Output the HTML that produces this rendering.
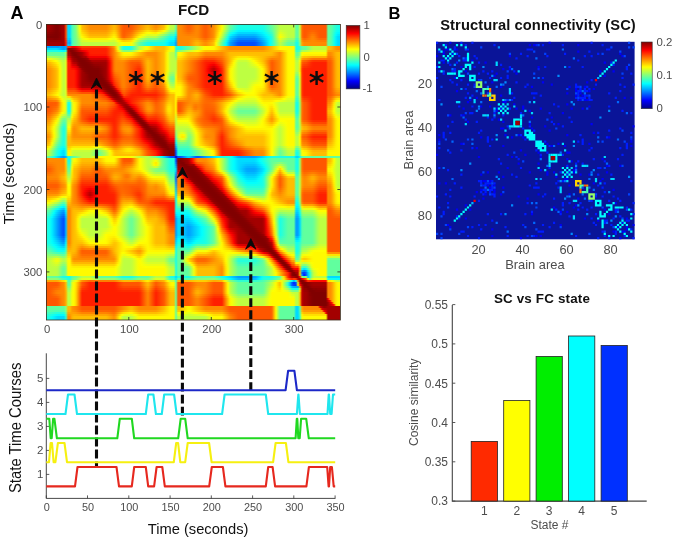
<!DOCTYPE html>
<html><head><meta charset="utf-8"><title>FCD figure</title>
<style>
html,body{margin:0;padding:0;background:#fff;}
body{width:675px;height:540px;overflow:hidden;position:relative;font-family:"Liberation Sans",sans-serif;}
#fcd{position:absolute;left:46px;top:24px;width:294.4px;height:296px;overflow:hidden;}
#fcdi{position:absolute;left:-4px;top:-4px;width:302.4px;height:304px;filter:blur(0.7px);}
#fcdi div{position:absolute;left:0;width:302.4px;height:2px;}
svg{position:absolute;left:0;top:0;}
text{font-family:"Liberation Sans",sans-serif;}
</style></head><body>
<div id="fcd"><div id="fcdi">
<div style="top:0px;background:linear-gradient(90deg,#a30000,#a30000,#a30000,#a30000,#9f0000,#970000,#8e0000,#850000,#840000,#900000,#9d0000,#a30000,#ff4e00,#00dbff,#00dbff,#40ffbf,#61ff9e,#82ff7d,#c2ff3d,#fffb00,#ffbc00,#ffb000,#ffa400,#ff9700,#ff8b00,#ff8a00,#ff8a00,#ff8a00,#ff8a00,#ff8a00,#ff8a00,#ff8a00,#ff8a00,#ff9300,#ff9f00,#ffab00,#ffb800,#ffae00,#ff9500,#ff7c00,#ff6300,#ff5700,#ff5700,#ff5700,#ff5700,#ff5c00,#ff6800,#ff7400,#ff8100,#ff8d00,#ff9a00,#ffa600,#ffb300,#ffba00,#ffae00,#ffa200,#ff9500,#ff8b00,#ff9700,#ffa300,#ffb000,#ffbc00,#ffe400,#f2ff0d,#c9ff36,#bdff42,#bdff42,#61ff9e,#ff8a00,#ff8a00,#ff8100,#ff7400,#ff6800,#ff5c00,#ff5e00,#ff6a00,#ff7700,#ff8300,#ff8400,#ff7800,#ff6b00,#ff5f00,#ff5b00,#ff6700,#ff7300,#ff8000,#ff8e00,#ffaa00,#ffc500,#ffe000,#fffb00,#dbff24,#b4ff4b,#8dff72,#65ff9a,#52ffad,#40ffbf,#2fffd0,#1effe1,#1affe5,#1affe5,#1affe5,#1affe5,#1affe5,#1affe5,#1affe5,#1affe5,#1affe5,#1affe5,#1affe5,#1affe5,#1fffe0,#30ffcf,#42ffbd,#53ffac,#65ff9a,#7bff84,#91ff6e,#a7ff58,#bdff42,#bdff42,#bdff42,#bdff42,#bdff42,#bdff42,#bdff42,#bdff42,#61ff9e,#61ff9e,#c8ff37,#ff6e00,#ff5700,#ff5700,#ff5700,#ff5700,#ff5700,#ff5700,#ff5700,#ff5700,#ff5700,#ff5700,#ff5700,#ff5700,#61ff9e,#61ff9e,#52ffad,#3cffc3,#25ffda,#1affe5,#1affe5,#1affe5,#1affe5)"></div>
<div style="top:2px;background:linear-gradient(90deg,#a30000,#a30000,#a30000,#a30000,#9f0000,#970000,#8e0000,#850000,#840000,#900000,#9d0000,#a30000,#ff4e00,#00dbff,#00dbff,#40ffbf,#61ff9e,#82ff7d,#c2ff3d,#fffb00,#ffbc00,#ffb000,#ffa400,#ff9700,#ff8b00,#ff8a00,#ff8a00,#ff8a00,#ff8a00,#ff8a00,#ff8a00,#ff8a00,#ff8a00,#ff9300,#ff9f00,#ffab00,#ffb800,#ffae00,#ff9500,#ff7c00,#ff6300,#ff5700,#ff5700,#ff5700,#ff5700,#ff5c00,#ff6800,#ff7400,#ff8100,#ff8d00,#ff9a00,#ffa600,#ffb300,#ffba00,#ffae00,#ffa200,#ff9500,#ff8b00,#ff9700,#ffa300,#ffb000,#ffbc00,#ffe400,#f2ff0d,#c9ff36,#bdff42,#bdff42,#61ff9e,#ff8a00,#ff8a00,#ff8100,#ff7400,#ff6800,#ff5c00,#ff5e00,#ff6a00,#ff7700,#ff8300,#ff8400,#ff7800,#ff6b00,#ff5f00,#ff5b00,#ff6700,#ff7300,#ff8000,#ff8e00,#ffaa00,#ffc500,#ffe000,#fffb00,#dbff24,#b4ff4b,#8dff72,#65ff9a,#52ffad,#40ffbf,#2fffd0,#1effe1,#1affe5,#1affe5,#1affe5,#1affe5,#1affe5,#1affe5,#1affe5,#1affe5,#1affe5,#1affe5,#1affe5,#1affe5,#1fffe0,#30ffcf,#42ffbd,#53ffac,#65ff9a,#7bff84,#91ff6e,#a7ff58,#bdff42,#bdff42,#bdff42,#bdff42,#bdff42,#bdff42,#bdff42,#bdff42,#61ff9e,#61ff9e,#c8ff37,#ff6e00,#ff5700,#ff5700,#ff5700,#ff5700,#ff5700,#ff5700,#ff5700,#ff5700,#ff5700,#ff5700,#ff5700,#ff5700,#61ff9e,#61ff9e,#52ffad,#3cffc3,#25ffda,#1affe5,#1affe5,#1affe5,#1affe5)"></div>
<div style="top:4px;background:linear-gradient(90deg,#a30000,#a30000,#a30000,#a30000,#9f0000,#970000,#8e0000,#850000,#840000,#900000,#9d0000,#a30000,#ff4e00,#00dbff,#00dbff,#40ffbf,#61ff9e,#82ff7d,#c2ff3d,#fffb00,#ffbc00,#ffb000,#ffa400,#ff9700,#ff8b00,#ff8a00,#ff8a00,#ff8a00,#ff8a00,#ff8a00,#ff8a00,#ff8a00,#ff8a00,#ff9300,#ff9f00,#ffab00,#ffb800,#ffae00,#ff9500,#ff7c00,#ff6300,#ff5700,#ff5700,#ff5700,#ff5700,#ff5c00,#ff6800,#ff7400,#ff8100,#ff8d00,#ff9a00,#ffa600,#ffb300,#ffba00,#ffae00,#ffa200,#ff9500,#ff8b00,#ff9700,#ffa300,#ffb000,#ffbc00,#ffe400,#f2ff0d,#c9ff36,#bdff42,#bdff42,#61ff9e,#ff8a00,#ff8a00,#ff8100,#ff7400,#ff6800,#ff5c00,#ff5e00,#ff6a00,#ff7700,#ff8300,#ff8400,#ff7800,#ff6b00,#ff5f00,#ff5b00,#ff6700,#ff7300,#ff8000,#ff8e00,#ffaa00,#ffc500,#ffe000,#fffb00,#dbff24,#b4ff4b,#8dff72,#65ff9a,#52ffad,#40ffbf,#2fffd0,#1effe1,#1affe5,#1affe5,#1affe5,#1affe5,#1affe5,#1affe5,#1affe5,#1affe5,#1affe5,#1affe5,#1affe5,#1affe5,#1fffe0,#30ffcf,#42ffbd,#53ffac,#65ff9a,#7bff84,#91ff6e,#a7ff58,#bdff42,#bdff42,#bdff42,#bdff42,#bdff42,#bdff42,#bdff42,#bdff42,#61ff9e,#61ff9e,#c8ff37,#ff6e00,#ff5700,#ff5700,#ff5700,#ff5700,#ff5700,#ff5700,#ff5700,#ff5700,#ff5700,#ff5700,#ff5700,#ff5700,#61ff9e,#61ff9e,#52ffad,#3cffc3,#25ffda,#1affe5,#1affe5,#1affe5,#1affe5)"></div>
<div style="top:6px;background:linear-gradient(90deg,#a30000,#a30000,#a30000,#a30000,#9f0000,#970000,#8e0000,#850000,#840000,#900000,#9d0000,#a30000,#ff4e00,#00dbff,#00dbff,#40ffbf,#61ff9e,#82ff7d,#c2ff3d,#fffb00,#ffbc00,#ffb000,#ffa400,#ff9700,#ff8b00,#ff8a00,#ff8a00,#ff8a00,#ff8a00,#ff8a00,#ff8a00,#ff8a00,#ff8a00,#ff9300,#ff9f00,#ffab00,#ffb800,#ffae00,#ff9500,#ff7c00,#ff6300,#ff5700,#ff5700,#ff5700,#ff5700,#ff5c00,#ff6800,#ff7400,#ff8100,#ff8d00,#ff9a00,#ffa600,#ffb300,#ffba00,#ffae00,#ffa200,#ff9500,#ff8b00,#ff9700,#ffa300,#ffb000,#ffbc00,#ffe400,#f2ff0d,#c9ff36,#bdff42,#bdff42,#61ff9e,#ff8a00,#ff8a00,#ff8100,#ff7400,#ff6800,#ff5c00,#ff5e00,#ff6a00,#ff7700,#ff8300,#ff8400,#ff7800,#ff6b00,#ff5f00,#ff5b00,#ff6700,#ff7300,#ff8000,#ff8e00,#ffaa00,#ffc500,#ffe000,#fffb00,#dbff24,#b4ff4b,#8dff72,#65ff9a,#52ffad,#40ffbf,#2fffd0,#1effe1,#1affe5,#1affe5,#1affe5,#1affe5,#1affe5,#1affe5,#1affe5,#1affe5,#1affe5,#1affe5,#1affe5,#1affe5,#1fffe0,#30ffcf,#42ffbd,#53ffac,#65ff9a,#7bff84,#91ff6e,#a7ff58,#bdff42,#bdff42,#bdff42,#bdff42,#bdff42,#bdff42,#bdff42,#bdff42,#61ff9e,#61ff9e,#c8ff37,#ff6e00,#ff5700,#ff5700,#ff5700,#ff5700,#ff5700,#ff5700,#ff5700,#ff5700,#ff5700,#ff5700,#ff5700,#ff5700,#61ff9e,#61ff9e,#52ffad,#3cffc3,#25ffda,#1affe5,#1affe5,#1affe5,#1affe5)"></div>
<div style="top:8px;background:linear-gradient(90deg,#a20000,#a20000,#a20000,#a20000,#9e0000,#960000,#8d0000,#850000,#840000,#900000,#9d0000,#a30000,#ff4e00,#00dbff,#00dbff,#40ffbf,#61ff9e,#82ff7d,#c1ff3e,#fffd00,#ffbf00,#ffb300,#ffa600,#ff9a00,#ff8d00,#ff8c00,#ff8c00,#ff8c00,#ff8c00,#ff8c00,#ff8c00,#ff8c00,#ff8c00,#ff9500,#ffa200,#ffae00,#ffbb00,#ffb000,#ff9700,#ff7d00,#ff6300,#ff5700,#ff5800,#ff5800,#ff5900,#ff5e00,#ff6b00,#ff7900,#ff8600,#ff9300,#ff9f00,#ffac00,#ffb900,#ffc100,#ffb500,#ffa900,#ff9d00,#ff9300,#ffa000,#ffad00,#ffba00,#ffc700,#ffee00,#e9ff16,#c1ff3e,#b5ff4a,#b5ff4a,#5bffa4,#ff8a00,#ff8a00,#ff8100,#ff7500,#ff6a00,#ff5e00,#ff6000,#ff6c00,#ff7800,#ff8300,#ff8400,#ff7800,#ff6b00,#ff5f00,#ff5b00,#ff6700,#ff7300,#ff8000,#ff8f00,#ffaa00,#ffc600,#ffe200,#ffff00,#d7ff28,#afff50,#87ff78,#5fffa0,#4bffb4,#3affc5,#29ffd6,#18ffe7,#14ffeb,#14ffeb,#14ffeb,#14ffeb,#14ffeb,#14ffeb,#14ffeb,#14ffeb,#14ffeb,#15ffea,#15ffea,#16ffe9,#1cffe3,#2dffd2,#3effc1,#4fffb0,#62ff9d,#7aff85,#91ff6e,#a9ff56,#c0ff3f,#bfff40,#beff41,#beff41,#bdff42,#bdff42,#bdff42,#bdff42,#61ff9e,#61ff9e,#c8ff37,#ff6e00,#ff5700,#ff5700,#ff5800,#ff5800,#ff5900,#ff5900,#ff5800,#ff5700,#ff5700,#ff5700,#ff5700,#ff5700,#61ff9e,#61ff9e,#52ffad,#3affc5,#23ffdc,#17ffe8,#17ffe8,#17ffe8,#17ffe8)"></div>
<div style="top:10px;background:linear-gradient(90deg,#990000,#990000,#990000,#990000,#960000,#900000,#8a0000,#840000,#840000,#900000,#9d0000,#a30000,#ff4e00,#00dbff,#00dbff,#40ffbf,#61ff9e,#7fff80,#bbff44,#f6ff09,#ffce00,#ffc100,#ffb400,#ffa700,#ff9a00,#ff9900,#ff9900,#ff9900,#ff9900,#ff9900,#ff9900,#ff9900,#ff9900,#ffa200,#ffaf00,#ffbc00,#ffc900,#ffbd00,#ffa000,#ff8200,#ff6500,#ff5900,#ff5c00,#ff6000,#ff6300,#ff6c00,#ff7d00,#ff8e00,#ff9e00,#ffae00,#ffbc00,#ffca00,#ffd800,#ffe200,#ffd900,#ffd000,#ffc700,#ffc000,#ffd000,#ffdf00,#ffee00,#fffd00,#deff21,#bbff44,#98ff67,#8dff72,#8dff72,#3affc5,#ff8a00,#ff8a00,#ff8300,#ff7a00,#ff7200,#ff6900,#ff6b00,#ff7300,#ff7c00,#ff8500,#ff8400,#ff7800,#ff6b00,#ff5f00,#ff5b00,#ff6700,#ff7300,#ff8000,#ff8f00,#ffaf00,#ffcf00,#fff000,#eeff11,#c2ff3d,#97ff68,#6bff94,#3fffc0,#2cffd3,#1bffe4,#0bfff4,#00f9ff,#00f5ff,#00f5ff,#00f5ff,#00f5ff,#00f5ff,#00f5ff,#00f5ff,#00f5ff,#00f7ff,#00fbff,#01fffe,#05fffa,#0dfff2,#1effe1,#2effd1,#3fffc0,#52ffad,#72ff8d,#92ff6d,#b3ff4c,#d1ff2e,#ccff33,#c7ff38,#c2ff3d,#bdff42,#bdff42,#bdff42,#bdff42,#61ff9e,#61ff9e,#c8ff37,#ff6e00,#ff5700,#ff5800,#ff5c00,#ff6000,#ff6400,#ff6300,#ff5e00,#ff5a00,#ff5700,#ff5700,#ff5700,#ff5700,#61ff9e,#61ff9e,#4fffb0,#33ffcc,#16ffe9,#08fff7,#08fff7,#08fff7,#08fff7)"></div>
<div style="top:12px;background:linear-gradient(90deg,#900000,#900000,#900000,#900000,#8e0000,#8a0000,#860000,#820000,#840000,#8a0000,#9d0000,#a30000,#ff4e00,#00dbff,#00dbff,#40ffbf,#61ff9e,#7dff82,#b4ff4b,#ebff14,#ffdd00,#ffcf00,#ffc200,#ffb400,#ffa600,#ffa500,#ffa500,#ffa500,#ffa500,#ffa500,#ffa500,#ffa500,#ffa500,#ffaf00,#ffbc00,#ffca00,#ffd800,#ffca00,#ffa900,#ff8800,#ff6700,#ff5a00,#ff6100,#ff6700,#ff6e00,#ff7a00,#ff8e00,#ffa300,#ffb700,#ffca00,#ffd900,#ffe800,#fff700,#fcff03,#fffd00,#fff700,#fff100,#ffed00,#ffff00,#edff12,#dcff23,#caff35,#acff53,#8eff71,#6fff90,#66ff99,#66ff99,#1affe5,#ff8a00,#ff8a00,#ff8500,#ff8000,#ff7a00,#ff7400,#ff7500,#ff7b00,#ff8100,#ff8700,#ff8400,#ff7800,#ff6b00,#ff5f00,#ff5b00,#ff6700,#ff7300,#ff8000,#ff9000,#ffb400,#ffd900,#fffd00,#dcff23,#adff52,#7eff81,#4fffb0,#1fffe0,#0cfff3,#00fbff,#00ebff,#00dbff,#00d7ff,#00d7ff,#00d7ff,#00d7ff,#00d7ff,#00d7ff,#00d7ff,#00d7ff,#00dbff,#00e3ff,#00ebff,#00f2ff,#00fdff,#0efff1,#1effe1,#2effd1,#42ffbd,#6bff94,#93ff6c,#bcff43,#e2ff1d,#d9ff26,#d0ff2f,#c7ff38,#beff41,#bdff42,#bdff42,#bdff42,#61ff9e,#61ff9e,#c8ff37,#ff6e00,#ff5700,#ff5900,#ff6000,#ff6700,#ff6f00,#ff6d00,#ff6500,#ff5d00,#ff5700,#ff5700,#ff5700,#ff5700,#61ff9e,#61ff9e,#4cffb3,#2bffd4,#0afff5,#00f8ff,#00f8ff,#00f8ff,#00f8ff)"></div>
<div style="top:14px;background:linear-gradient(90deg,#870000,#870000,#870000,#870000,#870000,#850000,#830000,#810000,#830000,#890000,#9d0000,#a30000,#ff4e00,#00dbff,#00dbff,#40ffbf,#61ff9e,#7bff84,#aeff51,#e0ff1f,#ffec00,#ffde00,#ffcf00,#ffc100,#ffb200,#ffb100,#ffb100,#ffb100,#ffb100,#ffb100,#ffb100,#ffb100,#ffb100,#ffbc00,#ffca00,#ffd800,#ffe700,#ffd600,#ffb200,#ff8d00,#ff6900,#ff5c00,#ff6500,#ff6f00,#ff7800,#ff8800,#ffa000,#ffb800,#ffd000,#ffe600,#fff600,#f8ff07,#e8ff17,#dbff24,#deff21,#e0ff1f,#e3ff1c,#e4ff1b,#d0ff2f,#bcff43,#a8ff57,#94ff6b,#7aff85,#60ff9f,#46ffb9,#3effc1,#3effc1,#00f9ff,#ff8a00,#ff8a00,#ff8800,#ff8500,#ff8200,#ff7f00,#ff8000,#ff8300,#ff8500,#ff8800,#ff8400,#ff7800,#ff6b00,#ff5f00,#ff5b00,#ff6700,#ff7300,#ff8000,#ff9100,#ffb900,#ffe200,#f4ff0b,#cbff34,#98ff67,#65ff9a,#32ffcd,#00feff,#00ebff,#00dcff,#00cdff,#00bdff,#00b9ff,#00b9ff,#00b9ff,#00b9ff,#00b9ff,#00b9ff,#00b9ff,#00b9ff,#00bfff,#00caff,#00d6ff,#00e1ff,#00eeff,#00fdff,#0efff1,#1dffe2,#32ffcd,#63ff9c,#94ff6b,#c5ff3a,#f4ff0b,#e6ff19,#d9ff26,#cbff34,#beff41,#bdff42,#bdff42,#bdff42,#61ff9e,#61ff9e,#c8ff37,#ff6e00,#ff5700,#ff5900,#ff6400,#ff6f00,#ff7a00,#ff7800,#ff6b00,#ff5f00,#ff5700,#ff5700,#ff5700,#ff5700,#61ff9e,#61ff9e,#49ffb6,#23ffdc,#00fdff,#00e9ff,#00e9ff,#00e9ff,#00e9ff)"></div>
<div style="top:16px;background:linear-gradient(90deg,#810000,#810000,#810000,#810000,#810000,#810000,#810000,#810000,#820000,#8c0000,#9d0000,#a30000,#ff4d00,#00daff,#00daff,#40ffbf,#61ff9e,#79ff86,#a7ff58,#d5ff2a,#fffc00,#ffed00,#ffdf00,#ffd000,#ffc200,#ffc100,#ffc100,#ffc100,#ffc100,#ffc100,#ffc100,#ffc100,#ffc100,#ffcb00,#ffd900,#ffe800,#fff600,#ffe400,#ffbd00,#ff9600,#ff6f00,#ff6100,#ff6e00,#ff7a00,#ff8600,#ff9800,#ffb400,#ffcf00,#ffeb00,#faff05,#e9ff16,#d8ff27,#c6ff39,#b8ff47,#b8ff47,#b8ff47,#b8ff47,#b6ff49,#a1ff5e,#8bff74,#75ff8a,#5fffa0,#4affb5,#34ffcb,#1fffe0,#18ffe7,#18ffe7,#00daff,#ff8a00,#ff8a00,#ff8a00,#ff8a00,#ff8a00,#ff8a00,#ff8a00,#ff8a00,#ff8b00,#ff8b00,#ff8600,#ff7900,#ff6d00,#ff6100,#ff5c00,#ff6800,#ff7500,#ff8100,#ff9300,#ffc000,#ffec00,#e5ff1a,#b8ff47,#82ff7d,#4cffb3,#16ffe9,#00dfff,#00ccff,#00bdff,#00aeff,#009fff,#009cff,#009cff,#009cff,#009cff,#009cff,#009cff,#009cff,#009cff,#00a3ff,#00b2ff,#00c0ff,#00cfff,#00deff,#00eeff,#00fdff,#0dfff2,#24ffdb,#5cffa3,#94ff6b,#ccff33,#fffd00,#f0ff0f,#dfff20,#cdff32,#bcff43,#baff45,#baff45,#baff45,#5fffa0,#5fffa0,#c6ff39,#ff7000,#ff5800,#ff5b00,#ff6900,#ff7600,#ff8400,#ff8100,#ff7200,#ff6300,#ff5800,#ff5800,#ff5800,#ff5800,#61ff9e,#61ff9e,#46ffb9,#1cffe3,#00f1ff,#00dbff,#00dbff,#00dbff,#00dbff)"></div>
<div style="top:18px;background:linear-gradient(90deg,#8d0000,#8d0000,#8d0000,#8d0000,#8d0000,#8d0000,#870000,#860000,#890000,#8f0000,#9c0000,#a30000,#ff3b00,#00d2ff,#00c4ff,#3bffc4,#61ff9e,#75ff8a,#9cff63,#c3ff3c,#e9ff16,#f3ff0c,#fcff03,#fff900,#ffef00,#ffef00,#ffef00,#ffef00,#ffef00,#ffef00,#ffef00,#ffef00,#ffef00,#fff500,#ffff00,#f6ff09,#edff12,#fcff03,#ffe300,#ffc300,#ffa400,#ff9800,#ffa000,#ffa800,#ffaf00,#ffc100,#ffe100,#fdff02,#ddff22,#c2ff3d,#b0ff4f,#9fff60,#8dff72,#7fff80,#7fff80,#7fff80,#7fff80,#7eff81,#70ff8f,#62ff9d,#54ffab,#46ffb9,#32ffcd,#1dffe2,#09fff6,#02fffd,#02fffd,#00c4ff,#ff8a00,#ff8a00,#ff8a00,#ff8a00,#ff8a00,#ff8a00,#ff8c00,#ff9100,#ff9600,#ff9a00,#ff9700,#ff8b00,#ff7f00,#ff7200,#ff6e00,#ff7a00,#ff8600,#ff9300,#ffa500,#ffd500,#f9ff06,#c9ff36,#98ff67,#65ff9a,#32ffcd,#00fdff,#00caff,#00b5ff,#00a5ff,#0094ff,#0084ff,#007fff,#007fff,#007fff,#007fff,#007fff,#007fff,#007fff,#007fff,#0087ff,#0098ff,#00a8ff,#00b9ff,#00cbff,#00dfff,#00f3ff,#09fff6,#23ffdc,#55ffaa,#87ff78,#b9ff46,#e8ff17,#d5ff2a,#c2ff3d,#afff50,#9cff63,#9aff65,#9aff65,#9aff65,#46ffb9,#46ffb9,#b0ff4f,#ff8200,#ff6a00,#ff6c00,#ff7500,#ff7d00,#ff8600,#ff8400,#ff7b00,#ff7100,#ff6a00,#ff6a00,#ff6a00,#ff6a00,#61ff9e,#61ff9e,#46ffb9,#1cffe3,#00f1ff,#00dbff,#00dbff,#00dbff,#00dbff)"></div>
<div style="top:20px;background:linear-gradient(90deg,#990000,#990000,#990000,#990000,#990000,#990000,#980000,#990000,#9a0000,#970000,#9b0000,#a30000,#ff2800,#00c1ff,#00afff,#36ffc9,#61ff9e,#71ff8e,#91ff6e,#b1ff4e,#d1ff2e,#d5ff2a,#d9ff26,#ddff22,#e1ff1e,#e1ff1e,#e1ff1e,#e1ff1e,#e1ff1e,#e1ff1e,#e1ff1e,#e1ff1e,#e1ff1e,#deff21,#daff25,#d6ff29,#d2ff2d,#dfff20,#f6ff09,#fff000,#ffd900,#ffcf00,#ffd200,#ffd500,#ffd900,#ffe900,#f0ff0f,#ccff33,#a8ff57,#89ff76,#78ff87,#66ff99,#55ffaa,#47ffb8,#47ffb8,#47ffb8,#47ffb8,#46ffb9,#40ffbf,#3affc5,#34ffcb,#2dffd2,#1affe5,#07fff8,#00f2ff,#00ecff,#00ecff,#00afff,#ff8a00,#ff8a00,#ff8a00,#ff8a00,#ff8a00,#ff8a00,#ff8f00,#ff9800,#ffa100,#ffaa00,#ffa900,#ff9d00,#ff9000,#ff8400,#ff8000,#ff8c00,#ff9800,#ffa400,#ffb800,#ffeb00,#dfff20,#acff53,#79ff86,#48ffb7,#17ffe8,#00e5ff,#00b4ff,#009fff,#008cff,#007aff,#0068ff,#0063ff,#0063ff,#0063ff,#0063ff,#0063ff,#0063ff,#0063ff,#0063ff,#006cff,#007eff,#0090ff,#00a3ff,#00b7ff,#00d1ff,#00eaff,#05fffa,#21ffde,#4effb1,#7aff85,#a6ff59,#d0ff2f,#bbff44,#a6ff59,#91ff6e,#7cff83,#7aff85,#7aff85,#7aff85,#2dffd2,#2dffd2,#99ff66,#ff9400,#ff7c00,#ff7d00,#ff8000,#ff8400,#ff8800,#ff8700,#ff8300,#ff7f00,#ff7c00,#ff7c00,#ff7c00,#ff7c00,#61ff9e,#61ff9e,#46ffb9,#1cffe3,#00f1ff,#00dbff,#00dbff,#00dbff,#00dbff)"></div>
<div style="top:22px;background:linear-gradient(90deg,#a30000,#a30000,#a30000,#a30000,#a30000,#a30000,#a30000,#a30000,#a30000,#a30000,#a30000,#a30000,#ff1d00,#00b3ff,#009fff,#32ffcd,#61ff9e,#6eff91,#89ff76,#a3ff5c,#bdff42,#bdff42,#bdff42,#bdff42,#bdff42,#bdff42,#bdff42,#bdff42,#bdff42,#bdff42,#bdff42,#bdff42,#bdff42,#bdff42,#bdff42,#bdff42,#bdff42,#c7ff38,#d9ff26,#eaff15,#fbff04,#fffa00,#fffa00,#fffa00,#fffa00,#f4ff0b,#cdff32,#a5ff5a,#7dff82,#5cffa3,#4bffb4,#39ffc6,#28ffd7,#1affe5,#1affe5,#1affe5,#1affe5,#1affe5,#1affe5,#1affe5,#1affe5,#1affe5,#07fff8,#00f4ff,#00e1ff,#00dbff,#00dbff,#009eff,#ff8a00,#ff8a00,#ff8a00,#ff8a00,#ff8a00,#ff8a00,#ff9100,#ff9d00,#ffaa00,#ffb600,#ffb700,#ffab00,#ff9e00,#ff9200,#ff8e00,#ff9a00,#ffa600,#ffb300,#ffc600,#fffc00,#ccff33,#95ff6a,#5fffa0,#31ffce,#02fffd,#00d2ff,#00a3ff,#008dff,#0079ff,#0065ff,#0051ff,#004dff,#004dff,#004dff,#004dff,#004dff,#004dff,#004dff,#004dff,#0056ff,#0069ff,#007dff,#0091ff,#00a8ff,#00c5ff,#00e3ff,#01fffe,#21ffde,#48ffb7,#6fff90,#97ff68,#bcff43,#a6ff59,#90ff6f,#79ff86,#63ff9c,#61ff9e,#61ff9e,#61ff9e,#1affe5,#1affe5,#87ff78,#ffa300,#ff8a00,#ff8a00,#ff8a00,#ff8a00,#ff8a00,#ff8a00,#ff8a00,#ff8a00,#ff8a00,#ff8a00,#ff8a00,#ff8a00,#61ff9e,#61ff9e,#46ffb9,#1cffe3,#00f1ff,#00dbff,#00dbff,#00dbff,#00dbff)"></div>
<div style="top:24px;background:linear-gradient(90deg,#a30000,#a30000,#a30000,#a30000,#a30000,#a30000,#a30000,#a30000,#a30000,#a30000,#a30000,#a30000,#ff1b00,#00cbff,#00b8ff,#43ffbc,#6cff93,#6eff91,#89ff76,#a3ff5c,#bdff42,#bdff42,#bdff42,#bdff42,#bdff42,#bdff42,#bdff42,#bdff42,#bdff42,#bdff42,#bdff42,#bdff42,#bdff42,#bdff42,#bdff42,#bdff42,#bdff42,#c7ff38,#d9ff26,#eaff15,#fbff04,#fffa00,#fffa00,#fffa00,#fffa00,#f4ff0b,#cdff32,#a5ff5a,#7dff82,#5cffa3,#4bffb4,#39ffc6,#28ffd7,#1affe5,#1affe5,#1affe5,#1affe5,#1affe5,#1affe5,#1affe5,#1affe5,#1affe5,#07fff8,#00f4ff,#00e1ff,#00dbff,#00dbff,#009eff,#ff8a00,#ff8a00,#ff8a00,#ff8a00,#ff8a00,#ff8a00,#ff9100,#ff9d00,#ffaa00,#ffb600,#ffb700,#ffab00,#ff9e00,#ff9200,#ff8e00,#ff9a00,#ffa600,#ffb300,#ffc600,#fffc00,#ccff33,#95ff6a,#5fffa0,#31ffce,#02fffd,#00d2ff,#00a3ff,#008dff,#0079ff,#0065ff,#0051ff,#004dff,#004dff,#004dff,#004dff,#004dff,#004dff,#004dff,#004dff,#0056ff,#0069ff,#007dff,#0091ff,#00a8ff,#00c5ff,#00e3ff,#01fffe,#21ffde,#48ffb7,#6fff90,#97ff68,#bcff43,#a6ff59,#90ff6f,#79ff86,#63ff9c,#61ff9e,#61ff9e,#61ff9e,#1affe5,#1affe5,#87ff78,#ffa300,#ff8a00,#ff8a00,#ff8a00,#ff8a00,#ff8a00,#ff8a00,#ff8a00,#ff8a00,#ff8a00,#ff8a00,#ff8a00,#ff8a00,#61ff9e,#61ff9e,#46ffb9,#1cffe3,#00f1ff,#00dbff,#00dbff,#00dbff,#00dbff)"></div>
<div style="top:26px;background:linear-gradient(90deg,#009bff,#009bff,#009bff,#009bff,#009bff,#009bff,#009bff,#009bff,#0096ff,#00a9ff,#00a0ff,#009cff,#00abff,#ff3000,#ff2f00,#f80000,#f80000,#ff0300,#ff1700,#ff2b00,#ff3f00,#ff3f00,#ff3f00,#ff3f00,#ff3f00,#ff3f00,#ff3f00,#ff3f00,#ff3f00,#ff3f00,#ff3f00,#ff3f00,#ff3f00,#ff4e00,#ff6400,#ff7a00,#ff9000,#ffca00,#e3ff1c,#93ff6c,#42ffbd,#1affe5,#1affe5,#1affe5,#1affe5,#29ffd6,#51ffae,#79ff86,#a0ff5f,#c2ff3d,#d3ff2c,#e4ff1b,#f6ff09,#fff700,#ffe800,#ffd900,#ffca00,#ffbd00,#ffbd00,#ffbd00,#ffbd00,#ffbd00,#ffcf00,#ffe100,#fff400,#fffa00,#fffa00,#1affe5,#1affe5,#1affe5,#26ffd9,#38ffc7,#49ffb6,#5affa5,#6eff91,#84ff7b,#9bff64,#b1ff4e,#c5ff3a,#d6ff29,#e7ff18,#f8ff07,#fffa00,#fffa00,#fffa00,#fffa00,#fff700,#ffe900,#ffda00,#ffcb00,#ffbc00,#ffb000,#ffa400,#ff9700,#ff8b00,#ff8a00,#ff8a00,#ff8a00,#ff8a00,#ff8a00,#ff8a00,#ff8a00,#ff8a00,#ff8a00,#ff8a00,#ff8a00,#ff8a00,#ff8a00,#ff8a00,#ff8a00,#ff8a00,#ff8e00,#ff9a00,#ffa600,#ffb300,#ffbf00,#ffce00,#ffdd00,#ffec00,#fffa00,#fffa00,#fffa00,#fffa00,#fffa00,#fffa00,#fffa00,#fffa00,#1affe5,#1affe5,#30ffcf,#5cffa3,#61ff9e,#67ff98,#80ff7f,#99ff66,#b2ff4d,#bdff42,#bdff42,#bdff42,#bdff42,#bdff42,#bdff42,#bdff42,#ffbd00,#ffbd00,#ffb200,#ffa200,#ff9200,#ff8a00,#ff8a00,#ff8a00,#ff8a00)"></div>
<div style="top:28px;background:linear-gradient(90deg,#00dbff,#00dbff,#00dbff,#00dbff,#00dbff,#00dbff,#00dbff,#00dbff,#00d4ff,#00bfff,#00aaff,#00a0ff,#00b8ff,#9a0000,#8f0000,#970000,#a30000,#b50000,#d80000,#fb0000,#ff1f00,#ff1f00,#ff1f00,#ff1f00,#ff1f00,#ff1f00,#ff1f00,#ff1f00,#ff1f00,#ff1f00,#ff1f00,#ff1f00,#ff1f00,#ff3100,#ff4b00,#ff6500,#ff7f00,#ffbd00,#edff12,#98ff67,#44ffbb,#1affe5,#1affe5,#1affe5,#1affe5,#29ffd6,#51ffae,#79ff86,#a0ff5f,#c2ff3d,#d3ff2c,#e4ff1b,#f6ff09,#fff700,#ffe800,#ffd900,#ffca00,#ffbd00,#ffbd00,#ffbd00,#ffbd00,#ffbd00,#ffcf00,#ffe100,#fff400,#fffa00,#fffa00,#1affe5,#1affe5,#1affe5,#26ffd9,#38ffc7,#49ffb6,#5affa5,#6eff91,#84ff7b,#9bff64,#b1ff4e,#c5ff3a,#d6ff29,#e7ff18,#f8ff07,#fffa00,#fffa00,#fffa00,#fffa00,#fff700,#ffe900,#ffda00,#ffcb00,#ffbc00,#ffb000,#ffa400,#ff9700,#ff8b00,#ff8a00,#ff8a00,#ff8a00,#ff8a00,#ff8a00,#ff8a00,#ff8a00,#ff8a00,#ff8a00,#ff8a00,#ff8a00,#ff8a00,#ff8a00,#ff8a00,#ff8a00,#ff8a00,#ff8e00,#ff9a00,#ffa600,#ffb300,#ffbf00,#ffce00,#ffdd00,#ffec00,#fffa00,#fffa00,#fffa00,#fffa00,#fffa00,#fffa00,#fffa00,#fffa00,#1affe5,#1affe5,#30ffcf,#5cffa3,#61ff9e,#67ff98,#80ff7f,#99ff66,#b2ff4d,#bdff42,#bdff42,#bdff42,#bdff42,#bdff42,#bdff42,#bdff42,#ffbd00,#ffbd00,#ffb200,#ffa200,#ff9200,#ff8a00,#ff8a00,#ff8a00,#ff8a00)"></div>
<div style="top:30px;background:linear-gradient(90deg,#1affe5,#1affe5,#1affe5,#1affe5,#1affe5,#1affe5,#1affe5,#1affe5,#16ffe9,#0afff5,#00feff,#00f8ff,#25ffda,#a30000,#8c0000,#840000,#8e0000,#9f0000,#b60000,#ce0000,#e50000,#f30000,#ff0200,#ff1000,#ff1e00,#ff1f00,#ff1f00,#ff1f00,#ff1f00,#ff1f00,#ff1f00,#ff1f00,#ff1f00,#ff3100,#ff4b00,#ff6500,#ff7f00,#ffad00,#ffe700,#ddff22,#a3ff5c,#86ff79,#86ff79,#86ff79,#86ff79,#91ff6e,#adff52,#caff35,#e6ff19,#feff01,#fff100,#ffe100,#ffd200,#ffc500,#ffbd00,#ffb500,#ffad00,#ffa600,#ffab00,#ffb100,#ffb700,#ffbd00,#ffd900,#fff500,#ecff13,#e3ff1c,#e3ff1c,#3bffc4,#86ff79,#86ff79,#92ff6d,#a2ff5d,#b2ff4d,#c2ff3d,#d0ff2f,#dcff23,#e8ff17,#f4ff0b,#fffd00,#ffee00,#ffdf00,#ffd000,#ffc600,#ffc600,#ffc600,#ffc600,#ffc500,#ffbd00,#ffb500,#ffad00,#ffa500,#ffa400,#ffa300,#ffa200,#ffa100,#ffa100,#ffa100,#ffa100,#ffa100,#ffa100,#ffa100,#ffa100,#ffa100,#ffa100,#ffa100,#ffa100,#ffa100,#ffa100,#ffa100,#ffa100,#ffa100,#ffa300,#ffaa00,#ffb100,#ffb700,#ffbd00,#ffbf00,#ffc200,#ffc400,#ffc600,#ffd300,#ffe000,#ffec00,#fff900,#fffa00,#fffa00,#fffa00,#3bffc4,#3bffc4,#5fffa0,#a4ff5b,#acff53,#b0ff4f,#bdff42,#caff35,#d8ff27,#deff21,#deff21,#deff21,#deff21,#deff21,#deff21,#deff21,#ffa500,#ffa500,#ffa400,#ffa300,#ffa200,#ffa100,#ffa100,#ffa100,#ffa100)"></div>
<div style="top:32px;background:linear-gradient(90deg,#61ff9e,#61ff9e,#61ff9e,#61ff9e,#61ff9e,#61ff9e,#61ff9e,#61ff9e,#61ff9e,#61ff9e,#61ff9e,#61ff9e,#a1ff5e,#a30000,#9f0000,#830000,#800000,#850000,#8f0000,#990000,#a40000,#c20000,#e00000,#fd0000,#ff1c00,#ff1f00,#ff1f00,#ff1f00,#ff1f00,#ff1f00,#ff1f00,#ff1f00,#ff1f00,#ff3100,#ff4b00,#ff6500,#ff7f00,#ff9a00,#ffb600,#ffd100,#ffec00,#fffa00,#fffa00,#fffa00,#fffa00,#fff400,#ffe500,#ffd600,#ffc700,#ffb900,#ffad00,#ffa000,#ff9400,#ff8a00,#ff8a00,#ff8a00,#ff8a00,#ff8b00,#ff9700,#ffa300,#ffb000,#ffbc00,#ffe400,#f2ff0d,#c9ff36,#bdff42,#bdff42,#61ff9e,#fffa00,#fffa00,#ffef00,#ffe000,#ffd100,#ffc300,#ffbd00,#ffbd00,#ffbd00,#ffbd00,#ffb700,#ffab00,#ff9e00,#ff9200,#ff8a00,#ff8a00,#ff8a00,#ff8a00,#ff8a00,#ff8a00,#ff8a00,#ff8a00,#ff8a00,#ff9600,#ffa300,#ffaf00,#ffbb00,#ffbd00,#ffbd00,#ffbd00,#ffbd00,#ffbd00,#ffbd00,#ffbd00,#ffbd00,#ffbd00,#ffbd00,#ffbd00,#ffbd00,#ffbd00,#ffbd00,#ffbd00,#ffbd00,#ffbd00,#ffbd00,#ffbd00,#ffbd00,#ffba00,#ffae00,#ffa200,#ff9600,#ff8b00,#ffa600,#ffc100,#ffdc00,#fff700,#fffa00,#fffa00,#fffa00,#61ff9e,#61ff9e,#95ff6a,#f8ff07,#fffa00,#fffa00,#fffa00,#fffa00,#fffa00,#fffa00,#fffa00,#fffa00,#fffa00,#fffa00,#fffa00,#fffa00,#ff8a00,#ff8a00,#ff9400,#ffa400,#ffb400,#ffbd00,#ffbd00,#ffbd00,#ffbd00)"></div>
<div style="top:34px;background:linear-gradient(90deg,#6dff92,#6dff92,#6dff92,#6dff92,#6dff92,#6cff93,#6bff94,#6aff95,#69ff96,#68ff97,#67ff98,#66ff99,#92ff6d,#aa0000,#aa0000,#8b0000,#810000,#800000,#8b0000,#980000,#a20000,#bf0000,#db0000,#f80000,#ff1600,#ff1800,#ff1800,#ff1800,#ff1800,#ff1800,#ff1800,#ff1800,#ff1800,#ff2c00,#ff4700,#ff6300,#ff7f00,#ff9900,#ffb300,#ffcd00,#ffe700,#fff300,#fff300,#fff200,#fff100,#ffeb00,#ffdd00,#ffcf00,#ffc100,#ffb400,#ffaa00,#ff9f00,#ff9500,#ff8c00,#ff8c00,#ff8b00,#ff8a00,#ff8b00,#ff9700,#ffa300,#ffb000,#ffbc00,#ffe400,#f2ff0d,#c9ff36,#bdff42,#bdff42,#66ff99,#fff700,#fff700,#ffec00,#ffdd00,#ffce00,#ffc000,#ffba00,#ffb900,#ffb800,#ffb800,#ffb100,#ffa500,#ff9900,#ff8c00,#ff8400,#ff8400,#ff8400,#ff8400,#ff8400,#ff8500,#ff8500,#ff8600,#ff8700,#ff9400,#ffa100,#ffae00,#ffbb00,#ffbe00,#ffc000,#ffc200,#ffc300,#ffc400,#ffc400,#ffc400,#ffc400,#ffc300,#ffc200,#ffc100,#ffc100,#ffc000,#ffbf00,#ffbe00,#ffbd00,#ffbc00,#ffbb00,#ffba00,#ffb800,#ffb500,#ffaa00,#ff9f00,#ff9400,#ff8b00,#ffa600,#ffc100,#ffdc00,#fff700,#fffa00,#fffa00,#fffa00,#66ff99,#66ff99,#9bff64,#fffd00,#fff100,#fff100,#fff000,#ffef00,#ffee00,#ffee00,#ffee00,#ffee00,#ffee00,#ffee00,#ffee00,#ffee00,#ff8700,#ff8700,#ff9200,#ffa300,#ffb400,#ffbd00,#ffbd00,#ffbd00,#ffbd00)"></div>
<div style="top:36px;background:linear-gradient(90deg,#adff52,#adff52,#adff52,#adff52,#aaff55,#a5ff5a,#a0ff5f,#9bff64,#95ff6a,#8dff72,#84ff7b,#80ff7f,#aaff55,#cc0000,#cc0000,#9b0000,#8c0000,#820000,#800000,#880000,#980000,#a70000,#a90000,#dc0000,#f30000,#f40000,#f40000,#f40000,#f40000,#f40000,#f40000,#f40000,#f40000,#ff0f00,#ff3300,#ff5700,#ff7b00,#ff9500,#ffa700,#ffb900,#ffcb00,#ffd200,#ffce00,#ffca00,#ffc500,#ffbf00,#ffb500,#ffab00,#ffa100,#ff9a00,#ff9a00,#ff9b00,#ff9b00,#ff9a00,#ff9600,#ff9200,#ff8e00,#ff8b00,#ff9700,#ffa300,#ffb000,#ffbc00,#ffe400,#f2ff0d,#c9ff36,#bdff42,#bdff42,#80ff7f,#ffe500,#ffe500,#ffdb00,#ffcd00,#ffbf00,#ffb100,#ffa900,#ffa500,#ffa100,#ff9d00,#ff9400,#ff8800,#ff7b00,#ff6e00,#ff6600,#ff6600,#ff6600,#ff6600,#ff6600,#ff6b00,#ff7000,#ff7400,#ff7900,#ff8900,#ff9a00,#ffaa00,#ffbb00,#ffc600,#ffd100,#ffdc00,#ffe700,#ffe900,#ffe900,#ffe900,#ffe900,#ffe600,#ffe000,#ffda00,#ffd400,#ffcf00,#ffca00,#ffc500,#ffc000,#ffba00,#ffb200,#ffa900,#ffa100,#ff9a00,#ff9600,#ff9200,#ff8e00,#ff8b00,#ffa600,#ffc100,#ffdc00,#fff700,#fffa00,#fffa00,#fffa00,#80ff7f,#80ff7f,#bbff44,#ffd000,#ffc300,#ffc200,#ffbc00,#ffb700,#ffb200,#ffb000,#ffb000,#ffb000,#ffb000,#ffb000,#ffb000,#ffb000,#ff7900,#ff7900,#ff8600,#ff9c00,#ffb100,#ffbd00,#ffbd00,#ffbd00,#ffbd00)"></div>
<div style="top:38px;background:linear-gradient(90deg,#ecff13,#ecff13,#ecff13,#ecff13,#e8ff17,#dfff20,#d5ff2a,#ccff33,#c1ff3e,#b1ff4e,#a2ff5d,#9aff65,#c2ff3d,#ef0000,#ef0000,#ac0000,#960000,#900000,#810000,#800000,#840000,#890000,#900000,#9d0000,#d00000,#d20000,#d20000,#d20000,#d20000,#d20000,#d20000,#d20000,#d20000,#f10000,#ff1f00,#ff4c00,#ff7800,#ff9000,#ff9a00,#ffa500,#ffaf00,#ffb000,#ffa900,#ffa100,#ff9900,#ff9200,#ff8d00,#ff8700,#ff8100,#ff8100,#ff8b00,#ff9600,#ffa100,#ffa800,#ffa000,#ff9900,#ff9100,#ff8b00,#ff9700,#ffa300,#ffb000,#ffbc00,#ffe400,#f2ff0d,#c9ff36,#bdff42,#bdff42,#9aff65,#ffd400,#ffd400,#ffca00,#ffbd00,#ffb000,#ffa200,#ff9800,#ff9100,#ff8900,#ff8200,#ff7700,#ff6a00,#ff5d00,#ff5000,#ff4700,#ff4700,#ff4700,#ff4700,#ff4900,#ff5100,#ff5a00,#ff6200,#ff6b00,#ff7f00,#ff9300,#ffa700,#ffbb00,#ffce00,#ffe200,#fff600,#f4ff0b,#efff10,#efff10,#efff10,#efff10,#f6ff09,#fffe00,#fff300,#ffe800,#ffde00,#ffd500,#ffcc00,#ffc300,#ffb800,#ffa900,#ff9900,#ff8a00,#ff7e00,#ff8100,#ff8400,#ff8700,#ff8b00,#ffa600,#ffc100,#ffdc00,#fff700,#fffa00,#fffa00,#fffa00,#9aff65,#9aff65,#dcff23,#ffa400,#ff9500,#ff9200,#ff8900,#ff8000,#ff7600,#ff7200,#ff7200,#ff7200,#ff7200,#ff7200,#ff7200,#ff7200,#ff6a00,#ff6a00,#ff7b00,#ff9500,#ffaf00,#ffbd00,#ffbd00,#ffbd00,#ffbd00)"></div>
<div style="top:40px;background:linear-gradient(90deg,#ffd300,#ffd300,#ffd300,#ffd300,#ffd900,#ffe600,#fff300,#fdff02,#edff12,#d6ff29,#c0ff3f,#b4ff4b,#d9ff26,#ff1300,#ff1300,#bc0000,#a00000,#9b0000,#8a0000,#800000,#800000,#810000,#860000,#8e0000,#990000,#af0000,#af0000,#af0000,#af0000,#af0000,#af0000,#af0000,#af0000,#d50000,#ff0b00,#ff4000,#ff7500,#ff8b00,#ff8e00,#ff9100,#ff9300,#ff8f00,#ff8400,#ff7900,#ff6d00,#ff6600,#ff6500,#ff6300,#ff6200,#ff6700,#ff7c00,#ff9100,#ffa600,#ffb600,#ffaa00,#ff9f00,#ff9400,#ff8b00,#ff9700,#ffa300,#ffb000,#ffbc00,#ffe400,#f2ff0d,#c9ff36,#bdff42,#bdff42,#b4ff4b,#ffc300,#ffc300,#ffb900,#ffad00,#ffa000,#ff9400,#ff8800,#ff7d00,#ff7200,#ff6700,#ff5a00,#ff4d00,#ff4000,#ff3200,#ff2900,#ff2900,#ff2900,#ff2900,#ff2b00,#ff3700,#ff4400,#ff5000,#ff5c00,#ff7400,#ff8b00,#ffa300,#ffba00,#ffd600,#fff300,#eeff11,#d1ff2e,#caff35,#caff35,#caff35,#caff35,#d3ff2c,#e3ff1c,#f2ff0d,#fffc00,#ffee00,#ffe000,#ffd300,#ffc600,#ffb600,#ff9f00,#ff8900,#ff7300,#ff6200,#ff6c00,#ff7600,#ff8000,#ff8b00,#ffa600,#ffc100,#ffdc00,#fff700,#fffa00,#fffa00,#fffa00,#b4ff4b,#b4ff4b,#fcff03,#ff7700,#ff6700,#ff6300,#ff5500,#ff4800,#ff3a00,#ff3400,#ff3400,#ff3400,#ff3400,#ff3400,#ff3400,#ff3400,#ff5c00,#ff5c00,#ff6f00,#ff8e00,#ffad00,#ffbd00,#ffbd00,#ffbd00,#ffbd00)"></div>
<div style="top:42px;background:linear-gradient(90deg,#ffb500,#ffb500,#ffb500,#ffb500,#ffbb00,#ffca00,#ffd800,#ffe700,#fffa00,#e8ff17,#ccff33,#bdff42,#e1ff1e,#ff1f00,#ff1f00,#d00000,#b70000,#af0000,#960000,#840000,#800000,#800000,#810000,#850000,#8c0000,#950000,#9e0000,#9e0000,#9e0000,#9f0000,#a00000,#a10000,#a30000,#cb0000,#ff0400,#ff3c00,#ff7400,#ff8a00,#ff8a00,#ff8a00,#ff8a00,#ff8300,#ff7700,#ff6b00,#ff5e00,#ff5600,#ff5400,#ff5200,#ff4f00,#ff5600,#ff7100,#ff8c00,#ffa700,#ffba00,#ffae00,#ffa200,#ff9500,#ff8b00,#ff9700,#ffa300,#ffb000,#ffbc00,#ffe400,#f2ff0d,#c9ff36,#bdff42,#bdff42,#bdff42,#ffbd00,#ffbd00,#ffb400,#ffa700,#ff9b00,#ff8f00,#ff8200,#ff7600,#ff6a00,#ff5d00,#ff5000,#ff4300,#ff3500,#ff2800,#ff1d00,#ff1800,#ff1400,#ff0f00,#ff0e00,#ff1e00,#ff2e00,#ff3e00,#ff4f00,#ff6c00,#ff8900,#ffa600,#ffc300,#ffe100,#fffe00,#e2ff1d,#c4ff3b,#bdff42,#bdff42,#bdff42,#bdff42,#c6ff39,#d4ff2b,#e3ff1c,#f1ff0e,#fffe00,#ffef00,#ffe000,#ffd100,#ffbe00,#ffa300,#ff8800,#ff6d00,#ff5900,#ff6500,#ff7200,#ff7e00,#ff8b00,#ffa600,#ffc100,#ffdc00,#fff700,#fffa00,#fffa00,#fffa00,#bdff42,#bdff42,#fff400,#ff6000,#ff4e00,#ff4b00,#ff3e00,#ff3100,#ff2400,#ff1f00,#ff1f00,#ff1f00,#ff1f00,#ff1f00,#ff1f00,#ff1f00,#ff5700,#ff5700,#ff6b00,#ff8c00,#ffac00,#ffbd00,#ffbd00,#ffbd00,#ffbd00)"></div>
<div style="top:44px;background:linear-gradient(90deg,#ffa800,#ffa800,#ffa800,#ffa800,#ffaf00,#ffbd00,#ffca00,#ffd800,#ffed00,#f0ff0f,#ceff31,#bdff42,#e1ff1e,#ff1f00,#ff1f00,#e60000,#d40000,#ca0000,#9b0000,#890000,#820000,#800000,#800000,#810000,#850000,#8a0000,#910000,#950000,#950000,#980000,#9b0000,#9f0000,#a20000,#cb0000,#ff0400,#ff3c00,#ff7400,#ff8a00,#ff8a00,#ff8a00,#ff8a00,#ff8300,#ff7700,#ff6b00,#ff5e00,#ff5500,#ff4f00,#ff4a00,#ff4400,#ff4900,#ff6700,#ff8600,#ffa400,#ffba00,#ffae00,#ffa200,#ff9500,#ff8b00,#ff9700,#ffa300,#ffb000,#ffbc00,#ffe400,#f2ff0d,#c9ff36,#bdff42,#bdff42,#bdff42,#ffbd00,#ffbd00,#ffb400,#ffa700,#ff9b00,#ff8f00,#ff8200,#ff7600,#ff6a00,#ff5d00,#ff5000,#ff4300,#ff3500,#ff2800,#ff1b00,#ff0f00,#ff0300,#f70000,#f00000,#ff0500,#ff1900,#ff2d00,#ff4200,#ff6500,#ff8900,#ffad00,#ffd100,#ffec00,#f8ff07,#ddff22,#c3ff3c,#bdff42,#bdff42,#bdff42,#bdff42,#c3ff3c,#cdff32,#d8ff27,#e2ff1d,#efff10,#ffff00,#ffef00,#ffe000,#ffcb00,#ffad00,#ff8e00,#ff7000,#ff5900,#ff6500,#ff7200,#ff7e00,#ff8b00,#ffa600,#ffc100,#ffdc00,#fff700,#fffa00,#fffa00,#fffa00,#bdff42,#bdff42,#fff000,#ff5300,#ff4000,#ff3e00,#ff3500,#ff2c00,#ff2300,#ff1f00,#ff1f00,#ff1f00,#ff1f00,#ff1f00,#ff1f00,#ff1f00,#ff5700,#ff5700,#ff6b00,#ff8c00,#ffac00,#ffbd00,#ffbd00,#ffbd00,#ffbd00)"></div>
<div style="top:46px;background:linear-gradient(90deg,#ff9c00,#ff9c00,#ff9c00,#ff9c00,#ffa200,#ffaf00,#ffbd00,#ffca00,#ffe000,#f8ff07,#d1ff2e,#bdff42,#e1ff1e,#ff1f00,#ff1f00,#fc0000,#f10000,#e40000,#ca0000,#920000,#870000,#820000,#800000,#800000,#810000,#840000,#890000,#8c0000,#8c0000,#910000,#960000,#9c0000,#a20000,#cb0000,#ff0400,#ff3c00,#ff7400,#ff8a00,#ff8a00,#ff8a00,#ff8a00,#ff8300,#ff7700,#ff6b00,#ff5e00,#ff5300,#ff4b00,#ff4200,#ff3900,#ff3d00,#ff5e00,#ff8000,#ffa100,#ffba00,#ffae00,#ffa200,#ff9500,#ff8b00,#ff9700,#ffa300,#ffb000,#ffbc00,#ffe400,#f2ff0d,#c9ff36,#bdff42,#bdff42,#bdff42,#ffbd00,#ffbd00,#ffb400,#ffa700,#ff9b00,#ff8f00,#ff8200,#ff7600,#ff6a00,#ff5d00,#ff5000,#ff4300,#ff3500,#ff2800,#ff1900,#ff0600,#f20000,#df0000,#d40000,#eb0000,#ff0400,#ff1c00,#ff3400,#ff5f00,#ff8a00,#ffb400,#ffdf00,#fff800,#f0ff0f,#d9ff26,#c2ff3d,#bdff42,#bdff42,#bdff42,#bdff42,#c0ff3f,#c7ff38,#cdff32,#d3ff2c,#deff21,#eeff11,#ffff00,#ffef00,#ffd900,#ffb700,#ff9500,#ff7300,#ff5900,#ff6500,#ff7200,#ff7e00,#ff8b00,#ffa600,#ffc100,#ffdc00,#fff700,#fffa00,#fffa00,#fffa00,#bdff42,#bdff42,#ffec00,#ff4700,#ff3300,#ff3200,#ff2c00,#ff2700,#ff2100,#ff1f00,#ff1f00,#ff1f00,#ff1f00,#ff1f00,#ff1f00,#ff1f00,#ff5700,#ff5700,#ff6b00,#ff8c00,#ffac00,#ffbd00,#ffbd00,#ffbd00,#ffbd00)"></div>
<div style="top:48px;background:linear-gradient(90deg,#ff9000,#ff9000,#ff9000,#ff9000,#ff9600,#ffa200,#ffaf00,#ffbc00,#ffd300,#ffff00,#d4ff2b,#bdff42,#e1ff1e,#ff1f00,#ff1f00,#ff1300,#ff1000,#fe0000,#de0000,#be0000,#8f0000,#860000,#810000,#800000,#800000,#810000,#830000,#840000,#840000,#8a0000,#920000,#990000,#a10000,#cb0000,#ff0400,#ff3c00,#ff7400,#ff8a00,#ff8a00,#ff8a00,#ff8a00,#ff8300,#ff7700,#ff6b00,#ff5e00,#ff5200,#ff4600,#ff3a00,#ff2e00,#ff3000,#ff5500,#ff7a00,#ff9f00,#ffba00,#ffae00,#ffa200,#ff9500,#ff8b00,#ff9700,#ffa300,#ffb000,#ffbc00,#ffe400,#f2ff0d,#c9ff36,#bdff42,#bdff42,#bdff42,#ffbd00,#ffbd00,#ffb400,#ffa700,#ff9b00,#ff8f00,#ff8200,#ff7600,#ff6a00,#ff5d00,#ff5000,#ff4300,#ff3500,#ff2800,#ff1600,#fb0000,#e10000,#c70000,#b70000,#d20000,#ee0000,#ff0b00,#ff2700,#ff5900,#ff8a00,#ffbc00,#ffed00,#fbff04,#e8ff17,#d5ff2a,#c1ff3e,#bdff42,#bdff42,#bdff42,#bdff42,#beff41,#c0ff3f,#c2ff3d,#c4ff3b,#cdff32,#deff21,#efff10,#fffe00,#ffe600,#ffc100,#ff9b00,#ff7600,#ff5900,#ff6500,#ff7200,#ff7e00,#ff8b00,#ffa600,#ffc100,#ffdc00,#fff700,#fffa00,#fffa00,#fffa00,#bdff42,#bdff42,#ffe700,#ff3a00,#ff2500,#ff2500,#ff2300,#ff2100,#ff1f00,#ff1f00,#ff1f00,#ff1f00,#ff1f00,#ff1f00,#ff1f00,#ff1f00,#ff5700,#ff5700,#ff6b00,#ff8c00,#ffac00,#ffbd00,#ffbd00,#ffbd00,#ffbd00)"></div>
<div style="top:50px;background:linear-gradient(90deg,#ff8a00,#ff8a00,#ff8a00,#ff8a00,#ff8f00,#ff9c00,#ffa800,#ffb500,#ffcd00,#fffb00,#d5ff2a,#bdff42,#e1ff1e,#ff1f00,#ff1f00,#ff1f00,#ff1f00,#ff0c00,#e80000,#c50000,#a30000,#8d0000,#850000,#810000,#800000,#800000,#800000,#800000,#800000,#870000,#8f0000,#980000,#a10000,#ca0000,#ff0100,#ff3800,#ff6e00,#ff8500,#ff8600,#ff8700,#ff8900,#ff8300,#ff7700,#ff6b00,#ff5e00,#ff5100,#ff4400,#ff3600,#ff2800,#ff2a00,#ff5000,#ff7700,#ff9d00,#ffba00,#ffac00,#ff9e00,#ff9000,#ff8500,#ff9300,#ffa000,#ffae00,#ffbc00,#ffe700,#ebff14,#bfff40,#b2ff4d,#b2ff4d,#c5ff3a,#ffbd00,#ffbd00,#ffb200,#ffa500,#ff9700,#ff8900,#ff7d00,#ff7200,#ff6700,#ff5d00,#ff5000,#ff4300,#ff3500,#ff2800,#ff1600,#fb0000,#e10000,#c70000,#b60000,#d00000,#ea0000,#ff0500,#ff2000,#ff5500,#ff8a00,#ffbf00,#fff400,#f5ff0a,#e4ff1b,#d2ff2d,#c1ff3e,#bdff42,#bdff42,#bdff42,#bdff42,#bdff42,#bdff42,#bdff42,#bdff42,#c5ff3a,#d6ff29,#e7ff18,#f8ff07,#ffed00,#ffc600,#ff9e00,#ff7700,#ff5900,#ff6500,#ff7200,#ff7e00,#ff8b00,#ffa600,#ffc100,#ffdc00,#fff700,#fffa00,#fffa00,#fffa00,#b2ff4d,#b2ff4d,#ffed00,#ff3500,#ff1f00,#ff1f00,#ff1f00,#ff1f00,#ff1f00,#ff1f00,#ff1f00,#ff1f00,#ff1f00,#ff1f00,#ff1f00,#ff1f00,#ff5700,#ff5700,#ff6b00,#ff8c00,#ffac00,#ffbd00,#ffbd00,#ffbd00,#ffbd00)"></div>
<div style="top:52px;background:linear-gradient(90deg,#ff8a00,#ff8a00,#ff8a00,#ff8a00,#ff8f00,#ff9c00,#ffa800,#ffb500,#ffcd00,#fffb00,#d5ff2a,#bdff42,#e1ff1e,#ff1f00,#ff1f00,#ff1f00,#ff1f00,#ff0c00,#e80000,#c50000,#a30000,#9a0000,#8a0000,#840000,#800000,#800000,#800000,#800000,#800000,#870000,#8f0000,#980000,#a10000,#c80000,#fb0000,#ff3000,#ff6300,#ff7a00,#ff7f00,#ff8300,#ff8700,#ff8300,#ff7700,#ff6b00,#ff5e00,#ff5100,#ff4400,#ff3600,#ff2800,#ff2a00,#ff5000,#ff7700,#ff9d00,#ffba00,#ffa900,#ff9800,#ff8700,#ff7900,#ff8a00,#ff9a00,#ffab00,#ffbc00,#ffee00,#deff21,#abff54,#9cff63,#9cff63,#d6ff29,#ffbd00,#ffbd00,#ffb000,#ffa000,#ff8f00,#ff7e00,#ff7300,#ff6b00,#ff6300,#ff5b00,#ff5000,#ff4300,#ff3500,#ff2800,#ff1900,#ff0600,#f20000,#df0000,#d20000,#e50000,#f80000,#ff0c00,#ff2000,#ff5500,#ff8a00,#ffbf00,#fff400,#f5ff0a,#e4ff1b,#d2ff2d,#c1ff3e,#bdff42,#bdff42,#bdff42,#bdff42,#bdff42,#bdff42,#bdff42,#bdff42,#c5ff3a,#d6ff29,#e7ff18,#f8ff07,#ffed00,#ffc600,#ff9e00,#ff7700,#ff5900,#ff6500,#ff7200,#ff7e00,#ff8b00,#ffa600,#ffc100,#ffdc00,#fff700,#fffa00,#fffa00,#fffa00,#9cff63,#9cff63,#fffc00,#ff3600,#ff1f00,#ff1f00,#ff1f00,#ff1f00,#ff1f00,#ff1f00,#ff1f00,#ff1f00,#ff1f00,#ff1f00,#ff1f00,#ff1f00,#ff5700,#ff5700,#ff6b00,#ff8c00,#ffac00,#ffbd00,#ffbd00,#ffbd00,#ffbd00)"></div>
<div style="top:54px;background:linear-gradient(90deg,#ff8a00,#ff8a00,#ff8a00,#ff8a00,#ff8f00,#ff9c00,#ffa800,#ffb500,#ffcd00,#fffb00,#d5ff2a,#bdff42,#e1ff1e,#ff1f00,#ff1f00,#ff1f00,#ff1f00,#ff0c00,#e80000,#c50000,#a30000,#9a0000,#920000,#890000,#800000,#800000,#800000,#800000,#800000,#840000,#8a0000,#980000,#a10000,#c60000,#f60000,#ff2800,#ff5800,#ff7000,#ff7700,#ff7f00,#ff8600,#ff8300,#ff7700,#ff6b00,#ff5e00,#ff5100,#ff4400,#ff3600,#ff2800,#ff2a00,#ff5000,#ff7700,#ff9d00,#ffb900,#ffa500,#ff9100,#ff7d00,#ff6d00,#ff8100,#ff9400,#ffa800,#ffbc00,#fff400,#d1ff2e,#98ff67,#86ff79,#86ff79,#e8ff17,#ffbd00,#ffbd00,#ffae00,#ff9a00,#ff8700,#ff7300,#ff6800,#ff6300,#ff5e00,#ff5900,#ff5000,#ff4300,#ff3500,#ff2800,#ff1b00,#ff0f00,#ff0300,#f60000,#ef0000,#fa0000,#ff0700,#ff1300,#ff2000,#ff5500,#ff8a00,#ffbf00,#fff400,#f5ff0a,#e4ff1b,#d2ff2d,#c1ff3e,#bdff42,#bdff42,#bdff42,#bdff42,#bdff42,#bdff42,#bdff42,#bdff42,#c5ff3a,#d6ff29,#e7ff18,#f8ff07,#ffed00,#ffc600,#ff9e00,#ff7700,#ff5900,#ff6500,#ff7200,#ff7e00,#ff8b00,#ffa600,#ffc100,#ffdc00,#fff700,#fffa00,#fffa00,#fffa00,#86ff79,#86ff79,#f3ff0c,#ff3800,#ff1f00,#ff1f00,#ff1f00,#ff1f00,#ff1f00,#ff1f00,#ff1f00,#ff1f00,#ff1f00,#ff1f00,#ff1f00,#ff1f00,#ff5700,#ff5700,#ff6b00,#ff8c00,#ffac00,#ffbd00,#ffbd00,#ffbd00,#ffbd00)"></div>
<div style="top:56px;background:linear-gradient(90deg,#ff8a00,#ff8a00,#ff8a00,#ff8a00,#ff8f00,#ff9c00,#ffa800,#ffb500,#ffcd00,#fffb00,#d5ff2a,#bdff42,#e1ff1e,#ff1f00,#ff1f00,#ff1f00,#ff1f00,#ff0c00,#e80000,#c50000,#a30000,#9a0000,#920000,#890000,#800000,#800000,#800000,#800000,#800000,#810000,#860000,#940000,#a10000,#c30000,#f10000,#ff1f00,#ff4d00,#ff6500,#ff7000,#ff7a00,#ff8400,#ff8300,#ff7700,#ff6b00,#ff5e00,#ff5100,#ff4400,#ff3600,#ff2800,#ff2a00,#ff5000,#ff7700,#ff9d00,#ffb900,#ffa200,#ff8b00,#ff7400,#ff6100,#ff7700,#ff8e00,#ffa500,#ffbc00,#fffb00,#c3ff3c,#84ff7b,#70ff8f,#70ff8f,#f9ff06,#ffbd00,#ffbd00,#ffac00,#ff9500,#ff7f00,#ff6800,#ff5e00,#ff5c00,#ff5a00,#ff5800,#ff5000,#ff4300,#ff3500,#ff2800,#ff1d00,#ff1800,#ff1400,#ff0f00,#ff0c00,#ff1100,#ff1500,#ff1a00,#ff2000,#ff5500,#ff8a00,#ffbf00,#fff400,#f5ff0a,#e4ff1b,#d2ff2d,#c1ff3e,#bdff42,#bdff42,#bdff42,#bdff42,#bdff42,#bdff42,#bdff42,#bdff42,#c5ff3a,#d6ff29,#e7ff18,#f8ff07,#ffed00,#ffc600,#ff9e00,#ff7700,#ff5900,#ff6500,#ff7200,#ff7e00,#ff8b00,#ffa600,#ffc100,#ffdc00,#fff700,#fffa00,#fffa00,#fffa00,#70ff8f,#70ff8f,#e4ff1b,#ff3900,#ff1f00,#ff1f00,#ff1f00,#ff1f00,#ff1f00,#ff1f00,#ff1f00,#ff1f00,#ff1f00,#ff1f00,#ff1f00,#ff1f00,#ff5700,#ff5700,#ff6b00,#ff8c00,#ffac00,#ffbd00,#ffbd00,#ffbd00,#ffbd00)"></div>
<div style="top:58px;background:linear-gradient(90deg,#ff8a00,#ff8a00,#ff8a00,#ff8a00,#ff8f00,#ff9c00,#ffa800,#ffb500,#ffcd00,#fffb00,#d5ff2a,#bdff42,#e1ff1e,#ff1f00,#ff1f00,#ff1f00,#ff1f00,#ff0c00,#e80000,#c50000,#a30000,#9b0000,#930000,#8b0000,#830000,#820000,#820000,#810000,#800000,#800000,#820000,#8b0000,#9e0000,#bf0000,#ea0000,#ff1600,#ff4100,#ff5a00,#ff6800,#ff7500,#ff8300,#ff8300,#ff7700,#ff6b00,#ff5e00,#ff5100,#ff4400,#ff3600,#ff2800,#ff2900,#ff4f00,#ff7400,#ff9a00,#ffb400,#ff9c00,#ff8500,#ff6d00,#ff5900,#ff7000,#ff8800,#ffa000,#ffb800,#fffa00,#c1ff3e,#7dff82,#68ff97,#68ff97,#fffa00,#ffc200,#ffc200,#ffaf00,#ff9600,#ff7e00,#ff6500,#ff5a00,#ff5900,#ff5800,#ff5700,#ff5000,#ff4300,#ff3500,#ff2800,#ff1f00,#ff1f00,#ff1f00,#ff1f00,#ff1f00,#ff1f00,#ff1f00,#ff1f00,#ff2000,#ff5400,#ff8800,#ffbc00,#ffef00,#f9ff06,#e6ff19,#d4ff2b,#c1ff3e,#bdff42,#bdff42,#bdff42,#bdff42,#beff41,#bfff40,#c0ff3f,#c2ff3d,#caff35,#daff25,#eaff15,#f9ff06,#ffed00,#ffc600,#ff9e00,#ff7700,#ff5900,#ff6500,#ff7200,#ff7e00,#ff8b00,#ffa600,#ffc100,#ffdc00,#fff700,#fffa00,#fffa00,#fffa00,#61ff9e,#61ff9e,#daff25,#ff3a00,#ff1f00,#ff1f00,#ff1f00,#ff1f00,#ff1f00,#ff1f00,#ff1f00,#ff1f00,#ff1f00,#ff1f00,#ff1f00,#ff1f00,#ff5700,#ff5700,#ff6b00,#ff8c00,#ffac00,#ffbd00,#ffbd00,#ffbd00,#ffbd00)"></div>
<div style="top:60px;background:linear-gradient(90deg,#ff8a00,#ff8a00,#ff8a00,#ff8a00,#ff8f00,#ff9c00,#ffa800,#ffb500,#ffcd00,#fffb00,#d5ff2a,#bdff42,#e1ff1e,#ff1f00,#ff1f00,#ff1f00,#ff1f00,#ff0c00,#e80000,#c50000,#a30000,#9d0000,#970000,#910000,#8b0000,#8b0000,#890000,#840000,#820000,#800000,#800000,#840000,#900000,#a90000,#d50000,#ff0a00,#ff3400,#ff4f00,#ff6000,#ff7000,#ff8100,#ff8300,#ff7700,#ff6b00,#ff5e00,#ff5100,#ff4400,#ff3600,#ff2800,#ff2900,#ff4b00,#ff6e00,#ff9000,#ffa900,#ff9400,#ff7f00,#ff6a00,#ff5800,#ff6d00,#ff8200,#ff9700,#ffac00,#ffeb00,#d3ff2c,#92ff6d,#7eff81,#7eff81,#fffa00,#ffd000,#ffd000,#ffbd00,#ffa400,#ff8b00,#ff7100,#ff6500,#ff6100,#ff5d00,#ff5900,#ff5000,#ff4300,#ff3500,#ff2800,#ff1f00,#ff1f00,#ff1f00,#ff1f00,#ff1f00,#ff1f00,#ff1f00,#ff1f00,#ff2000,#ff5000,#ff8100,#ffb100,#ffe100,#fffa00,#eeff11,#d8ff27,#c2ff3d,#bdff42,#bdff42,#bdff42,#bdff42,#c0ff3f,#c6ff39,#cbff34,#d1ff2e,#d9ff26,#e5ff1a,#f0ff0f,#fcff03,#ffed00,#ffc600,#ff9e00,#ff7700,#ff5900,#ff6500,#ff7200,#ff7e00,#ff8b00,#ffa600,#ffc100,#ffdc00,#fff700,#fffa00,#fffa00,#fffa00,#61ff9e,#61ff9e,#daff25,#ff3a00,#ff1f00,#ff1f00,#ff1f00,#ff1f00,#ff1f00,#ff1f00,#ff1f00,#ff1f00,#ff1f00,#ff1f00,#ff1f00,#ff1f00,#ff5700,#ff5700,#ff6b00,#ff8c00,#ffac00,#ffbd00,#ffbd00,#ffbd00,#ffbd00)"></div>
<div style="top:62px;background:linear-gradient(90deg,#ff8a00,#ff8a00,#ff8a00,#ff8a00,#ff8f00,#ff9c00,#ffa800,#ffb500,#ffcd00,#fffb00,#d5ff2a,#bdff42,#e1ff1e,#ff1f00,#ff1f00,#ff1f00,#ff1f00,#ff0c00,#e80000,#c50000,#a30000,#9f0000,#9b0000,#980000,#940000,#940000,#920000,#8f0000,#890000,#830000,#800000,#800000,#850000,#950000,#b40000,#ea0000,#ff2700,#ff4300,#ff5700,#ff6c00,#ff8000,#ff8300,#ff7700,#ff6b00,#ff5e00,#ff5100,#ff4400,#ff3600,#ff2800,#ff2800,#ff4700,#ff6700,#ff8600,#ff9d00,#ff8b00,#ff7900,#ff6700,#ff5800,#ff6a00,#ff7c00,#ff8e00,#ffa000,#ffdc00,#e5ff1a,#a8ff57,#94ff6b,#94ff6b,#fffa00,#ffdf00,#ffdf00,#ffcc00,#ffb200,#ff9800,#ff7e00,#ff6f00,#ff6800,#ff6100,#ff5a00,#ff5000,#ff4300,#ff3500,#ff2800,#ff1f00,#ff1f00,#ff1f00,#ff1f00,#ff1f00,#ff1f00,#ff1f00,#ff1f00,#ff2000,#ff4d00,#ff7900,#ffa600,#ffd300,#ffee00,#f6ff09,#ddff22,#c3ff3c,#bdff42,#bdff42,#bdff42,#bdff42,#c3ff3c,#ccff33,#d6ff29,#e0ff1f,#e8ff17,#f0ff0f,#f7ff08,#ffff00,#ffed00,#ffc600,#ff9e00,#ff7700,#ff5900,#ff6500,#ff7200,#ff7e00,#ff8b00,#ffa600,#ffc100,#ffdc00,#fff700,#fffa00,#fffa00,#fffa00,#61ff9e,#61ff9e,#daff25,#ff3a00,#ff1f00,#ff1f00,#ff1f00,#ff1f00,#ff1f00,#ff1f00,#ff1f00,#ff1f00,#ff1f00,#ff1f00,#ff1f00,#ff1f00,#ff5700,#ff5700,#ff6b00,#ff8c00,#ffac00,#ffbd00,#ffbd00,#ffbd00,#ffbd00)"></div>
<div style="top:64px;background:linear-gradient(90deg,#ff8a00,#ff8a00,#ff8a00,#ff8a00,#ff8f00,#ff9c00,#ffa800,#ffb500,#ffcd00,#fffb00,#d5ff2a,#bdff42,#e1ff1e,#ff1f00,#ff1f00,#ff1f00,#ff1f00,#ff0c00,#e80000,#c50000,#a30000,#a10000,#a00000,#9e0000,#9c0000,#9c0000,#9c0000,#9c0000,#990000,#8d0000,#840000,#800000,#800000,#870000,#9a0000,#c00000,#ff1a00,#ff3800,#ff4f00,#ff6700,#ff7e00,#ff8300,#ff7700,#ff6b00,#ff5e00,#ff5100,#ff4400,#ff3600,#ff2800,#ff2700,#ff4300,#ff6000,#ff7c00,#ff9100,#ff8200,#ff7300,#ff6400,#ff5800,#ff6700,#ff7600,#ff8500,#ff9300,#ffcd00,#f7ff08,#bdff42,#aaff55,#aaff55,#fffa00,#ffee00,#ffee00,#ffda00,#ffbf00,#ffa500,#ff8a00,#ff7a00,#ff7000,#ff6600,#ff5c00,#ff5000,#ff4300,#ff3500,#ff2800,#ff1f00,#ff1f00,#ff1f00,#ff1f00,#ff1f00,#ff1f00,#ff1f00,#ff1f00,#ff2000,#ff4900,#ff7200,#ff9b00,#ffc400,#ffe300,#feff01,#e1ff1e,#c4ff3b,#bdff42,#bdff42,#bdff42,#bdff42,#c5ff3a,#d3ff2c,#e1ff1e,#efff10,#f8ff07,#fbff04,#feff01,#fffc00,#ffed00,#ffc600,#ff9e00,#ff7700,#ff5900,#ff6500,#ff7200,#ff7e00,#ff8b00,#ffa600,#ffc100,#ffdc00,#fff700,#fffa00,#fffa00,#fffa00,#61ff9e,#61ff9e,#daff25,#ff3a00,#ff1f00,#ff1f00,#ff1f00,#ff1f00,#ff1f00,#ff1f00,#ff1f00,#ff1f00,#ff1f00,#ff1f00,#ff1f00,#ff1f00,#ff5700,#ff5700,#ff6b00,#ff8c00,#ffac00,#ffbd00,#ffbd00,#ffbd00,#ffbd00)"></div>
<div style="top:66px;background:linear-gradient(90deg,#ff8c00,#ff8c00,#ff8c00,#ff8c00,#ff9100,#ff9e00,#ffab00,#ffb700,#ffcf00,#fffc00,#d5ff2a,#bdff42,#e1ff1e,#ff2300,#ff2300,#ff2300,#ff2300,#ff1200,#ef0000,#ce0000,#ad0000,#ad0000,#ad0000,#ad0000,#ad0000,#ac0000,#ac0000,#ab0000,#ab0000,#a30000,#910000,#850000,#800000,#800000,#880000,#a00000,#cd0000,#ff2800,#ff4400,#ff5f00,#ff7a00,#ff8100,#ff7500,#ff6800,#ff5c00,#ff4f00,#ff4200,#ff3500,#ff2800,#ff2600,#ff3f00,#ff5800,#ff7100,#ff8300,#ff7700,#ff6b00,#ff5f00,#ff5500,#ff6200,#ff6e00,#ff7b00,#ff8700,#ffbd00,#fff400,#d3ff2c,#c2ff3d,#c2ff3d,#fffa00,#fffa00,#fffa00,#ffe600,#ffcb00,#ffb000,#ff9500,#ff8300,#ff7800,#ff6c00,#ff6100,#ff5500,#ff4700,#ff3900,#ff2b00,#ff2100,#ff2000,#ff2000,#ff1f00,#ff1f00,#ff1f00,#ff1f00,#ff1f00,#ff2000,#ff4500,#ff6a00,#ff8f00,#ffb400,#ffd500,#fff400,#eaff15,#caff35,#c2ff3d,#c1ff3e,#c1ff3e,#c0ff3f,#caff35,#daff25,#ebff14,#fbff04,#fffa00,#fff900,#fff800,#fff800,#ffeb00,#ffc500,#ffa000,#ff7a00,#ff5d00,#ff6800,#ff7400,#ff7f00,#ff8b00,#ffa600,#ffc100,#ffdc00,#fff700,#fffa00,#fffa00,#fffa00,#61ff9e,#61ff9e,#daff25,#ff3a00,#ff1f00,#ff1f00,#ff1f00,#ff1f00,#ff1f00,#ff1f00,#ff1f00,#ff1f00,#ff1f00,#ff1f00,#ff1f00,#ff1f00,#ff5700,#ff5700,#ff6b00,#ff8b00,#ffaa00,#ffbb00,#ffbb00,#ffbb00,#ffbb00)"></div>
<div style="top:68px;background:linear-gradient(90deg,#ff9800,#ff9800,#ff9800,#ff9800,#ff9e00,#ffab00,#ffb800,#ffc500,#ffdc00,#faff05,#d2ff2d,#bdff42,#deff21,#ff3d00,#ff3d00,#ff3d00,#ff3d00,#ff3000,#ff1700,#fc0000,#e40000,#e40000,#e40000,#e40000,#e40000,#e10000,#dd0000,#da0000,#d60000,#c90000,#ad0000,#960000,#860000,#800000,#800000,#8a0000,#a60000,#da0000,#ff2800,#ff4900,#ff6b00,#ff7500,#ff6800,#ff5b00,#ff4f00,#ff4300,#ff3900,#ff2f00,#ff2600,#ff2400,#ff3700,#ff4900,#ff5c00,#ff6a00,#ff6100,#ff5800,#ff4f00,#ff4800,#ff5500,#ff6100,#ff6e00,#ff7b00,#ffab00,#ffdc00,#f1ff0e,#e2ff1d,#e2ff1d,#fffa00,#fffa00,#fffa00,#ffe600,#ffcb00,#ffb000,#ff9500,#ff8600,#ff8100,#ff7c00,#ff7600,#ff6c00,#ff5b00,#ff4b00,#ff3a00,#ff2e00,#ff2a00,#ff2600,#ff2200,#ff1f00,#ff1f00,#ff1f00,#ff1f00,#ff2000,#ff3f00,#ff5e00,#ff7d00,#ff9c00,#ffbb00,#ffd800,#fff600,#eaff15,#dfff20,#dbff24,#d7ff28,#d2ff2d,#d8ff27,#e5ff1a,#f1ff0e,#fdff02,#fff800,#fff400,#fff000,#ffeb00,#ffe000,#ffc300,#ffa700,#ff8b00,#ff7400,#ff7a00,#ff7f00,#ff8500,#ff8b00,#ffa600,#ffc100,#ffdc00,#fff700,#fffa00,#fffa00,#fffa00,#61ff9e,#61ff9e,#daff25,#ff3a00,#ff1f00,#ff1f00,#ff1f00,#ff1f00,#ff1f00,#ff1f00,#ff1f00,#ff1f00,#ff1f00,#ff1f00,#ff1f00,#ff1f00,#ff5700,#ff5700,#ff6800,#ff8400,#ffa000,#ffae00,#ffae00,#ffae00,#ffae00)"></div>
<div style="top:70px;background:linear-gradient(90deg,#ffa400,#ffa400,#ffa400,#ffa400,#ffab00,#ffb800,#ffc600,#ffd400,#ffe900,#f2ff0d,#cfff30,#bdff42,#dcff23,#ff5700,#ff5700,#ff5700,#ff5700,#ff4e00,#ff3d00,#ff2c00,#ff1c00,#ff1c00,#ff1c00,#ff1c00,#ff1c00,#ff1600,#ff1000,#ff0900,#ff0300,#f70000,#db0000,#b70000,#9a0000,#880000,#800000,#810000,#8c0000,#ac0000,#e70000,#ff3300,#ff5b00,#ff6900,#ff5b00,#ff4e00,#ff4100,#ff3700,#ff3000,#ff2a00,#ff2300,#ff2200,#ff2f00,#ff3b00,#ff4800,#ff5100,#ff4b00,#ff4500,#ff3f00,#ff3a00,#ff4700,#ff5500,#ff6200,#ff6f00,#ff9900,#ffc400,#ffef00,#fffc00,#fffc00,#fffa00,#fffa00,#fffa00,#ffe600,#ffcb00,#ffb000,#ff9400,#ff8a00,#ff8a00,#ff8b00,#ff8b00,#ff8300,#ff6f00,#ff5c00,#ff4900,#ff3a00,#ff3300,#ff2c00,#ff2500,#ff1f00,#ff1f00,#ff1f00,#ff1f00,#ff2000,#ff3900,#ff5200,#ff6b00,#ff8500,#ffa000,#ffbd00,#ffd900,#fff500,#fcff03,#f4ff0b,#edff12,#e5ff1a,#e7ff18,#efff10,#f7ff08,#fffe00,#fff600,#ffef00,#ffe700,#ffdf00,#ffd400,#ffc100,#ffae00,#ff9b00,#ff8c00,#ff8b00,#ff8b00,#ff8a00,#ff8b00,#ffa600,#ffc100,#ffdc00,#fff700,#fffa00,#fffa00,#fffa00,#61ff9e,#61ff9e,#daff25,#ff3a00,#ff1f00,#ff1f00,#ff1f00,#ff1f00,#ff1f00,#ff1f00,#ff1f00,#ff1f00,#ff1f00,#ff1f00,#ff1f00,#ff1f00,#ff5700,#ff5700,#ff6600,#ff7e00,#ff9600,#ffa200,#ffa200,#ffa200,#ffa200)"></div>
<div style="top:72px;background:linear-gradient(90deg,#ffb100,#ffb100,#ffb100,#ffb100,#ffb700,#ffc500,#ffd400,#ffe200,#fff600,#eaff15,#cdff32,#bdff42,#daff25,#ff7000,#ff7000,#ff7000,#ff7000,#ff6c00,#ff6400,#ff5b00,#ff5300,#ff5300,#ff5300,#ff5300,#ff5300,#ff4b00,#ff4100,#ff3800,#ff2e00,#ff2200,#ff1600,#ef0000,#c10000,#9f0000,#890000,#800000,#810000,#8e0000,#b50000,#fc0000,#ff4c00,#ff5c00,#ff4f00,#ff4100,#ff3400,#ff2b00,#ff2700,#ff2400,#ff2100,#ff2000,#ff2700,#ff2d00,#ff3300,#ff3700,#ff3500,#ff3200,#ff2f00,#ff2d00,#ff3a00,#ff4800,#ff5500,#ff6300,#ff8700,#ffac00,#ffd100,#ffdc00,#ffdc00,#fffa00,#fffa00,#fffa00,#ffe600,#ffcb00,#ffaf00,#ff9400,#ff8d00,#ff9300,#ff9900,#ff9f00,#ff9800,#ff8300,#ff6d00,#ff5800,#ff4700,#ff3d00,#ff3300,#ff2900,#ff2100,#ff2000,#ff2000,#ff1f00,#ff2000,#ff3300,#ff4600,#ff5900,#ff6d00,#ff8600,#ffa100,#ffbb00,#ffd600,#ffe500,#fff000,#fffb00,#f8ff07,#f6ff09,#faff05,#feff01,#fffc00,#fff500,#ffe900,#ffde00,#ffd300,#ffc800,#ffbf00,#ffb600,#ffac00,#ffa300,#ff9d00,#ff9600,#ff9000,#ff8b00,#ffa600,#ffc100,#ffdc00,#fff700,#fffa00,#fffa00,#fffa00,#61ff9e,#61ff9e,#daff25,#ff3a00,#ff1f00,#ff1f00,#ff1f00,#ff1f00,#ff1f00,#ff1f00,#ff1f00,#ff1f00,#ff1f00,#ff1f00,#ff1f00,#ff1f00,#ff5700,#ff5700,#ff6400,#ff7700,#ff8b00,#ff9600,#ff9600,#ff9600,#ff9600)"></div>
<div style="top:74px;background:linear-gradient(90deg,#ffbc00,#ffbc00,#ffbc00,#ffbc00,#ffc300,#ffd200,#ffe100,#fff000,#fcff03,#e3ff1c,#caff35,#bdff42,#d7ff28,#ff8b00,#ff8b00,#ff8a00,#ff8a00,#ff8a00,#ff8a00,#ff8a00,#ff8a00,#ff8a00,#ff8a00,#ff8a00,#ff8a00,#ff7e00,#ff7200,#ff6600,#ff5900,#ff4c00,#ff3e00,#ff3100,#ff0300,#cc0000,#a30000,#8a0000,#800000,#840000,#970000,#c40000,#ff1600,#ff4f00,#ff4200,#ff3400,#ff2700,#ff1f00,#ff1f00,#ff1f00,#ff1f00,#ff1f00,#ff1f00,#ff1f00,#ff1f00,#ff1f00,#ff1f00,#ff1f00,#ff1f00,#ff2000,#ff2e00,#ff3b00,#ff4900,#ff5700,#ff7600,#ff9600,#ffb400,#ffbd00,#ffbd00,#fffa00,#fff900,#fff900,#ffe500,#ffca00,#ffaf00,#ff9400,#ff9000,#ff9c00,#ffa700,#ffb100,#ffab00,#ff9300,#ff7c00,#ff6600,#ff5300,#ff4700,#ff3b00,#ff2f00,#ff2400,#ff2300,#ff2200,#ff2100,#ff2100,#ff2e00,#ff3b00,#ff4800,#ff5600,#ff6d00,#ff8600,#ff9e00,#ffb700,#ffc800,#ffd700,#ffe600,#fff400,#fffa00,#fffa00,#fffa00,#fffa00,#fff300,#ffe400,#ffd600,#ffc700,#ffbd00,#ffbd00,#ffbd00,#ffbd00,#ffbb00,#ffae00,#ffa200,#ff9600,#ff8b00,#ffa600,#ffc100,#ffdc00,#fff700,#fffa00,#fffa00,#fffa00,#61ff9e,#61ff9e,#daff25,#ff3b00,#ff1f00,#ff1f00,#ff1f00,#ff1f00,#ff1f00,#ff1f00,#ff1f00,#ff1f00,#ff1f00,#ff1f00,#ff1f00,#ff1f00,#ff5700,#ff5700,#ff6100,#ff7200,#ff8200,#ff8a00,#ff8a00,#ff8a00,#ff8a00)"></div>
<div style="top:76px;background:linear-gradient(90deg,#ffa400,#ffa400,#ffa400,#ffa400,#ffa900,#ffb400,#ffbf00,#ffcb00,#ffdd00,#fffe00,#dfff20,#ceff31,#d7ff28,#ffde00,#ffde00,#ffb300,#ffa500,#ffa100,#ff9900,#ff9100,#ff8a00,#ff8a00,#ff8a00,#ff8a00,#ff8a00,#ff8100,#ff7800,#ff6e00,#ff6500,#ff5b00,#ff5000,#ff4600,#ff3c00,#ff1700,#d60000,#a70000,#8e0000,#870000,#8d0000,#a20000,#d60000,#ff2a00,#ff2700,#ff2400,#ff2000,#ff2000,#ff2300,#ff2700,#ff2a00,#ff2d00,#ff3000,#ff3400,#ff3700,#ff3900,#ff3600,#ff3300,#ff3000,#ff2e00,#ff3b00,#ff4800,#ff5500,#ff6400,#ff8100,#ff9e00,#ffb800,#ffbe00,#ffbd00,#fffa00,#ffd200,#ffd200,#ffc500,#ffb300,#ffa200,#ff9000,#ff9000,#ff9a00,#ffa400,#ffad00,#ffa700,#ff9200,#ff7e00,#ff6c00,#ff5e00,#ff5600,#ff4e00,#ff4500,#ff3e00,#ff4000,#ff4100,#ff4400,#ff4600,#ff5300,#ff6100,#ff6f00,#ff7d00,#ff9300,#ffaa00,#ffc000,#ffd700,#ffe500,#fff100,#fffc00,#f7ff08,#f3ff0c,#f3ff0c,#f3ff0c,#f3ff0c,#faff05,#fff500,#ffe500,#ffd600,#ffcc00,#ffcc00,#ffcc00,#ffcc00,#ffcb00,#ffc600,#ffc000,#ffbb00,#ffb700,#ffcc00,#ffe000,#fff500,#f5ff0a,#f3ff0c,#f3ff0c,#f3ff0c,#50ffaf,#50ffaf,#caff35,#ff4800,#ff2c00,#ff2b00,#ff2800,#ff2400,#ff2000,#ff1f00,#ff1f00,#ff1f00,#ff1f00,#ff1f00,#ff1f00,#ff1f00,#ff6300,#ff6300,#ff7400,#ff8e00,#ffa900,#ffb600,#ffb600,#ffb600,#ffb600)"></div>
<div style="top:78px;background:linear-gradient(90deg,#ff8b00,#ff8b00,#ff8b00,#ff8b00,#ff8f00,#ff9600,#ff9e00,#ffa600,#ffb900,#ffe100,#f5ff0a,#dfff20,#d6ff29,#ccff33,#ccff33,#ffdc00,#ffc000,#ffb800,#ffa800,#ff9900,#ff8a00,#ff8a00,#ff8a00,#ff8a00,#ff8a00,#ff8400,#ff7d00,#ff7700,#ff7100,#ff6a00,#ff6300,#ff5c00,#ff5400,#ff4000,#ff2600,#e20000,#b20000,#970000,#900000,#960000,#ae0000,#e90000,#ff0b00,#ff1300,#ff1a00,#ff2100,#ff2800,#ff2e00,#ff3500,#ff3c00,#ff4200,#ff4900,#ff5000,#ff5400,#ff4f00,#ff4800,#ff4100,#ff3c00,#ff4800,#ff5500,#ff6200,#ff7100,#ff8d00,#ffa900,#ffbd00,#ffc000,#ffbd00,#fffa00,#ffab00,#ffab00,#ffa500,#ff9c00,#ff9400,#ff8c00,#ff8e00,#ff9800,#ff9f00,#ffa500,#ffa000,#ff8e00,#ff7e00,#ff6f00,#ff6500,#ff6000,#ff5c00,#ff5800,#ff5400,#ff5900,#ff5e00,#ff6400,#ff6a00,#ff7800,#ff8700,#ff9500,#ffa400,#ffb800,#ffcd00,#ffe200,#fff800,#fbff04,#f4ff0b,#ecff13,#e5ff1a,#e2ff1d,#e2ff1d,#e2ff1d,#e2ff1d,#e9ff16,#f9ff06,#fff500,#ffe500,#ffda00,#ffda00,#ffda00,#ffda00,#ffdb00,#ffdd00,#ffdf00,#ffe100,#ffe300,#fff100,#ffff00,#f1ff0e,#e3ff1c,#e2ff1d,#e2ff1d,#e2ff1d,#3effc1,#3effc1,#baff45,#ff5600,#ff3a00,#ff3800,#ff3100,#ff2900,#ff2200,#ff1f00,#ff1f00,#ff1f00,#ff1f00,#ff1f00,#ff1f00,#ff1f00,#ff6f00,#ff6f00,#ff8700,#ffab00,#ffd000,#ffe300,#ffe300,#ffe300,#ffe300)"></div>
<div style="top:80px;background:linear-gradient(90deg,#ff7300,#ff7300,#ff7300,#ff7300,#ff7500,#ff7900,#ff7d00,#ff8100,#ff9400,#ffc400,#fff400,#f0ff0f,#d6ff29,#79ff86,#79ff86,#f9ff06,#ffdb00,#ffcf00,#ffb800,#ffa000,#ff8a00,#ff8a00,#ff8a00,#ff8a00,#ff8a00,#ff8700,#ff8300,#ff8000,#ff7c00,#ff7900,#ff7500,#ff7100,#ff6d00,#ff5e00,#ff4b00,#ff3700,#f60000,#c00000,#a10000,#980000,#9f0000,#bb0000,#ef0000,#ff0200,#ff1400,#ff2200,#ff2c00,#ff3600,#ff4000,#ff4b00,#ff5500,#ff5f00,#ff6a00,#ff7100,#ff6900,#ff5f00,#ff5400,#ff4b00,#ff5600,#ff6200,#ff6f00,#ff7e00,#ff9a00,#ffb600,#ffc600,#ffc300,#ffbe00,#fffa00,#ff8400,#ff8400,#ff8500,#ff8600,#ff8700,#ff8700,#ff8d00,#ff9400,#ff9700,#ff9900,#ff9600,#ff8800,#ff7a00,#ff6f00,#ff6800,#ff6600,#ff6500,#ff6400,#ff6500,#ff6d00,#ff7700,#ff8100,#ff8c00,#ff9b00,#ffab00,#ffbb00,#ffca00,#ffdd00,#fff100,#faff05,#e6ff19,#deff21,#daff25,#d6ff29,#d2ff2d,#d0ff2f,#d0ff2f,#d0ff2f,#d0ff2f,#d8ff27,#e9ff16,#f9ff06,#fff400,#ffe900,#ffe900,#ffe900,#ffe900,#ffeb00,#fff400,#fffd00,#f8ff07,#efff10,#e8ff17,#e0ff1f,#d9ff26,#d1ff2e,#d0ff2f,#d0ff2f,#d0ff2f,#2dffd2,#2dffd2,#aaff55,#ff6400,#ff4700,#ff4500,#ff3a00,#ff2e00,#ff2300,#ff1f00,#ff1f00,#ff1f00,#ff1f00,#ff1f00,#ff1f00,#ff1f00,#ff7c00,#ff7c00,#ff9900,#ffc800,#fff600,#efff10,#efff10,#efff10,#efff10)"></div>
<div style="top:82px;background:linear-gradient(90deg,#ff5a00,#ff5a00,#ff5a00,#ff5a00,#ff5b00,#ff5b00,#ff5c00,#ff5c00,#ff7000,#ffa700,#ffdf00,#fffc00,#d5ff2a,#26ffd9,#26ffd9,#d1ff2e,#fff600,#ffe600,#ffc700,#ffa800,#ff8a00,#ff8a00,#ff8a00,#ff8a00,#ff8a00,#ff8900,#ff8900,#ff8800,#ff8800,#ff8700,#ff8700,#ff8700,#ff8600,#ff7c00,#ff6f00,#ff6200,#ff5400,#ff0d00,#cf0000,#ac0000,#a10000,#a50000,#ba0000,#f00000,#ff0d00,#ff2400,#ff3100,#ff3e00,#ff4c00,#ff5a00,#ff6800,#ff7700,#ff8500,#ff8f00,#ff8500,#ff7900,#ff6900,#ff5b00,#ff6400,#ff6f00,#ff7c00,#ff8c00,#ffa900,#ffc600,#ffd000,#ffc700,#ffbf00,#fffa00,#ff5d00,#ff5c00,#ff6400,#ff6f00,#ff7a00,#ff8300,#ff8c00,#ff8f00,#ff8b00,#ff8a00,#ff8b00,#ff8200,#ff7700,#ff6d00,#ff6800,#ff6800,#ff6900,#ff6c00,#ff7200,#ff7e00,#ff8c00,#ff9c00,#ffac00,#ffbe00,#ffcf00,#ffe000,#fff000,#fbff04,#e9ff16,#d8ff27,#c6ff39,#c1ff3e,#c0ff3f,#c0ff3f,#bfff40,#bfff40,#bfff40,#bfff40,#bfff40,#c7ff38,#d8ff27,#e9ff16,#fbff04,#fff800,#fff800,#fff800,#fff800,#fffb00,#f3ff0c,#e3ff1c,#d3ff2c,#c3ff3c,#c2ff3d,#c1ff3e,#c0ff3f,#bfff40,#bfff40,#bfff40,#bfff40,#1cffe3,#1cffe3,#9aff65,#ff7200,#ff5500,#ff5100,#ff4200,#ff3400,#ff2500,#ff1f00,#ff1f00,#ff1f00,#ff1f00,#ff1f00,#ff1f00,#ff1f00,#ff8800,#ff8800,#ffac00,#ffe500,#e1ff1e,#c3ff3c,#c3ff3c,#c3ff3c,#c3ff3c)"></div>
<div style="top:84px;background:linear-gradient(90deg,#ff5700,#ff5700,#ff5700,#ff5700,#ff5800,#ff5a00,#ff5d00,#ff5f00,#ff7300,#ffa900,#ffde00,#fffa00,#d5ff2a,#1affe5,#1affe5,#cbff34,#fffa00,#ffe800,#ffc500,#ffa100,#ff7f00,#ff7f00,#ff7f00,#ff7f00,#ff7f00,#ff7f00,#ff7f00,#ff7f00,#ff7f00,#ff7f00,#ff7f00,#ff7f00,#ff7f00,#ff7600,#ff6a00,#ff5d00,#ff5000,#ff3600,#ff1400,#e00000,#b30000,#9e0000,#9c0000,#b20000,#ed0000,#ff0600,#ff1800,#ff2b00,#ff3f00,#ff5200,#ff6300,#ff7500,#ff8800,#ff9300,#ff8e00,#ff8200,#ff7100,#ff6100,#ff6700,#ff7100,#ff7e00,#ff9000,#ffb200,#ffd400,#ffdb00,#ffcc00,#ffc000,#fffa00,#ff5700,#ff5700,#ff6200,#ff7000,#ff7e00,#ff8b00,#ff9300,#ff8f00,#ff8100,#ff7c00,#ff8200,#ff7d00,#ff7200,#ff6800,#ff6300,#ff6300,#ff6500,#ff6800,#ff6d00,#ff7a00,#ff8b00,#ff9d00,#ffb000,#ffc600,#ffdb00,#fff000,#faff05,#e7ff18,#d4ff2b,#c1ff3e,#afff50,#aaff55,#aaff55,#aaff55,#aaff55,#aaff55,#aaff55,#aaff55,#aaff55,#b2ff4d,#c5ff3a,#d7ff28,#e9ff16,#f8ff07,#feff01,#fff900,#fff300,#fff100,#f9ff06,#e4ff1b,#d0ff2f,#bdff42,#bdff42,#bdff42,#bdff42,#bdff42,#bdff42,#bdff42,#bdff42,#1affe5,#1affe5,#97ff68,#ff7400,#ff5700,#ff5300,#ff4400,#ff3500,#ff2500,#ff1f00,#ff1f00,#ff1f00,#ff1f00,#ff1f00,#ff1f00,#ff1f00,#ff9400,#ff9400,#ffb700,#ffee00,#d9ff26,#bdff42,#bdff42,#bdff42,#bdff42)"></div>
<div style="top:86px;background:linear-gradient(90deg,#ff5700,#ff5700,#ff5700,#ff5700,#ff5900,#ff5f00,#ff6400,#ff6a00,#ff7e00,#ffaf00,#ffe000,#fffa00,#d5ff2a,#1affe5,#1affe5,#cbff34,#fffa00,#ffe600,#ffbf00,#ff9900,#ff7300,#ff7300,#ff7300,#ff7300,#ff7300,#ff7300,#ff7300,#ff7300,#ff7300,#ff7300,#ff7300,#ff7300,#ff7300,#ff6a00,#ff5d00,#ff5000,#ff4300,#ff2f00,#ff1700,#fe0000,#e00000,#aa0000,#950000,#940000,#ab0000,#e10000,#fa0000,#ff1400,#ff2e00,#ff4600,#ff5a00,#ff7100,#ff8800,#ff9700,#ff9500,#ff8900,#ff7700,#ff6500,#ff6900,#ff7200,#ff7e00,#ff9200,#ffb800,#ffdf00,#ffe400,#ffd000,#ffc100,#fffa00,#ff5700,#ff5700,#ff6400,#ff7500,#ff8600,#ff9600,#ff9c00,#ff9200,#ff7c00,#ff7500,#ff8000,#ff7d00,#ff7100,#ff6700,#ff6100,#ff6100,#ff6200,#ff6400,#ff6800,#ff7600,#ff8800,#ff9c00,#ffb100,#ffca00,#ffe400,#fffd00,#e9ff16,#d4ff2b,#c0ff3f,#acff53,#99ff66,#94ff6b,#94ff6b,#94ff6b,#94ff6b,#94ff6b,#94ff6b,#94ff6b,#94ff6b,#9dff62,#b0ff4f,#c4ff3b,#d7ff28,#e9ff16,#f7ff08,#fff900,#ffea00,#ffe300,#fffb00,#ebff14,#d4ff2b,#bdff42,#bdff42,#bdff42,#bdff42,#bdff42,#bdff42,#bdff42,#bdff42,#1affe5,#1affe5,#97ff68,#ff7400,#ff5700,#ff5300,#ff4400,#ff3500,#ff2500,#ff1f00,#ff1f00,#ff1f00,#ff1f00,#ff1f00,#ff1f00,#ff1f00,#ffa000,#ffa000,#ffc100,#fff400,#d7ff28,#bdff42,#bdff42,#bdff42,#bdff42)"></div>
<div style="top:88px;background:linear-gradient(90deg,#ff5700,#ff5700,#ff5700,#ff5700,#ff5b00,#ff6300,#ff6c00,#ff7400,#ff8900,#ffb600,#ffe200,#fffa00,#d5ff2a,#1affe5,#1affe5,#cbff34,#fffa00,#ffe400,#ffba00,#ff9000,#ff6700,#ff6700,#ff6700,#ff6700,#ff6700,#ff6700,#ff6700,#ff6700,#ff6700,#ff6700,#ff6700,#ff6700,#ff6700,#ff5d00,#ff5000,#ff4300,#ff3500,#ff2800,#ff1a00,#ff0d00,#fe0000,#d70000,#a20000,#8d0000,#8b0000,#a30000,#dc0000,#fb0000,#ff1c00,#ff3a00,#ff5000,#ff6b00,#ff8600,#ff9800,#ff9800,#ff8b00,#ff7800,#ff6700,#ff6900,#ff7200,#ff7e00,#ff9200,#ffbb00,#ffe400,#ffe800,#ffd200,#ffc100,#fffa00,#ff5700,#ff5700,#ff6600,#ff7a00,#ff8e00,#ffa100,#ffa700,#ff9a00,#ff8300,#ff7c00,#ff8500,#ff8100,#ff7300,#ff6600,#ff5e00,#ff5e00,#ff5f00,#ff6000,#ff6300,#ff7300,#ff8700,#ff9c00,#ffb300,#ffd000,#ffed00,#f4ff0b,#d8ff27,#c2ff3d,#adff52,#98ff67,#83ff7c,#7eff81,#7eff81,#7eff81,#7eff81,#7eff81,#7eff81,#7eff81,#7eff81,#87ff78,#9cff63,#b1ff4e,#c5ff3a,#daff25,#f0ff0f,#fff800,#ffe200,#ffd500,#fff000,#f2ff0d,#d7ff28,#bdff42,#bdff42,#bdff42,#bdff42,#bdff42,#bdff42,#bdff42,#bdff42,#1affe5,#1affe5,#97ff68,#ff7400,#ff5700,#ff5300,#ff4400,#ff3500,#ff2500,#ff1f00,#ff1f00,#ff1f00,#ff1f00,#ff1f00,#ff1f00,#ff1f00,#ffad00,#ffad00,#ffcb00,#fffa00,#d5ff2a,#bdff42,#bdff42,#bdff42,#bdff42)"></div>
<div style="top:90px;background:linear-gradient(90deg,#ff5700,#ff5700,#ff5700,#ff5700,#ff5c00,#ff6700,#ff7300,#ff7e00,#ff9400,#ffbc00,#ffe500,#fffa00,#d5ff2a,#1affe5,#1affe5,#cbff34,#fffa00,#ffe200,#ffb500,#ff8700,#ff5a00,#ff5a00,#ff5a00,#ff5a00,#ff5a00,#ff5a00,#ff5a00,#ff5a00,#ff5a00,#ff5a00,#ff5a00,#ff5a00,#ff5a00,#ff5100,#ff4300,#ff3600,#ff2800,#ff2100,#ff1e00,#ff1a00,#ff1700,#ff0500,#ce0000,#990000,#840000,#830000,#a00000,#e30000,#ff0b00,#ff2d00,#ff4300,#ff5e00,#ff7a00,#ff8d00,#ff8e00,#ff8400,#ff7300,#ff6600,#ff6900,#ff7200,#ff7e00,#ff9200,#ffb900,#ffe000,#ffe500,#ffd000,#ffc100,#fffa00,#ff5700,#ff5700,#ff6800,#ff8000,#ff9700,#ffad00,#ffb300,#ffa800,#ff9500,#ff8e00,#ff9100,#ff8600,#ff7500,#ff6400,#ff5900,#ff5900,#ff5900,#ff5900,#ff5d00,#ff7000,#ff8600,#ff9d00,#ffb700,#ffd700,#fff700,#e7ff18,#c7ff38,#afff50,#99ff66,#83ff7c,#6dff92,#68ff97,#68ff97,#68ff97,#68ff97,#68ff97,#68ff97,#68ff97,#68ff97,#72ff8d,#88ff77,#9dff62,#b3ff4c,#ccff33,#e9ff16,#fff700,#ffda00,#ffc700,#ffe600,#f9ff06,#daff25,#bdff42,#bdff42,#bdff42,#bdff42,#bdff42,#bdff42,#bdff42,#bdff42,#1affe5,#1affe5,#97ff68,#ff7400,#ff5700,#ff5300,#ff4400,#ff3500,#ff2500,#ff1f00,#ff1f00,#ff1f00,#ff1f00,#ff1f00,#ff1f00,#ff1f00,#ffb900,#ffb900,#ffd500,#feff01,#d3ff2c,#bdff42,#bdff42,#bdff42,#bdff42)"></div>
<div style="top:92px;background:linear-gradient(90deg,#ff5f00,#ff5f00,#ff5f00,#ff5f00,#ff6600,#ff7500,#ff8400,#ff9300,#ffab00,#ffd500,#ffff00,#e9ff16,#c5ff3a,#35ffca,#35ffca,#d9ff26,#fff000,#ffd900,#ffad00,#ff8100,#ff5700,#ff5400,#ff5200,#ff5000,#ff4e00,#ff4d00,#ff4d00,#ff4d00,#ff4d00,#ff4d00,#ff4d00,#ff4d00,#ff4d00,#ff4500,#ff3a00,#ff2e00,#ff2300,#ff2000,#ff2200,#ff2500,#ff2700,#ff1700,#f30000,#c60000,#900000,#800000,#840000,#a10000,#e50000,#ff0f00,#ff2800,#ff4500,#ff6200,#ff7600,#ff7800,#ff7000,#ff6300,#ff5900,#ff5f00,#ff6900,#ff7500,#ff8800,#ffae00,#ffd400,#ffdc00,#ffcd00,#ffc000,#f8ff07,#ff7200,#ff7200,#ff8100,#ff9500,#ffa900,#ffbd00,#ffc000,#ffb500,#ffa600,#ff9e00,#ff9700,#ff8700,#ff7400,#ff6200,#ff5600,#ff5400,#ff5300,#ff5100,#ff5200,#ff6600,#ff7b00,#ff9100,#ffa900,#ffcb00,#ffed00,#efff10,#cdff32,#b6ff49,#a0ff5f,#8bff74,#76ff89,#70ff8f,#70ff8f,#70ff8f,#70ff8f,#70ff8f,#70ff8f,#70ff8f,#70ff8f,#7aff85,#8fff70,#a5ff5a,#baff45,#d3ff2c,#f2ff0d,#ffed00,#ffce00,#ffba00,#ffd900,#fff800,#e7ff18,#c9ff36,#c9ff36,#c9ff36,#c9ff36,#c9ff36,#c9ff36,#c9ff36,#c9ff36,#25ffda,#25ffda,#a0ff5f,#ff7300,#ff5700,#ff5300,#ff4400,#ff3500,#ff2500,#ff1f00,#ff1f00,#ff1f00,#ff1f00,#ff1f00,#ff1f00,#ff1f00,#ffb400,#ffb400,#ffce00,#fff700,#deff21,#c9ff36,#c9ff36,#c9ff36,#c9ff36)"></div>
<div style="top:94px;background:linear-gradient(90deg,#ff6b00,#ff6b00,#ff6b00,#ff6b00,#ff7400,#ff8600,#ff9900,#ffab00,#ffc700,#fff500,#daff25,#c2ff3d,#adff52,#5cffa3,#5cffa3,#eeff11,#ffe100,#ffcd00,#ffa500,#ff7d00,#ff5700,#ff5100,#ff4b00,#ff4600,#ff4000,#ff4000,#ff4000,#ff4000,#ff4000,#ff4000,#ff4000,#ff4000,#ff4000,#ff3a00,#ff3200,#ff2a00,#ff2200,#ff2200,#ff2800,#ff2d00,#ff3300,#ff2700,#ff0b00,#ee0000,#c10000,#900000,#800000,#840000,#a20000,#e80000,#ff0500,#ff2400,#ff4300,#ff5a00,#ff5a00,#ff5500,#ff4e00,#ff4800,#ff5000,#ff5b00,#ff6800,#ff7a00,#ff9f00,#ffc400,#ffd100,#ffc800,#ffbf00,#e7ff18,#ff9900,#ff9900,#ffa400,#ffb200,#ffc000,#ffce00,#ffcc00,#ffbd00,#ffae00,#ffa100,#ff9400,#ff8300,#ff7200,#ff6100,#ff5500,#ff5100,#ff4c00,#ff4700,#ff4600,#ff5700,#ff6a00,#ff7e00,#ff9300,#ffb600,#ffd900,#fffd00,#deff21,#c8ff37,#b4ff4b,#a0ff5f,#8bff74,#86ff79,#86ff79,#86ff79,#86ff79,#86ff79,#86ff79,#86ff79,#86ff79,#90ff6f,#a4ff5b,#b8ff47,#ccff33,#e3ff1c,#fffd00,#ffdf00,#ffc100,#ffad00,#ffcb00,#ffe900,#f7ff08,#daff25,#daff25,#daff25,#daff25,#daff25,#daff25,#daff25,#daff25,#37ffc8,#37ffc8,#abff54,#ff7100,#ff5700,#ff5300,#ff4400,#ff3500,#ff2500,#ff1f00,#ff1f00,#ff1f00,#ff1f00,#ff1f00,#ff1f00,#ff1f00,#ffa800,#ffa800,#ffc100,#ffe900,#eeff11,#daff25,#daff25,#daff25,#daff25)"></div>
<div style="top:96px;background:linear-gradient(90deg,#ff7800,#ff7800,#ff7800,#ff7800,#ff8200,#ff9800,#ffae00,#ffc400,#ffe400,#e8ff17,#b5ff4a,#9bff64,#96ff69,#83ff7c,#83ff7c,#fffc00,#ffd200,#ffc000,#ff9d00,#ff7900,#ff5600,#ff4e00,#ff4500,#ff3c00,#ff3300,#ff3200,#ff3200,#ff3200,#ff3200,#ff3200,#ff3200,#ff3200,#ff3200,#ff2f00,#ff2a00,#ff2500,#ff2100,#ff2400,#ff2d00,#ff3600,#ff3f00,#ff3800,#ff2200,#ff0c00,#f40000,#c10000,#900000,#800000,#850000,#a40000,#e20000,#ff0400,#ff2500,#ff3f00,#ff4000,#ff3d00,#ff3900,#ff3700,#ff4200,#ff4e00,#ff5c00,#ff6c00,#ff8f00,#ffb200,#ffc500,#ffc400,#ffbe00,#d6ff29,#ffc000,#ffc000,#ffc700,#ffcf00,#ffd700,#ffdf00,#ffd600,#ffc200,#ffae00,#ff9b00,#ff8a00,#ff7a00,#ff6c00,#ff5f00,#ff5500,#ff4e00,#ff4700,#ff3f00,#ff3a00,#ff4800,#ff5800,#ff6900,#ff7b00,#ffa000,#ffc500,#ffea00,#efff10,#daff25,#c7ff38,#b4ff4b,#a1ff5e,#9cff63,#9cff63,#9cff63,#9cff63,#9cff63,#9cff63,#9cff63,#9cff63,#a5ff5a,#b8ff47,#cbff34,#deff21,#f4ff0b,#ffed00,#ffd000,#ffb300,#ffa100,#ffbe00,#ffdb00,#fff700,#ebff14,#ebff14,#ebff14,#ebff14,#ebff14,#ebff14,#ebff14,#ebff14,#48ffb7,#48ffb7,#b7ff48,#ff7000,#ff5700,#ff5300,#ff4400,#ff3500,#ff2500,#ff1f00,#ff1f00,#ff1f00,#ff1f00,#ff1f00,#ff1f00,#ff1f00,#ff9c00,#ff9c00,#ffb400,#ffda00,#ffff00,#ebff14,#ebff14,#ebff14,#ebff14)"></div>
<div style="top:98px;background:linear-gradient(90deg,#ff8400,#ff8400,#ff8400,#ff8400,#ff8f00,#ffa900,#ffc300,#ffdc00,#feff01,#c7ff38,#90ff6f,#73ff8c,#7eff81,#aaff55,#aaff55,#ffe700,#ffc400,#ffb300,#ff9400,#ff7500,#ff5600,#ff4a00,#ff3e00,#ff3200,#ff2600,#ff2500,#ff2500,#ff2500,#ff2500,#ff2500,#ff2500,#ff2500,#ff2500,#ff2400,#ff2200,#ff2100,#ff1f00,#ff2600,#ff3200,#ff3e00,#ff4b00,#ff4900,#ff3a00,#ff2a00,#ff1a00,#ff0300,#c10000,#900000,#800000,#850000,#a30000,#e10000,#ff0c00,#ff2a00,#ff2a00,#ff2900,#ff2800,#ff2700,#ff3400,#ff4100,#ff4f00,#ff5e00,#ff8100,#ffa300,#ffbc00,#ffc000,#ffbe00,#c5ff3a,#ffe700,#ffe700,#ffe900,#ffec00,#ffee00,#ffef00,#ffdf00,#ffc400,#ffaa00,#ff9100,#ff7d00,#ff7000,#ff6500,#ff5c00,#ff5400,#ff4d00,#ff4400,#ff3900,#ff3100,#ff3b00,#ff4700,#ff5400,#ff6300,#ff8900,#ffb000,#ffd700,#fffe00,#ecff13,#daff25,#c9ff36,#b7ff48,#b2ff4d,#b2ff4d,#b2ff4d,#b2ff4d,#b2ff4d,#b2ff4d,#b2ff4d,#b2ff4d,#bbff44,#ccff33,#deff21,#f0ff0f,#fff900,#ffdd00,#ffc200,#ffa600,#ff9400,#ffb000,#ffcc00,#ffe700,#fcff03,#fcff03,#fcff03,#fcff03,#fcff03,#fcff03,#fcff03,#fcff03,#59ffa6,#59ffa6,#c3ff3c,#ff6f00,#ff5700,#ff5300,#ff4400,#ff3500,#ff2500,#ff1f00,#ff1f00,#ff1f00,#ff1f00,#ff1f00,#ff1f00,#ff1f00,#ff8f00,#ff8f00,#ffa700,#ffcb00,#ffef00,#fcff03,#fcff03,#fcff03,#fcff03)"></div>
<div style="top:100px;background:linear-gradient(90deg,#ff9000,#ff9000,#ff9000,#ff9000,#ff9d00,#ffb900,#ffd500,#fff100,#e7ff18,#afff50,#76ff89,#58ffa7,#6eff91,#c6ff39,#c6ff39,#ffd600,#ffb600,#ffaa00,#ff9200,#ff7b00,#ff6300,#ff5700,#ff4c00,#ff4000,#ff3400,#ff3300,#ff3300,#ff3300,#ff3300,#ff3100,#ff3000,#ff2e00,#ff2d00,#ff2a00,#ff2700,#ff2300,#ff2000,#ff2800,#ff3700,#ff4700,#ff5700,#ff5900,#ff4e00,#ff4300,#ff3600,#ff1f00,#f90000,#c10000,#900000,#800000,#850000,#a00000,#d70000,#ff0c00,#ff0d00,#ff0e00,#ff0f00,#ff1100,#ff2000,#ff3000,#ff3f00,#ff5000,#ff7000,#ff9000,#ffab00,#ffb200,#ffb000,#bdff42,#fbff04,#fbff04,#fbff04,#fcff03,#fdff02,#fffe00,#ffeb00,#ffcd00,#ffb000,#ff9300,#ff7f00,#ff7200,#ff6800,#ff6000,#ff5b00,#ff5500,#ff4d00,#ff4300,#ff3900,#ff3e00,#ff4500,#ff4d00,#ff5800,#ff7b00,#ff9f00,#ffc300,#ffe700,#fffa00,#f3ff0c,#e2ff1d,#d2ff2d,#ccff33,#caff35,#c8ff37,#c7ff38,#c6ff39,#c6ff39,#c6ff39,#c6ff39,#cdff32,#dcff23,#ebff14,#faff05,#fff200,#ffdb00,#ffc300,#ffab00,#ff9d00,#ffb700,#ffd000,#ffea00,#fbff04,#fdff02,#ffff00,#fffc00,#fffa00,#fffa00,#fffa00,#fffa00,#61ff9e,#61ff9e,#c4ff3b,#ff7a00,#ff6400,#ff6000,#ff5100,#ff4200,#ff3300,#ff2c00,#ff2c00,#ff2c00,#ff2c00,#ff2c00,#ff2c00,#ff2c00,#ff8a00,#ff8a00,#ffa000,#ffc400,#ffe700,#fffa00,#fffa00,#fffa00,#fffa00)"></div>
<div style="top:102px;background:linear-gradient(90deg,#ff9c00,#ff9c00,#ff9c00,#ff9c00,#ffaa00,#ffc700,#ffe400,#fdff02,#d6ff29,#9eff61,#65ff9a,#47ffb8,#63ff9c,#d7ff28,#d7ff28,#ffc900,#ffaa00,#ffa300,#ff9600,#ff8900,#ff7c00,#ff7300,#ff6b00,#ff6200,#ff5900,#ff5900,#ff5900,#ff5900,#ff5900,#ff5500,#ff5000,#ff4c00,#ff4700,#ff3f00,#ff3600,#ff2c00,#ff2200,#ff2a00,#ff3c00,#ff5000,#ff6400,#ff6a00,#ff6200,#ff5900,#ff4d00,#ff3800,#ff1600,#f20000,#be0000,#8e0000,#800000,#840000,#9c0000,#cd0000,#e80000,#eb0000,#ee0000,#f20000,#ff0700,#ff1a00,#ff2e00,#ff4200,#ff5d00,#ff7800,#ff9200,#ff9800,#ff9700,#bdff42,#eaff15,#eaff15,#eaff15,#ebff14,#edff12,#f0ff0f,#fffb00,#ffde00,#ffbf00,#ffa200,#ff8b00,#ff7b00,#ff6e00,#ff6600,#ff6100,#ff5e00,#ff5a00,#ff5300,#ff4c00,#ff4d00,#ff5000,#ff5300,#ff5800,#ff7400,#ff9200,#ffb000,#ffcd00,#ffde00,#ffee00,#fffd00,#f1ff0e,#e9ff16,#e4ff1b,#dfff20,#d9ff26,#d7ff28,#d7ff28,#d7ff28,#d7ff28,#dcff23,#e7ff18,#f2ff0d,#fdff02,#fff400,#ffe300,#ffd200,#ffc100,#ffb700,#ffcf00,#ffe600,#fffe00,#eaff15,#f0ff0f,#f7ff08,#fdff02,#fffb00,#fffa00,#fffa00,#fffa00,#61ff9e,#61ff9e,#bcff43,#ff9100,#ff7c00,#ff7900,#ff6a00,#ff5b00,#ff4d00,#ff4600,#ff4600,#ff4600,#ff4600,#ff4600,#ff4600,#ff4600,#ff8a00,#ff8a00,#ffa000,#ffc400,#ffe700,#fffa00,#fffa00,#fffa00,#fffa00)"></div>
<div style="top:104px;background:linear-gradient(90deg,#ffa900,#ffa900,#ffa900,#ffa900,#ffb600,#ffd500,#fff300,#edff12,#c5ff3a,#8cff73,#54ffab,#35ffca,#59ffa6,#e8ff17,#e8ff17,#ffbb00,#ff9e00,#ff9c00,#ff9a00,#ff9700,#ff9500,#ff8f00,#ff8a00,#ff8500,#ff7f00,#ff7f00,#ff7f00,#ff7f00,#ff7f00,#ff7900,#ff7100,#ff6a00,#ff6200,#ff5400,#ff4500,#ff3500,#ff2500,#ff2c00,#ff4200,#ff5900,#ff7100,#ff7b00,#ff7700,#ff7300,#ff6900,#ff5400,#ff3400,#ff1400,#f50000,#b60000,#8c0000,#800000,#830000,#990000,#c30000,#c90000,#ce0000,#d50000,#ec0000,#ff0500,#ff1c00,#ff3400,#ff4b00,#ff6200,#ff7900,#ff7f00,#ff7f00,#bdff42,#d9ff26,#d9ff26,#d9ff26,#daff25,#dcff23,#dfff20,#f2ff0d,#fff000,#ffd200,#ffb400,#ff9b00,#ff8700,#ff7800,#ff6e00,#ff6900,#ff6700,#ff6500,#ff6200,#ff5d00,#ff5c00,#ff5a00,#ff5900,#ff5700,#ff6e00,#ff8500,#ff9c00,#ffb300,#ffc200,#ffd100,#ffdf00,#ffed00,#fff700,#feff01,#f5ff0a,#ecff13,#e8ff17,#e8ff17,#e8ff17,#e8ff17,#ebff14,#f2ff0d,#f9ff06,#fffe00,#fff600,#ffec00,#ffe100,#ffd700,#ffd200,#ffe700,#fffc00,#edff12,#d9ff26,#e4ff1b,#eeff11,#f9ff06,#fffb00,#fffa00,#fffa00,#fffa00,#61ff9e,#61ff9e,#b5ff4a,#ffa800,#ff9500,#ff9100,#ff8300,#ff7400,#ff6600,#ff6000,#ff6000,#ff6000,#ff6000,#ff6000,#ff6000,#ff6000,#ff8a00,#ff8a00,#ffa000,#ffc400,#ffe700,#fffa00,#fffa00,#fffa00,#fffa00)"></div>
<div style="top:106px;background:linear-gradient(90deg,#ffb500,#ffb500,#ffb500,#ffb500,#ffc300,#ffe300,#fcff03,#dcff23,#b4ff4b,#7bff84,#42ffbd,#24ffdb,#4fffb0,#f9ff06,#f9ff06,#ffae00,#ff9100,#ff9600,#ff9e00,#ffa600,#ffad00,#ffab00,#ffa900,#ffa700,#ffa500,#ffa500,#ffa500,#ffa500,#ffa500,#ff9c00,#ff9200,#ff8700,#ff7d00,#ff6a00,#ff5400,#ff3e00,#ff2700,#ff2e00,#ff4700,#ff6200,#ff7e00,#ff8b00,#ff8c00,#ff8c00,#ff8400,#ff6f00,#ff5100,#ff3300,#ff1900,#fb0000,#af0000,#8a0000,#800000,#830000,#960000,#a80000,#af0000,#b80000,#d30000,#ef0000,#ff0b00,#ff2600,#ff3a00,#ff4d00,#ff6000,#ff6600,#ff6600,#bdff42,#c8ff37,#c8ff37,#c8ff37,#c9ff36,#cbff34,#ceff31,#deff21,#f8ff07,#ffea00,#ffce00,#ffb400,#ff9e00,#ff8c00,#ff8000,#ff7a00,#ff7700,#ff7500,#ff7300,#ff6f00,#ff6b00,#ff6500,#ff5e00,#ff5700,#ff6700,#ff7800,#ff8800,#ff9900,#ffa600,#ffb300,#ffc000,#ffcd00,#ffda00,#ffe700,#fff300,#feff01,#f9ff06,#f9ff06,#f9ff06,#f9ff06,#fbff04,#fdff02,#fffe00,#fffc00,#fff900,#fff400,#fff000,#ffec00,#ffec00,#ffff00,#ecff13,#daff25,#c8ff37,#d7ff28,#e5ff1a,#f4ff0b,#fffb00,#fffa00,#fffa00,#fffa00,#61ff9e,#61ff9e,#adff52,#ffbf00,#ffad00,#ffaa00,#ff9c00,#ff8e00,#ff8000,#ff7a00,#ff7a00,#ff7a00,#ff7a00,#ff7a00,#ff7a00,#ff7a00,#ff8a00,#ff8a00,#ffa000,#ffc400,#ffe700,#fffa00,#fffa00,#fffa00,#fffa00)"></div>
<div style="top:108px;background:linear-gradient(90deg,#ffb800,#ffb800,#ffb800,#ffb800,#ffc700,#ffe900,#f4ff0b,#d3ff2c,#a9ff56,#70ff8f,#38ffc7,#1affe5,#49ffb6,#fff400,#fff400,#ffa400,#ff8a00,#ff9100,#ff9e00,#ffab00,#ffb800,#ffb800,#ffb800,#ffb800,#ffb800,#ffb700,#ffb600,#ffb500,#ffb400,#ffaa00,#ff9f00,#ff9400,#ff8800,#ff7300,#ff5a00,#ff4100,#ff2900,#ff2e00,#ff4900,#ff6500,#ff8300,#ff9200,#ff9600,#ff9900,#ff9300,#ff7f00,#ff6200,#ff4600,#ff2f00,#ff1600,#eb0000,#a80000,#880000,#800000,#830000,#920000,#990000,#a20000,#be0000,#da0000,#f60000,#ff1300,#ff2600,#ff3900,#ff4c00,#ff5200,#ff5200,#b5ff4a,#beff41,#bfff40,#bfff40,#beff41,#bcff43,#bbff44,#c9ff36,#e1ff1e,#fcff03,#ffe700,#ffce00,#ffb800,#ffa600,#ff9800,#ff8f00,#ff8a00,#ff8700,#ff8300,#ff7e00,#ff7500,#ff6b00,#ff5e00,#ff5200,#ff6000,#ff6d00,#ff7b00,#ff8800,#ff9500,#ffa100,#ffad00,#ffba00,#ffc700,#ffd400,#ffe200,#ffef00,#fff400,#fff400,#fff400,#fff400,#fff400,#fff400,#fff400,#fff400,#fff500,#fff600,#fff800,#fff900,#fffd00,#f0ff0f,#dfff20,#cdff32,#bdff42,#cfff30,#e0ff1f,#f1ff0e,#fffc00,#fffa00,#fffa00,#fffa00,#69ff96,#69ff96,#b0ff4f,#ffc400,#ffb400,#ffb000,#ffa200,#ff9400,#ff8600,#ff8000,#ff8000,#ff8000,#ff8000,#ff8000,#ff8000,#ff8000,#ff8a00,#ff8a00,#ffa000,#ffc400,#ffe700,#fffa00,#fffa00,#fffa00,#fffa00)"></div>
<div style="top:110px;background:linear-gradient(90deg,#ffac00,#ffac00,#ffac00,#ffac00,#ffbc00,#ffe100,#f9ff06,#d5ff2a,#a9ff56,#70ff8f,#38ffc7,#1affe5,#4cffb3,#ffe600,#ffe600,#ffa000,#ff8a00,#ff8f00,#ff9900,#ffa200,#ffac00,#ffac00,#ffac00,#ffac00,#ffac00,#ffa800,#ffa400,#ffa000,#ff9c00,#ff9400,#ff8c00,#ff8400,#ff7b00,#ff6900,#ff5300,#ff3d00,#ff2700,#ff2d00,#ff4400,#ff5e00,#ff7900,#ff8a00,#ff9100,#ff9700,#ff9100,#ff7f00,#ff6200,#ff4600,#ff2f00,#ff1600,#f00000,#cc0000,#a20000,#870000,#800000,#820000,#8f0000,#990000,#b00000,#c70000,#de0000,#f50000,#ff0d00,#ff2500,#ff3d00,#ff4400,#ff4400,#a0ff5f,#c1ff3e,#c7ff38,#c8ff37,#c2ff3d,#b5ff4a,#a9ff56,#b4ff4b,#cfff30,#ebff14,#fff600,#ffdc00,#ffc600,#ffb300,#ffa200,#ff9600,#ff9000,#ff8c00,#ff8800,#ff8100,#ff7400,#ff6500,#ff5500,#ff4500,#ff5600,#ff6600,#ff7700,#ff8800,#ff9500,#ffa100,#ffad00,#ffba00,#ffc400,#ffce00,#ffd800,#ffe200,#ffe600,#ffe600,#ffe600,#ffe600,#ffe600,#ffe600,#ffe600,#ffe600,#ffe700,#ffec00,#fff100,#fff600,#fffd00,#f0ff0f,#dfff20,#cdff32,#bdff42,#cfff30,#e0ff1f,#f1ff0e,#fffc00,#fffa00,#fffa00,#fffa00,#7fff80,#7fff80,#c7ff38,#ffac00,#ff9b00,#ff9800,#ff8900,#ff7b00,#ff6d00,#ff6600,#ff6600,#ff6600,#ff6600,#ff6600,#ff6600,#ff6600,#ff8a00,#ff8a00,#ffa000,#ffc400,#ffe700,#fffa00,#fffa00,#fffa00,#fffa00)"></div>
<div style="top:112px;background:linear-gradient(90deg,#ffa000,#ffa000,#ffa000,#ffa000,#ffb100,#ffd900,#feff01,#d7ff28,#a9ff56,#70ff8f,#38ffc7,#1affe5,#4fffb0,#ffd700,#ffd700,#ff9d00,#ff8a00,#ff8d00,#ff9300,#ff9a00,#ffa000,#ffa000,#ffa000,#ffa000,#ffa000,#ff9900,#ff9200,#ff8b00,#ff8400,#ff7e00,#ff7900,#ff7400,#ff6e00,#ff5f00,#ff4c00,#ff3900,#ff2600,#ff2b00,#ff3f00,#ff5500,#ff6d00,#ff7d00,#ff8400,#ff8900,#ff8500,#ff7500,#ff5c00,#ff4200,#ff2d00,#ff1700,#f30000,#d10000,#af0000,#940000,#850000,#800000,#820000,#8c0000,#9c0000,#b40000,#c60000,#d70000,#f40000,#ff1100,#ff2e00,#ff3700,#ff3700,#8cff73,#c8ff37,#d9ff26,#e3ff1c,#dbff24,#beff41,#9eff61,#a1ff5e,#bdff42,#ddff22,#fdff02,#ffe600,#ffcf00,#ffb900,#ffa400,#ff9600,#ff9100,#ff8e00,#ff8a00,#ff8400,#ff7100,#ff5e00,#ff4a00,#ff3800,#ff4b00,#ff5f00,#ff7300,#ff8700,#ff9500,#ffa100,#ffad00,#ffba00,#ffc100,#ffc800,#ffce00,#ffd500,#ffd700,#ffd700,#ffd700,#ffd700,#ffd700,#ffd700,#ffd700,#ffd700,#ffda00,#ffe200,#ffeb00,#fff300,#fffd00,#f0ff0f,#dfff20,#cdff32,#bdff42,#cfff30,#e0ff1f,#f1ff0e,#fffc00,#fffa00,#fffa00,#fffa00,#95ff6a,#95ff6a,#deff21,#ff9300,#ff8300,#ff7f00,#ff7000,#ff6200,#ff5300,#ff4d00,#ff4d00,#ff4d00,#ff4d00,#ff4d00,#ff4d00,#ff4d00,#ff8a00,#ff8a00,#ffa000,#ffc400,#ffe700,#fffa00,#fffa00,#fffa00,#fffa00)"></div>
<div style="top:114px;background:linear-gradient(90deg,#ff9300,#ff9300,#ff9300,#ff9300,#ffa600,#ffd100,#fffb00,#d9ff26,#a9ff56,#70ff8f,#38ffc7,#1affe5,#52ffad,#ffc800,#ffc800,#ff9900,#ff8a00,#ff8b00,#ff8e00,#ff9100,#ff9300,#ff9300,#ff9300,#ff9300,#ff9300,#ff8a00,#ff8000,#ff7600,#ff6c00,#ff6800,#ff6600,#ff6300,#ff6100,#ff5500,#ff4500,#ff3500,#ff2500,#ff2900,#ff3900,#ff4c00,#ff5f00,#ff6c00,#ff7200,#ff7600,#ff7300,#ff6700,#ff5200,#ff3e00,#ff2b00,#ff1700,#f50000,#d60000,#b60000,#9b0000,#960000,#840000,#800000,#810000,#890000,#990000,#ad0000,#ba0000,#db0000,#fc0000,#ff1f00,#ff2900,#ff2a00,#7aff85,#d1ff2e,#f0ff0f,#fff500,#fffc00,#d2ff2d,#98ff67,#90ff6f,#adff52,#d1ff2e,#f5ff0a,#ffea00,#ffd100,#ffb900,#ffa100,#ff9000,#ff8e00,#ff8c00,#ff8a00,#ff8500,#ff6e00,#ff5700,#ff4000,#ff2a00,#ff4100,#ff5900,#ff7000,#ff8700,#ff9500,#ffa100,#ffad00,#ffba00,#ffbf00,#ffc200,#ffc400,#ffc700,#ffc800,#ffc800,#ffc800,#ffc800,#ffc800,#ffc800,#ffc800,#ffc800,#ffcc00,#ffd800,#ffe400,#fff000,#fffd00,#f0ff0f,#dfff20,#cdff32,#bdff42,#cfff30,#e0ff1f,#f1ff0e,#fffc00,#fffa00,#fffa00,#fffa00,#abff54,#abff54,#f5ff0a,#ff7b00,#ff6a00,#ff6600,#ff5700,#ff4800,#ff3a00,#ff3300,#ff3300,#ff3300,#ff3300,#ff3300,#ff3300,#ff3300,#ff8a00,#ff8a00,#ffa000,#ffc400,#ffe700,#fffa00,#fffa00,#fffa00,#fffa00)"></div>
<div style="top:116px;background:linear-gradient(90deg,#ff8c00,#ff8c00,#ff8c00,#ff8c00,#ffa100,#ffce00,#fffb00,#d6ff29,#a5ff5a,#6eff91,#37ffc8,#1affe5,#55ffaa,#ffbd00,#ffbd00,#ff9800,#ff8c00,#ff8c00,#ff8c00,#ff8c00,#ff8c00,#ff8c00,#ff8c00,#ff8c00,#ff8c00,#ff8100,#ff7600,#ff6a00,#ff5e00,#ff5b00,#ff5b00,#ff5a00,#ff5900,#ff5000,#ff4200,#ff3400,#ff2700,#ff2a00,#ff3800,#ff4600,#ff5600,#ff6000,#ff6400,#ff6700,#ff6600,#ff5e00,#ff4d00,#ff3c00,#ff2d00,#ff1a00,#fb0000,#de0000,#c10000,#a80000,#9e0000,#910000,#830000,#800000,#810000,#890000,#990000,#a10000,#c40000,#e80000,#ff0d00,#ff1900,#ff1900,#64ff9b,#d0ff2f,#f4ff0b,#ffeb00,#fff100,#d4ff2b,#8fff70,#82ff7d,#a2ff5d,#c8ff37,#f0ff0f,#ffec00,#ffd200,#ffb700,#ff9d00,#ff8b00,#ff8b00,#ff8a00,#ff8a00,#ff8500,#ff6b00,#ff5100,#ff3800,#ff1f00,#ff3900,#ff5200,#ff6b00,#ff8400,#ff9200,#ff9e00,#ffab00,#ffb700,#ffbb00,#ffbb00,#ffbc00,#ffbc00,#ffbd00,#ffbd00,#ffbd00,#ffbd00,#ffbd00,#ffbd00,#ffbd00,#ffbd00,#ffc100,#ffd000,#ffdf00,#ffee00,#fffd00,#f0ff0f,#dfff20,#cdff32,#bdff42,#cfff30,#e0ff1f,#f1ff0e,#fffc00,#fffa00,#fffa00,#fffa00,#bdff42,#bdff42,#fff800,#ff6a00,#ff5900,#ff5600,#ff4600,#ff3700,#ff2800,#ff2100,#ff2100,#ff2100,#ff2100,#ff2100,#ff2100,#ff2100,#ff8c00,#ff8c00,#ffa300,#ffc500,#ffe800,#fffa00,#fffa00,#fffa00,#fffa00)"></div>
<div style="top:118px;background:linear-gradient(90deg,#ff9900,#ff9900,#ff9900,#ff9900,#ffae00,#ffde00,#f1ff0e,#c1ff3e,#92ff6d,#62ff9d,#33ffcc,#1affe5,#55ffaa,#ffbd00,#ffbd00,#ffa100,#ff9900,#ff9900,#ff9900,#ff9900,#ff9900,#ff9900,#ff9900,#ff9900,#ff9900,#ff9000,#ff8800,#ff7f00,#ff7600,#ff7100,#ff6e00,#ff6a00,#ff6700,#ff5c00,#ff4f00,#ff4100,#ff3400,#ff3700,#ff4400,#ff5200,#ff6000,#ff6800,#ff6900,#ff6a00,#ff6a00,#ff6400,#ff5500,#ff4700,#ff3900,#ff2800,#ff0f00,#f40000,#db0000,#c40000,#b50000,#a40000,#8c0000,#820000,#800000,#810000,#890000,#990000,#b60000,#d30000,#f10000,#fa0000,#fb0000,#42ffbd,#b6ff49,#d4ff2b,#edff12,#e5ff1a,#b7ff48,#82ff7d,#7fff80,#a1ff5e,#c8ff37,#efff10,#ffef00,#ffd700,#ffc000,#ffa800,#ff9700,#ff9400,#ff9000,#ff8c00,#ff8500,#ff6b00,#ff5100,#ff3800,#ff1f00,#ff3600,#ff4c00,#ff6200,#ff7800,#ff8600,#ff9200,#ff9e00,#ffab00,#ffb100,#ffb400,#ffb800,#ffbb00,#ffbd00,#ffbd00,#ffbd00,#ffbd00,#ffbd00,#ffbd00,#ffbd00,#ffbd00,#ffc100,#ffd000,#ffdf00,#ffee00,#fffd00,#f0ff0f,#dfff20,#cdff32,#bdff42,#cfff30,#e0ff1f,#f1ff0e,#fffc00,#fffa00,#fffa00,#fffa00,#bdff42,#bdff42,#fffc00,#ff7500,#ff6600,#ff6200,#ff5300,#ff4400,#ff3500,#ff2f00,#ff2f00,#ff2f00,#ff2f00,#ff2f00,#ff2f00,#ff2f00,#ff9900,#ff9900,#ffac00,#ffcb00,#ffea00,#fffa00,#fffa00,#fffa00,#fffa00)"></div>
<div style="top:120px;background:linear-gradient(90deg,#ffa500,#ffa500,#ffa500,#ffa500,#ffbb00,#ffed00,#dfff20,#adff52,#7eff81,#56ffa9,#2fffd0,#1affe5,#55ffaa,#ffbd00,#ffbd00,#ffab00,#ffa500,#ffa500,#ffa500,#ffa500,#ffa500,#ffa500,#ffa500,#ffa500,#ffa500,#ff9f00,#ff9a00,#ff9400,#ff8e00,#ff8700,#ff8100,#ff7a00,#ff7400,#ff6900,#ff5c00,#ff4f00,#ff4200,#ff4400,#ff5100,#ff5e00,#ff6c00,#ff7200,#ff7300,#ff7300,#ff7300,#ff6e00,#ff6000,#ff5300,#ff4600,#ff3600,#ff2100,#ff0c00,#f60000,#e10000,#cd0000,#b90000,#9f0000,#8c0000,#820000,#800000,#810000,#890000,#9a0000,#be0000,#d50000,#dd0000,#dd0000,#1fffe0,#96ff69,#a6ff59,#b0ff4f,#a8ff57,#8eff71,#72ff8d,#7bff84,#a0ff5f,#c7ff38,#efff10,#fff000,#ffdc00,#ffc700,#ffb300,#ffa300,#ff9c00,#ff9600,#ff8f00,#ff8500,#ff6b00,#ff5100,#ff3800,#ff1f00,#ff3300,#ff4600,#ff5900,#ff6c00,#ff7a00,#ff8600,#ff9200,#ff9f00,#ffa700,#ffad00,#ffb400,#ffba00,#ffbd00,#ffbd00,#ffbd00,#ffbd00,#ffbd00,#ffbd00,#ffbd00,#ffbd00,#ffc100,#ffd000,#ffdf00,#ffee00,#fffd00,#f0ff0f,#dfff20,#cdff32,#bdff42,#cfff30,#e0ff1f,#f1ff0e,#fffc00,#fffa00,#fffa00,#fffa00,#bdff42,#bdff42,#feff01,#ff8100,#ff7200,#ff6e00,#ff6000,#ff5100,#ff4300,#ff3c00,#ff3c00,#ff3c00,#ff3c00,#ff3c00,#ff3c00,#ff3c00,#ffa500,#ffa500,#ffb600,#ffd100,#ffec00,#fffa00,#fffa00,#fffa00,#fffa00)"></div>
<div style="top:122px;background:linear-gradient(90deg,#ffb100,#ffb100,#ffb100,#ffb100,#ffc900,#fffd00,#cdff32,#98ff67,#6bff94,#4bffb4,#2bffd4,#1affe5,#55ffaa,#ffbd00,#ffbd00,#ffb400,#ffb100,#ffb100,#ffb100,#ffb100,#ffb100,#ffb100,#ffb100,#ffb100,#ffb100,#ffae00,#ffac00,#ffa900,#ffa600,#ff9e00,#ff9400,#ff8a00,#ff8100,#ff7500,#ff6800,#ff5c00,#ff4f00,#ff5200,#ff5e00,#ff6b00,#ff7800,#ff7f00,#ff7f00,#ff8000,#ff8000,#ff7a00,#ff6d00,#ff6000,#ff5300,#ff4500,#ff3400,#ff2200,#ff1100,#fd0000,#e40000,#cb0000,#b20000,#9b0000,#8c0000,#820000,#800000,#810000,#8a0000,#a90000,#ba0000,#bf0000,#bf0000,#00fbff,#79ff86,#7eff81,#80ff7f,#7bff84,#71ff8e,#67ff98,#79ff86,#a0ff5f,#c7ff38,#efff10,#fff200,#ffe000,#ffcf00,#ffbd00,#ffae00,#ffa500,#ff9b00,#ff9200,#ff8500,#ff6b00,#ff5100,#ff3800,#ff1f00,#ff2f00,#ff4000,#ff5000,#ff6100,#ff6d00,#ff7a00,#ff8600,#ff9200,#ff9c00,#ffa600,#ffaf00,#ffb900,#ffbd00,#ffbd00,#ffbd00,#ffbd00,#ffbd00,#ffbd00,#ffbd00,#ffbd00,#ffc100,#ffd000,#ffdf00,#ffee00,#fffd00,#f0ff0f,#dfff20,#cdff32,#bdff42,#cfff30,#e0ff1f,#f1ff0e,#fffc00,#fffa00,#fffa00,#fffa00,#bdff42,#bdff42,#fbff04,#ff8c00,#ff7e00,#ff7b00,#ff6c00,#ff5e00,#ff5000,#ff4a00,#ff4a00,#ff4a00,#ff4a00,#ff4a00,#ff4a00,#ff4a00,#ffb100,#ffb100,#ffc000,#ffd700,#ffee00,#fffa00,#fffa00,#fffa00,#fffa00)"></div>
<div style="top:124px;background:linear-gradient(90deg,#ffbf00,#ffbf00,#ffbf00,#ffbf00,#ffd700,#f0ff0f,#baff45,#84ff7b,#57ffa8,#3fffc0,#26ffd9,#19ffe6,#54ffab,#ffbe00,#ffbe00,#ffbe00,#ffbf00,#ffbf00,#ffbf00,#ffbf00,#ffbf00,#ffbf00,#ffbf00,#ffbf00,#ffbf00,#ffbf00,#ffbf00,#ffc000,#ffc000,#ffb600,#ffa900,#ff9d00,#ff9000,#ff8300,#ff7700,#ff6a00,#ff5e00,#ff6000,#ff6d00,#ff7b00,#ff8900,#ff9100,#ff9300,#ff9500,#ff9400,#ff8e00,#ff8100,#ff7200,#ff6400,#ff5600,#ff4700,#ff3900,#ff2b00,#ff1a00,#fb0000,#de0000,#c00000,#a40000,#9b0000,#8b0000,#820000,#800000,#830000,#950000,#9f0000,#a30000,#a30000,#00d9ff,#60ff9f,#62ff9d,#62ff9d,#62ff9d,#62ff9d,#60ff9f,#77ff88,#9eff61,#c5ff3a,#edff12,#fff500,#ffe700,#ffd800,#ffc900,#ffbb00,#ffae00,#ffa200,#ff9600,#ff8700,#ff6d00,#ff5200,#ff3800,#ff1f00,#ff2c00,#ff3a00,#ff4700,#ff5400,#ff6100,#ff6d00,#ff7900,#ff8500,#ff9100,#ff9e00,#ffaa00,#ffb600,#ffbb00,#ffbb00,#ffbc00,#ffbc00,#ffbc00,#ffbc00,#ffbc00,#ffbc00,#ffc100,#ffd000,#ffdf00,#ffee00,#fffd00,#efff10,#deff21,#ccff33,#bcff43,#cdff32,#dfff20,#f0ff0f,#fffd00,#fffb00,#fffb00,#fffb00,#baff45,#baff45,#f5ff0a,#ff9900,#ff8b00,#ff8800,#ff7a00,#ff6c00,#ff5e00,#ff5800,#ff5800,#ff5800,#ff5800,#ff5800,#ff5800,#ff5800,#ffbe00,#ffbe00,#ffca00,#ffdd00,#fff000,#fffa00,#fffa00,#fffa00,#fffa00)"></div>
<div style="top:126px;background:linear-gradient(90deg,#ffe700,#ffe700,#ffe700,#ffe700,#fffd00,#cfff30,#9dff62,#6bff94,#42ffbd,#2bffd4,#13ffec,#06fff9,#41ffbe,#ffd000,#ffd000,#ffe100,#ffe700,#ffe700,#ffe700,#ffe700,#ffe700,#ffe700,#ffe700,#ffe700,#ffe700,#ffed00,#fff400,#fffb00,#fcff03,#fff700,#ffe700,#ffd800,#ffc800,#ffb600,#ffa400,#ff9100,#ff7f00,#ff7e00,#ff8a00,#ff9700,#ffa600,#ffb200,#ffb900,#ffbe00,#ffbd00,#ffb500,#ffa600,#ff9600,#ff8700,#ff7700,#ff6300,#ff5000,#ff3f00,#ff2c00,#ff1300,#f90000,#e10000,#c90000,#b90000,#9e0000,#8b0000,#850000,#800000,#880000,#970000,#980000,#980000,#00aeff,#4affb5,#4bffb4,#4bffb4,#4bffb4,#4bffb4,#4affb5,#5effa1,#7eff81,#9fff60,#bfff40,#d8ff27,#eaff15,#fbff04,#fff200,#ffe200,#ffd400,#ffc600,#ffb900,#ffa700,#ff8500,#ff6200,#ff4000,#ff1f00,#ff2800,#ff3100,#ff3b00,#ff4400,#ff4d00,#ff5500,#ff5d00,#ff6600,#ff7100,#ff7e00,#ff8b00,#ff9800,#ff9f00,#ffa300,#ffa700,#ffab00,#ffad00,#ffad00,#ffad00,#ffad00,#ffb300,#ffc500,#ffd800,#ffeb00,#fffe00,#e7ff18,#cfff30,#b7ff48,#a0ff5f,#b3ff4c,#c6ff39,#d9ff26,#ecff13,#eeff11,#eeff11,#eeff11,#89ff76,#89ff76,#c8ff37,#ffbc00,#ffad00,#ffa900,#ff9b00,#ff8c00,#ff7d00,#ff7700,#ff7700,#ff7700,#ff7700,#ff7700,#ff7700,#ff7700,#ffd000,#ffd000,#ffd800,#ffe600,#fff300,#fffa00,#fffa00,#fffa00,#fffa00)"></div>
<div style="top:128px;background:linear-gradient(90deg,#f0ff0f,#f0ff0f,#f0ff0f,#f0ff0f,#dbff24,#aeff51,#80ff7f,#53ffac,#2dffd2,#16ffe9,#00ffff,#00f3ff,#2fffd0,#ffe200,#ffe200,#faff05,#f0ff0f,#f0ff0f,#f0ff0f,#f0ff0f,#f0ff0f,#f0ff0f,#f0ff0f,#f0ff0f,#f0ff0f,#e3ff1c,#d5ff2a,#c7ff38,#baff45,#c6ff39,#d9ff26,#ebff14,#feff01,#ffe900,#ffd100,#ffb800,#ffa100,#ff9c00,#ffa500,#ffb200,#ffc200,#ffd100,#ffdd00,#ffe500,#ffe400,#ffda00,#ffca00,#ffb800,#ffa800,#ff9700,#ff7f00,#ff6800,#ff5200,#ff3e00,#ff2a00,#ff1600,#ff0200,#ed0000,#d70000,#c10000,#ac0000,#960000,#8a0000,#800000,#8c0000,#8d0000,#8d0000,#0083ff,#35ffca,#35ffca,#35ffca,#35ffca,#35ffca,#35ffca,#44ffbb,#5effa1,#78ff87,#92ff6d,#a8ff57,#bcff43,#cfff30,#e2ff1d,#f5ff0a,#fffa00,#ffeb00,#ffdb00,#ffc700,#ff9d00,#ff7200,#ff4800,#ff1f00,#ff2400,#ff2900,#ff2e00,#ff3400,#ff3800,#ff3d00,#ff4200,#ff4700,#ff5200,#ff5f00,#ff6c00,#ff7900,#ff8200,#ff8a00,#ff9200,#ff9900,#ff9d00,#ff9d00,#ff9d00,#ff9d00,#ffa500,#ffbb00,#ffd100,#ffe800,#ffff00,#e0ff1f,#c1ff3e,#a2ff5d,#85ff7a,#99ff66,#aeff51,#c2ff3d,#d6ff29,#d8ff27,#d8ff27,#d8ff27,#58ffa7,#58ffa7,#9cff63,#ffde00,#ffcf00,#ffcb00,#ffbb00,#ffac00,#ff9c00,#ff9500,#ff9500,#ff9500,#ff9500,#ff9500,#ff9500,#ff9500,#ffe200,#ffe200,#ffe700,#ffef00,#fff600,#fffa00,#fffa00,#fffa00,#fffa00)"></div>
<div style="top:130px;background:linear-gradient(90deg,#c8ff37,#c8ff37,#c8ff37,#c8ff37,#b5ff4a,#8cff73,#63ff9c,#3affc5,#18ffe7,#02fffd,#00ecff,#00e0ff,#1dffe2,#fff500,#fff500,#d8ff27,#c8ff37,#c8ff37,#c8ff37,#c8ff37,#c8ff37,#c8ff37,#c8ff37,#c8ff37,#c8ff37,#b5ff4a,#a0ff5f,#8cff73,#77ff88,#85ff7a,#9bff64,#b0ff4f,#c6ff39,#e2ff1d,#fffe00,#ffdf00,#ffc100,#ffb700,#ffbc00,#ffc300,#ffcc00,#ffd700,#ffe100,#ffe700,#ffe600,#ffdf00,#ffd400,#ffc900,#ffbf00,#ffb300,#ff9800,#ff7f00,#ff6600,#ff4f00,#ff4000,#ff3100,#ff2200,#ff1200,#f50000,#d90000,#bd0000,#a10000,#970000,#8e0000,#800000,#820000,#820000,#0059ff,#1fffe0,#1fffe0,#1fffe0,#1fffe0,#1fffe0,#1fffe0,#2bffd4,#3effc1,#51ffae,#64ff9b,#78ff87,#8eff71,#a4ff5b,#b9ff46,#cdff32,#deff21,#efff10,#fffe00,#ffe800,#ffb500,#ff8200,#ff5000,#ff1f00,#ff2000,#ff2100,#ff2200,#ff2300,#ff2400,#ff2500,#ff2600,#ff2700,#ff3200,#ff3f00,#ff4d00,#ff5a00,#ff6600,#ff7100,#ff7d00,#ff8800,#ff8e00,#ff8e00,#ff8e00,#ff8e00,#ff9600,#ffb000,#ffca00,#ffe500,#fdff02,#d8ff27,#b2ff4d,#8dff72,#69ff96,#7fff80,#95ff6a,#abff54,#c0ff3f,#c3ff3c,#c3ff3c,#c3ff3c,#27ffd8,#27ffd8,#70ff8f,#fdff02,#fff000,#ffec00,#ffdc00,#ffcc00,#ffbb00,#ffb400,#ffb400,#ffb400,#ffb400,#ffb400,#ffb400,#ffb400,#fff500,#fff500,#fff600,#fff700,#fff900,#fffa00,#fffa00,#fffa00,#fffa00)"></div>
<div style="top:132px;background:linear-gradient(90deg,#bdff42,#bdff42,#bdff42,#bdff42,#abff54,#83ff7c,#5bffa4,#34ffcb,#12ffed,#00fcff,#00e7ff,#00dbff,#17ffe8,#fffa00,#fffa00,#ceff31,#bdff42,#bdff42,#bdff42,#bdff42,#bdff42,#bdff42,#bdff42,#bdff42,#bdff42,#a8ff57,#92ff6d,#7bff84,#65ff9a,#73ff8c,#8aff75,#a0ff5f,#b6ff49,#d4ff2b,#f4ff0b,#ffea00,#ffca00,#ffbe00,#ffbf00,#ffc200,#ffc600,#ffca00,#ffcf00,#ffd100,#ffd100,#ffce00,#ffc900,#ffc500,#ffc100,#ffb800,#ff9e00,#ff8400,#ff6b00,#ff5400,#ff4700,#ff3900,#ff2b00,#ff1c00,#fe0000,#e00000,#c20000,#a40000,#990000,#8e0000,#830000,#800000,#800000,#004dff,#1dffe2,#1affe5,#1affe5,#1affe5,#1affe5,#1affe5,#24ffdb,#35ffca,#46ffb9,#58ffa7,#6bff94,#81ff7e,#97ff68,#aeff51,#c2ff3d,#d3ff2c,#e5ff1a,#f6ff09,#fff100,#ffbc00,#ff8700,#ff5200,#ff1f00,#ff1f00,#ff1f00,#ff1f00,#ff1f00,#ff1f00,#ff1f00,#ff1f00,#ff1f00,#ff2900,#ff3600,#ff4400,#ff5100,#ff5e00,#ff6a00,#ff7700,#ff8300,#ff8a00,#ff8a00,#ff8a00,#ff8a00,#ff9200,#ffae00,#ffc900,#ffe400,#fdff02,#d6ff29,#aeff51,#87ff78,#62ff9d,#78ff87,#8eff71,#a4ff5b,#baff45,#bdff42,#bdff42,#bdff42,#1affe5,#1affe5,#64ff9b,#f3ff0c,#fffa00,#fff600,#ffe500,#ffd500,#ffc400,#ffbd00,#ffbd00,#ffbd00,#ffbd00,#ffbd00,#ffbd00,#ffbd00,#fffa00,#fffa00,#fffa00,#fffa00,#fffa00,#fffa00,#fffa00,#fffa00,#fffa00)"></div>
<div style="top:134px;background:linear-gradient(90deg,#bdff42,#bdff42,#bdff42,#bdff42,#abff54,#83ff7c,#5bffa4,#34ffcb,#12ffed,#00fcff,#00e7ff,#00dbff,#17ffe8,#fffa00,#fffa00,#ceff31,#bdff42,#bdff42,#bdff42,#bdff42,#bdff42,#bdff42,#bdff42,#bdff42,#bdff42,#a8ff57,#92ff6d,#7bff84,#65ff9a,#73ff8c,#8aff75,#a0ff5f,#b6ff49,#d4ff2b,#f4ff0b,#ffea00,#ffca00,#ffbd00,#ffbd00,#ffbe00,#ffbf00,#ffc000,#ffc100,#ffc100,#ffc100,#ffc100,#ffc000,#ffbe00,#ffbe00,#ffb600,#ff9d00,#ff8400,#ff6b00,#ff5400,#ff4700,#ff3900,#ff2c00,#ff1d00,#fe0000,#e00000,#c20000,#a40000,#990000,#8e0000,#830000,#800000,#800000,#004dff,#22ffdd,#1dffe2,#1cffe3,#1affe5,#1affe5,#1affe5,#24ffdb,#35ffca,#46ffb9,#58ffa7,#6bff94,#81ff7e,#97ff68,#aeff51,#c2ff3d,#d3ff2c,#e5ff1a,#f6ff09,#fff100,#ffbc00,#ff8700,#ff5200,#ff1f00,#ff1f00,#ff1f00,#ff1f00,#ff1f00,#ff1f00,#ff1f00,#ff1f00,#ff1f00,#ff2900,#ff3600,#ff4400,#ff5100,#ff5e00,#ff6a00,#ff7700,#ff8300,#ff8a00,#ff8a00,#ff8a00,#ff8a00,#ff9200,#ffae00,#ffc900,#ffe400,#fdff02,#d6ff29,#aeff51,#87ff78,#62ff9d,#78ff87,#8eff71,#a4ff5b,#baff45,#bdff42,#bdff42,#bdff42,#1affe5,#1affe5,#64ff9b,#f3ff0c,#fffa00,#fff600,#ffe500,#ffd500,#ffc400,#ffbd00,#ffbd00,#ffbd00,#ffbd00,#ffbd00,#ffbd00,#ffbd00,#fffa00,#fffa00,#fffa00,#fffa00,#fffa00,#fffa00,#fffa00,#fffa00,#fffa00)"></div>
<div style="top:136px;background:linear-gradient(90deg,#61ff9e,#61ff9e,#61ff9e,#61ff9e,#52ffad,#32ffcd,#12ffed,#00f0ff,#00d4ff,#00bfff,#00a9ff,#009eff,#00b7ff,#1affe5,#1affe5,#4fffb0,#61ff9e,#6eff91,#89ff76,#a3ff5c,#bdff42,#bdff42,#bdff42,#bdff42,#bdff42,#cdff32,#deff21,#f0ff0f,#fffd00,#fffa00,#fffa00,#fffa00,#fffa00,#fffa00,#fffa00,#fffa00,#fffa00,#fffa00,#fffa00,#fffa00,#fffa00,#fffa00,#fffa00,#fffa00,#fffa00,#fdff02,#ecff13,#dbff24,#c9ff36,#bdff42,#bdff42,#bdff42,#bdff42,#b9ff46,#a3ff5c,#8fff70,#7dff82,#68ff97,#47ffb8,#22ffdd,#00feff,#00ddff,#00b1ff,#0086ff,#005aff,#004dff,#004dff,#0000c7,#004dff,#004dff,#0066ff,#0089ff,#00abff,#00ceff,#00c7ff,#00a4ff,#0082ff,#005fff,#0056ff,#0069ff,#007dff,#0091ff,#00a3ff,#00b2ff,#00c0ff,#00cfff,#00deff,#00edff,#00fbff,#0bfff4,#1affe5,#1affe5,#1affe5,#1affe5,#1affe5,#00feff,#00e1ff,#00c3ff,#00a6ff,#009eff,#009eff,#009eff,#009eff,#009eff,#009eff,#009eff,#009eff,#00a5ff,#00b4ff,#00c3ff,#00d1ff,#00e0ff,#00efff,#00feff,#0dfff2,#1affe5,#1affe5,#1affe5,#1affe5,#1affe5,#1affe5,#1affe5,#1affe5,#1affe5,#1affe5,#1affe5,#1affe5,#00dbff,#00dbff,#06fff9,#57ffa8,#61ff9e,#61ff9e,#61ff9e,#61ff9e,#61ff9e,#61ff9e,#61ff9e,#61ff9e,#61ff9e,#61ff9e,#61ff9e,#61ff9e,#61ff9e,#61ff9e,#61ff9e,#61ff9e,#61ff9e,#61ff9e,#61ff9e,#61ff9e,#61ff9e)"></div>
<div style="top:138px;background:linear-gradient(90deg,#ff8a00,#ff8a00,#ff8a00,#ff8a00,#ff8a00,#ff8a00,#ff8a00,#ff8a00,#ff8a00,#ff8a00,#ff8a00,#ff8a00,#ffcf00,#1affe5,#1affe5,#cbff34,#fffa00,#fff100,#ffdf00,#ffce00,#ffbd00,#ffbd00,#ffbd00,#ffbd00,#ffbd00,#ffbd00,#ffbd00,#ffbd00,#ffbd00,#ffc900,#ffd800,#ffe700,#fff600,#fffa00,#fffa00,#fffa00,#fffa00,#ffe200,#ffba00,#ff9200,#ff6b00,#ff5700,#ff5700,#ff5700,#ff5700,#ff6600,#ff8e00,#ffb600,#ffde00,#ffff00,#eeff11,#dcff23,#cbff34,#bdff42,#c0ff3f,#c7ff38,#d0ff2f,#d3ff2c,#baff45,#9aff65,#7cff83,#62ff9d,#4cffb3,#36ffc9,#20ffdf,#1dffe2,#22ffdd,#004dff,#800000,#800000,#860000,#8f0000,#970000,#a00000,#c40000,#fc0000,#ff3400,#ff6c00,#ff8a00,#ff8a00,#ff8a00,#ff8a00,#ff8e00,#ff9a00,#ffa600,#ffb300,#ffc200,#ffe200,#fcff03,#dcff23,#bbff44,#94ff6b,#6dff92,#45ffba,#1effe1,#0cfff3,#00fdff,#00eeff,#00dfff,#00dbff,#00dbff,#00dbff,#00dbff,#00dbff,#00dbff,#00dbff,#00dbff,#00e2ff,#00f1ff,#01fffe,#0ffff0,#1fffe0,#30ffcf,#42ffbd,#53ffac,#61ff9e,#61ff9e,#61ff9e,#61ff9e,#61ff9e,#61ff9e,#61ff9e,#61ff9e,#61ff9e,#61ff9e,#61ff9e,#61ff9e,#1affe5,#1affe5,#97ff68,#ff7400,#ff5700,#ff5700,#ff5700,#ff5700,#ff5700,#ff5700,#ff5700,#ff5700,#ff5700,#ff5700,#ff5700,#ff5700,#ffbd00,#ffbd00,#ffd800,#fcff03,#d3ff2c,#bdff42,#bdff42,#bdff42,#bdff42)"></div>
<div style="top:140px;background:linear-gradient(90deg,#ff8a00,#ff8a00,#ff8a00,#ff8a00,#ff8a00,#ff8a00,#ff8a00,#ff8a00,#ff8a00,#ff8a00,#ff8a00,#ff8a00,#ffcf00,#1affe5,#1affe5,#cbff34,#fffa00,#fff100,#ffdf00,#ffce00,#ffbd00,#ffbd00,#ffbd00,#ffbd00,#ffbd00,#ffbd00,#ffbd00,#ffbd00,#ffbd00,#ffc900,#ffd800,#ffe700,#fff600,#fffa00,#fffa00,#fffa00,#fffa00,#ffe200,#ffba00,#ff9200,#ff6b00,#ff5700,#ff5700,#ff5700,#ff5700,#ff6600,#ff8e00,#ffb600,#ffde00,#ffff00,#eeff11,#ddff22,#cbff34,#beff41,#c5ff3a,#d6ff29,#eeff11,#f8ff07,#daff25,#abff54,#82ff7d,#63ff9c,#4cffb3,#36ffc9,#20ffdf,#1affe5,#1dffe2,#004dff,#800000,#800000,#860000,#8f0000,#970000,#a00000,#c40000,#fc0000,#ff3400,#ff6c00,#ff8a00,#ff8a00,#ff8a00,#ff8a00,#ff8e00,#ff9a00,#ffa600,#ffb300,#ffc200,#ffe200,#fcff03,#dcff23,#bbff44,#94ff6b,#6dff92,#45ffba,#1effe1,#0cfff3,#00fdff,#00eeff,#00dfff,#00dbff,#00dbff,#00dbff,#00dbff,#00dbff,#00dbff,#00dbff,#00dbff,#00e2ff,#00f1ff,#01fffe,#0ffff0,#1fffe0,#30ffcf,#42ffbd,#53ffac,#61ff9e,#61ff9e,#61ff9e,#61ff9e,#61ff9e,#61ff9e,#61ff9e,#61ff9e,#61ff9e,#61ff9e,#61ff9e,#61ff9e,#1affe5,#1affe5,#97ff68,#ff7400,#ff5700,#ff5700,#ff5700,#ff5700,#ff5700,#ff5700,#ff5700,#ff5700,#ff5700,#ff5700,#ff5700,#ff5700,#ffbd00,#ffbd00,#ffd800,#fcff03,#d3ff2c,#bdff42,#bdff42,#bdff42,#bdff42)"></div>
<div style="top:142px;background:linear-gradient(90deg,#ff8000,#ff8000,#ff8000,#ff8000,#ff8100,#ff8300,#ff8600,#ff8800,#ff8a00,#ff8a00,#ff8a00,#ff8a00,#ffcc00,#27ffd8,#27ffd8,#d7ff28,#ffee00,#ffe600,#ffd500,#ffc400,#ffb300,#ffb300,#ffb300,#ffb300,#ffb300,#ffb100,#ffaf00,#ffac00,#ffaa00,#ffb500,#ffc400,#ffd200,#ffe100,#ffe500,#ffe500,#ffe500,#ffe500,#ffd100,#ffb100,#ff9000,#ff7000,#ff6100,#ff6400,#ff6600,#ff6800,#ff7800,#ff9b00,#ffbe00,#ffe100,#ffff00,#eeff11,#ddff22,#ccff33,#bfff40,#c5ff3a,#deff21,#fffa00,#ffe800,#f4ff0b,#b6ff49,#83ff7c,#65ff9a,#4cffb3,#36ffc9,#20ffdf,#1affe5,#1cffe3,#0068ff,#860000,#860000,#800000,#840000,#950000,#9a0000,#b80000,#e00000,#ff1700,#ff4500,#ff6200,#ff6a00,#ff7200,#ff7b00,#ff8400,#ff9000,#ff9d00,#ffa900,#ffb900,#ffdb00,#fffe00,#deff21,#bbff44,#94ff6b,#6dff92,#45ffba,#1effe1,#0cfff3,#00fdff,#00eeff,#00dfff,#00d9ff,#00d6ff,#00d4ff,#00d1ff,#00d0ff,#00d0ff,#00d0ff,#00d0ff,#00d7ff,#00e5ff,#00f4ff,#04fffb,#14ffeb,#28ffd7,#3cffc3,#50ffaf,#63ff9c,#6dff92,#77ff88,#81ff7e,#8bff74,#81ff7e,#76ff89,#6cff93,#62ff9d,#61ff9e,#61ff9e,#61ff9e,#1affe5,#1affe5,#97ff68,#ff7400,#ff5700,#ff5700,#ff5700,#ff5700,#ff5700,#ff5700,#ff5700,#ff5700,#ff5700,#ff5700,#ff5700,#ff5700,#ffc800,#ffc800,#ffe100,#f7ff08,#d1ff2e,#bdff42,#bdff42,#bdff42,#bdff42)"></div>
<div style="top:144px;background:linear-gradient(90deg,#ff7400,#ff7400,#ff7400,#ff7400,#ff7600,#ff7b00,#ff8100,#ff8600,#ff8a00,#ff8a00,#ff8a00,#ff8a00,#ffc900,#38ffc7,#38ffc7,#e6ff19,#ffdf00,#ffd700,#ffc700,#ffb600,#ffa700,#ffa700,#ffa700,#ffa700,#ffa700,#ffa200,#ff9c00,#ff9700,#ff9200,#ff9c00,#ffaa00,#ffb800,#ffc500,#ffc900,#ffc900,#ffc900,#ffc900,#ffbb00,#ffa500,#ff8e00,#ff7800,#ff6f00,#ff7400,#ff7a00,#ff7f00,#ff8e00,#ffab00,#ffc800,#ffe500,#fffe00,#efff10,#deff21,#cdff32,#beff41,#bfff40,#d5ff2a,#fbff04,#fff100,#eaff15,#adff52,#7eff81,#64ff9b,#4cffb3,#36ffc9,#20ffdf,#1affe5,#1affe5,#008bff,#8f0000,#8f0000,#850000,#800000,#830000,#8d0000,#9b0000,#a30000,#a30000,#ff1300,#ff2f00,#ff4200,#ff5400,#ff6700,#ff7800,#ff8400,#ff9000,#ff9c00,#ffad00,#ffd200,#fff800,#e1ff1e,#bbff44,#94ff6b,#6dff92,#45ffba,#1effe1,#0cfff3,#00fdff,#00eeff,#00dfff,#00d7ff,#00d0ff,#00caff,#00c3ff,#00c1ff,#00c1ff,#00c1ff,#00c1ff,#00c8ff,#00d6ff,#00e5ff,#00f4ff,#07fff8,#1effe1,#36ffc9,#4effb1,#65ff9a,#7dff82,#94ff6b,#abff54,#c1ff3e,#aaff55,#92ff6d,#7bff84,#63ff9c,#61ff9e,#61ff9e,#61ff9e,#1affe5,#1affe5,#97ff68,#ff7400,#ff5700,#ff5700,#ff5700,#ff5700,#ff5700,#ff5700,#ff5700,#ff5700,#ff5700,#ff5700,#ff5700,#ff5700,#ffd700,#ffd700,#ffed00,#f0ff0f,#ceff31,#bdff42,#bdff42,#bdff42,#bdff42)"></div>
<div style="top:146px;background:linear-gradient(90deg,#ff6700,#ff6700,#ff6700,#ff6700,#ff6b00,#ff7300,#ff7c00,#ff8400,#ff8a00,#ff8a00,#ff8a00,#ff8a00,#ffc500,#4affb5,#4affb5,#f6ff09,#ffd000,#ffc800,#ffb900,#ffa900,#ff9a00,#ff9a00,#ff9a00,#ff9a00,#ff9a00,#ff9200,#ff8a00,#ff8200,#ff7900,#ff8200,#ff9000,#ff9d00,#ffaa00,#ffae00,#ffae00,#ffae00,#ffae00,#ffa600,#ff9900,#ff8c00,#ff7f00,#ff7c00,#ff8500,#ff8d00,#ff9600,#ffa400,#ffbb00,#ffd200,#ffe800,#fffd00,#f1ff0e,#e0ff1f,#ceff31,#beff41,#b5ff4a,#baff45,#ccff33,#d1ff2e,#b8ff47,#90ff6f,#72ff8d,#63ff9c,#4cffb3,#36ffc9,#20ffdf,#1affe5,#1affe5,#00adff,#980000,#980000,#950000,#840000,#800000,#810000,#860000,#8a0000,#940000,#a30000,#fb0000,#ff1900,#ff3600,#ff5300,#ff6b00,#ff7700,#ff8400,#ff9000,#ffa100,#ffca00,#fff200,#e4ff1b,#bbff44,#94ff6b,#6dff92,#45ffba,#1effe1,#0cfff3,#00fdff,#00eeff,#00dfff,#00d4ff,#00caff,#00c0ff,#00b6ff,#00b2ff,#00b2ff,#00b2ff,#00b2ff,#00b9ff,#00c8ff,#00d6ff,#00e5ff,#00f8ff,#14ffeb,#2fffd0,#4bffb4,#68ff97,#8cff73,#b1ff4e,#d6ff29,#f7ff08,#d3ff2c,#aeff51,#89ff76,#65ff9a,#61ff9e,#61ff9e,#61ff9e,#1affe5,#1affe5,#97ff68,#ff7400,#ff5700,#ff5700,#ff5700,#ff5700,#ff5700,#ff5700,#ff5700,#ff5700,#ff5700,#ff5700,#ff5700,#ff5700,#ffe600,#ffe600,#fff900,#e9ff16,#ccff33,#bdff42,#bdff42,#bdff42,#bdff42)"></div>
<div style="top:148px;background:linear-gradient(90deg,#ff5b00,#ff5b00,#ff5b00,#ff5b00,#ff6000,#ff6b00,#ff7700,#ff8200,#ff8a00,#ff8a00,#ff8a00,#ff8a00,#ffc200,#5bffa4,#5bffa4,#fff900,#ffc200,#ffba00,#ffab00,#ff9c00,#ff8e00,#ff8e00,#ff8e00,#ff8e00,#ff8e00,#ff8300,#ff7800,#ff6c00,#ff6100,#ff6900,#ff7600,#ff8200,#ff8f00,#ff9300,#ff9200,#ff9200,#ff9200,#ff9000,#ff8c00,#ff8900,#ff8500,#ff8900,#ff9300,#ff9f00,#ffab00,#ffb900,#ffca00,#ffdb00,#ffeb00,#fffa00,#f4ff0b,#e3ff1c,#d2ff2d,#bfff40,#abff54,#9dff62,#96ff69,#8bff74,#81ff7e,#71ff8e,#66ff99,#62ff9d,#4cffb3,#36ffc9,#20ffdf,#1affe5,#1affe5,#00d0ff,#a00000,#a00000,#9b0000,#900000,#820000,#800000,#800000,#830000,#8a0000,#940000,#a20000,#ef0000,#ff1800,#ff4000,#ff5f00,#ff6b00,#ff7700,#ff8400,#ff9500,#ffc100,#ffec00,#e7ff18,#bbff44,#94ff6b,#6dff92,#45ffba,#1effe1,#0cfff3,#00fdff,#00eeff,#00dfff,#00d1ff,#00c4ff,#00b6ff,#00a8ff,#00a3ff,#00a3ff,#00a3ff,#00a3ff,#00aaff,#00b9ff,#00c7ff,#00d6ff,#00eaff,#0afff5,#29ffd6,#48ffb7,#6aff95,#9cff63,#ceff31,#fffe00,#ffd000,#fcff03,#caff35,#98ff67,#66ff99,#61ff9e,#61ff9e,#61ff9e,#1affe5,#1affe5,#97ff68,#ff7400,#ff5700,#ff5700,#ff5700,#ff5700,#ff5700,#ff5700,#ff5700,#ff5700,#ff5700,#ff5700,#ff5700,#ff5700,#fff500,#fff500,#f9ff06,#e1ff1e,#c9ff36,#bdff42,#bdff42,#bdff42,#bdff42)"></div>
<div style="top:150px;background:linear-gradient(90deg,#ff5f00,#ff5f00,#ff5f00,#ff5f00,#ff6400,#ff6e00,#ff7900,#ff8300,#ff8b00,#ff8e00,#ff9100,#ff9200,#ffc400,#70ff8f,#70ff8f,#fff000,#ffbd00,#ffb400,#ffa300,#ff9200,#ff8100,#ff8100,#ff8100,#ff8100,#ff8100,#ff7800,#ff6d00,#ff6300,#ff5900,#ff5f00,#ff6a00,#ff7400,#ff7e00,#ff8400,#ff8800,#ff8c00,#ff9000,#ff9100,#ff9000,#ff8e00,#ff8d00,#ff9000,#ff9800,#ffa200,#ffae00,#ffbb00,#ffc700,#ffd200,#ffdb00,#ffe500,#fff500,#f8ff07,#e4ff1b,#cfff30,#b9ff46,#a6ff59,#94ff6b,#84ff7b,#82ff7d,#7fff80,#7dff82,#7cff83,#62ff9d,#48ffb7,#2effd1,#25ffda,#25ffda,#00c4ff,#c90000,#c90000,#bd0000,#9e0000,#870000,#800000,#800000,#800000,#830000,#890000,#940000,#a20000,#f90000,#ff2000,#ff3e00,#ff4d00,#ff5c00,#ff6b00,#ff7f00,#ffa600,#ffcd00,#fff500,#e2ff1d,#b8ff47,#8eff71,#63ff9c,#39ffc6,#24ffdb,#11ffee,#00fdff,#00eaff,#00daff,#00ccff,#00bdff,#00aeff,#00a8ff,#00a8ff,#00a8ff,#00a8ff,#00afff,#00beff,#00cdff,#00dbff,#00f1ff,#16ffe9,#3affc5,#5effa1,#85ff7a,#b9ff46,#edff12,#ffde00,#ffae00,#ffdf00,#eeff11,#bcff43,#8bff74,#86ff79,#86ff79,#86ff79,#25ffda,#25ffda,#9dff62,#ff7b00,#ff5f00,#ff6000,#ff6200,#ff6400,#ff6700,#ff6600,#ff6400,#ff6100,#ff5f00,#ff5f00,#ff5f00,#ff5f00,#fff000,#fff000,#feff01,#e4ff1b,#caff35,#bdff42,#bdff42,#bdff42,#bdff42)"></div>
<div style="top:152px;background:linear-gradient(90deg,#ff6c00,#ff6c00,#ff6c00,#ff6c00,#ff6f00,#ff7600,#ff7e00,#ff8500,#ff8c00,#ff9300,#ff9b00,#ff9f00,#ffca00,#87ff78,#87ff78,#ffea00,#ffbd00,#ffb200,#ff9d00,#ff8900,#ff7500,#ff7500,#ff7500,#ff7500,#ff7500,#ff6e00,#ff6700,#ff5f00,#ff5800,#ff5d00,#ff6400,#ff6b00,#ff7300,#ff7c00,#ff8600,#ff9000,#ff9900,#ff9c00,#ff9a00,#ff9600,#ff9100,#ff8e00,#ff8f00,#ff9500,#ffa200,#ffb000,#ffba00,#ffc000,#ffc200,#ffc700,#ffd700,#ffe900,#ffff00,#e7ff18,#d5ff2a,#c3ff3c,#b3ff4c,#a5ff5a,#a5ff5a,#a4ff5b,#a4ff5b,#a4ff5b,#84ff7b,#62ff9d,#41ffbe,#37ffc8,#37ffc8,#00a1ff,#ff0200,#ff0200,#ed0000,#a50000,#8b0000,#840000,#800000,#800000,#800000,#830000,#890000,#930000,#a20000,#f90000,#ff1400,#ff2700,#ff3a00,#ff4e00,#ff6300,#ff8300,#ffa300,#ffc300,#ffe300,#edff12,#beff41,#90ff6f,#61ff9e,#46ffb9,#2dffd2,#14ffeb,#00fbff,#00e9ff,#00dbff,#00ccff,#00bdff,#00b7ff,#00b7ff,#00b7ff,#00b7ff,#00beff,#00cdff,#00dcff,#00eaff,#03fffc,#2dffd2,#57ffa8,#81ff7e,#acff53,#ddff22,#fff100,#ffc100,#ff9500,#ffbf00,#ffe900,#ebff14,#c1ff3e,#bdff42,#bdff42,#bdff42,#37ffc8,#37ffc8,#a5ff5a,#ff8500,#ff6c00,#ff6d00,#ff7300,#ff7800,#ff7e00,#ff7d00,#ff7700,#ff7000,#ff6c00,#ff6c00,#ff6c00,#ff6c00,#ffe100,#ffe100,#fff400,#ebff14,#cdff32,#bdff42,#bdff42,#bdff42,#bdff42)"></div>
<div style="top:154px;background:linear-gradient(90deg,#ff7800,#ff7800,#ff7800,#ff7800,#ff7a00,#ff7e00,#ff8300,#ff8700,#ff8e00,#ff9900,#ffa500,#ffab00,#ffcf00,#9dff62,#9dff62,#ffe500,#ffbd00,#ffb000,#ff9800,#ff8000,#ff6800,#ff6800,#ff6800,#ff6800,#ff6800,#ff6400,#ff6000,#ff5c00,#ff5700,#ff5a00,#ff5f00,#ff6300,#ff6700,#ff7400,#ff8400,#ff9400,#ffa300,#ffa600,#ffa200,#ff9b00,#ff8f00,#ff8300,#ff7b00,#ff7e00,#ff8d00,#ffa100,#ffab00,#ffad00,#ffa900,#ffa900,#ffb800,#ffcb00,#ffe200,#fffc00,#f1ff0e,#e2ff1d,#d6ff29,#cdff32,#ccff33,#ccff33,#ccff33,#ccff33,#a5ff5a,#7dff82,#55ffaa,#48ffb7,#48ffb7,#007eff,#ff3a00,#ff3a00,#ff1d00,#f50000,#960000,#8b0000,#840000,#800000,#800000,#800000,#830000,#890000,#930000,#a20000,#e80000,#ff0100,#ff1900,#ff3000,#ff4800,#ff6000,#ff7800,#ff9000,#ffaa00,#ffdc00,#efff10,#bcff43,#8aff75,#69ff96,#4affb5,#2bffd4,#0cfff3,#00f8ff,#00e9ff,#00dbff,#00ccff,#00c6ff,#00c6ff,#00c6ff,#00c6ff,#00cdff,#00dcff,#00ebff,#00f9ff,#14ffeb,#44ffbb,#74ff8b,#a4ff5b,#d4ff2b,#fffe00,#ffd100,#ffa500,#ff7b00,#ff9e00,#ffc100,#ffe400,#f7ff08,#f4ff0b,#f4ff0b,#f4ff0b,#48ffb7,#48ffb7,#adff52,#ff8f00,#ff7800,#ff7a00,#ff8300,#ff8c00,#ff9500,#ff9400,#ff8a00,#ff7f00,#ff7800,#ff7800,#ff7800,#ff7800,#ffd200,#ffd200,#ffe800,#f2ff0d,#cfff30,#bdff42,#bdff42,#bdff42,#bdff42)"></div>
<div style="top:156px;background:linear-gradient(90deg,#ff8500,#ff8500,#ff8500,#ff8500,#ff8500,#ff8600,#ff8800,#ff8900,#ff8f00,#ff9f00,#ffaf00,#ffb800,#ffd500,#b3ff4c,#b3ff4c,#ffe000,#ffbd00,#ffae00,#ff9300,#ff7700,#ff5c00,#ff5c00,#ff5c00,#ff5c00,#ff5c00,#ff5b00,#ff5900,#ff5800,#ff5700,#ff5800,#ff5900,#ff5a00,#ff5c00,#ff6c00,#ff8200,#ff9700,#ffab00,#ffb000,#ffa900,#ff9f00,#ff9100,#ff8100,#ff7700,#ff7900,#ff8900,#ff9b00,#ffa100,#ff9c00,#ff9100,#ff8d00,#ff9b00,#ffad00,#ffc500,#ffe100,#fff000,#fffc00,#faff05,#f5ff0a,#f4ff0b,#f4ff0b,#f3ff0c,#f3ff0c,#c6ff39,#97ff68,#68ff97,#5affa5,#5affa5,#005bff,#ff7200,#ff7200,#ff4d00,#ff1a00,#e60000,#960000,#8b0000,#840000,#800000,#800000,#800000,#830000,#890000,#930000,#a20000,#da0000,#f60000,#ff1300,#ff2c00,#ff3d00,#ff4e00,#ff5e00,#ff7000,#ffa700,#ffde00,#e9ff16,#b2ff4d,#8bff74,#66ff99,#41ffbe,#1dffe2,#08fff7,#00f8ff,#00eaff,#00dbff,#00d5ff,#00d5ff,#00d5ff,#00d5ff,#00dcff,#00ebff,#00f9ff,#09fff6,#25ffda,#5bffa4,#91ff6e,#c7ff38,#fbff04,#ffda00,#ffb100,#ff8800,#ff6200,#ff7e00,#ff9900,#ffb500,#ffd100,#ffd400,#ffd400,#ffd400,#5affa5,#5affa5,#b5ff4a,#ff9900,#ff8500,#ff8800,#ff9400,#ffa000,#ffad00,#ffaa00,#ff9c00,#ff8f00,#ff8500,#ff8500,#ff8500,#ff8500,#ffc300,#ffc300,#ffdd00,#f9ff06,#d1ff2e,#bdff42,#bdff42,#bdff42,#bdff42)"></div>
<div style="top:158px;background:linear-gradient(90deg,#ff8200,#ff8200,#ff8200,#ff8200,#ff8200,#ff8200,#ff8200,#ff8200,#ff8900,#ff9a00,#ffac00,#ffb500,#ffcf00,#c7ff38,#c7ff38,#ffd500,#ffb500,#ffa600,#ff8900,#ff6b00,#ff4f00,#ff4f00,#ff4f00,#ff4f00,#ff4f00,#ff4f00,#ff4f00,#ff4f00,#ff4f00,#ff4f00,#ff4f00,#ff4f00,#ff4f00,#ff5f00,#ff7600,#ff8d00,#ffa100,#ffa600,#ffa000,#ff9800,#ff8e00,#ff8500,#ff8000,#ff8300,#ff8c00,#ff9500,#ff9400,#ff8b00,#ff7f00,#ff7a00,#ff8600,#ff9400,#ffab00,#ffc800,#ffd700,#ffe100,#ffe700,#ffe800,#ffeb00,#ffed00,#ffef00,#fff100,#deff21,#adff52,#7dff82,#6eff91,#6eff91,#0058ff,#ff8a00,#ff8a00,#ff6500,#ff3400,#ff0300,#d00000,#960000,#8b0000,#840000,#810000,#800000,#800000,#830000,#890000,#930000,#a10000,#dc0000,#f60000,#ff1000,#ff2000,#ff3000,#ff3f00,#ff5100,#ff8900,#ffc100,#fff900,#cdff32,#a4ff5b,#7cff83,#55ffaa,#2effd1,#18ffe7,#09fff6,#00f9ff,#00eaff,#00e4ff,#00e4ff,#00e4ff,#00e4ff,#00eaff,#00f7ff,#04fffb,#11ffee,#2cffd3,#64ff9b,#9dff62,#d6ff29,#fff300,#ffcb00,#ffa400,#ff7d00,#ff5800,#ff7000,#ff8900,#ffa200,#ffba00,#ffbd00,#ffbd00,#ffbd00,#61ff9e,#61ff9e,#b8ff47,#ff9e00,#ff8a00,#ff8d00,#ff9800,#ffa400,#ffb000,#ffad00,#ff9d00,#ff8e00,#ff8200,#ff8200,#ff8200,#ff8200,#ffb500,#ffb500,#ffd200,#fffe00,#d4ff2b,#bdff42,#bdff42,#bdff42,#bdff42)"></div>
<div style="top:160px;background:linear-gradient(90deg,#ff7600,#ff7600,#ff7600,#ff7600,#ff7600,#ff7600,#ff7600,#ff7600,#ff7c00,#ff8e00,#ffa000,#ffa900,#ffc200,#d8ff27,#d8ff27,#ffc800,#ffa900,#ff9a00,#ff7c00,#ff5e00,#ff4100,#ff4100,#ff4100,#ff4100,#ff4100,#ff4100,#ff4100,#ff4100,#ff4100,#ff4100,#ff4100,#ff4100,#ff4100,#ff5000,#ff6400,#ff7800,#ff8a00,#ff9000,#ff8d00,#ff8800,#ff8200,#ff7d00,#ff7b00,#ff7e00,#ff8200,#ff8500,#ff8200,#ff7b00,#ff7100,#ff6e00,#ff7700,#ff8100,#ff9500,#ffb200,#ffc100,#ffcb00,#ffce00,#ffcd00,#ffd300,#ffd800,#ffdd00,#ffe200,#efff10,#c1ff3e,#93ff6c,#84ff7b,#84ff7b,#006cff,#ff8a00,#ff8a00,#ff6d00,#ff4600,#ff1f00,#f80000,#db0000,#970000,#8b0000,#840000,#810000,#800000,#800000,#830000,#890000,#930000,#a10000,#dd0000,#f20000,#ff0600,#ff1a00,#ff2e00,#ff4300,#ff7a00,#ffb100,#ffe800,#deff21,#b5ff4a,#8eff71,#66ff99,#3fffc0,#29ffd6,#1affe5,#0afff5,#00f9ff,#00f3ff,#00f3ff,#00f3ff,#00f3ff,#00f7ff,#01fffe,#0afff5,#13ffec,#2cffd3,#64ff9b,#9dff62,#d6ff29,#fff300,#ffcb00,#ffa400,#ff7d00,#ff5800,#ff7000,#ff8900,#ffa200,#ffba00,#ffbd00,#ffbd00,#ffbd00,#61ff9e,#61ff9e,#b8ff47,#ff9e00,#ff8a00,#ff8c00,#ff9400,#ff9d00,#ffa500,#ffa000,#ff9100,#ff8100,#ff7600,#ff7600,#ff7600,#ff7600,#ffa900,#ffa900,#ffc800,#fff800,#d6ff29,#bdff42,#bdff42,#bdff42,#bdff42)"></div>
<div style="top:162px;background:linear-gradient(90deg,#ff6a00,#ff6a00,#ff6a00,#ff6a00,#ff6a00,#ff6a00,#ff6a00,#ff6a00,#ff7000,#ff8100,#ff9300,#ff9d00,#ffb400,#eaff15,#eaff15,#ffba00,#ff9d00,#ff8d00,#ff6f00,#ff5100,#ff3300,#ff3300,#ff3300,#ff3300,#ff3300,#ff3300,#ff3300,#ff3300,#ff3300,#ff3300,#ff3300,#ff3300,#ff3300,#ff4000,#ff5200,#ff6300,#ff7300,#ff7b00,#ff7c00,#ff7a00,#ff7600,#ff7200,#ff6f00,#ff7000,#ff7200,#ff7200,#ff7000,#ff6c00,#ff6600,#ff6400,#ff6b00,#ff7300,#ff8500,#ffa100,#ffae00,#ffb500,#ffb500,#ffb200,#ffbb00,#ffc300,#ffcb00,#ffd300,#fffe00,#d4ff2b,#a9ff56,#9bff64,#9bff64,#0080ff,#ff8a00,#ff8a00,#ff7500,#ff5900,#ff3c00,#ff2000,#ff0300,#e30000,#970000,#8b0000,#840000,#810000,#800000,#800000,#830000,#890000,#930000,#a10000,#d50000,#ec0000,#ff0500,#ff1c00,#ff3500,#ff6b00,#ffa200,#ffd800,#f0ff0f,#c7ff38,#9fff60,#78ff87,#50ffaf,#3affc5,#2affd5,#1affe5,#09fff6,#03fffc,#03fffc,#03fffc,#03fffc,#05fffa,#0bfff4,#10ffef,#16ffe9,#2cffd3,#64ff9b,#9dff62,#d6ff29,#fff300,#ffcb00,#ffa400,#ff7d00,#ff5800,#ff7000,#ff8900,#ffa200,#ffba00,#ffbd00,#ffbd00,#ffbd00,#61ff9e,#61ff9e,#b8ff47,#ff9e00,#ff8a00,#ff8b00,#ff9000,#ff9500,#ff9a00,#ff9400,#ff8400,#ff7500,#ff6a00,#ff6a00,#ff6a00,#ff6a00,#ff9d00,#ff9d00,#ffbe00,#fff200,#d8ff27,#bdff42,#bdff42,#bdff42,#bdff42)"></div>
<div style="top:164px;background:linear-gradient(90deg,#ff5d00,#ff5d00,#ff5d00,#ff5d00,#ff5d00,#ff5d00,#ff5d00,#ff5d00,#ff6300,#ff7500,#ff8700,#ff9000,#ffa700,#fbff04,#fbff04,#ffac00,#ff9000,#ff8000,#ff6200,#ff4300,#ff2600,#ff2600,#ff2600,#ff2600,#ff2600,#ff2600,#ff2600,#ff2600,#ff2600,#ff2600,#ff2600,#ff2600,#ff2600,#ff3000,#ff4000,#ff4f00,#ff5d00,#ff6700,#ff6c00,#ff6d00,#ff6c00,#ff6800,#ff6500,#ff6500,#ff6200,#ff6000,#ff5f00,#ff5e00,#ff5c00,#ff5d00,#ff6400,#ff6b00,#ff7a00,#ff9300,#ff9e00,#ffa100,#ff9e00,#ff9700,#ffa300,#ffae00,#ffb900,#ffc400,#ffed00,#e8ff17,#beff41,#b1ff4e,#b1ff4e,#0094ff,#ff8a00,#ff8a00,#ff7d00,#ff6b00,#ff5900,#ff4700,#ff2900,#ff0200,#db0000,#970000,#8c0000,#840000,#810000,#800000,#800000,#830000,#890000,#930000,#a10000,#d30000,#ee0000,#ff0b00,#ff2700,#ff5d00,#ff9200,#ffc800,#fffd00,#d8ff27,#b1ff4e,#89ff76,#62ff9d,#4bffb4,#3affc5,#29ffd6,#19ffe6,#12ffed,#12ffed,#12ffed,#12ffed,#13ffec,#15ffea,#16ffe9,#18ffe7,#2cffd3,#64ff9b,#9dff62,#d6ff29,#fff300,#ffcb00,#ffa400,#ff7d00,#ff5800,#ff7000,#ff8900,#ffa200,#ffba00,#ffbd00,#ffbd00,#ffbd00,#61ff9e,#61ff9e,#b8ff47,#ff9e00,#ff8a00,#ff8a00,#ff8c00,#ff8e00,#ff8f00,#ff8700,#ff7800,#ff6800,#ff5d00,#ff5d00,#ff5d00,#ff5d00,#ff9000,#ff9000,#ffb400,#ffec00,#daff25,#bdff42,#bdff42,#bdff42,#bdff42)"></div>
<div style="top:166px;background:linear-gradient(90deg,#ff5d00,#ff5d00,#ff5d00,#ff5d00,#ff5d00,#ff5d00,#ff5d00,#ff5d00,#ff6300,#ff7500,#ff8600,#ff9000,#ffa500,#fffa00,#fffa00,#ffa500,#ff8a00,#ff7a00,#ff5b00,#ff3c00,#ff1f00,#ff1b00,#ff1700,#ff1400,#ff1000,#ff1300,#ff1700,#ff1a00,#ff1e00,#ff1f00,#ff1f00,#ff1f00,#ff1f00,#ff2700,#ff3400,#ff4000,#ff4c00,#ff5800,#ff6200,#ff6700,#ff6800,#ff6400,#ff6100,#ff5f00,#ff5b00,#ff5600,#ff5500,#ff5400,#ff5300,#ff5700,#ff5f00,#ff6600,#ff7500,#ff8c00,#ff9400,#ff9500,#ff9000,#ff8a00,#ff9500,#ffa000,#ffab00,#ffb600,#ffdd00,#f9ff06,#d2ff2d,#c5ff3a,#c5ff3a,#00a5ff,#ff9000,#ff9000,#ff8700,#ff7a00,#ff6e00,#ff6200,#ff4400,#ff1b00,#f10000,#c80000,#970000,#8c0000,#840000,#810000,#800000,#800000,#830000,#890000,#930000,#a10000,#da0000,#f50000,#ff1200,#ff4500,#ff7900,#ffad00,#ffe100,#f4ff0b,#cdff32,#a6ff59,#7eff81,#65ff9a,#52ffad,#3effc1,#2affd5,#22ffdd,#22ffdd,#22ffdd,#22ffdd,#22ffdd,#22ffdd,#22ffdd,#22ffdd,#34ffcb,#6dff92,#a5ff5a,#ddff22,#ffec00,#ffc800,#ffa400,#ff8000,#ff5e00,#ff7500,#ff8c00,#ffa300,#ffba00,#ffbd00,#ffbd00,#ffbd00,#61ff9e,#61ff9e,#baff45,#ff9800,#ff8400,#ff8400,#ff8400,#ff8400,#ff8400,#ff7b00,#ff6b00,#ff5b00,#ff5000,#ff5000,#ff5000,#ff5000,#ff8a00,#ff8a00,#ffad00,#ffe500,#e2ff1d,#c5ff3a,#c5ff3a,#c5ff3a,#c5ff3a)"></div>
<div style="top:168px;background:linear-gradient(90deg,#ff6900,#ff6900,#ff6900,#ff6900,#ff6900,#ff6900,#ff6900,#ff6900,#ff6f00,#ff8100,#ff9300,#ff9c00,#ffaf00,#fffa00,#fffa00,#ffa500,#ff8a00,#ff7a00,#ff5b00,#ff3c00,#ff1e00,#ff1300,#ff0900,#fd0000,#f20000,#fb0000,#ff0700,#ff1200,#ff1d00,#ff1f00,#ff1f00,#ff1f00,#ff1f00,#ff2500,#ff2e00,#ff3700,#ff4100,#ff4f00,#ff5c00,#ff6400,#ff6700,#ff6500,#ff6100,#ff5f00,#ff5b00,#ff5500,#ff5100,#ff4d00,#ff4b00,#ff5000,#ff5c00,#ff6400,#ff7300,#ff8800,#ff8f00,#ff9100,#ff8e00,#ff8900,#ff9200,#ff9a00,#ffa200,#ffaa00,#ffcf00,#fff500,#e3ff1c,#d7ff28,#d7ff28,#00b4ff,#ff9c00,#ff9c00,#ff9300,#ff8700,#ff7a00,#ff6e00,#ff5300,#ff2e00,#ff0900,#e40000,#c80000,#970000,#8c0000,#840000,#810000,#800000,#800000,#830000,#890000,#920000,#a10000,#dc0000,#f30000,#ff2500,#ff5600,#ff8800,#ffb900,#ffe200,#f5ff0a,#ceff31,#a6ff59,#89ff76,#70ff8f,#57ffa8,#3dffc2,#33ffcc,#33ffcc,#33ffcc,#33ffcc,#33ffcc,#33ffcc,#33ffcc,#33ffcc,#45ffba,#7dff82,#b5ff4a,#edff12,#ffde00,#ffc100,#ffa300,#ff8600,#ff6a00,#ff7e00,#ff9200,#ffa600,#ffbb00,#ffbd00,#ffbd00,#ffbd00,#61ff9e,#61ff9e,#beff41,#ff8d00,#ff7700,#ff7700,#ff7700,#ff7700,#ff7700,#ff6e00,#ff5e00,#ff4e00,#ff4200,#ff4200,#ff4200,#ff4200,#ff8a00,#ff8a00,#ffaa00,#ffdc00,#f1ff0e,#d7ff28,#d7ff28,#d7ff28,#d7ff28)"></div>
<div style="top:170px;background:linear-gradient(90deg,#ff7600,#ff7600,#ff7600,#ff7600,#ff7600,#ff7600,#ff7600,#ff7600,#ff7c00,#ff8e00,#ff9f00,#ffa900,#ffb900,#fffa00,#fffa00,#ffa500,#ff8a00,#ff7a00,#ff5b00,#ff3c00,#ff1e00,#ff0c00,#f90000,#e70000,#d50000,#e40000,#f60000,#ff0900,#ff1b00,#ff1f00,#ff1f00,#ff1f00,#ff1f00,#ff2300,#ff2800,#ff2f00,#ff3500,#ff4500,#ff5600,#ff6200,#ff6800,#ff6700,#ff6300,#ff6000,#ff5b00,#ff5400,#ff4d00,#ff4700,#ff4300,#ff4700,#ff5600,#ff6200,#ff7100,#ff8500,#ff8b00,#ff8d00,#ff8c00,#ff8900,#ff8f00,#ff9400,#ff9900,#ff9e00,#ffc100,#ffe600,#f4ff0b,#e8ff17,#e8ff17,#00c3ff,#ffa900,#ffa900,#ffa000,#ff9300,#ff8700,#ff7b00,#ff6200,#ff4200,#ff2100,#ff0000,#e40000,#ce0000,#970000,#8c0000,#850000,#810000,#800000,#800000,#830000,#880000,#920000,#a00000,#d50000,#ff0500,#ff3400,#ff6300,#ff9200,#ffba00,#ffe100,#f5ff0a,#ceff31,#adff52,#8eff71,#70ff8f,#51ffae,#45ffba,#45ffba,#45ffba,#45ffba,#45ffba,#45ffba,#45ffba,#45ffba,#57ffa8,#8eff71,#c5ff3a,#fcff03,#ffd100,#ffba00,#ffa300,#ff8c00,#ff7600,#ff8800,#ff9900,#ffaa00,#ffbb00,#ffbd00,#ffbd00,#ffbd00,#61ff9e,#61ff9e,#c2ff3d,#ff8100,#ff6b00,#ff6b00,#ff6b00,#ff6b00,#ff6b00,#ff6100,#ff5100,#ff4000,#ff3500,#ff3500,#ff3500,#ff3500,#ff8a00,#ff8a00,#ffa600,#ffd300,#ffff00,#e8ff17,#e8ff17,#e8ff17,#e8ff17)"></div>
<div style="top:172px;background:linear-gradient(90deg,#ff8200,#ff8200,#ff8200,#ff8200,#ff8200,#ff8200,#ff8200,#ff8200,#ff8800,#ff9a00,#ffac00,#ffb500,#ffc300,#fffa00,#fffa00,#ffa500,#ff8a00,#ff7a00,#ff5b00,#ff3c00,#ff1e00,#ff0500,#ea0000,#d10000,#b70000,#cd0000,#e60000,#ff0100,#ff1a00,#ff1f00,#ff1f00,#ff1f00,#ff1f00,#ff2000,#ff2300,#ff2600,#ff2a00,#ff3a00,#ff5000,#ff6000,#ff6a00,#ff6a00,#ff6500,#ff6100,#ff5c00,#ff5300,#ff4900,#ff3f00,#ff3800,#ff3b00,#ff4e00,#ff5d00,#ff6e00,#ff8100,#ff8600,#ff8900,#ff8a00,#ff8900,#ff8c00,#ff8d00,#ff8f00,#ff9100,#ffb300,#ffd600,#fff900,#faff05,#faff05,#00d2ff,#ffb500,#ffb500,#ffac00,#ffa000,#ff9300,#ff8700,#ff7100,#ff5500,#ff3800,#ff1c00,#ff0000,#e50000,#ca0000,#980000,#8c0000,#850000,#810000,#800000,#800000,#830000,#880000,#920000,#a00000,#e30000,#ff1100,#ff3d00,#ff6a00,#ff9200,#ffb900,#ffe100,#f6ff09,#d1ff2e,#adff52,#89ff76,#65ff9a,#56ffa9,#56ffa9,#56ffa9,#56ffa9,#56ffa9,#56ffa9,#56ffa9,#56ffa9,#68ff97,#9eff61,#d5ff2a,#fff200,#ffc300,#ffb200,#ffa200,#ff9200,#ff8300,#ff9100,#ff9f00,#ffad00,#ffbb00,#ffbd00,#ffbd00,#ffbd00,#61ff9e,#61ff9e,#c6ff39,#ff7500,#ff5e00,#ff5e00,#ff5e00,#ff5e00,#ff5e00,#ff5500,#ff4400,#ff3300,#ff2700,#ff2700,#ff2700,#ff2700,#ff8a00,#ff8a00,#ffa300,#ffc900,#fff000,#faff05,#faff05,#faff05,#faff05)"></div>
<div style="top:174px;background:linear-gradient(90deg,#ff9400,#ff9400,#ff9400,#ff9400,#ff9500,#ff9700,#ff9900,#ff9a00,#ffa200,#ffb500,#ffc800,#ffd200,#ffd900,#fff400,#fff400,#ffa400,#ff8a00,#ff7b00,#ff5d00,#ff4000,#ff2300,#ff0700,#ea0000,#cd0000,#b10000,#c80000,#e30000,#fe0000,#ff1a00,#ff1f00,#ff1f00,#ff1f00,#ff1f00,#ff1f00,#ff1f00,#ff2000,#ff2200,#ff3400,#ff4d00,#ff6100,#ff7000,#ff7200,#ff6c00,#ff6800,#ff6300,#ff5a00,#ff4d00,#ff4000,#ff3500,#ff3500,#ff4800,#ff5900,#ff6a00,#ff7c00,#ff7e00,#ff7f00,#ff8000,#ff7f00,#ff7f00,#ff7f00,#ff7f00,#ff7f00,#ff9d00,#ffbc00,#ffdb00,#ffe500,#ffe500,#00e1ff,#ffc900,#ffc900,#ffc100,#ffb600,#ffab00,#ffa000,#ff8a00,#ff6d00,#ff5000,#ff3400,#ff1700,#fa0000,#de0000,#c20000,#980000,#8c0000,#850000,#810000,#800000,#800000,#830000,#880000,#920000,#a00000,#f10000,#ff1900,#ff4100,#ff6800,#ff8e00,#ffb500,#ffdb00,#feff01,#d9ff26,#b4ff4b,#8fff70,#7fff80,#7dff82,#7aff85,#78ff87,#76ff89,#74ff8b,#73ff8c,#72ff8d,#80ff7f,#b1ff4e,#e2ff1d,#ffeb00,#ffc000,#ffb400,#ffa700,#ff9b00,#ff8f00,#ff9900,#ffa300,#ffad00,#ffb700,#ffb800,#ffb800,#ffb800,#5affa5,#5affa5,#c4ff3b,#ff6f00,#ff5700,#ff5700,#ff5700,#ff5700,#ff5700,#ff4d00,#ff3c00,#ff2b00,#ff1f00,#ff1f00,#ff1f00,#ff1f00,#ff8a00,#ff8a00,#ffa000,#ffc400,#ffe700,#fffa00,#fffa00,#fffa00,#fffa00)"></div>
<div style="top:176px;background:linear-gradient(90deg,#ffb000,#ffb000,#ffb000,#ffb000,#ffb300,#ffb800,#ffbe00,#ffc400,#ffd000,#ffe700,#fffd00,#f5ff0a,#fcff03,#ffe500,#ffe500,#ffa000,#ff8a00,#ff7d00,#ff6300,#ff4a00,#ff3100,#ff1900,#ff0000,#e70000,#cf0000,#df0000,#f30000,#ff0700,#ff1b00,#ff1f00,#ff1f00,#ff1f00,#ff1f00,#ff1f00,#ff1f00,#ff2000,#ff2100,#ff3400,#ff5000,#ff6800,#ff7b00,#ff8000,#ff7b00,#ff7900,#ff7600,#ff6f00,#ff6000,#ff5000,#ff4100,#ff3c00,#ff4b00,#ff5900,#ff6700,#ff7300,#ff7100,#ff6d00,#ff6900,#ff6500,#ff6500,#ff6500,#ff6500,#ff6500,#ff7b00,#ff9200,#ffa800,#ffaf00,#ffaf00,#00f0ff,#ffea00,#ffea00,#ffe400,#ffdc00,#ffd400,#ffcb00,#ffb200,#ff8e00,#ff6a00,#ff4500,#ff2700,#ff0f00,#f50000,#dd0000,#c80000,#980000,#8c0000,#850000,#810000,#800000,#800000,#820000,#880000,#920000,#a00000,#f60000,#ff1600,#ff3a00,#ff5e00,#ff8200,#ffa600,#ffc600,#ffe500,#fbff04,#dcff23,#cbff34,#c3ff3c,#baff45,#b2ff4d,#abff54,#a6ff59,#a1ff5e,#9cff63,#a4ff5b,#c8ff37,#ebff14,#ffef00,#ffcf00,#ffc200,#ffb500,#ffa800,#ff9b00,#ff9f00,#ffa300,#ffa700,#ffab00,#ffab00,#ffab00,#ffab00,#49ffb6,#49ffb6,#b8ff47,#ff7000,#ff5700,#ff5700,#ff5700,#ff5700,#ff5700,#ff4d00,#ff3c00,#ff2b00,#ff1f00,#ff1f00,#ff1f00,#ff1f00,#ff8a00,#ff8a00,#ffa000,#ffc400,#ffe700,#fffa00,#fffa00,#fffa00,#fffa00)"></div>
<div style="top:178px;background:linear-gradient(90deg,#ffcb00,#ffcb00,#ffcb00,#ffcb00,#ffd000,#ffda00,#ffe400,#ffee00,#fffe00,#e6ff19,#ccff33,#beff41,#d3ff2c,#ffd600,#ffd600,#ff9c00,#ff8a00,#ff7f00,#ff6900,#ff5400,#ff3f00,#ff2a00,#ff1600,#ff0200,#ec0000,#f60000,#ff0400,#ff1000,#ff1c00,#ff1f00,#ff1f00,#ff1f00,#ff1f00,#ff1f00,#ff1f00,#ff1f00,#ff2000,#ff3500,#ff5400,#ff7000,#ff8800,#ff9100,#ff8d00,#ff8c00,#ff8c00,#ff8500,#ff7400,#ff6100,#ff4e00,#ff4400,#ff4e00,#ff5800,#ff6200,#ff6900,#ff6200,#ff5a00,#ff5200,#ff4b00,#ff4b00,#ff4b00,#ff4b00,#ff4b00,#ff5900,#ff6700,#ff7500,#ff7a00,#ff7a00,#00ffff,#f4ff0b,#f4ff0b,#f8ff07,#fdff02,#fffc00,#fff700,#ffdb00,#ffaf00,#ff8300,#ff5700,#ff3600,#ff2200,#ff0e00,#f90000,#e40000,#cf0000,#980000,#8c0000,#850000,#810000,#800000,#800000,#820000,#880000,#920000,#a00000,#eb0000,#ff0c00,#ff2e00,#ff5000,#ff7100,#ff8c00,#ffa400,#ffbc00,#ffd500,#ffe700,#fff500,#faff05,#ecff13,#e0ff1f,#d7ff28,#cfff30,#c6ff39,#c8ff37,#deff21,#f5ff0a,#fff300,#ffde00,#ffd000,#ffc200,#ffb500,#ffa700,#ffa500,#ffa300,#ffa100,#ff9f00,#ff9f00,#ff9f00,#ff9f00,#37ffc8,#37ffc8,#acff53,#ff7100,#ff5700,#ff5700,#ff5700,#ff5700,#ff5700,#ff4d00,#ff3c00,#ff2b00,#ff1f00,#ff1f00,#ff1f00,#ff1f00,#ff8a00,#ff8a00,#ffa000,#ffc400,#ffe700,#fffa00,#fffa00,#fffa00,#fffa00)"></div>
<div style="top:180px;background:linear-gradient(90deg,#ffe700,#ffe700,#ffe700,#ffe700,#ffed00,#fffc00,#f4ff0b,#e6ff19,#d2ff2d,#b4ff4b,#97ff68,#87ff78,#aaff55,#ffc700,#ffc700,#ff9900,#ff8a00,#ff8100,#ff6f00,#ff5e00,#ff4d00,#ff3c00,#ff2c00,#ff1b00,#ff0b00,#ff0e00,#ff1300,#ff1900,#ff1e00,#ff1f00,#ff1f00,#ff1f00,#ff1f00,#ff1f00,#ff1f00,#ff1f00,#ff2000,#ff3600,#ff5900,#ff7900,#ff9600,#ffa200,#ffa100,#ffa200,#ffa300,#ff9d00,#ff8900,#ff7300,#ff5d00,#ff4f00,#ff5300,#ff5700,#ff5b00,#ff5d00,#ff5200,#ff4700,#ff3c00,#ff3100,#ff3100,#ff3100,#ff3100,#ff3100,#ff3700,#ff3c00,#ff4200,#ff4400,#ff4400,#0ffff0,#d3ff2c,#d3ff2c,#d5ff2a,#d7ff28,#d9ff26,#dbff24,#fbff04,#ffd000,#ff9c00,#ff6900,#ff4600,#ff3500,#ff2500,#ff1500,#ff0100,#e60000,#cd0000,#980000,#8c0000,#850000,#810000,#800000,#800000,#820000,#880000,#920000,#9f0000,#de0000,#fd0000,#ff1d00,#ff3c00,#ff5200,#ff6400,#ff7500,#ff8700,#ff9b00,#ffaf00,#ffc400,#ffd800,#ffe900,#fff500,#fdff02,#f0ff0f,#ebff14,#f4ff0b,#feff01,#fff700,#ffed00,#ffde00,#ffd000,#ffc200,#ffb400,#ffac00,#ffa300,#ff9b00,#ff9300,#ff9200,#ff9200,#ff9200,#26ffd9,#26ffd9,#a0ff5f,#ff7300,#ff5700,#ff5700,#ff5700,#ff5700,#ff5700,#ff4d00,#ff3c00,#ff2b00,#ff1f00,#ff1f00,#ff1f00,#ff1f00,#ff8a00,#ff8a00,#ffa000,#ffc400,#ffe700,#fffa00,#fffa00,#fffa00,#fffa00)"></div>
<div style="top:182px;background:linear-gradient(90deg,#f8ff07,#f8ff07,#f8ff07,#f8ff07,#f0ff0f,#ddff22,#cbff34,#b8ff47,#a2ff5d,#82ff7d,#63ff9c,#53ffac,#83ff7c,#ffb900,#ffb900,#ff9800,#ff8d00,#ff8600,#ff7900,#ff6b00,#ff5e00,#ff5200,#ff4700,#ff3b00,#ff3000,#ff2f00,#ff2f00,#ff2f00,#ff2f00,#ff2e00,#ff2d00,#ff2c00,#ff2a00,#ff2900,#ff2700,#ff2600,#ff2400,#ff3b00,#ff6000,#ff8300,#ffa500,#ffb500,#ffb700,#ffba00,#ffbe00,#ffb800,#ffa200,#ff8b00,#ff7300,#ff6200,#ff6000,#ff5e00,#ff5c00,#ff5800,#ff4c00,#ff3f00,#ff3200,#ff2600,#ff2500,#ff2500,#ff2400,#ff2300,#ff2100,#ff2000,#ff1f00,#ff1f00,#ff1f00,#1affe5,#b1ff4e,#b1ff4e,#b1ff4e,#b1ff4e,#b1ff4e,#b1ff4e,#d2ff2d,#fff500,#ffbd00,#ff8600,#ff6200,#ff5400,#ff4600,#ff3800,#ff2500,#ff0700,#e80000,#c90000,#980000,#8d0000,#850000,#810000,#800000,#800000,#820000,#880000,#910000,#9f0000,#d60000,#f20000,#ff0f00,#ff1f00,#ff2c00,#ff3800,#ff4500,#ff5900,#ff7200,#ff8b00,#ffa400,#ffb800,#ffc700,#ffd500,#ffe400,#ffef00,#fff200,#fff500,#fff800,#fff800,#ffeb00,#ffdf00,#ffd200,#ffc600,#ffbb00,#ffaf00,#ffa400,#ff9800,#ff9700,#ff9700,#ff9700,#15ffea,#15ffea,#8fff70,#ff8400,#ff6800,#ff6800,#ff6800,#ff6800,#ff6800,#ff5e00,#ff4d00,#ff3b00,#ff2f00,#ff2f00,#ff2f00,#ff2f00,#ff8600,#ff8600,#ff9c00,#ffbe00,#ffe000,#fff200,#fff200,#fff200,#fff200)"></div>
<div style="top:184px;background:linear-gradient(90deg,#d0ff2f,#d0ff2f,#d0ff2f,#d0ff2f,#c6ff39,#b0ff4f,#9aff65,#84ff7b,#6cff93,#4fffb0,#33ffcc,#23ffdc,#60ff9f,#ffad00,#ffad00,#ff9e00,#ff9a00,#ff9500,#ff8b00,#ff8100,#ff7700,#ff7200,#ff6e00,#ff6900,#ff6500,#ff6400,#ff6400,#ff6400,#ff6400,#ff6000,#ff5c00,#ff5700,#ff5200,#ff4b00,#ff4300,#ff3c00,#ff3400,#ff4800,#ff6e00,#ff9300,#ffb600,#ffca00,#ffcf00,#ffd600,#ffdd00,#ffda00,#ffc600,#ffb000,#ff9a00,#ff8700,#ff7f00,#ff7600,#ff6e00,#ff6500,#ff5c00,#ff5300,#ff4900,#ff4000,#ff3c00,#ff3800,#ff3400,#ff3100,#ff2b00,#ff2600,#ff2000,#ff1f00,#ff1f00,#1affe5,#89ff76,#89ff76,#89ff76,#89ff76,#89ff76,#89ff76,#a8ff57,#dbff24,#fff000,#ffbd00,#ff9a00,#ff8c00,#ff7d00,#ff6e00,#ff5a00,#ff3900,#ff1900,#f70000,#d80000,#980000,#8d0000,#850000,#810000,#800000,#800000,#820000,#880000,#910000,#9f0000,#da0000,#f10000,#fe0000,#ff0800,#ff1100,#ff1a00,#ff2e00,#ff4800,#ff6200,#ff7c00,#ff9100,#ffa000,#ffae00,#ffbc00,#ffca00,#ffd700,#ffe300,#fff000,#fff900,#fff400,#fff000,#ffeb00,#ffe600,#ffde00,#ffd600,#ffcd00,#ffc500,#ffc400,#ffc400,#ffc400,#06fff9,#06fff9,#73ff8c,#ffba00,#ffa100,#ffa100,#ffa100,#ffa100,#ffa100,#ff9700,#ff8400,#ff7200,#ff6400,#ff6400,#ff6400,#ff6400,#ff7a00,#ff7a00,#ff8c00,#ffaa00,#ffc700,#ffd600,#ffd600,#ffd600,#ffd600)"></div>
<div style="top:186px;background:linear-gradient(90deg,#a8ff57,#a8ff57,#a8ff57,#a8ff57,#9dff62,#83ff7c,#69ff96,#50ffaf,#36ffc9,#1cffe3,#02fffd,#00f3ff,#3cffc3,#ffa000,#ffa000,#ffa500,#ffa600,#ffa300,#ff9d00,#ff9600,#ff9000,#ff9200,#ff9500,#ff9700,#ff9a00,#ff9a00,#ff9a00,#ff9a00,#ff9a00,#ff9300,#ff8b00,#ff8200,#ff7a00,#ff6d00,#ff6000,#ff5200,#ff4400,#ff5600,#ff7c00,#ffa200,#ffc700,#ffde00,#ffe800,#fff200,#fffd00,#fffc00,#ffe900,#ffd500,#ffc100,#ffad00,#ff9e00,#ff8f00,#ff8000,#ff7200,#ff6c00,#ff6600,#ff6000,#ff5a00,#ff5300,#ff4c00,#ff4500,#ff3e00,#ff3500,#ff2b00,#ff2200,#ff1f00,#ff1f00,#1affe5,#61ff9e,#61ff9e,#61ff9e,#61ff9e,#61ff9e,#61ff9e,#7dff82,#acff53,#dbff24,#fff400,#ffd300,#ffc400,#ffb400,#ffa400,#ff8f00,#ff6c00,#ff4900,#ff2500,#ff0400,#e70000,#990000,#8d0000,#850000,#810000,#800000,#800000,#820000,#880000,#910000,#9f0000,#d40000,#dd0000,#e30000,#e90000,#ef0000,#ff0300,#ff1e00,#ff3a00,#ff5500,#ff6a00,#ff7900,#ff8700,#ff9500,#ffa500,#ffbc00,#ffd200,#ffe800,#fffa00,#fffe00,#fdff02,#faff05,#f7ff08,#fcff03,#fffc00,#fff700,#fff100,#fff100,#fff100,#fff100,#00f6ff,#00f6ff,#56ffa9,#fff000,#ffda00,#ffda00,#ffda00,#ffda00,#ffda00,#ffcf00,#ffbc00,#ffa800,#ff9a00,#ff9a00,#ff9a00,#ff9a00,#ff6d00,#ff6d00,#ff7d00,#ff9500,#ffae00,#ffbb00,#ffbb00,#ffbb00,#ffbb00)"></div>
<div style="top:188px;background:linear-gradient(90deg,#81ff7e,#81ff7e,#81ff7e,#81ff7e,#73ff8c,#56ffa9,#39ffc6,#1bffe4,#00ffff,#00e7ff,#00d0ff,#00c4ff,#19ffe6,#ff9400,#ff9400,#ffab00,#ffb300,#ffb100,#ffae00,#ffac00,#ffa900,#ffb300,#ffbc00,#ffc500,#ffcf00,#ffcf00,#ffcf00,#ffcf00,#ffcf00,#ffc600,#ffba00,#ffae00,#ffa100,#ff9000,#ff7c00,#ff6800,#ff5400,#ff6400,#ff8b00,#ffb100,#ffd800,#fff200,#ffff00,#f0ff0f,#e2ff1d,#e0ff1f,#f2ff0d,#fffa00,#ffe700,#ffd400,#ffbe00,#ffa800,#ff9200,#ff7f00,#ff7d00,#ff7a00,#ff7700,#ff7400,#ff6a00,#ff6000,#ff5600,#ff4c00,#ff3e00,#ff3100,#ff2300,#ff1f00,#ff1f00,#1affe5,#39ffc6,#39ffc6,#39ffc6,#39ffc6,#39ffc6,#39ffc6,#53ffac,#7eff81,#a8ff57,#d3ff2c,#f2ff0d,#fffc00,#ffeb00,#ffdb00,#ffc300,#ff9e00,#ff7900,#ff5300,#ff2e00,#ff0900,#e40000,#990000,#8d0000,#850000,#810000,#800000,#800000,#820000,#880000,#910000,#9f0000,#bd0000,#c00000,#c20000,#c50000,#d70000,#f40000,#ff1100,#ff2e00,#ff4400,#ff5100,#ff5f00,#ff6d00,#ff8100,#ffa000,#ffc000,#ffe000,#fffc00,#f7ff08,#ecff13,#e1ff1e,#d7ff28,#d9ff26,#dbff24,#deff21,#e0ff1f,#e0ff1f,#e0ff1f,#e0ff1f,#00e7ff,#00e7ff,#3affc5,#d7ff28,#eaff15,#eaff15,#eaff15,#eaff15,#eaff15,#f6ff09,#fff300,#ffde00,#ffcf00,#ffcf00,#ffcf00,#ffcf00,#ff6100,#ff6100,#ff6d00,#ff8100,#ff9500,#ff9f00,#ff9f00,#ff9f00,#ff9f00)"></div>
<div style="top:190px;background:linear-gradient(90deg,#5dffa2,#5dffa2,#5dffa2,#5dffa2,#4fffb0,#2fffd0,#0ffff0,#00edff,#00d1ff,#00bbff,#00a5ff,#009aff,#00f9ff,#ff8a00,#ff8a00,#ffb000,#ffbd00,#ffbe00,#ffc000,#ffc100,#ffc400,#ffd200,#ffe000,#ffee00,#fffc00,#fffd00,#fffd00,#fffd00,#fffd00,#fff200,#ffe400,#ffd600,#ffc700,#ffb100,#ff9800,#ff7f00,#ff6600,#ff7400,#ff9b00,#ffc200,#ffe800,#faff05,#e8ff17,#d6ff29,#c4ff3b,#c0ff3f,#d1ff2e,#e3ff1c,#f4ff0b,#fff500,#ffda00,#ffbe00,#ffa300,#ff8c00,#ff8c00,#ff8c00,#ff8c00,#ff8b00,#ff7f00,#ff7200,#ff6600,#ff5a00,#ff4800,#ff3600,#ff2400,#ff1f00,#ff1f00,#13ffec,#16ffe9,#16ffe9,#16ffe9,#16ffe9,#16ffe9,#16ffe9,#2dffd2,#54ffab,#7aff85,#a0ff5f,#bcff43,#ceff31,#dfff20,#f0ff0f,#fff600,#ffce00,#ffa700,#ff7f00,#ff5700,#ff2c00,#ff0000,#d40000,#990000,#8d0000,#850000,#810000,#800000,#800000,#820000,#880000,#910000,#9e0000,#a20000,#a30000,#a30000,#b40000,#d00000,#ec0000,#ff0900,#ff1e00,#ff2b00,#ff3800,#ff4500,#ff5b00,#ff8400,#ffad00,#ffd500,#fffa00,#f0ff0f,#dcff23,#c8ff37,#b5ff4a,#b5ff4a,#b6ff49,#b7ff48,#b8ff47,#b8ff47,#b8ff47,#b8ff47,#00d8ff,#00d8ff,#20ffdf,#a8ff57,#b8ff47,#b8ff47,#b8ff47,#b8ff47,#b8ff47,#c4ff3b,#dbff24,#f1ff0e,#fffd00,#fffd00,#fffd00,#fffd00,#ff5700,#ff5700,#ff6100,#ff7000,#ff7f00,#ff8700,#ff8700,#ff8700,#ff8700)"></div>
<div style="top:192px;background:linear-gradient(90deg,#4cffb3,#4cffb3,#4cffb3,#4cffb3,#3effc1,#1effe1,#00feff,#00deff,#00c1ff,#00aaff,#0092ff,#0086ff,#00e9ff,#ff8a00,#ff8a00,#ffb000,#ffbd00,#ffc200,#ffce00,#ffd900,#ffe400,#ffef00,#fff900,#faff05,#f0ff0f,#efff10,#efff10,#efff10,#efff10,#f8ff07,#fffc00,#fff100,#ffe700,#ffd100,#ffb500,#ff9a00,#ff7f00,#ff8b00,#ffb100,#ffd600,#fffb00,#e7ff18,#d4ff2b,#c1ff3e,#aeff51,#aaff55,#bcff43,#cfff30,#e2ff1d,#f7ff08,#ffea00,#ffcd00,#ffb000,#ff9900,#ff9900,#ff9900,#ff9900,#ff9800,#ff8b00,#ff7f00,#ff7200,#ff6600,#ff5100,#ff3b00,#ff2500,#ff1f00,#ff1f00,#00f4ff,#07fff8,#07fff8,#07fff8,#07fff8,#07fff8,#07fff8,#1bffe4,#3bffc4,#5bffa4,#7bff84,#95ff6a,#a6ff59,#b7ff48,#c8ff37,#e1ff1e,#fff600,#ffcf00,#ffa700,#ff7f00,#ff5100,#ff2300,#f40000,#c70000,#990000,#8d0000,#850000,#810000,#800000,#800000,#820000,#880000,#910000,#9d0000,#a00000,#a20000,#b00000,#c50000,#da0000,#ee0000,#fe0000,#ff0900,#ff1200,#ff1c00,#ff3200,#ff6100,#ff9100,#ffc100,#ffee00,#efff10,#ceff31,#adff52,#8dff72,#92ff6d,#97ff68,#9cff63,#a1ff5e,#a2ff5d,#a2ff5d,#a2ff5d,#00c9ff,#00c9ff,#0efff1,#92ff6d,#a2ff5d,#a2ff5d,#a2ff5d,#a2ff5d,#a2ff5d,#afff50,#c7ff38,#deff21,#efff10,#efff10,#efff10,#efff10,#ff5700,#ff5700,#ff5e00,#ff6900,#ff7500,#ff7b00,#ff7b00,#ff7b00,#ff7b00)"></div>
<div style="top:194px;background:linear-gradient(90deg,#3affc5,#3affc5,#3affc5,#3affc5,#2dffd2,#0efff1,#00eeff,#00cfff,#00b2ff,#0099ff,#007fff,#0072ff,#00d9ff,#ff8a00,#ff8a00,#ffb000,#ffbd00,#ffc700,#ffdc00,#fff000,#faff05,#f3ff0c,#ecff13,#e5ff1a,#deff21,#deff21,#deff21,#deff21,#deff21,#e3ff1c,#eaff15,#f1ff0e,#f8ff07,#fff000,#ffd300,#ffb600,#ff9900,#ffa300,#ffc700,#ffea00,#f0ff0f,#d4ff2b,#c0ff3f,#acff53,#98ff67,#93ff6c,#a7ff58,#bbff44,#cfff30,#e6ff19,#fffa00,#ffdc00,#ffbe00,#ffa500,#ffa500,#ffa500,#ffa500,#ffa400,#ff9800,#ff8b00,#ff7f00,#ff7300,#ff5900,#ff4000,#ff2700,#ff1f00,#ff1f00,#00d7ff,#00f8ff,#00f8ff,#00f8ff,#00f8ff,#00f8ff,#00f8ff,#08fff7,#22ffdd,#3cffc3,#57ffa8,#6dff92,#7eff81,#8fff70,#a0ff5f,#b9ff46,#e0ff1f,#fff700,#ffcf00,#ffa600,#ff7600,#ff4500,#ff1500,#e40000,#d10000,#990000,#8d0000,#850000,#810000,#800000,#800000,#820000,#870000,#910000,#9d0000,#a10000,#ab0000,#b90000,#c70000,#d40000,#df0000,#e50000,#eb0000,#f10000,#ff0800,#ff3f00,#ff7500,#ffac00,#ffe100,#eeff11,#c0ff3f,#91ff6e,#65ff9a,#6eff91,#78ff87,#81ff7e,#8aff75,#8bff74,#8bff74,#8bff74,#00baff,#00baff,#00fcff,#7cff83,#8bff74,#8bff74,#8bff74,#8bff74,#8bff74,#99ff66,#b2ff4d,#ccff33,#deff21,#deff21,#deff21,#deff21,#ff5700,#ff5700,#ff5b00,#ff6300,#ff6a00,#ff6e00,#ff6e00,#ff6e00,#ff6e00)"></div>
<div style="top:196px;background:linear-gradient(90deg,#29ffd6,#29ffd6,#29ffd6,#29ffd6,#1bffe4,#00fcff,#00deff,#00bfff,#00a2ff,#0087ff,#006cff,#005eff,#00c9ff,#ff8a00,#ff8a00,#ffb000,#ffbd00,#ffcc00,#ffea00,#f6ff09,#d9ff26,#d6ff29,#d3ff2c,#d0ff2f,#ccff33,#ccff33,#ccff33,#ccff33,#ccff33,#cfff30,#d2ff2d,#d5ff2a,#d9ff26,#efff10,#fff000,#ffd100,#ffb300,#ffbb00,#ffdd00,#ffff00,#ddff22,#c2ff3d,#adff52,#97ff68,#82ff7d,#7dff82,#93ff6c,#a8ff57,#bdff42,#d5ff2a,#f4ff0b,#ffea00,#ffcb00,#ffb200,#ffb200,#ffb200,#ffb200,#ffb100,#ffa400,#ff9800,#ff8b00,#ff7f00,#ff6200,#ff4500,#ff2800,#ff1f00,#ff1f00,#00b9ff,#00e9ff,#00e9ff,#00e9ff,#00e9ff,#00e9ff,#00e9ff,#00f5ff,#0afff5,#1effe1,#32ffcd,#45ffba,#56ffa9,#67ff98,#79ff86,#91ff6e,#b8ff47,#e0ff1f,#fff700,#ffce00,#ff9b00,#ff6800,#ff3500,#ff0300,#e90000,#d00000,#990000,#8d0000,#850000,#810000,#800000,#800000,#820000,#870000,#900000,#9e0000,#a70000,#ae0000,#b40000,#ba0000,#bf0000,#c20000,#c50000,#c80000,#de0000,#ff1c00,#ff5a00,#ff9800,#ffd500,#eeff11,#b2ff4d,#76ff89,#3dffc2,#4bffb4,#58ffa7,#66ff99,#73ff8c,#75ff8a,#75ff8a,#75ff8a,#00abff,#00abff,#00ebff,#66ff99,#75ff8a,#75ff8a,#75ff8a,#75ff8a,#75ff8a,#84ff7b,#9eff61,#b9ff46,#ccff33,#ccff33,#ccff33,#ccff33,#ff5700,#ff5700,#ff5900,#ff5c00,#ff6000,#ff6200,#ff6200,#ff6200,#ff6200)"></div>
<div style="top:198px;background:linear-gradient(90deg,#1affe5,#1affe5,#1affe5,#1affe5,#0cfff3,#00edff,#00cfff,#00b2ff,#0094ff,#0078ff,#005cff,#004dff,#00bbff,#ff8a00,#ff8a00,#ffb000,#ffbd00,#ffd000,#fff600,#e2ff1d,#bdff42,#bdff42,#bdff42,#bdff42,#bdff42,#bdff42,#bdff42,#bdff42,#bdff42,#bdff42,#bdff42,#bdff42,#bdff42,#d3ff2c,#f3ff0c,#ffeb00,#ffcb00,#ffd200,#fff200,#edff12,#cdff32,#b2ff4d,#9bff64,#85ff7a,#6fff90,#6aff95,#80ff7f,#96ff69,#adff52,#c6ff39,#e6ff19,#fff800,#ffd800,#ffbe00,#ffbe00,#ffbd00,#ffbd00,#ffbc00,#ffb000,#ffa400,#ff9800,#ff8b00,#ff6b00,#ff4b00,#ff2a00,#ff2000,#ff2000,#009eff,#00dbff,#00dbff,#00dbff,#00dbff,#00daff,#00daff,#00e3ff,#00f1ff,#01fffe,#10ffef,#20ffdf,#31ffce,#42ffbd,#53ffac,#6bff94,#92ff6d,#b9ff46,#e0ff1f,#fff500,#ffbf00,#ff8a00,#ff5400,#ff1f00,#ff0100,#e20000,#c40000,#9a0000,#8d0000,#850000,#810000,#800000,#800000,#820000,#870000,#900000,#9e0000,#a30000,#a30000,#a30000,#a30000,#a30000,#a30000,#a30000,#b90000,#fc0000,#ff4100,#ff8400,#ffc800,#eeff11,#a6ff59,#5effa1,#1affe5,#2bffd4,#3dffc2,#4effb1,#5fffa0,#61ff9e,#61ff9e,#61ff9e,#009eff,#009eff,#00dbff,#53ffac,#61ff9e,#61ff9e,#61ff9e,#61ff9e,#61ff9e,#71ff8e,#8dff72,#a9ff56,#bdff42,#bdff42,#bdff42,#bdff42,#ff5700,#ff5700,#ff5700,#ff5700,#ff5700,#ff5700,#ff5700,#ff5700,#ff5700)"></div>
<div style="top:200px;background:linear-gradient(90deg,#1affe5,#1affe5,#1affe5,#1affe5,#0cfff3,#00edff,#00cfff,#00b2ff,#0094ff,#0078ff,#005cff,#004dff,#00bbff,#ff8a00,#ff8a00,#ffb000,#ffbd00,#ffd000,#fff600,#e2ff1d,#bdff42,#bdff42,#bdff42,#bdff42,#bdff42,#bdff42,#bdff42,#bdff42,#bdff42,#bdff42,#bdff42,#bdff42,#bdff42,#d1ff2e,#edff12,#fff500,#ffd800,#ffde00,#fffb00,#e7ff18,#cbff34,#b2ff4d,#9bff64,#85ff7a,#6eff91,#6aff95,#80ff7f,#96ff69,#adff52,#c5ff3a,#e1ff1e,#fdff02,#ffe400,#ffcd00,#ffc900,#ffc400,#ffc000,#ffbc00,#ffb300,#ffaa00,#ffa100,#ff9800,#ff7800,#ff5800,#ff3800,#ff2e00,#ff2e00,#009eff,#00dbff,#00dbff,#00d8ff,#00d4ff,#00d0ff,#00ccff,#00d4ff,#00e2ff,#00f1ff,#01fffe,#10ffef,#21ffde,#32ffcd,#42ffbd,#58ffa7,#79ff86,#9bff64,#bcff43,#e2ff1d,#ffe000,#ffa400,#ff6800,#ff2d00,#ff0c00,#e90000,#c80000,#a70000,#9a0000,#8e0000,#860000,#810000,#800000,#800000,#820000,#870000,#900000,#9d0000,#a00000,#a20000,#a30000,#a30000,#a30000,#a30000,#b80000,#f80000,#ff3a00,#ff7a00,#ffbc00,#f7ff08,#acff53,#61ff9e,#1affe5,#2bffd4,#3dffc2,#4effb1,#5fffa0,#61ff9e,#61ff9e,#61ff9e,#009eff,#009eff,#00dbff,#53ffac,#61ff9e,#61ff9e,#61ff9e,#61ff9e,#61ff9e,#71ff8e,#8dff72,#a9ff56,#bdff42,#bdff42,#bdff42,#bdff42,#ff5700,#ff5700,#ff5700,#ff5700,#ff5700,#ff5700,#ff5700,#ff5700,#ff5700)"></div>
<div style="top:202px;background:linear-gradient(90deg,#1affe5,#1affe5,#1affe5,#1affe5,#0cfff3,#00edff,#00cfff,#00b2ff,#0094ff,#0078ff,#005cff,#004dff,#00bbff,#ff8a00,#ff8a00,#ffb000,#ffbd00,#ffd000,#fff600,#e2ff1d,#bdff42,#bdff42,#bdff42,#bdff42,#bdff42,#bdff42,#bdff42,#bdff42,#bdff42,#bdff42,#bdff42,#bdff42,#bdff42,#ceff31,#e7ff18,#ffff00,#ffe600,#ffeb00,#faff05,#e2ff1d,#c9ff36,#b2ff4d,#9bff64,#85ff7a,#6eff91,#6aff95,#80ff7f,#96ff69,#adff52,#c4ff3b,#dcff23,#f5ff0a,#fff000,#ffdb00,#ffd300,#ffcb00,#ffc400,#ffbc00,#ffb600,#ffb000,#ffaa00,#ffa400,#ff8500,#ff6500,#ff4500,#ff3c00,#ff3c00,#009eff,#00dbff,#00dbff,#00d6ff,#00ceff,#00c6ff,#00bfff,#00c5ff,#00d3ff,#00e2ff,#00f1ff,#01fffe,#11ffee,#21ffde,#31ffce,#45ffba,#61ff9e,#7dff82,#99ff66,#bcff43,#feff01,#ffbe00,#ff7c00,#ff3a00,#ff1600,#f00000,#cc0000,#a70000,#9f0000,#9a0000,#8e0000,#860000,#810000,#800000,#800000,#820000,#870000,#900000,#9c0000,#a10000,#a30000,#a30000,#a30000,#a30000,#b70000,#f40000,#ff3300,#ff7000,#ffb000,#fffe00,#b2ff4d,#64ff9b,#1affe5,#2bffd4,#3dffc2,#4effb1,#5fffa0,#61ff9e,#61ff9e,#61ff9e,#009eff,#009eff,#00dbff,#53ffac,#61ff9e,#61ff9e,#61ff9e,#61ff9e,#61ff9e,#71ff8e,#8dff72,#a9ff56,#bdff42,#bdff42,#bdff42,#bdff42,#ff5700,#ff5700,#ff5700,#ff5700,#ff5700,#ff5700,#ff5700,#ff5700,#ff5700)"></div>
<div style="top:204px;background:linear-gradient(90deg,#1affe5,#1affe5,#1affe5,#1affe5,#0cfff3,#00edff,#00cfff,#00b2ff,#0094ff,#0078ff,#005cff,#004dff,#00bbff,#ff8a00,#ff8a00,#ffb000,#ffbd00,#ffd000,#fff600,#e2ff1d,#bdff42,#bdff42,#bdff42,#bdff42,#bdff42,#bdff42,#bdff42,#bdff42,#bdff42,#bdff42,#bdff42,#bdff42,#bdff42,#ccff33,#e1ff1e,#f6ff09,#fff300,#fff800,#f1ff0e,#dcff23,#c7ff38,#b2ff4d,#9bff64,#85ff7a,#6eff91,#6aff95,#80ff7f,#96ff69,#adff52,#c3ff3c,#d8ff27,#edff12,#fffc00,#ffe900,#ffde00,#ffd200,#ffc700,#ffbc00,#ffb900,#ffb700,#ffb400,#ffb100,#ff9200,#ff7200,#ff5300,#ff4900,#ff4900,#009eff,#00dbff,#00dbff,#00d3ff,#00c8ff,#00bdff,#00b1ff,#00b6ff,#00c4ff,#00d3ff,#00e2ff,#00f1ff,#01fffe,#11ffee,#20ffdf,#32ffcd,#48ffb7,#5fffa0,#75ff8a,#95ff6a,#ddff22,#ffd800,#ff8f00,#ff4800,#ff2000,#f70000,#cf0000,#a80000,#a10000,#9f0000,#9a0000,#8e0000,#860000,#810000,#800000,#800000,#820000,#870000,#900000,#9d0000,#a30000,#a30000,#a30000,#a30000,#b60000,#f00000,#ff2c00,#ff6600,#ffa500,#fff500,#b8ff47,#67ff98,#1affe5,#2bffd4,#3dffc2,#4effb1,#5fffa0,#61ff9e,#61ff9e,#61ff9e,#009eff,#009eff,#00dbff,#53ffac,#61ff9e,#61ff9e,#61ff9e,#61ff9e,#61ff9e,#71ff8e,#8dff72,#a9ff56,#bdff42,#bdff42,#bdff42,#bdff42,#ff5700,#ff5700,#ff5700,#ff5700,#ff5700,#ff5700,#ff5700,#ff5700,#ff5700)"></div>
<div style="top:206px;background:linear-gradient(90deg,#1affe5,#1affe5,#1affe5,#1affe5,#0cfff3,#00edff,#00cfff,#00b2ff,#0094ff,#0078ff,#005cff,#004dff,#00bbff,#ff8a00,#ff8a00,#ffb000,#ffbd00,#ffd000,#fff600,#e2ff1d,#bdff42,#bdff42,#bdff42,#bdff42,#bdff42,#bdff42,#bdff42,#bdff42,#bdff42,#bdff42,#bdff42,#bdff42,#bdff42,#c9ff36,#dbff24,#ecff13,#fdff02,#faff05,#e8ff17,#d7ff28,#c5ff3a,#b2ff4d,#9bff64,#85ff7a,#6eff91,#6aff95,#80ff7f,#96ff69,#adff52,#c2ff3d,#d3ff2c,#e4ff1b,#f6ff09,#fff700,#ffe800,#ffd900,#ffca00,#ffbd00,#ffbd00,#ffbd00,#ffbd00,#ffbd00,#ff9f00,#ff8000,#ff6100,#ff5700,#ff5700,#009eff,#00dbff,#00dbff,#00d0ff,#00c2ff,#00b3ff,#00a4ff,#00a7ff,#00b6ff,#00c5ff,#00d3ff,#00e2ff,#00f1ff,#01fffe,#0ffff0,#1fffe0,#30ffcf,#41ffbe,#53ffac,#6fff90,#bdff42,#fff200,#ffa300,#ff5600,#ff2b00,#ff0000,#d30000,#a80000,#a40000,#a30000,#a30000,#9a0000,#8e0000,#860000,#810000,#800000,#800000,#820000,#870000,#900000,#9d0000,#a30000,#a30000,#a30000,#b50000,#ec0000,#ff2500,#ff5c00,#ff9900,#ffec00,#beff41,#6aff95,#1affe5,#2bffd4,#3dffc2,#4effb1,#5fffa0,#61ff9e,#61ff9e,#61ff9e,#009eff,#009eff,#00dbff,#53ffac,#61ff9e,#61ff9e,#61ff9e,#61ff9e,#61ff9e,#71ff8e,#8dff72,#a9ff56,#bdff42,#bdff42,#bdff42,#bdff42,#ff5700,#ff5700,#ff5700,#ff5700,#ff5700,#ff5700,#ff5700,#ff5700,#ff5700)"></div>
<div style="top:208px;background:linear-gradient(90deg,#1affe5,#1affe5,#1affe5,#1affe5,#0cfff3,#00edff,#00cfff,#00b2ff,#0094ff,#0078ff,#005cff,#004dff,#00bbff,#ff8a00,#ff8a00,#ffb000,#ffbd00,#ffce00,#ffef00,#eeff11,#ceff31,#caff35,#c6ff39,#c1ff3e,#bdff42,#bdff42,#bdff42,#bdff42,#bdff42,#c0ff3f,#c5ff3a,#c9ff36,#cdff32,#d8ff27,#e5ff1a,#f2ff0d,#ffff00,#faff05,#e8ff17,#d7ff28,#c5ff3a,#b2ff4d,#9bff64,#85ff7a,#6eff91,#6aff95,#80ff7f,#96ff69,#adff52,#c2ff3d,#d3ff2c,#e4ff1b,#f6ff09,#fff700,#ffe800,#ffd900,#ffca00,#ffbd00,#ffbd00,#ffbd00,#ffbd00,#ffbd00,#ffa200,#ff8700,#ff6c00,#ff6300,#ff6300,#009eff,#00dbff,#00dbff,#00d0ff,#00c2ff,#00b3ff,#00a4ff,#00a7ff,#00b6ff,#00c5ff,#00d3ff,#00e2ff,#00f1ff,#01fffe,#0ffff0,#1fffe0,#30ffcf,#41ffbe,#53ffac,#6eff91,#b6ff49,#ffff00,#ffb600,#ff6f00,#ff4500,#ff1b00,#f00000,#c60000,#bb0000,#b40000,#ac0000,#a50000,#9a0000,#8e0000,#860000,#810000,#800000,#800000,#820000,#870000,#900000,#9d0000,#a00000,#a20000,#b40000,#e80000,#ff1e00,#ff5200,#ff8d00,#ffe400,#c4ff3b,#6dff92,#1affe5,#2bffd4,#3dffc2,#4effb1,#5fffa0,#61ff9e,#61ff9e,#61ff9e,#009eff,#009eff,#00dbff,#53ffac,#61ff9e,#61ff9e,#61ff9e,#61ff9e,#61ff9e,#71ff8e,#8dff72,#a9ff56,#bdff42,#bdff42,#bdff42,#bdff42,#ff5700,#ff5700,#ff5700,#ff5700,#ff5700,#ff5700,#ff5700,#ff5700,#ff5700)"></div>
<div style="top:210px;background:linear-gradient(90deg,#1affe5,#1affe5,#1affe5,#1affe5,#0cfff3,#00edff,#00cfff,#00b2ff,#0094ff,#0078ff,#005cff,#004dff,#00bbff,#ff8a00,#ff8a00,#ffb000,#ffbd00,#ffcb00,#ffe700,#fbff04,#e0ff1f,#d7ff28,#cfff30,#c6ff39,#bdff42,#bdff42,#bdff42,#bdff42,#bdff42,#c4ff3b,#ccff33,#d5ff2a,#ddff22,#e6ff19,#efff10,#f8ff07,#fffd00,#faff05,#e8ff17,#d7ff28,#c5ff3a,#b2ff4d,#9bff64,#85ff7a,#6eff91,#6aff95,#80ff7f,#96ff69,#adff52,#c2ff3d,#d3ff2c,#e4ff1b,#f6ff09,#fff700,#ffe800,#ffd900,#ffca00,#ffbd00,#ffbd00,#ffbd00,#ffbd00,#ffbd00,#ffa600,#ff8f00,#ff7700,#ff7000,#ff7000,#009eff,#00dbff,#00dbff,#00d0ff,#00c2ff,#00b3ff,#00a4ff,#00a7ff,#00b6ff,#00c5ff,#00d3ff,#00e2ff,#00f1ff,#01fffe,#0ffff0,#1fffe0,#30ffcf,#41ffbe,#53ffac,#6dff92,#afff50,#f2ff0d,#ffc900,#ff8800,#ff5f00,#ff3600,#ff0e00,#e40000,#d30000,#c40000,#b50000,#a70000,#a00000,#9b0000,#8e0000,#860000,#810000,#800000,#800000,#820000,#870000,#900000,#9c0000,#a00000,#b30000,#e40000,#ff1700,#ff4800,#ff8100,#ffdb00,#caff35,#70ff8f,#1affe5,#2bffd4,#3dffc2,#4effb1,#5fffa0,#61ff9e,#61ff9e,#61ff9e,#009eff,#009eff,#00dbff,#53ffac,#61ff9e,#61ff9e,#61ff9e,#61ff9e,#61ff9e,#71ff8e,#8dff72,#a9ff56,#bdff42,#bdff42,#bdff42,#bdff42,#ff5700,#ff5700,#ff5700,#ff5700,#ff5700,#ff5700,#ff5700,#ff5700,#ff5700)"></div>
<div style="top:212px;background:linear-gradient(90deg,#1affe5,#1affe5,#1affe5,#1affe5,#0cfff3,#00edff,#00cfff,#00b2ff,#0094ff,#0078ff,#005cff,#004dff,#00bbff,#ff8a00,#ff8a00,#ffb000,#ffbd00,#ffc900,#ffdf00,#fff600,#f1ff0e,#e4ff1b,#d7ff28,#cbff34,#beff41,#bdff42,#bdff42,#bdff42,#bdff42,#c7ff38,#d4ff2b,#e1ff1e,#eeff11,#f5ff0a,#f9ff06,#feff01,#fffc00,#faff05,#e8ff17,#d7ff28,#c5ff3a,#b2ff4d,#9bff64,#85ff7a,#6eff91,#6aff95,#80ff7f,#96ff69,#adff52,#c2ff3d,#d3ff2c,#e4ff1b,#f6ff09,#fff700,#ffe800,#ffd900,#ffca00,#ffbd00,#ffbd00,#ffbd00,#ffbd00,#ffbd00,#ffaa00,#ff9600,#ff8200,#ff7c00,#ff7c00,#009eff,#00dbff,#00dbff,#00d0ff,#00c2ff,#00b3ff,#00a4ff,#00a7ff,#00b6ff,#00c5ff,#00d3ff,#00e2ff,#00f1ff,#01fffe,#0ffff0,#1fffe0,#30ffcf,#41ffbe,#53ffac,#6bff94,#a8ff57,#e5ff1a,#ffdd00,#ffa100,#ff7900,#ff5200,#ff2a00,#ff0300,#ea0000,#d40000,#be0000,#a90000,#a20000,#9f0000,#9b0000,#8e0000,#860000,#810000,#800000,#800000,#820000,#870000,#8f0000,#9c0000,#b20000,#e00000,#ff1000,#ff3e00,#ff7500,#ffd200,#d0ff2f,#73ff8c,#1affe5,#2bffd4,#3dffc2,#4effb1,#5fffa0,#61ff9e,#61ff9e,#61ff9e,#009eff,#009eff,#00dbff,#53ffac,#61ff9e,#61ff9e,#61ff9e,#61ff9e,#61ff9e,#71ff8e,#8dff72,#a9ff56,#bdff42,#bdff42,#bdff42,#bdff42,#ff5700,#ff5700,#ff5700,#ff5700,#ff5700,#ff5700,#ff5700,#ff5700,#ff5700)"></div>
<div style="top:214px;background:linear-gradient(90deg,#1affe5,#1affe5,#1affe5,#1affe5,#0cfff3,#00edff,#00cfff,#00b2ff,#0094ff,#0078ff,#005cff,#004dff,#00bbff,#ff8a00,#ff8a00,#ffb000,#ffbd00,#ffc600,#ffd800,#ffea00,#fffc00,#f1ff0e,#e0ff1f,#cfff30,#beff41,#bdff42,#bdff42,#bdff42,#bdff42,#cbff34,#dcff23,#edff12,#feff01,#fffb00,#fffb00,#fffa00,#fffa00,#faff05,#e8ff17,#d7ff28,#c5ff3a,#b2ff4d,#9bff64,#85ff7a,#6eff91,#6aff95,#80ff7f,#96ff69,#adff52,#c2ff3d,#d3ff2c,#e4ff1b,#f6ff09,#fff700,#ffe800,#ffd900,#ffca00,#ffbd00,#ffbd00,#ffbd00,#ffbd00,#ffbd00,#ffad00,#ff9e00,#ff8e00,#ff8900,#ff8900,#009eff,#00dbff,#00dbff,#00d0ff,#00c2ff,#00b3ff,#00a4ff,#00a7ff,#00b6ff,#00c5ff,#00d3ff,#00e2ff,#00f1ff,#01fffe,#0ffff0,#1fffe0,#30ffcf,#41ffbe,#53ffac,#6aff95,#a1ff5e,#d8ff27,#fff000,#ffba00,#ff9300,#ff6d00,#ff4700,#ff2000,#ff0200,#e40000,#c70000,#aa0000,#a30000,#a30000,#a30000,#9b0000,#8e0000,#860000,#810000,#800000,#800000,#820000,#870000,#8f0000,#9c0000,#dd0000,#ff0900,#ff3400,#ff6900,#ffc900,#d5ff2a,#76ff89,#1affe5,#2bffd4,#3dffc2,#4effb1,#5fffa0,#61ff9e,#61ff9e,#61ff9e,#009eff,#009eff,#00dbff,#53ffac,#61ff9e,#61ff9e,#61ff9e,#61ff9e,#61ff9e,#71ff8e,#8dff72,#a9ff56,#bdff42,#bdff42,#bdff42,#bdff42,#ff5700,#ff5700,#ff5700,#ff5700,#ff5700,#ff5700,#ff5700,#ff5700,#ff5700)"></div>
<div style="top:216px;background:linear-gradient(90deg,#1affe5,#1affe5,#1affe5,#1affe5,#0efff1,#00f2ff,#00d8ff,#00bdff,#00a3ff,#0088ff,#006dff,#005fff,#00c9ff,#ff8a00,#ff8a00,#ffb000,#ffbd00,#ffc400,#ffd100,#ffdf00,#ffed00,#fffd00,#f0ff0f,#dfff20,#ceff31,#cdff32,#cdff32,#cdff32,#cdff32,#d8ff27,#e5ff1a,#f3ff0c,#fffe00,#fff800,#fff400,#fff100,#ffed00,#fff600,#f7ff08,#e6ff19,#d5ff2a,#c2ff3d,#adff52,#98ff67,#82ff7d,#7eff81,#93ff6c,#a8ff57,#beff41,#d1ff2e,#deff21,#ecff13,#f9ff06,#fff700,#ffe800,#ffd900,#ffca00,#ffbd00,#ffbd00,#ffbd00,#ffbd00,#ffbd00,#ffae00,#ff9e00,#ff8f00,#ff8a00,#ff8a00,#00acff,#00e9ff,#00e9ff,#00deff,#00cfff,#00c1ff,#00b2ff,#00b5ff,#00c4ff,#00d2ff,#00e1ff,#00eeff,#00faff,#06fff9,#12ffed,#1fffe0,#30ffcf,#41ffbe,#53ffac,#6aff95,#9dff62,#cfff30,#fffc00,#ffc900,#ffa300,#ff7c00,#ff5600,#ff2f00,#ff0e00,#ed0000,#cc0000,#ab0000,#a30000,#a30000,#a30000,#a30000,#9b0000,#8f0000,#860000,#810000,#800000,#800000,#820000,#870000,#8f0000,#9c0000,#ed0000,#ff1200,#ff4100,#ffa700,#f1ff0e,#8cff73,#2affd5,#37ffc8,#45ffba,#52ffad,#60ff9f,#61ff9e,#61ff9e,#61ff9e,#00baff,#00baff,#00eeff,#55ffaa,#61ff9e,#61ff9e,#61ff9e,#61ff9e,#61ff9e,#71ff8e,#8dff72,#a9ff56,#bdff42,#bdff42,#bdff42,#bdff42,#ff5700,#ff5700,#ff5700,#ff5700,#ff5700,#ff5700,#ff5700,#ff5700,#ff5700)"></div>
<div style="top:218px;background:linear-gradient(90deg,#1affe5,#1affe5,#1affe5,#1affe5,#0ffff0,#00f7ff,#00e1ff,#00caff,#00b2ff,#0099ff,#0080ff,#0073ff,#00d9ff,#ff8a00,#ff8a00,#ffb000,#ffbd00,#ffc200,#ffcb00,#ffd400,#ffde00,#ffee00,#fffe00,#f0ff0f,#dfff20,#deff21,#deff21,#deff21,#deff21,#e6ff19,#efff10,#f8ff07,#fffd00,#fff500,#ffee00,#ffe700,#ffe000,#ffe700,#fff700,#f7ff08,#e6ff19,#d4ff2b,#c0ff3f,#acff53,#98ff67,#94ff6b,#a8ff57,#bcff43,#d0ff2f,#e1ff1e,#eaff15,#f3ff0c,#fdff02,#fff700,#ffe800,#ffd900,#ffca00,#ffbd00,#ffbd00,#ffbd00,#ffbd00,#ffbd00,#ffae00,#ff9e00,#ff8f00,#ff8a00,#ff8a00,#00bbff,#00f8ff,#00f8ff,#00edff,#00deff,#00d0ff,#00c1ff,#00c4ff,#00d2ff,#00e1ff,#00f0ff,#00fcff,#04fffb,#0cfff3,#14ffeb,#1fffe0,#30ffcf,#41ffbe,#53ffac,#69ff96,#98ff67,#c8ff37,#f7ff08,#ffd800,#ffb100,#ff8b00,#ff6400,#ff3d00,#ff1900,#f40000,#d00000,#ac0000,#a30000,#a30000,#a30000,#a30000,#a00000,#9b0000,#8f0000,#860000,#810000,#800000,#800000,#820000,#860000,#8f0000,#9e0000,#ec0000,#ff1600,#ff8300,#ffef00,#a3ff5c,#3bffc4,#45ffba,#4effb1,#57ffa8,#60ff9f,#61ff9e,#61ff9e,#61ff9e,#00d8ff,#00d8ff,#04fffb,#57ffa8,#61ff9e,#61ff9e,#61ff9e,#61ff9e,#61ff9e,#71ff8e,#8dff72,#a9ff56,#bdff42,#bdff42,#bdff42,#bdff42,#ff5700,#ff5700,#ff5700,#ff5700,#ff5700,#ff5700,#ff5700,#ff5700,#ff5700)"></div>
<div style="top:220px;background:linear-gradient(90deg,#1affe5,#1affe5,#1affe5,#1affe5,#11ffee,#00fdff,#00eaff,#00d6ff,#00c2ff,#00aaff,#0093ff,#0087ff,#00e9ff,#ff8a00,#ff8a00,#ffb000,#ffbd00,#ffbf00,#ffc400,#ffc900,#ffcf00,#ffde00,#ffee00,#fffd00,#f1ff0e,#f0ff0f,#f0ff0f,#f0ff0f,#f0ff0f,#f4ff0b,#f9ff06,#feff01,#fffb00,#fff200,#ffe800,#ffdd00,#ffd200,#ffd800,#ffe700,#fff700,#f7ff08,#e6ff19,#d3ff2c,#c1ff3e,#aeff51,#aaff55,#bdff42,#cfff30,#e2ff1d,#f1ff0e,#f6ff09,#fbff04,#fffe00,#fff700,#ffe800,#ffd900,#ffca00,#ffbd00,#ffbd00,#ffbd00,#ffbd00,#ffbd00,#ffae00,#ff9e00,#ff8f00,#ff8a00,#ff8a00,#00caff,#08fff7,#08fff7,#00fcff,#00edff,#00deff,#00d0ff,#00d3ff,#00e1ff,#00f0ff,#00ffff,#0afff5,#0efff1,#12ffed,#17ffe8,#1fffe0,#30ffcf,#41ffbe,#53ffac,#69ff96,#94ff6b,#c0ff3f,#ebff14,#ffe700,#ffc000,#ff9900,#ff7200,#ff4b00,#ff2400,#fc0000,#d40000,#ad0000,#a30000,#a30000,#a30000,#a30000,#a20000,#9f0000,#9b0000,#8f0000,#860000,#810000,#800000,#800000,#820000,#870000,#990000,#c70000,#eb0000,#ff5e00,#ffd100,#bbff44,#4dffb2,#52ffad,#57ffa8,#5bffa4,#60ff9f,#61ff9e,#61ff9e,#61ff9e,#00f5ff,#00f5ff,#18ffe7,#59ffa6,#61ff9e,#61ff9e,#61ff9e,#61ff9e,#61ff9e,#71ff8e,#8dff72,#a9ff56,#bdff42,#bdff42,#bdff42,#bdff42,#ff5700,#ff5700,#ff5700,#ff5700,#ff5700,#ff5700,#ff5700,#ff5700,#ff5700)"></div>
<div style="top:222px;background:linear-gradient(90deg,#1affe5,#1affe5,#1affe5,#1affe5,#13ffec,#03fffc,#00f2ff,#00e3ff,#00d1ff,#00bcff,#00a6ff,#009bff,#00f9ff,#ff8a00,#ff8a00,#ffb000,#ffbd00,#ffbd00,#ffbe00,#ffbf00,#ffc000,#ffcf00,#ffde00,#ffed00,#fffc00,#fffd00,#fffd00,#fffd00,#fffd00,#fffc00,#fffc00,#fffb00,#fffa00,#fff000,#ffe100,#ffd300,#ffc500,#ffc800,#ffd700,#ffe600,#fff500,#f8ff07,#e7ff18,#d5ff2a,#c4ff3b,#c0ff3f,#d1ff2e,#e3ff1c,#f5ff0a,#fffd00,#fffc00,#fffb00,#fffa00,#fff700,#ffe800,#ffd900,#ffca00,#ffbd00,#ffbd00,#ffbd00,#ffbd00,#ffbd00,#ffae00,#ff9e00,#ff8f00,#ff8a00,#ff8a00,#00d9ff,#17ffe8,#17ffe8,#0cfff3,#00fcff,#00edff,#00dfff,#00e2ff,#00f0ff,#00ffff,#0ffff0,#17ffe8,#18ffe7,#18ffe7,#19ffe6,#1fffe0,#30ffcf,#41ffbe,#53ffac,#68ff97,#90ff6f,#b8ff47,#e0ff1f,#fff600,#ffcf00,#ffa700,#ff8000,#ff5900,#ff2e00,#ff0400,#d80000,#ae0000,#a30000,#a30000,#a30000,#a30000,#a30000,#a30000,#a20000,#9c0000,#8f0000,#860000,#820000,#800000,#800000,#830000,#900000,#a20000,#c10000,#ff3a00,#ffb300,#d2ff2d,#5effa1,#5fffa0,#5fffa0,#60ff9f,#61ff9e,#61ff9e,#61ff9e,#61ff9e,#14ffeb,#14ffeb,#2dffd2,#5bffa4,#61ff9e,#61ff9e,#61ff9e,#61ff9e,#61ff9e,#71ff8e,#8dff72,#a9ff56,#bdff42,#bdff42,#bdff42,#bdff42,#ff5700,#ff5700,#ff5700,#ff5700,#ff5700,#ff5700,#ff5700,#ff5700,#ff5700)"></div>
<div style="top:224px;background:linear-gradient(90deg,#28ffd7,#28ffd7,#28ffd7,#28ffd7,#21ffde,#12ffed,#02fffd,#00f2ff,#00e2ff,#00d1ff,#00c0ff,#00b7ff,#0ffff0,#ff9400,#ff9400,#ffb300,#ffbd00,#ffba00,#ffb400,#ffae00,#ffa800,#ffb400,#ffc000,#ffcc00,#ffd800,#ffd900,#ffd900,#ffd900,#ffd900,#ffd900,#ffd900,#ffd900,#ffd900,#ffd400,#ffcd00,#ffc600,#ffbf00,#ffc600,#ffd500,#ffe400,#fff200,#ffff00,#f4ff0b,#e9ff16,#deff21,#deff21,#eeff11,#ffff00,#ffef00,#ffe500,#ffea00,#fff000,#fff500,#fff800,#ffec00,#ffe000,#ffd400,#ffc900,#ffc900,#ffc900,#ffc900,#ffc900,#ffbd00,#ffb100,#ffa400,#ffa000,#ffa000,#00e8ff,#28ffd7,#28ffd7,#1fffe0,#13ffec,#08fff7,#00fbff,#03fffc,#17ffe8,#2affd5,#3effc1,#49ffb6,#49ffb6,#49ffb6,#49ffb6,#4effb1,#5fffa0,#70ff8f,#80ff7f,#93ff6c,#b0ff4f,#ccff33,#e9ff16,#fff900,#ffd900,#ffba00,#ff9b00,#ff7b00,#ff5600,#ff3100,#ff0c00,#e50000,#da0000,#d80000,#d50000,#d30000,#d00000,#ce0000,#cb0000,#c90000,#9c0000,#8f0000,#860000,#820000,#800000,#800000,#860000,#980000,#b00000,#ff1f00,#ff8d00,#fffb00,#98ff67,#8fff70,#86ff79,#7dff82,#74ff8b,#73ff8c,#73ff8c,#73ff8c,#1affe5,#1affe5,#36ffc9,#6dff92,#73ff8c,#74ff8b,#78ff87,#7cff83,#80ff7f,#8eff71,#a5ff5a,#bbff44,#cbff34,#cbff34,#cbff34,#cbff34,#ff5700,#ff5700,#ff5700,#ff5700,#ff5700,#ff5700,#ff5700,#ff5700,#ff5700)"></div>
<div style="top:226px;background:linear-gradient(90deg,#39ffc6,#39ffc6,#39ffc6,#39ffc6,#32ffcd,#22ffdd,#12ffed,#02fffd,#00f3ff,#00e7ff,#00dbff,#00d5ff,#24ffdb,#ffa000,#ffa000,#ffb600,#ffbd00,#ffb600,#ffa900,#ff9c00,#ff8f00,#ff9800,#ffa000,#ffa800,#ffb000,#ffb100,#ffb100,#ffb100,#ffb100,#ffb100,#ffb100,#ffb100,#ffb100,#ffb300,#ffb600,#ffb900,#ffbc00,#ffc600,#ffd500,#ffe400,#fff200,#fffb00,#fffe00,#fdff02,#faff05,#feff01,#fff100,#ffe200,#ffd300,#ffcb00,#ffd800,#ffe400,#fff000,#fff800,#fff000,#ffe800,#ffe000,#ffd800,#ffd800,#ffd800,#ffd800,#ffd800,#ffd000,#ffc700,#ffbe00,#ffbc00,#ffbc00,#00f7ff,#39ffc6,#39ffc6,#33ffcc,#2bffd4,#23ffdc,#1bffe4,#27ffd8,#41ffbe,#5affa5,#74ff8b,#82ff7d,#82ff7d,#82ff7d,#82ff7d,#87ff78,#97ff68,#a8ff57,#b8ff47,#c8ff37,#d7ff28,#e6ff19,#f5ff0a,#fff900,#ffe300,#ffce00,#ffb800,#ffa200,#ff8400,#ff6600,#ff4800,#ff2900,#ff1d00,#ff1800,#ff1200,#ff0d00,#ff0700,#ff0200,#fb0000,#f60000,#e80000,#9c0000,#910000,#8b0000,#840000,#800000,#800000,#8b0000,#a50000,#ff0600,#ff6600,#ffc600,#dbff24,#c7ff38,#b3ff4c,#a0ff5f,#8cff73,#8aff75,#8aff75,#8aff75,#1affe5,#1affe5,#3dffc2,#82ff7d,#8aff75,#8cff73,#95ff6a,#9dff62,#a6ff59,#b2ff4d,#c2ff3d,#d1ff2e,#ddff22,#ddff22,#ddff22,#ddff22,#ff5700,#ff5700,#ff5700,#ff5700,#ff5700,#ff5700,#ff5700,#ff5700,#ff5700)"></div>
<div style="top:228px;background:linear-gradient(90deg,#4bffb4,#4bffb4,#4bffb4,#4bffb4,#43ffbc,#33ffcc,#22ffdd,#11ffee,#04fffb,#00fdff,#00f6ff,#00f3ff,#39ffc6,#ffad00,#ffad00,#ffb900,#ffbd00,#ffb200,#ff9e00,#ff8a00,#ff7600,#ff7b00,#ff8000,#ff8400,#ff8900,#ff8900,#ff8900,#ff8900,#ff8900,#ff8900,#ff8900,#ff8900,#ff8900,#ff9200,#ff9f00,#ffab00,#ffb800,#ffc600,#ffd500,#ffe400,#fff200,#fff700,#fff300,#ffee00,#ffe900,#ffe000,#ffd200,#ffc400,#ffb600,#ffb200,#ffc500,#ffd800,#ffea00,#fff900,#fff400,#fff000,#ffeb00,#ffe700,#ffe700,#ffe700,#ffe700,#ffe700,#ffe200,#ffdd00,#ffd900,#ffd700,#ffd700,#07fff8,#4bffb4,#4bffb4,#47ffb8,#43ffbc,#3effc1,#3affc5,#4bffb4,#6bff94,#8bff74,#aaff55,#bcff43,#bcff43,#bcff43,#bcff43,#c0ff3f,#d0ff2f,#e0ff1f,#efff10,#fcff03,#feff01,#fffe00,#fffc00,#fffa00,#ffed00,#ffe100,#ffd500,#ffc900,#ffb200,#ff9b00,#ff8300,#ff6c00,#ff6000,#ff5700,#ff4f00,#ff4600,#ff3e00,#ff3500,#ff2d00,#ff2400,#ff1000,#ef0000,#af0000,#a50000,#970000,#890000,#800000,#800000,#920000,#d30000,#ff3e00,#ff9000,#ffe000,#ffff00,#e1ff1e,#c2ff3d,#a3ff5c,#a0ff5f,#a0ff5f,#a0ff5f,#1affe5,#1affe5,#44ffbb,#97ff68,#a0ff5f,#a4ff5b,#b1ff4e,#beff41,#ccff33,#d6ff29,#dfff20,#e8ff17,#eeff11,#eeff11,#eeff11,#eeff11,#ff5700,#ff5700,#ff5700,#ff5700,#ff5700,#ff5700,#ff5700,#ff5700,#ff5700)"></div>
<div style="top:230px;background:linear-gradient(90deg,#5cffa3,#5cffa3,#5cffa3,#5cffa3,#55ffaa,#43ffbc,#32ffcd,#21ffde,#15ffea,#14ffeb,#12ffed,#12ffed,#4fffb0,#ffb900,#ffb900,#ffbc00,#ffbd00,#ffaf00,#ff9300,#ff7800,#ff5d00,#ff5e00,#ff5f00,#ff6000,#ff6100,#ff6100,#ff6100,#ff6100,#ff6100,#ff6100,#ff6100,#ff6100,#ff6100,#ff7100,#ff8700,#ff9e00,#ffb400,#ffc600,#ffd500,#ffe400,#fff200,#fff400,#ffe700,#ffda00,#ffcd00,#ffc000,#ffb400,#ffa700,#ff9a00,#ff9800,#ffb200,#ffcb00,#ffe500,#fffa00,#fff900,#fff800,#fff700,#fff600,#fff600,#fff600,#fff600,#fff600,#fff500,#fff400,#fff300,#fff300,#fff300,#16ffe9,#5cffa3,#5cffa3,#5cffa3,#5bffa4,#5affa5,#59ffa6,#6fff90,#95ff6a,#bbff44,#e0ff1f,#f5ff0a,#f5ff0a,#f5ff0a,#f5ff0a,#faff05,#fff600,#ffe700,#ffd800,#ffcd00,#ffd900,#ffe400,#ffef00,#fffa00,#fff700,#fff500,#fff200,#fff000,#ffe000,#ffd000,#ffbf00,#ffaf00,#ffa200,#ff9600,#ff8b00,#ff7f00,#ff7400,#ff6800,#ff5d00,#ff5100,#ff3800,#ff0f00,#e50000,#bd0000,#9e0000,#970000,#8f0000,#810000,#810000,#990000,#e00000,#ff5a00,#ff9d00,#ffc700,#fff000,#e4ff1b,#bbff44,#b7ff48,#b7ff48,#b7ff48,#1affe5,#1affe5,#4bffb4,#abff54,#b7ff48,#bbff44,#cdff32,#dfff20,#f1ff0e,#faff05,#fcff03,#feff01,#ffff00,#ffff00,#ffff00,#ffff00,#ff5700,#ff5700,#ff5700,#ff5700,#ff5700,#ff5700,#ff5700,#ff5700,#ff5700)"></div>
<div style="top:232px;background:linear-gradient(90deg,#71ff8e,#71ff8e,#71ff8e,#71ff8e,#6cff93,#61ff9e,#56ffa9,#4bffb4,#42ffbd,#3effc1,#39ffc6,#37ffc8,#6aff95,#ffc800,#ffc800,#ffb800,#ffb400,#ffa700,#ff8f00,#ff7700,#ff6000,#ff6000,#ff6000,#ff6000,#ff6000,#ff6000,#ff6000,#ff6000,#ff6000,#ff6000,#ff6000,#ff6000,#ff6000,#ff6e00,#ff8300,#ff9700,#ffac00,#ffc000,#ffd400,#ffe800,#fffd00,#fdff02,#fff400,#ffe800,#ffdc00,#ffcf00,#ffc200,#ffb500,#ffa700,#ffa500,#ffbf00,#ffd800,#fff200,#f7ff08,#f7ff08,#f7ff08,#f7ff08,#f7ff08,#f7ff08,#f7ff08,#f7ff08,#f7ff08,#f2ff0d,#edff12,#e8ff17,#e7ff18,#e7ff18,#1affe5,#61ff9e,#61ff9e,#68ff97,#72ff8d,#7cff83,#85ff7a,#9fff60,#c4ff3b,#e9ff16,#fff100,#ffdd00,#ffdd00,#ffdd00,#ffdd00,#ffda00,#ffd000,#ffc600,#ffbc00,#ffb600,#ffc400,#ffd300,#ffe100,#ffef00,#fff500,#fffb00,#feff01,#f8ff07,#fcff03,#fffd00,#fff800,#fff300,#ffea00,#ffe000,#ffd600,#ffcc00,#ffc200,#ffb800,#ffad00,#ffa300,#ff8c00,#ff6600,#ff3f00,#ff1900,#f80000,#e50000,#c70000,#9c0000,#820000,#810000,#9c0000,#eb0000,#ff5c00,#ff8a00,#ffb700,#ffe500,#ebff14,#dfff20,#d6ff29,#d4ff2b,#26ffd9,#26ffd9,#5dffa2,#c8ff37,#d4ff2b,#d8ff27,#e5ff1a,#f1ff0e,#feff01,#fffa00,#fffa00,#fffa00,#fffa00,#fffa00,#fffa00,#fffa00,#ff9100,#ff9100,#ff9100,#ff9100,#ff9100,#ff9100,#ff9100,#ff9100,#ff9100)"></div>
<div style="top:234px;background:linear-gradient(90deg,#88ff77,#88ff77,#88ff77,#88ff77,#87ff78,#84ff7b,#81ff7e,#7fff80,#79ff86,#6fff90,#64ff9b,#5fffa0,#87ff78,#ffd700,#ffd700,#ffb300,#ffa700,#ff9e00,#ff8e00,#ff7d00,#ff6c00,#ff6c00,#ff6c00,#ff6c00,#ff6c00,#ff6c00,#ff6c00,#ff6c00,#ff6c00,#ff6c00,#ff6c00,#ff6c00,#ff6c00,#ff7600,#ff8500,#ff9300,#ffa100,#ffb800,#ffd300,#ffef00,#f4ff0b,#eaff15,#f3ff0c,#fbff04,#fffa00,#ffef00,#ffe100,#ffd200,#ffc400,#ffc000,#ffd700,#ffee00,#f9ff06,#e6ff19,#e6ff19,#e6ff19,#e6ff19,#e6ff19,#e6ff19,#e6ff19,#e6ff19,#e6ff19,#daff25,#cfff30,#c3ff3c,#bfff40,#bfff40,#1affe5,#61ff9e,#61ff9e,#72ff8d,#89ff76,#a0ff5f,#b7ff48,#d4ff2b,#f5ff0a,#ffe800,#ffc700,#ffb500,#ffb500,#ffb500,#ffb500,#ffb400,#ffb000,#ffad00,#ffaa00,#ffaa00,#ffb700,#ffc500,#ffd300,#ffe000,#ffee00,#fffc00,#f5ff0a,#e7ff18,#dfff20,#d6ff29,#ceff31,#c6ff39,#c9ff36,#d0ff2f,#d8ff27,#dfff20,#e6ff19,#edff12,#f4ff0b,#fbff04,#fff000,#ffd000,#ffb000,#ff9000,#ff6f00,#ff4e00,#ff2d00,#e60000,#a10000,#830000,#810000,#9f0000,#f60000,#ff4b00,#ff7a00,#ffaa00,#ffd900,#fff100,#f8ff07,#f5ff0a,#38ffc7,#38ffc7,#74ff8b,#e7ff18,#f5ff0a,#f6ff09,#faff05,#feff01,#fffc00,#fffa00,#fffa00,#fffa00,#fffa00,#fffa00,#fffa00,#fffa00,#ffe100,#ffe100,#ffe100,#ffe100,#ffe100,#ffe100,#ffe100,#ffe100,#ffe100)"></div>
<div style="top:236px;background:linear-gradient(90deg,#9eff61,#9eff61,#9eff61,#9eff61,#a1ff5e,#a7ff58,#acff53,#b2ff4d,#b0ff4f,#a0ff5f,#8fff70,#86ff79,#a4ff5b,#ffe600,#ffe600,#ffad00,#ff9b00,#ff9600,#ff8c00,#ff8200,#ff7900,#ff7900,#ff7900,#ff7900,#ff7900,#ff7900,#ff7900,#ff7900,#ff7900,#ff7900,#ff7900,#ff7900,#ff7900,#ff7f00,#ff8700,#ff8f00,#ff9700,#ffb000,#ffd300,#fff500,#e6ff19,#d7ff28,#dcff23,#e1ff1e,#e6ff19,#efff10,#ffff00,#fff000,#ffe000,#ffdb00,#ffef00,#faff05,#e5ff1a,#d4ff2b,#d4ff2b,#d4ff2b,#d4ff2b,#d4ff2b,#d4ff2b,#d4ff2b,#d4ff2b,#d4ff2b,#c2ff3d,#b0ff4f,#9dff62,#97ff68,#97ff68,#1affe5,#61ff9e,#61ff9e,#7cff83,#a0ff5f,#c4ff3b,#e8ff17,#fff600,#ffd800,#ffba00,#ff9d00,#ff8d00,#ff8d00,#ff8d00,#ff8d00,#ff8e00,#ff9100,#ff9500,#ff9800,#ff9d00,#ffaa00,#ffb700,#ffc400,#ffd200,#ffe700,#fffc00,#ecff13,#d7ff28,#c1ff3e,#acff53,#97ff68,#81ff7e,#7fff80,#83ff7c,#87ff78,#8bff74,#8fff70,#93ff6c,#97ff68,#9cff63,#aaff55,#c4ff3b,#ddff22,#f7ff08,#ffe600,#ffb700,#ff8800,#ff5800,#f50000,#a60000,#830000,#810000,#a20000,#ff0200,#ff3d00,#ff6e00,#ffa000,#ffc200,#ffe300,#ffe900,#49ffb6,#49ffb6,#8aff75,#fff800,#ffe900,#ffea00,#ffef00,#fff300,#fff800,#fffa00,#fffa00,#fffa00,#fffa00,#fffa00,#fffa00,#fffa00,#cdff32,#cdff32,#cdff32,#cdff32,#cdff32,#cdff32,#cdff32,#cdff32,#cdff32)"></div>
<div style="top:238px;background:linear-gradient(90deg,#b5ff4a,#b5ff4a,#b5ff4a,#b5ff4a,#bbff44,#c9ff36,#d8ff27,#e6ff19,#e8ff17,#d1ff2e,#baff45,#aeff51,#c1ff3e,#fff500,#fff500,#ffa700,#ff8e00,#ff8d00,#ff8a00,#ff8800,#ff8500,#ff8500,#ff8500,#ff8500,#ff8500,#ff8500,#ff8500,#ff8500,#ff8500,#ff8500,#ff8500,#ff8500,#ff8500,#ff8700,#ff8900,#ff8b00,#ff8d00,#ffa800,#ffd200,#fffc00,#d8ff27,#c4ff3b,#c5ff3a,#c6ff39,#c8ff37,#cfff30,#e0ff1f,#f1ff0e,#fffc00,#fff500,#f6ff09,#e4ff1b,#d2ff2d,#c3ff3c,#c3ff3c,#c3ff3c,#c3ff3c,#c3ff3c,#c3ff3c,#c3ff3c,#c3ff3c,#c3ff3c,#aaff55,#91ff6e,#77ff88,#6fff90,#6fff90,#1affe5,#61ff9e,#61ff9e,#86ff79,#b7ff48,#e8ff17,#ffe400,#ffc100,#ffa700,#ff8d00,#ff7300,#ff6500,#ff6500,#ff6500,#ff6500,#ff6800,#ff7200,#ff7c00,#ff8600,#ff9000,#ff9d00,#ffa900,#ffb600,#ffc300,#ffe000,#fffd00,#e3ff1c,#c6ff39,#a4ff5b,#82ff7d,#5fffa0,#3cffc3,#34ffcb,#35ffca,#37ffc8,#38ffc7,#39ffc6,#3affc5,#3bffc4,#3cffc3,#46ffb9,#59ffa6,#6dff92,#80ff7f,#a1ff5e,#dfff20,#ffe200,#ffa500,#ff6900,#ff0500,#ab0000,#840000,#810000,#a20000,#fb0000,#ff3300,#ff6600,#ff9400,#ffc100,#ffc800,#5bffa4,#5bffa4,#a0ff5f,#ffd800,#ffc800,#ffcc00,#ffd900,#ffe700,#fff400,#fffa00,#fffa00,#fffa00,#fffa00,#fffa00,#fffa00,#fffa00,#7eff81,#7eff81,#7eff81,#7eff81,#7eff81,#7eff81,#7eff81,#7eff81,#7eff81)"></div>
<div style="top:240px;background:linear-gradient(90deg,#bdff42,#bdff42,#bdff42,#bdff42,#c3ff3c,#d2ff2d,#e1ff1e,#efff10,#f0ff0f,#d6ff29,#bcff43,#aeff51,#bfff40,#fffa00,#fffa00,#ffb200,#ff9b00,#ff9b00,#ff9b00,#ff9b00,#ff9b00,#ff9b00,#ff9b00,#ff9b00,#ff9b00,#ff9b00,#ff9b00,#ff9b00,#ff9b00,#ff9b00,#ff9b00,#ff9b00,#ff9b00,#ff9b00,#ff9b00,#ff9b00,#ff9b00,#ffb400,#ffdc00,#f9ff06,#d1ff2e,#bdff42,#bdff42,#bdff42,#bdff42,#c4ff3b,#d5ff2a,#e6ff19,#f8ff07,#fffe00,#f1ff0e,#e3ff1c,#d4ff2b,#c8ff37,#c8ff37,#c8ff37,#c8ff37,#c8ff37,#c8ff37,#c8ff37,#c8ff37,#c8ff37,#aeff51,#93ff6c,#78ff87,#6fff90,#6fff90,#1affe5,#61ff9e,#61ff9e,#83ff7c,#b1ff4e,#deff21,#fff200,#ffce00,#ffb100,#ff9400,#ff7600,#ff6700,#ff6700,#ff6700,#ff6700,#ff6a00,#ff7400,#ff7f00,#ff8900,#ff9300,#ff9c00,#ffa400,#ffad00,#ffb600,#ffd800,#fffa00,#e2ff1d,#c0ff3f,#9cff63,#77ff88,#53ffac,#2effd1,#25ffda,#25ffda,#25ffda,#25ffda,#25ffda,#25ffda,#25ffda,#25ffda,#2bffd4,#3affc5,#48ffb7,#57ffa8,#74ff8b,#b0ff4f,#ebff14,#ffd700,#ff9b00,#ff5c00,#ff1500,#b00000,#840000,#810000,#a00000,#f30000,#ff3200,#ff6500,#ff9b00,#ffa400,#9dff62,#9dff62,#c2ff3d,#fff300,#ffeb00,#ffec00,#fff000,#fff400,#fff800,#fffa00,#fffa00,#fffa00,#fffa00,#fffa00,#fffa00,#fffa00,#61ff9e,#61ff9e,#61ff9e,#61ff9e,#61ff9e,#61ff9e,#61ff9e,#61ff9e,#61ff9e)"></div>
<div style="top:242px;background:linear-gradient(90deg,#bdff42,#bdff42,#bdff42,#bdff42,#c1ff3e,#ccff33,#d6ff29,#e1ff1e,#deff21,#c2ff3d,#a7ff58,#98ff67,#aeff51,#fffa00,#fffa00,#ffc700,#ffb700,#ffb700,#ffb700,#ffb700,#ffb700,#ffb700,#ffb700,#ffb700,#ffb700,#ffb700,#ffb700,#ffb700,#ffb700,#ffb700,#ffb700,#ffb700,#ffb700,#ffb700,#ffb700,#ffb700,#ffb700,#ffcb00,#ffed00,#efff10,#ceff31,#bdff42,#bdff42,#bdff42,#bdff42,#c4ff3b,#d5ff2a,#e6ff19,#f8ff07,#fffd00,#f7ff08,#ecff13,#e2ff1d,#d9ff26,#d9ff26,#d9ff26,#d9ff26,#d9ff26,#d9ff26,#d9ff26,#d9ff26,#d9ff26,#c1ff3e,#a7ff58,#8eff71,#86ff79,#86ff79,#1affe5,#61ff9e,#61ff9e,#79ff86,#9aff65,#baff45,#daff25,#fdff02,#ffdc00,#ffb800,#ff9300,#ff8000,#ff8000,#ff8000,#ff8000,#ff8200,#ff8900,#ff9100,#ff9800,#ff9f00,#ffa100,#ffa300,#ffa600,#ffa900,#ffce00,#fff300,#e6ff19,#c1ff3e,#a0ff5f,#7fff80,#5fffa0,#3effc1,#36ffc9,#36ffc9,#36ffc9,#36ffc9,#36ffc9,#36ffc9,#36ffc9,#36ffc9,#3bffc4,#45ffba,#50ffaf,#5affa5,#71ff8e,#a1ff5e,#d2ff2d,#fffb00,#ffc800,#ff8b00,#ff4e00,#ff1100,#af0000,#840000,#810000,#9d0000,#eb0000,#ff3700,#ff7300,#ff7d00,#faff05,#faff05,#ebff14,#ceff31,#cbff34,#cfff30,#deff21,#eeff11,#fdff02,#fffa00,#fffa00,#fffa00,#fffa00,#fffa00,#fffa00,#fffa00,#61ff9e,#61ff9e,#61ff9e,#61ff9e,#61ff9e,#61ff9e,#61ff9e,#61ff9e,#61ff9e)"></div>
<div style="top:244px;background:linear-gradient(90deg,#bdff42,#bdff42,#bdff42,#bdff42,#bfff40,#c6ff39,#ccff33,#d2ff2d,#ccff33,#afff50,#91ff6e,#82ff7d,#9cff63,#fffa00,#fffa00,#ffdc00,#ffd200,#ffd200,#ffd200,#ffd200,#ffd200,#ffd200,#ffd200,#ffd200,#ffd200,#ffd200,#ffd200,#ffd200,#ffd200,#ffd200,#ffd200,#ffd200,#ffd200,#ffd200,#ffd200,#ffd200,#ffd200,#ffe200,#fffe00,#e5ff1a,#caff35,#bdff42,#bdff42,#bdff42,#bdff42,#c4ff3b,#d5ff2a,#e6ff19,#f8ff07,#fffc00,#fcff03,#f6ff09,#f0ff0f,#ebff14,#ebff14,#ebff14,#ebff14,#ebff14,#ebff14,#ebff14,#ebff14,#ebff14,#d3ff2c,#bcff43,#a4ff5b,#9cff63,#9cff63,#1affe5,#61ff9e,#61ff9e,#6fff90,#82ff7d,#96ff69,#a9ff56,#cbff34,#f7ff08,#ffdc00,#ffb000,#ff9800,#ff9800,#ff9800,#ff9800,#ff9a00,#ff9e00,#ffa300,#ffa700,#ffaa00,#ffa600,#ffa300,#ff9f00,#ff9d00,#ffc500,#ffed00,#e9ff16,#c1ff3e,#a4ff5b,#87ff78,#6bff94,#4fffb0,#48ffb7,#48ffb7,#48ffb7,#48ffb7,#48ffb7,#48ffb7,#48ffb7,#48ffb7,#4affb5,#50ffaf,#57ffa8,#5dffa2,#6dff92,#93ff6c,#b9ff46,#dfff20,#fff500,#ffba00,#ff7f00,#ff4400,#ff0a00,#ad0000,#840000,#810000,#9b0000,#e30000,#ff4b00,#ff5700,#ffa700,#ffa700,#ffea00,#92ff6d,#83ff7c,#8bff74,#aeff51,#d1ff2e,#f5ff0a,#fffa00,#fffa00,#fffa00,#fffa00,#fffa00,#fffa00,#fffa00,#61ff9e,#61ff9e,#61ff9e,#61ff9e,#61ff9e,#61ff9e,#61ff9e,#61ff9e,#61ff9e)"></div>
<div style="top:246px;background:linear-gradient(90deg,#bdff42,#bdff42,#bdff42,#bdff42,#beff41,#c0ff3f,#c1ff3e,#c3ff3c,#baff45,#9bff64,#7cff83,#6bff94,#8aff75,#fffa00,#fffa00,#fff000,#ffed00,#ffed00,#ffed00,#ffed00,#ffed00,#ffed00,#ffed00,#ffed00,#ffed00,#ffed00,#ffed00,#ffed00,#ffed00,#ffed00,#ffed00,#ffed00,#ffed00,#ffed00,#ffed00,#ffed00,#ffed00,#fffa00,#f0ff0f,#dbff24,#c7ff38,#bdff42,#bdff42,#bdff42,#bdff42,#c4ff3b,#d5ff2a,#e6ff19,#f8ff07,#fffa00,#fffc00,#fffe00,#feff01,#fcff03,#fcff03,#fcff03,#fcff03,#fcff03,#fcff03,#fcff03,#fcff03,#fcff03,#e6ff19,#d0ff2f,#baff45,#b2ff4d,#b2ff4d,#1affe5,#61ff9e,#61ff9e,#65ff9a,#6bff94,#71ff8e,#77ff88,#98ff67,#cbff34,#feff01,#ffcd00,#ffb100,#ffb100,#ffb100,#ffb100,#ffb200,#ffb300,#ffb500,#ffb600,#ffb500,#ffac00,#ffa200,#ff9900,#ff9100,#ffbc00,#ffe700,#ecff13,#c1ff3e,#a7ff58,#8fff70,#77ff88,#5fffa0,#59ffa6,#59ffa6,#59ffa6,#59ffa6,#59ffa6,#59ffa6,#59ffa6,#59ffa6,#5affa5,#5cffa3,#5effa1,#60ff9f,#6aff95,#85ff7a,#a0ff5f,#bbff44,#dcff23,#ffe900,#ffb000,#ff7600,#ff3d00,#ff0e00,#ab0000,#840000,#810000,#9d0000,#ff1600,#ff3000,#ff4900,#ff4900,#ffc100,#56ffa9,#3affc5,#48ffb7,#7eff81,#b5ff4a,#ecff13,#fffa00,#fffa00,#fffa00,#fffa00,#fffa00,#fffa00,#fffa00,#61ff9e,#61ff9e,#61ff9e,#61ff9e,#61ff9e,#61ff9e,#61ff9e,#61ff9e,#61ff9e)"></div>
<div style="top:248px;background:linear-gradient(90deg,#bdff42,#bdff42,#bdff42,#bdff42,#bdff42,#bdff42,#bdff42,#bdff42,#b2ff4d,#92ff6d,#72ff8d,#61ff9e,#81ff7e,#fffa00,#fffa00,#fffa00,#fffa00,#fffa00,#fffa00,#fffa00,#fffa00,#fffa00,#fffa00,#fffa00,#fffa00,#fffa00,#fffa00,#fffa00,#fffa00,#fffa00,#fffa00,#fffa00,#fffa00,#fffa00,#fffa00,#fffa00,#fffa00,#faff05,#e8ff17,#d7ff28,#c5ff3a,#bdff42,#bdff42,#bdff42,#bdff42,#c4ff3b,#d5ff2a,#e6ff19,#f8ff07,#fffa00,#fffa00,#fffa00,#fffa00,#fffa00,#fffa00,#fffa00,#fffa00,#fffa00,#fffa00,#fffa00,#fffa00,#fffa00,#efff10,#d9ff26,#c4ff3b,#bdff42,#bdff42,#1affe5,#61ff9e,#61ff9e,#61ff9e,#61ff9e,#61ff9e,#61ff9e,#81ff7e,#b8ff47,#eeff11,#ffda00,#ffbd00,#ffbd00,#ffbd00,#ffbd00,#ffbd00,#ffbd00,#ffbd00,#ffbd00,#ffbb00,#ffae00,#ffa200,#ff9600,#ff8b00,#ffb700,#ffe400,#eeff11,#c2ff3d,#a9ff56,#93ff6c,#7dff82,#66ff99,#61ff9e,#61ff9e,#61ff9e,#61ff9e,#61ff9e,#61ff9e,#61ff9e,#61ff9e,#61ff9e,#61ff9e,#61ff9e,#61ff9e,#68ff97,#7eff81,#94ff6b,#abff54,#c6ff39,#f8ff07,#ffd400,#ffa200,#ff7000,#ff4000,#ff0700,#a90000,#850000,#810000,#b00000,#f40000,#fd0000,#fd0000,#ffa900,#0afff5,#00e2ff,#00f4ff,#3effc1,#88ff77,#d1ff2e,#f4ff0b,#faff05,#fffe00,#fffa00,#fffa00,#fffa00,#fffa00,#61ff9e,#61ff9e,#61ff9e,#61ff9e,#61ff9e,#61ff9e,#61ff9e,#61ff9e,#61ff9e)"></div>
<div style="top:250px;background:linear-gradient(90deg,#bdff42,#bdff42,#bdff42,#bdff42,#bdff42,#bdff42,#bdff42,#bdff42,#b2ff4d,#92ff6d,#72ff8d,#61ff9e,#81ff7e,#fffa00,#fffa00,#fffa00,#fffa00,#fffa00,#fffa00,#fffa00,#fffa00,#fffa00,#fffa00,#fffa00,#fffa00,#fffa00,#fffa00,#fffa00,#fffa00,#fffa00,#fffa00,#fffa00,#fffa00,#fffa00,#fffa00,#fffa00,#fffa00,#faff05,#e8ff17,#d7ff28,#c5ff3a,#bdff42,#bdff42,#bdff42,#bdff42,#c4ff3b,#d5ff2a,#e6ff19,#f8ff07,#fffa00,#fffa00,#fffa00,#fffa00,#fffa00,#fffa00,#fffa00,#fffa00,#fffa00,#fffa00,#fffa00,#fffa00,#fffa00,#efff10,#d9ff26,#c4ff3b,#bdff42,#bdff42,#1affe5,#61ff9e,#61ff9e,#61ff9e,#61ff9e,#61ff9e,#61ff9e,#81ff7e,#b8ff47,#eeff11,#ffda00,#ffbd00,#ffbd00,#ffbd00,#ffbd00,#ffbd00,#ffbd00,#ffbd00,#ffbd00,#ffbb00,#ffae00,#ffa200,#ff9600,#ff8b00,#ffb700,#ffe400,#eeff11,#c2ff3d,#a9ff56,#93ff6c,#7dff82,#66ff99,#61ff9e,#61ff9e,#61ff9e,#61ff9e,#61ff9e,#61ff9e,#61ff9e,#61ff9e,#61ff9e,#61ff9e,#61ff9e,#61ff9e,#68ff97,#7eff81,#94ff6b,#abff54,#c4ff3b,#eaff15,#ffee00,#ffc800,#ffa200,#ff7900,#ff4f00,#ff1900,#c10000,#890000,#820000,#a60000,#c10000,#c20000,#ffa500,#00abff,#007aff,#0093ff,#00efff,#4bffb4,#a6ff59,#d7ff28,#e8ff17,#f8ff07,#fffa00,#fffa00,#fffa00,#fffa00,#61ff9e,#61ff9e,#61ff9e,#61ff9e,#61ff9e,#61ff9e,#61ff9e,#61ff9e,#61ff9e)"></div>
<div style="top:252px;background:linear-gradient(90deg,#bdff42,#bdff42,#bdff42,#bdff42,#bdff42,#bdff42,#bdff42,#bdff42,#b2ff4d,#92ff6d,#72ff8d,#61ff9e,#81ff7e,#fffa00,#fffa00,#fffa00,#fffa00,#fffa00,#fffa00,#fffa00,#fffa00,#fffa00,#fffa00,#fffa00,#fffa00,#fffa00,#fffa00,#fffa00,#fffa00,#fffa00,#fffa00,#fffa00,#fffa00,#fffa00,#fffa00,#fffa00,#fffa00,#faff05,#e8ff17,#d7ff28,#c5ff3a,#bdff42,#bdff42,#bdff42,#bdff42,#c4ff3b,#d5ff2a,#e6ff19,#f8ff07,#fffa00,#fffa00,#fffa00,#fffa00,#fffa00,#fffa00,#fffa00,#fffa00,#fffa00,#fffa00,#fffa00,#fffa00,#fffa00,#efff10,#d9ff26,#c4ff3b,#bdff42,#bdff42,#1affe5,#61ff9e,#61ff9e,#61ff9e,#61ff9e,#61ff9e,#61ff9e,#81ff7e,#b8ff47,#eeff11,#ffda00,#ffbd00,#ffbd00,#ffbd00,#ffbd00,#ffbd00,#ffbd00,#ffbd00,#ffbd00,#ffbb00,#ffae00,#ffa200,#ff9600,#ff8b00,#ffb700,#ffe400,#eeff11,#c2ff3d,#a9ff56,#93ff6c,#7dff82,#66ff99,#61ff9e,#61ff9e,#61ff9e,#61ff9e,#61ff9e,#61ff9e,#61ff9e,#61ff9e,#61ff9e,#61ff9e,#61ff9e,#61ff9e,#68ff97,#7eff81,#94ff6b,#abff54,#c2ff3d,#e2ff1d,#fffb00,#ffdb00,#ffbb00,#ff9500,#ff6f00,#ff4900,#ff2300,#d90000,#8c0000,#800000,#a30000,#a80000,#ffcc00,#005dff,#0035ff,#005cff,#00c7ff,#2dffd2,#91ff6e,#c9ff36,#dfff20,#f5ff0a,#fffa00,#fffa00,#fffa00,#fffa00,#61ff9e,#61ff9e,#61ff9e,#61ff9e,#61ff9e,#61ff9e,#61ff9e,#61ff9e,#61ff9e)"></div>
<div style="top:254px;background:linear-gradient(90deg,#bdff42,#bdff42,#bdff42,#bdff42,#bdff42,#bdff42,#bdff42,#bdff42,#b2ff4d,#92ff6d,#72ff8d,#61ff9e,#81ff7e,#fffa00,#fffa00,#fffa00,#fffa00,#fffa00,#fffa00,#fffa00,#fffa00,#fffa00,#fffa00,#fffa00,#fffa00,#fffa00,#fffa00,#fffa00,#fffa00,#fffa00,#fffa00,#fffa00,#fffa00,#fffa00,#fffa00,#fffa00,#fffa00,#faff05,#e8ff17,#d7ff28,#c5ff3a,#bdff42,#bdff42,#bdff42,#bdff42,#c4ff3b,#d5ff2a,#e6ff19,#f8ff07,#fffa00,#fffa00,#fffa00,#fffa00,#fffa00,#fffa00,#fffa00,#fffa00,#fffa00,#fffa00,#fffa00,#fffa00,#fffa00,#efff10,#d9ff26,#c4ff3b,#bdff42,#bdff42,#1affe5,#61ff9e,#61ff9e,#61ff9e,#61ff9e,#61ff9e,#61ff9e,#81ff7e,#b8ff47,#eeff11,#ffda00,#ffbd00,#ffbd00,#ffbd00,#ffbd00,#ffbd00,#ffbd00,#ffbd00,#ffbd00,#ffbb00,#ffae00,#ffa200,#ff9600,#ff8b00,#ffb700,#ffe400,#eeff11,#c2ff3d,#a9ff56,#93ff6c,#7dff82,#66ff99,#61ff9e,#61ff9e,#61ff9e,#61ff9e,#61ff9e,#61ff9e,#61ff9e,#61ff9e,#61ff9e,#61ff9e,#61ff9e,#61ff9e,#68ff97,#7eff81,#94ff6b,#abff54,#c2ff3d,#e2ff1d,#fffb00,#ffdb00,#ffbb00,#ff9500,#ff6f00,#ff4900,#ff2300,#d90000,#8d0000,#800000,#820000,#ae0000,#ffbf00,#008eff,#0016ff,#0051ff,#00c5ff,#2dffd2,#91ff6e,#c9ff36,#dfff20,#f5ff0a,#fffa00,#fffa00,#fffa00,#fffa00,#61ff9e,#61ff9e,#61ff9e,#61ff9e,#61ff9e,#61ff9e,#61ff9e,#61ff9e,#61ff9e)"></div>
<div style="top:256px;background:linear-gradient(90deg,#61ff9e,#61ff9e,#61ff9e,#61ff9e,#61ff9e,#61ff9e,#61ff9e,#61ff9e,#58ffa7,#40ffbf,#27ffd8,#1affe5,#1affe5,#1affe5,#1affe5,#4fffb0,#61ff9e,#6eff91,#89ff76,#a3ff5c,#bdff42,#bdff42,#bdff42,#bdff42,#bdff42,#a8ff57,#92ff6d,#7bff84,#65ff9a,#61ff9e,#61ff9e,#61ff9e,#61ff9e,#61ff9e,#61ff9e,#61ff9e,#61ff9e,#56ffa9,#45ffba,#34ffcb,#22ffdd,#1affe5,#1affe5,#1affe5,#1affe5,#20ffdf,#32ffcd,#43ffbc,#55ffaa,#61ff9e,#61ff9e,#61ff9e,#61ff9e,#65ff9a,#7bff84,#92ff6d,#a8ff57,#bdff42,#bdff42,#bdff42,#bdff42,#bdff42,#8cff73,#5bffa4,#29ffd6,#1affe5,#1affe5,#00dbff,#1affe5,#1affe5,#1affe5,#1affe5,#1affe5,#1affe5,#24ffdb,#35ffca,#46ffb9,#58ffa7,#61ff9e,#61ff9e,#61ff9e,#61ff9e,#61ff9e,#61ff9e,#61ff9e,#61ff9e,#5effa1,#4dffb2,#3bffc4,#2affd5,#19ffe6,#0afff5,#00faff,#00ecff,#00ddff,#00ceff,#00bfff,#00b1ff,#00a2ff,#009eff,#009eff,#009eff,#009eff,#009eff,#009eff,#009eff,#009eff,#00acff,#00c9ff,#00e7ff,#05fffa,#1affe5,#1affe5,#1affe5,#1affe5,#1dffe2,#2effd1,#3fffc0,#50ffaf,#64ff9b,#c1ff3e,#ffe100,#ff8400,#ff2800,#e90000,#ae0000,#a60000,#900000,#8a0000,#ff0b00,#a1ff5e,#50ffaf,#a2ff5d,#00c7ff,#2dffd2,#91ff6e,#bdff42,#bdff42,#bdff42,#bdff42,#bdff42,#bdff42,#bdff42,#00dbff,#00dbff,#00dbff,#00dbff,#00dbff,#00dbff,#00dbff,#00dbff,#00dbff)"></div>
<div style="top:258px;background:linear-gradient(90deg,#8eff71,#8eff71,#8eff71,#8eff71,#8eff71,#8eff71,#8eff71,#8eff71,#86ff79,#6eff91,#56ffa9,#49ffb6,#42ffbd,#23ffdc,#23ffdc,#63ff9c,#77ff88,#87ff78,#a4ff5b,#c1ff3e,#ddff22,#dfff20,#e1ff1e,#e3ff1c,#e5ff1a,#d3ff2c,#c0ff3f,#adff52,#99ff66,#96ff69,#96ff69,#96ff69,#96ff69,#96ff69,#96ff69,#96ff69,#96ff69,#8cff73,#7bff84,#6aff95,#59ffa6,#51ffae,#51ffae,#51ffae,#51ffae,#56ffa9,#65ff9a,#74ff8b,#83ff7c,#8dff72,#8aff75,#86ff79,#83ff7c,#84ff7b,#9bff64,#b1ff4e,#c8ff37,#ddff22,#dbff24,#daff25,#d8ff27,#d6ff29,#a8ff57,#78ff87,#49ffb6,#3affc5,#3affc5,#00eeff,#51ffae,#51ffae,#51ffae,#51ffae,#51ffae,#51ffae,#58ffa7,#66ff99,#73ff8c,#80ff7f,#87ff78,#87ff78,#87ff78,#87ff78,#88ff77,#89ff76,#8bff74,#8dff72,#8bff74,#7dff82,#6eff91,#5fffa0,#50ffaf,#3bffc4,#27ffd8,#12ffed,#00fdff,#00ecff,#00dcff,#00cdff,#00bdff,#00b9ff,#00b9ff,#00b9ff,#00b9ff,#00b9ff,#00b9ff,#00b9ff,#00b9ff,#00c5ff,#00deff,#00f8ff,#12ffed,#24ffdb,#27ffd8,#2bffd4,#2effd1,#34ffcb,#47ffb8,#5affa5,#6dff92,#83ff7c,#c8ff37,#fff000,#ffaa00,#ff6500,#ff3c00,#ff1f00,#ff4000,#ff2900,#ae0000,#950000,#db0000,#ff1a00,#ff5800,#fffd00,#7cff83,#d1ff2e,#f6ff09,#f6ff09,#f6ff09,#f6ff09,#f6ff09,#f6ff09,#f6ff09,#15ffea,#15ffea,#12ffed,#0dfff2,#08fff7,#05fffa,#05fffa,#05fffa,#05fffa)"></div>
<div style="top:260px;background:linear-gradient(90deg,#ffa700,#ffa700,#ffa700,#ffa700,#ffa700,#ffa700,#ffa700,#ffa700,#ffae00,#ffc100,#ffd500,#ffdf00,#f5ff0a,#4fffb0,#4fffb0,#b9ff46,#dcff23,#f1ff0e,#ffe300,#ffb900,#ff9000,#ff8600,#ff7c00,#ff7100,#ff6700,#ff6b00,#ff7100,#ff7600,#ff7c00,#ff7d00,#ff7d00,#ff7d00,#ff7d00,#ff7d00,#ff7d00,#ff7d00,#ff7d00,#ff8600,#ff9400,#ffa300,#ffb100,#ffb900,#ffb900,#ffb900,#ffb900,#ffb700,#ffb300,#ffae00,#ffaa00,#ffad00,#ffbf00,#ffd200,#ffe500,#fff000,#ffd700,#ffbf00,#ffa700,#ff9100,#ff9b00,#ffa400,#ffad00,#ffb700,#ffdc00,#fcff03,#d6ff29,#caff35,#caff35,#40ffbf,#ffb900,#ffb900,#ffb900,#ffb900,#ffb900,#ffb900,#ffbc00,#ffc100,#ffc600,#ffcb00,#ffce00,#ffce00,#ffce00,#ffce00,#ffcb00,#ffc100,#ffb800,#ffaf00,#ffa800,#ffac00,#ffb000,#ffb500,#ffba00,#ffe900,#e7ff18,#b9ff46,#8aff75,#73ff8c,#5fffa0,#4bffb4,#36ffc9,#31ffce,#31ffce,#31ffce,#31ffce,#31ffce,#31ffce,#31ffce,#31ffce,#35ffca,#3cffc3,#43ffbc,#4affb5,#55ffaa,#65ff9a,#76ff89,#87ff78,#9aff65,#b6ff49,#d2ff2d,#efff10,#fff500,#eaff15,#cbff34,#acff53,#8dff72,#53ffac,#06fff9,#00abff,#22ffdd,#ff8500,#9e0000,#840000,#970000,#d40000,#ff3400,#ff2300,#ff1200,#ff0a00,#ff0a00,#ff0a00,#ff0a00,#ff0a00,#ff0a00,#ff0a00,#ffee00,#ffee00,#ffff00,#e4ff1b,#c9ff36,#bbff44,#bbff44,#bbff44,#bbff44)"></div>
<div style="top:262px;background:linear-gradient(90deg,#ff5700,#ff5700,#ff5700,#ff5700,#ff5700,#ff5700,#ff5700,#ff5700,#ff5d00,#ff6f00,#ff8000,#ff8a00,#ffc100,#61ff9e,#61ff9e,#dcff23,#fffa00,#ffe200,#ffb300,#ff8400,#ff5600,#ff4900,#ff3b00,#ff2d00,#ff2000,#ff1f00,#ff1f00,#ff1f00,#ff1f00,#ff1f00,#ff1f00,#ff1f00,#ff1f00,#ff1f00,#ff1f00,#ff1f00,#ff1f00,#ff2700,#ff3500,#ff4200,#ff5000,#ff5700,#ff5700,#ff5700,#ff5700,#ff5700,#ff5700,#ff5700,#ff5700,#ff5e00,#ff7700,#ff9000,#ffa800,#ffb800,#ff9f00,#ff8600,#ff6e00,#ff5800,#ff6400,#ff7000,#ff7d00,#ff8900,#ffab00,#ffcd00,#ffef00,#fffa00,#fffa00,#61ff9e,#ff5700,#ff5700,#ff5700,#ff5700,#ff5700,#ff5700,#ff5e00,#ff6a00,#ff7700,#ff8300,#ff8a00,#ff8a00,#ff8a00,#ff8a00,#ff8600,#ff7900,#ff6d00,#ff6100,#ff5700,#ff5700,#ff5700,#ff5700,#ff5900,#ff9100,#ffca00,#fcff03,#c3ff3c,#a9ff56,#93ff6c,#7dff82,#66ff99,#61ff9e,#61ff9e,#61ff9e,#61ff9e,#61ff9e,#61ff9e,#61ff9e,#61ff9e,#61ff9e,#61ff9e,#61ff9e,#61ff9e,#68ff97,#7eff81,#94ff6b,#abff54,#c2ff3d,#e2ff1d,#fffb00,#ffdb00,#ffbf00,#f7ff08,#b0ff4f,#68ff97,#21ffde,#00bfff,#0055ff,#0024ff,#0048ff,#d5ff2a,#cf0000,#860000,#800000,#820000,#8c0000,#950000,#9f0000,#a30000,#a30000,#a30000,#a30000,#a30000,#a30000,#a30000,#ff8a00,#ff8a00,#ffa000,#ffc400,#ffe700,#fffa00,#fffa00,#fffa00,#fffa00)"></div>
<div style="top:264px;background:linear-gradient(90deg,#ff5700,#ff5700,#ff5700,#ff5700,#ff5700,#ff5700,#ff5700,#ff5700,#ff5d00,#ff6f00,#ff8000,#ff8a00,#ffc100,#61ff9e,#61ff9e,#dcff23,#fffa00,#ffe200,#ffb300,#ff8400,#ff5600,#ff4900,#ff3b00,#ff2d00,#ff2000,#ff1f00,#ff1f00,#ff1f00,#ff1f00,#ff1f00,#ff1f00,#ff1f00,#ff1f00,#ff1f00,#ff1f00,#ff1f00,#ff1f00,#ff2700,#ff3500,#ff4200,#ff5000,#ff5700,#ff5700,#ff5700,#ff5700,#ff5700,#ff5700,#ff5700,#ff5700,#ff5e00,#ff7700,#ff9000,#ffa800,#ffb800,#ff9f00,#ff8600,#ff6e00,#ff5800,#ff6400,#ff7000,#ff7d00,#ff8900,#ffab00,#ffcd00,#ffef00,#fffa00,#fffa00,#61ff9e,#ff5700,#ff5700,#ff5700,#ff5700,#ff5700,#ff5700,#ff5e00,#ff6a00,#ff7700,#ff8300,#ff8a00,#ff8a00,#ff8a00,#ff8a00,#ff8600,#ff7900,#ff6d00,#ff6100,#ff5700,#ff5700,#ff5700,#ff5700,#ff5900,#ff9100,#ffca00,#fcff03,#c3ff3c,#a9ff56,#93ff6c,#7dff82,#66ff99,#61ff9e,#61ff9e,#61ff9e,#61ff9e,#61ff9e,#61ff9e,#61ff9e,#61ff9e,#61ff9e,#61ff9e,#61ff9e,#61ff9e,#68ff97,#7eff81,#94ff6b,#abff54,#c2ff3d,#e2ff1d,#fffb00,#ffdb00,#ffbf00,#f7ff08,#b0ff4f,#68ff97,#21ffde,#00c0ff,#005aff,#003dff,#0034ff,#fffb00,#ff0d00,#ab0000,#800000,#800000,#8c0000,#950000,#9f0000,#a30000,#a30000,#a30000,#a30000,#a30000,#a30000,#a30000,#ff8a00,#ff8a00,#ffa000,#ffc400,#ffe700,#fffa00,#fffa00,#fffa00,#fffa00)"></div>
<div style="top:266px;background:linear-gradient(90deg,#ff5700,#ff5700,#ff5700,#ff5700,#ff5800,#ff5b00,#ff5f00,#ff6200,#ff6900,#ff7600,#ff8300,#ff8a00,#ffbc00,#79ff86,#79ff86,#e2ff1d,#fffa00,#ffe000,#ffac00,#ff7900,#ff4700,#ff3d00,#ff3300,#ff2900,#ff1f00,#ff1f00,#ff1f00,#ff1f00,#ff1f00,#ff1f00,#ff1f00,#ff1f00,#ff1f00,#ff1f00,#ff1f00,#ff1f00,#ff1f00,#ff2500,#ff2f00,#ff3900,#ff4300,#ff4800,#ff4800,#ff4800,#ff4800,#ff4800,#ff4800,#ff4800,#ff4800,#ff4f00,#ff6800,#ff8100,#ff9b00,#ffab00,#ff9100,#ff7800,#ff5f00,#ff4900,#ff5500,#ff6200,#ff6f00,#ff7c00,#ff9c00,#ffbe00,#ffdf00,#ffea00,#ffea00,#61ff9e,#ff5700,#ff5700,#ff5700,#ff5700,#ff5700,#ff5700,#ff6000,#ff7000,#ff7f00,#ff8f00,#ff9600,#ff9300,#ff8f00,#ff8c00,#ff8600,#ff7900,#ff6d00,#ff6100,#ff5700,#ff5700,#ff5700,#ff5700,#ff5900,#ff9100,#ffca00,#fcff03,#c3ff3c,#a9ff56,#93ff6c,#7dff82,#66ff99,#61ff9e,#61ff9e,#61ff9e,#61ff9e,#61ff9e,#61ff9e,#61ff9e,#61ff9e,#61ff9e,#61ff9e,#61ff9e,#61ff9e,#6aff95,#84ff7b,#9fff60,#baff45,#d4ff2b,#ebff14,#fffb00,#ffe400,#ffcf00,#fbff04,#c6ff39,#92ff6d,#5dffa2,#0ffff0,#00bcff,#00abff,#00a8ff,#00acff,#ff9200,#bd0000,#890000,#840000,#800000,#8b0000,#980000,#9a0000,#9a0000,#9a0000,#9a0000,#9a0000,#9a0000,#9a0000,#ff8a00,#ff8a00,#ffa000,#ffc400,#ffe700,#fffa00,#fffa00,#fffa00,#fffa00)"></div>
<div style="top:268px;background:linear-gradient(90deg,#ff5700,#ff5700,#ff5700,#ff5700,#ff5a00,#ff6000,#ff6700,#ff6e00,#ff7500,#ff7d00,#ff8500,#ff8a00,#ffb700,#92ff6d,#92ff6d,#e8ff17,#fffa00,#ffdd00,#ffa600,#ff6e00,#ff3800,#ff3200,#ff2c00,#ff2500,#ff1f00,#ff1f00,#ff1f00,#ff1f00,#ff1f00,#ff1f00,#ff1f00,#ff1f00,#ff1f00,#ff1f00,#ff1f00,#ff1f00,#ff1f00,#ff2200,#ff2900,#ff2f00,#ff3500,#ff3800,#ff3800,#ff3800,#ff3800,#ff3800,#ff3800,#ff3800,#ff3800,#ff4000,#ff5900,#ff7300,#ff8c00,#ff9d00,#ff8300,#ff6900,#ff5000,#ff3900,#ff4700,#ff5400,#ff6100,#ff6e00,#ff8e00,#ffae00,#ffcf00,#ffd900,#ffd900,#61ff9e,#ff5700,#ff5700,#ff5700,#ff5700,#ff5700,#ff5700,#ff6200,#ff7500,#ff8800,#ff9b00,#ffa200,#ff9c00,#ff9500,#ff8e00,#ff8600,#ff7900,#ff6d00,#ff6100,#ff5700,#ff5700,#ff5700,#ff5700,#ff5900,#ff9100,#ffca00,#fcff03,#c3ff3c,#a9ff56,#93ff6c,#7dff82,#66ff99,#61ff9e,#61ff9e,#61ff9e,#61ff9e,#61ff9e,#61ff9e,#61ff9e,#61ff9e,#61ff9e,#61ff9e,#61ff9e,#61ff9e,#6bff94,#8bff74,#aaff55,#c9ff36,#e6ff19,#f5ff0a,#fffb00,#ffec00,#ffdf00,#feff01,#ddff22,#bcff43,#9cff63,#5fffa0,#1fffe0,#14ffeb,#13ffec,#14ffeb,#d1ff2e,#be0000,#930000,#930000,#830000,#800000,#860000,#8f0000,#8b0000,#900000,#900000,#900000,#900000,#900000,#ff8a00,#ff8a00,#ffa000,#ffc400,#ffe700,#fffa00,#fffa00,#fffa00,#fffa00)"></div>
<div style="top:270px;background:linear-gradient(90deg,#ff5700,#ff5700,#ff5700,#ff5700,#ff5b00,#ff6500,#ff6f00,#ff7a00,#ff8100,#ff8500,#ff8800,#ff8a00,#ffb200,#acff53,#acff53,#eeff11,#fffa00,#ffdb00,#ff9f00,#ff6300,#ff2900,#ff2600,#ff2400,#ff2100,#ff1f00,#ff1f00,#ff1f00,#ff1f00,#ff1f00,#ff1f00,#ff1f00,#ff1f00,#ff1f00,#ff1f00,#ff1f00,#ff1f00,#ff1f00,#ff2000,#ff2300,#ff2500,#ff2800,#ff2900,#ff2900,#ff2900,#ff2900,#ff2900,#ff2900,#ff2900,#ff2900,#ff3100,#ff4a00,#ff6400,#ff7e00,#ff8f00,#ff7500,#ff5b00,#ff4100,#ff2a00,#ff3800,#ff4500,#ff5200,#ff6000,#ff7f00,#ff9f00,#ffbe00,#ffc800,#ffc800,#61ff9e,#ff5700,#ff5700,#ff5700,#ff5700,#ff5700,#ff5700,#ff6400,#ff7a00,#ff9100,#ffa700,#ffaf00,#ffa500,#ff9b00,#ff9100,#ff8600,#ff7900,#ff6d00,#ff6100,#ff5700,#ff5700,#ff5700,#ff5700,#ff5900,#ff9100,#ffca00,#fcff03,#c3ff3c,#a9ff56,#93ff6c,#7dff82,#66ff99,#61ff9e,#61ff9e,#61ff9e,#61ff9e,#61ff9e,#61ff9e,#61ff9e,#61ff9e,#61ff9e,#61ff9e,#61ff9e,#61ff9e,#6dff92,#91ff6e,#b5ff4a,#d9ff26,#f8ff07,#feff01,#fffa00,#fff400,#ffef00,#fffc00,#f4ff0b,#e7ff18,#daff25,#afff50,#80ff7f,#78ff87,#78ff87,#78ff87,#ffeb00,#c00000,#9d0000,#9b0000,#930000,#810000,#800000,#810000,#860000,#860000,#860000,#860000,#860000,#860000,#ff8a00,#ff8a00,#ffa000,#ffc400,#ffe700,#fffa00,#fffa00,#fffa00,#fffa00)"></div>
<div style="top:272px;background:linear-gradient(90deg,#ff5700,#ff5700,#ff5700,#ff5700,#ff5c00,#ff6700,#ff7200,#ff7d00,#ff8500,#ff8700,#ff8900,#ff8a00,#ffae00,#bdff42,#bdff42,#f3ff0c,#fffa00,#ffd900,#ff9b00,#ff5c00,#ff1f00,#ff1f00,#ff1f00,#ff1f00,#ff1f00,#ff1f00,#ff1f00,#ff1f00,#ff1f00,#ff1f00,#ff1f00,#ff1f00,#ff1f00,#ff1f00,#ff1f00,#ff1f00,#ff1f00,#ff1f00,#ff1f00,#ff1f00,#ff1f00,#ff1f00,#ff1f00,#ff1f00,#ff1f00,#ff1f00,#ff1f00,#ff1f00,#ff1f00,#ff2600,#ff4000,#ff5a00,#ff7400,#ff8500,#ff6b00,#ff5100,#ff3700,#ff2000,#ff2d00,#ff3b00,#ff4900,#ff5600,#ff7500,#ff9400,#ffb300,#ffbd00,#ffbd00,#61ff9e,#ff5700,#ff5700,#ff5700,#ff5700,#ff5700,#ff5700,#ff6500,#ff7c00,#ff9400,#ffab00,#ffb200,#ffa600,#ff9900,#ff8d00,#ff8100,#ff7400,#ff6800,#ff5b00,#ff5100,#ff5100,#ff5100,#ff5100,#ff5300,#ff8b00,#ffc400,#fffc00,#caff35,#b0ff4f,#9bff64,#85ff7a,#6fff90,#6aff95,#6aff95,#6aff95,#6aff95,#6aff95,#6aff95,#6aff95,#6aff95,#6aff95,#6aff95,#6aff95,#6aff95,#76ff89,#9bff64,#c0ff3f,#e6ff19,#fffa00,#fffa00,#fffa00,#fffa00,#fffa00,#fffa00,#fffa00,#fffa00,#fffa00,#e8ff17,#c9ff36,#c4ff3b,#bdff42,#bdff42,#ffbe00,#c10000,#a30000,#a10000,#970000,#880000,#800000,#800000,#800000,#800000,#800000,#800000,#800000,#800000,#ff8a00,#ff8a00,#ffa000,#ffc400,#ffe700,#fffa00,#fffa00,#fffa00,#fffa00)"></div>
<div style="top:274px;background:linear-gradient(90deg,#ff5700,#ff5700,#ff5700,#ff5700,#ff5a00,#ff6100,#ff6900,#ff7000,#ff7800,#ff7f00,#ff8600,#ff8a00,#ffae00,#bdff42,#bdff42,#f3ff0c,#fffa00,#ffd900,#ff9b00,#ff5c00,#ff1f00,#ff1f00,#ff1f00,#ff1f00,#ff1f00,#ff1f00,#ff1f00,#ff1f00,#ff1f00,#ff1f00,#ff1f00,#ff1f00,#ff1f00,#ff1f00,#ff1f00,#ff1f00,#ff1f00,#ff1f00,#ff1f00,#ff1f00,#ff1f00,#ff1f00,#ff1f00,#ff1f00,#ff1f00,#ff1f00,#ff1f00,#ff1f00,#ff1f00,#ff2600,#ff4000,#ff5a00,#ff7400,#ff8500,#ff6b00,#ff5100,#ff3700,#ff2000,#ff2d00,#ff3b00,#ff4900,#ff5600,#ff7500,#ff9400,#ffb300,#ffbd00,#ffbd00,#61ff9e,#ff5700,#ff5700,#ff5700,#ff5700,#ff5700,#ff5700,#ff6200,#ff7600,#ff8a00,#ff9d00,#ffa200,#ff9600,#ff8a00,#ff7d00,#ff7100,#ff6400,#ff5700,#ff4b00,#ff4000,#ff4000,#ff4000,#ff4000,#ff4200,#ff7900,#ffb000,#ffe700,#e0ff1f,#c8ff37,#b4ff4b,#9fff60,#8bff74,#86ff79,#86ff79,#86ff79,#86ff79,#86ff79,#86ff79,#86ff79,#86ff79,#86ff79,#86ff79,#86ff79,#86ff79,#90ff6f,#aeff51,#cdff32,#ebff14,#fffa00,#fffa00,#fffa00,#fffa00,#fffa00,#fffa00,#fffa00,#fffa00,#fffa00,#f2ff0d,#ddff22,#daff25,#bdff42,#bdff42,#ffbe00,#c10000,#a30000,#a10000,#970000,#870000,#830000,#800000,#800000,#800000,#800000,#800000,#800000,#800000,#ff8a00,#ff8a00,#ffa000,#ffc400,#ffe700,#fffa00,#fffa00,#fffa00,#fffa00)"></div>
<div style="top:276px;background:linear-gradient(90deg,#ff5700,#ff5700,#ff5700,#ff5700,#ff5800,#ff5c00,#ff5f00,#ff6300,#ff6a00,#ff7600,#ff8300,#ff8a00,#ffae00,#bdff42,#bdff42,#f3ff0c,#fffa00,#ffd900,#ff9b00,#ff5c00,#ff1f00,#ff1f00,#ff1f00,#ff1f00,#ff1f00,#ff1f00,#ff1f00,#ff1f00,#ff1f00,#ff1f00,#ff1f00,#ff1f00,#ff1f00,#ff1f00,#ff1f00,#ff1f00,#ff1f00,#ff1f00,#ff1f00,#ff1f00,#ff1f00,#ff1f00,#ff1f00,#ff1f00,#ff1f00,#ff1f00,#ff1f00,#ff1f00,#ff1f00,#ff2600,#ff4000,#ff5a00,#ff7400,#ff8500,#ff6b00,#ff5100,#ff3700,#ff2000,#ff2d00,#ff3b00,#ff4900,#ff5600,#ff7500,#ff9400,#ffb300,#ffbd00,#ffbd00,#61ff9e,#ff5700,#ff5700,#ff5700,#ff5700,#ff5700,#ff5700,#ff6000,#ff7000,#ff8000,#ff9000,#ff9300,#ff8600,#ff7a00,#ff6e00,#ff6100,#ff5400,#ff4700,#ff3a00,#ff2f00,#ff2f00,#ff2f00,#ff2f00,#ff3000,#ff6600,#ff9c00,#ffd200,#f6ff09,#dfff20,#ccff33,#baff45,#a7ff58,#a2ff5d,#a2ff5d,#a2ff5d,#a2ff5d,#a2ff5d,#a2ff5d,#a2ff5d,#a2ff5d,#a2ff5d,#a2ff5d,#a2ff5d,#a2ff5d,#aaff55,#c2ff3d,#d9ff26,#f1ff0e,#fffa00,#fffa00,#fffa00,#fffa00,#fffa00,#fffa00,#fffa00,#fffa00,#fffa00,#fbff04,#f1ff0e,#f0ff0f,#bdff42,#bdff42,#ffbe00,#c10000,#a30000,#a10000,#970000,#8d0000,#840000,#800000,#800000,#800000,#800000,#800000,#800000,#800000,#ff8a00,#ff8a00,#ffa000,#ffc400,#ffe700,#fffa00,#fffa00,#fffa00,#fffa00)"></div>
<div style="top:278px;background:linear-gradient(90deg,#ff5700,#ff5700,#ff5700,#ff5700,#ff5700,#ff5700,#ff5700,#ff5700,#ff5d00,#ff6f00,#ff8000,#ff8a00,#ffae00,#bdff42,#bdff42,#f3ff0c,#fffa00,#ffd900,#ff9b00,#ff5c00,#ff1f00,#ff1f00,#ff1f00,#ff1f00,#ff1f00,#ff1f00,#ff1f00,#ff1f00,#ff1f00,#ff1f00,#ff1f00,#ff1f00,#ff1f00,#ff1f00,#ff1f00,#ff1f00,#ff1f00,#ff1f00,#ff1f00,#ff1f00,#ff1f00,#ff1f00,#ff1f00,#ff1f00,#ff1f00,#ff1f00,#ff1f00,#ff1f00,#ff1f00,#ff2600,#ff4000,#ff5a00,#ff7400,#ff8500,#ff6b00,#ff5100,#ff3700,#ff2000,#ff2d00,#ff3b00,#ff4900,#ff5600,#ff7500,#ff9400,#ffb300,#ffbd00,#ffbd00,#61ff9e,#ff5700,#ff5700,#ff5700,#ff5700,#ff5700,#ff5700,#ff5e00,#ff6a00,#ff7700,#ff8300,#ff8400,#ff7800,#ff6b00,#ff5f00,#ff5200,#ff4500,#ff3700,#ff2a00,#ff1f00,#ff1f00,#ff1f00,#ff1f00,#ff2000,#ff5500,#ff8a00,#ffbf00,#fff400,#f5ff0a,#e4ff1b,#d2ff2d,#c1ff3e,#bdff42,#bdff42,#bdff42,#bdff42,#bdff42,#bdff42,#bdff42,#bdff42,#bdff42,#bdff42,#bdff42,#bdff42,#c2ff3d,#d3ff2c,#e5ff1a,#f6ff09,#fffa00,#fffa00,#fffa00,#fffa00,#fffa00,#fffa00,#fffa00,#fffa00,#fffa00,#fffa00,#fffa00,#fffa00,#bdff42,#bdff42,#ffbe00,#c10000,#a30000,#a10000,#970000,#8d0000,#840000,#800000,#800000,#800000,#800000,#800000,#800000,#800000,#f30000,#ff8a00,#ffa000,#ffc400,#ffe700,#fffa00,#fffa00,#fffa00,#fffa00)"></div>
<div style="top:280px;background:linear-gradient(90deg,#ff5700,#ff5700,#ff5700,#ff5700,#ff5700,#ff5700,#ff5700,#ff5700,#ff5d00,#ff6f00,#ff8000,#ff8a00,#ffae00,#bdff42,#bdff42,#f3ff0c,#fffa00,#ffd900,#ff9b00,#ff5c00,#ff1f00,#ff1f00,#ff1f00,#ff1f00,#ff1f00,#ff1f00,#ff1f00,#ff1f00,#ff1f00,#ff1f00,#ff1f00,#ff1f00,#ff1f00,#ff1f00,#ff1f00,#ff1f00,#ff1f00,#ff1f00,#ff1f00,#ff1f00,#ff1f00,#ff1f00,#ff1f00,#ff1f00,#ff1f00,#ff1f00,#ff1f00,#ff1f00,#ff1f00,#ff2600,#ff4000,#ff5a00,#ff7400,#ff8500,#ff6b00,#ff5100,#ff3700,#ff2000,#ff2d00,#ff3b00,#ff4900,#ff5600,#ff7500,#ff9400,#ffb300,#ffbd00,#ffbd00,#61ff9e,#ff5700,#ff5700,#ff5700,#ff5700,#ff5700,#ff5700,#ff5e00,#ff6a00,#ff7700,#ff8300,#ff8400,#ff7800,#ff6b00,#ff5f00,#ff5200,#ff4500,#ff3700,#ff2a00,#ff1f00,#ff1f00,#ff1f00,#ff1f00,#ff2000,#ff5500,#ff8a00,#ffbf00,#fff400,#f5ff0a,#e4ff1b,#d2ff2d,#c1ff3e,#bdff42,#bdff42,#bdff42,#bdff42,#bdff42,#bdff42,#bdff42,#bdff42,#bdff42,#bdff42,#bdff42,#bdff42,#c2ff3d,#d3ff2c,#e5ff1a,#f6ff09,#fffa00,#fffa00,#fffa00,#fffa00,#fffa00,#fffa00,#fffa00,#fffa00,#fffa00,#fffa00,#fffa00,#fffa00,#bdff42,#bdff42,#ffbe00,#c10000,#a30000,#a10000,#970000,#8d0000,#840000,#800000,#800000,#800000,#800000,#800000,#800000,#800000,#bc0000,#f50000,#ffa000,#ffc400,#ffe700,#fffa00,#fffa00,#fffa00,#fffa00)"></div>
<div style="top:282px;background:linear-gradient(90deg,#ff5700,#ff5700,#ff5700,#ff5700,#ff5700,#ff5700,#ff5700,#ff5700,#ff5d00,#ff6f00,#ff8000,#ff8a00,#ffae00,#bdff42,#bdff42,#f3ff0c,#fffa00,#ffd900,#ff9b00,#ff5c00,#ff1f00,#ff1f00,#ff1f00,#ff1f00,#ff1f00,#ff1f00,#ff1f00,#ff1f00,#ff1f00,#ff1f00,#ff1f00,#ff1f00,#ff1f00,#ff1f00,#ff1f00,#ff1f00,#ff1f00,#ff1f00,#ff1f00,#ff1f00,#ff1f00,#ff1f00,#ff1f00,#ff1f00,#ff1f00,#ff1f00,#ff1f00,#ff1f00,#ff1f00,#ff2600,#ff4000,#ff5a00,#ff7400,#ff8500,#ff6b00,#ff5100,#ff3700,#ff2000,#ff2d00,#ff3b00,#ff4900,#ff5600,#ff7500,#ff9400,#ffb300,#ffbd00,#ffbd00,#61ff9e,#ff5700,#ff5700,#ff5700,#ff5700,#ff5700,#ff5700,#ff5e00,#ff6a00,#ff7700,#ff8300,#ff8400,#ff7800,#ff6b00,#ff5f00,#ff5200,#ff4500,#ff3700,#ff2a00,#ff1f00,#ff1f00,#ff1f00,#ff1f00,#ff2000,#ff5500,#ff8a00,#ffbf00,#fff400,#f5ff0a,#e4ff1b,#d2ff2d,#c1ff3e,#bdff42,#bdff42,#bdff42,#bdff42,#bdff42,#bdff42,#bdff42,#bdff42,#bdff42,#bdff42,#bdff42,#bdff42,#c2ff3d,#d3ff2c,#e5ff1a,#f6ff09,#fffa00,#fffa00,#fffa00,#fffa00,#fffa00,#fffa00,#fffa00,#fffa00,#fffa00,#fffa00,#fffa00,#fffa00,#bdff42,#bdff42,#ffbe00,#c10000,#a30000,#a10000,#970000,#8d0000,#840000,#800000,#800000,#800000,#800000,#800000,#800000,#800000,#980000,#ce0000,#ff0c00,#ffc400,#ffe700,#fffa00,#fffa00,#fffa00,#fffa00)"></div>
<div style="top:284px;background:linear-gradient(90deg,#ff5700,#ff5700,#ff5700,#ff5700,#ff5700,#ff5700,#ff5700,#ff5700,#ff5d00,#ff6f00,#ff8000,#ff8a00,#ffae00,#bdff42,#bdff42,#f3ff0c,#fffa00,#ffd900,#ff9b00,#ff5c00,#ff1f00,#ff1f00,#ff1f00,#ff1f00,#ff1f00,#ff1f00,#ff1f00,#ff1f00,#ff1f00,#ff1f00,#ff1f00,#ff1f00,#ff1f00,#ff1f00,#ff1f00,#ff1f00,#ff1f00,#ff1f00,#ff1f00,#ff1f00,#ff1f00,#ff1f00,#ff1f00,#ff1f00,#ff1f00,#ff1f00,#ff1f00,#ff1f00,#ff1f00,#ff2600,#ff4000,#ff5a00,#ff7400,#ff8500,#ff6b00,#ff5100,#ff3700,#ff2000,#ff2d00,#ff3b00,#ff4900,#ff5600,#ff7500,#ff9400,#ffb300,#ffbd00,#ffbd00,#61ff9e,#ff5700,#ff5700,#ff5700,#ff5700,#ff5700,#ff5700,#ff5e00,#ff6a00,#ff7700,#ff8300,#ff8400,#ff7800,#ff6b00,#ff5f00,#ff5200,#ff4500,#ff3700,#ff2a00,#ff1f00,#ff1f00,#ff1f00,#ff1f00,#ff2000,#ff5500,#ff8a00,#ffbf00,#fff400,#f5ff0a,#e4ff1b,#d2ff2d,#c1ff3e,#bdff42,#bdff42,#bdff42,#bdff42,#bdff42,#bdff42,#bdff42,#bdff42,#bdff42,#bdff42,#bdff42,#bdff42,#c2ff3d,#d3ff2c,#e5ff1a,#f6ff09,#fffa00,#fffa00,#fffa00,#fffa00,#fffa00,#fffa00,#fffa00,#fffa00,#fffa00,#fffa00,#fffa00,#fffa00,#bdff42,#bdff42,#ffbe00,#c10000,#a30000,#a10000,#970000,#8d0000,#840000,#800000,#800000,#800000,#800000,#800000,#800000,#800000,#990000,#b90000,#da0000,#ff0d00,#ffe700,#fffa00,#fffa00,#fffa00,#fffa00)"></div>
<div style="top:286px;background:linear-gradient(90deg,#61ff9e,#61ff9e,#61ff9e,#61ff9e,#61ff9e,#61ff9e,#61ff9e,#61ff9e,#61ff9e,#61ff9e,#61ff9e,#61ff9e,#8eff71,#ffbd00,#ffbd00,#ff9600,#ff8a00,#ff8200,#ff7400,#ff6500,#ff5700,#ff5700,#ff5700,#ff5700,#ff5700,#ff5700,#ff5700,#ff5700,#ff5700,#ff5700,#ff5700,#ff5700,#ff5700,#ff5700,#ff5700,#ff5700,#ff5700,#ff5e00,#ff6b00,#ff7700,#ff8300,#ff9000,#ff9c00,#ffa900,#ffb500,#ffb800,#ffab00,#ff9f00,#ff9300,#ff8a00,#ff8a00,#ff8a00,#ff8a00,#ff8a00,#ff8a00,#ff8a00,#ff8a00,#ff8b00,#ff9700,#ffa300,#ffb000,#ffbc00,#ffcf00,#ffe100,#fff400,#fffa00,#fffa00,#61ff9e,#ffbd00,#ffbd00,#ffc800,#ffd600,#ffe500,#fff400,#fff100,#ffe200,#ffd300,#ffc500,#ffb700,#ffab00,#ff9e00,#ff9200,#ff8a00,#ff8a00,#ff8a00,#ff8a00,#ff8a00,#ff8a00,#ff8a00,#ff8a00,#ff8900,#ff7d00,#ff7100,#ff6400,#ff5800,#ff5700,#ff5700,#ff5700,#ff5700,#ff5700,#ff5700,#ff5700,#ff5700,#ff5700,#ff5700,#ff5700,#ff5700,#ff5700,#ff5700,#ff5700,#ff5700,#ff5700,#ff5700,#ff5700,#ff5700,#ff6500,#ffb400,#fbff04,#adff52,#61ff9e,#61ff9e,#61ff9e,#61ff9e,#61ff9e,#61ff9e,#61ff9e,#61ff9e,#00dbff,#00dbff,#5dffa2,#ffa700,#ff8a00,#ff8a00,#ff8a00,#ff8a00,#ff8a00,#ff8a00,#ff8a00,#ff8a00,#d90000,#ab0000,#8f0000,#950000,#a30000,#a30000,#a30000,#a30000,#a30000,#a30000,#a30000,#a30000,#a30000)"></div>
<div style="top:288px;background:linear-gradient(90deg,#61ff9e,#61ff9e,#61ff9e,#61ff9e,#61ff9e,#61ff9e,#61ff9e,#61ff9e,#61ff9e,#61ff9e,#61ff9e,#61ff9e,#8eff71,#ffbd00,#ffbd00,#ff9600,#ff8a00,#ff8200,#ff7400,#ff6500,#ff5700,#ff5700,#ff5700,#ff5700,#ff5700,#ff5700,#ff5700,#ff5700,#ff5700,#ff5700,#ff5700,#ff5700,#ff5700,#ff5700,#ff5700,#ff5700,#ff5700,#ff5e00,#ff6b00,#ff7700,#ff8300,#ff9000,#ff9c00,#ffa900,#ffb500,#ffb800,#ffab00,#ff9f00,#ff9300,#ff8a00,#ff8a00,#ff8a00,#ff8a00,#ff8a00,#ff8a00,#ff8a00,#ff8a00,#ff8b00,#ff9700,#ffa300,#ffb000,#ffbc00,#ffcf00,#ffe100,#fff400,#fffa00,#fffa00,#61ff9e,#ffbd00,#ffbd00,#ffc800,#ffd600,#ffe500,#fff400,#fff100,#ffe200,#ffd300,#ffc500,#ffb700,#ffab00,#ff9e00,#ff9200,#ff8a00,#ff8a00,#ff8a00,#ff8a00,#ff8a00,#ff8a00,#ff8a00,#ff8a00,#ff8900,#ff7d00,#ff7100,#ff6400,#ff5800,#ff5700,#ff5700,#ff5700,#ff5700,#ff5700,#ff5700,#ff5700,#ff5700,#ff5700,#ff5700,#ff5700,#ff5700,#ff5700,#ff5700,#ff5700,#ff5700,#ff5700,#ff5700,#ff5700,#ff5700,#ff6500,#ffb400,#fbff04,#adff52,#61ff9e,#61ff9e,#61ff9e,#61ff9e,#61ff9e,#61ff9e,#61ff9e,#61ff9e,#00dbff,#00dbff,#5dffa2,#ffa700,#ff8a00,#ff8a00,#ff8a00,#ff8a00,#ff8a00,#ff8a00,#ff8a00,#ff8a00,#ff8a00,#db0000,#bd0000,#b10000,#a30000,#a30000,#a30000,#a30000,#a30000,#a30000,#a30000,#a30000,#a30000)"></div>
<div style="top:290px;background:linear-gradient(90deg,#57ffa8,#57ffa8,#57ffa8,#57ffa8,#56ffa9,#54ffab,#52ffad,#50ffaf,#4fffb0,#4fffb0,#4fffb0,#4fffb0,#81ff7e,#ffb600,#ffb600,#ff9a00,#ff9100,#ff8a00,#ff7d00,#ff7100,#ff6400,#ff6400,#ff6400,#ff6400,#ff6400,#ff6400,#ff6400,#ff6400,#ff6400,#ff6400,#ff6400,#ff6400,#ff6400,#ff6300,#ff6200,#ff6000,#ff5e00,#ff6800,#ff7800,#ff8900,#ff9a00,#ffa800,#ffb200,#ffbd00,#ffc800,#ffc900,#ffbc00,#ffaf00,#ffa200,#ff9900,#ff9900,#ff9900,#ff9900,#ff9900,#ff9900,#ff9900,#ff9900,#ff9a00,#ffa400,#ffaf00,#ffba00,#ffc500,#ffd500,#ffe500,#fff500,#fffa00,#fffa00,#61ff9e,#ffce00,#ffce00,#ffd800,#ffe500,#fff200,#fffe00,#fffc00,#ffef00,#ffe200,#ffd500,#ffca00,#ffbf00,#ffb400,#ffaa00,#ffa200,#ff9f00,#ff9d00,#ff9b00,#ff9900,#ff9900,#ff9900,#ff9900,#ff9800,#ff8a00,#ff7c00,#ff6d00,#ff5f00,#ff5c00,#ff5a00,#ff5900,#ff5700,#ff5700,#ff5700,#ff5700,#ff5700,#ff5700,#ff5700,#ff5700,#ff5700,#ff5700,#ff5700,#ff5700,#ff5700,#ff5700,#ff5700,#ff5700,#ff5700,#ff6500,#ffb400,#fbff04,#adff52,#61ff9e,#61ff9e,#61ff9e,#61ff9e,#61ff9e,#61ff9e,#61ff9e,#61ff9e,#00dbff,#00dbff,#59ffa6,#ffb500,#ff9900,#ff9900,#ff9900,#ff9900,#ff9900,#ff9900,#ff9900,#ff9900,#ff9900,#ff9900,#f40000,#ca0000,#a30000,#a30000,#a30000,#a30000,#a30000,#a30000,#a30000,#a30000,#a30000)"></div>
<div style="top:292px;background:linear-gradient(90deg,#41ffbe,#41ffbe,#41ffbe,#41ffbe,#3effc1,#37ffc8,#31ffce,#2affd5,#25ffda,#25ffda,#25ffda,#25ffda,#63ff9c,#ffa600,#ffa600,#ffa200,#ffa100,#ff9c00,#ff9400,#ff8c00,#ff8400,#ff8400,#ff8400,#ff8400,#ff8400,#ff8400,#ff8400,#ff8400,#ff8400,#ff8400,#ff8400,#ff8400,#ff8400,#ff8000,#ff7b00,#ff7500,#ff7000,#ff7e00,#ff9900,#ffb400,#ffce00,#ffdf00,#ffe600,#ffed00,#fff400,#fff200,#ffe400,#ffd500,#ffc600,#ffbc00,#ffbc00,#ffbc00,#ffbc00,#ffbc00,#ffbc00,#ffbc00,#ffbc00,#ffbc00,#ffc300,#ffca00,#ffd100,#ffd800,#ffe200,#ffec00,#fff700,#fffa00,#fffa00,#61ff9e,#fff800,#fff800,#fffe00,#f8ff07,#f0ff0f,#e7ff18,#e9ff16,#f1ff0e,#f9ff06,#fffd00,#fff500,#ffee00,#ffe700,#ffe100,#ffda00,#ffd200,#ffca00,#ffc200,#ffbc00,#ffbc00,#ffbc00,#ffbc00,#ffbb00,#ffa800,#ff9500,#ff8300,#ff7000,#ff6900,#ff6300,#ff5e00,#ff5800,#ff5700,#ff5700,#ff5700,#ff5700,#ff5700,#ff5700,#ff5700,#ff5700,#ff5700,#ff5700,#ff5700,#ff5700,#ff5700,#ff5700,#ff5700,#ff5700,#ff6500,#ffb400,#fbff04,#adff52,#61ff9e,#61ff9e,#61ff9e,#61ff9e,#61ff9e,#61ff9e,#61ff9e,#61ff9e,#00dbff,#00dbff,#4effb1,#ffd600,#ffbc00,#ffbc00,#ffbc00,#ffbc00,#ffbc00,#ffbc00,#ffbc00,#ffbc00,#ffbc00,#ffbc00,#ffbc00,#f50000,#a30000,#a30000,#a30000,#a30000,#a30000,#a30000,#a30000,#a30000,#a30000)"></div>
<div style="top:294px;background:linear-gradient(90deg,#2affd5,#2affd5,#2affd5,#2affd5,#25ffda,#1affe5,#0ffff0,#03fffc,#00fbff,#00fbff,#00fbff,#00fbff,#45ffba,#ff9600,#ff9600,#ffaa00,#ffb100,#ffaf00,#ffab00,#ffa800,#ffa400,#ffa400,#ffa400,#ffa400,#ffa400,#ffa400,#ffa400,#ffa400,#ffa400,#ffa400,#ffa400,#ffa400,#ffa400,#ff9e00,#ff9400,#ff8b00,#ff8100,#ff9400,#ffb900,#ffde00,#fbff04,#e7ff18,#e4ff1b,#e1ff1e,#deff21,#e3ff1c,#f3ff0c,#fffb00,#ffeb00,#ffdf00,#ffdf00,#ffdf00,#ffdf00,#ffdf00,#ffdf00,#ffdf00,#ffdf00,#ffdf00,#ffe200,#ffe500,#ffe800,#ffeb00,#fff000,#fff400,#fff900,#fffa00,#fffa00,#61ff9e,#dcff23,#dcff23,#daff25,#d6ff29,#d3ff2c,#cfff30,#d0ff2f,#d3ff2c,#d7ff28,#daff25,#deff21,#e0ff1f,#e3ff1c,#e6ff19,#edff12,#faff05,#fff700,#ffea00,#ffdf00,#ffdf00,#ffdf00,#ffdf00,#ffde00,#ffc700,#ffaf00,#ff9800,#ff8000,#ff7500,#ff6c00,#ff6200,#ff5900,#ff5700,#ff5700,#ff5700,#ff5700,#ff5700,#ff5700,#ff5700,#ff5700,#ff5700,#ff5700,#ff5700,#ff5700,#ff5700,#ff5700,#ff5700,#ff5700,#ff6500,#ffb400,#fbff04,#adff52,#61ff9e,#61ff9e,#61ff9e,#61ff9e,#61ff9e,#61ff9e,#61ff9e,#61ff9e,#00dbff,#00dbff,#42ffbd,#fff700,#ffdf00,#ffdf00,#ffdf00,#ffdf00,#ffdf00,#ffdf00,#ffdf00,#ffdf00,#ffdf00,#ffdf00,#ffdf00,#ffdf00,#a30000,#a30000,#a30000,#a30000,#a30000,#a30000,#a30000,#a30000,#a30000)"></div>
<div style="top:296px;background:linear-gradient(90deg,#1affe5,#1affe5,#1affe5,#1affe5,#13ffec,#04fffb,#00f4ff,#00e5ff,#00dbff,#00dbff,#00dbff,#00dbff,#2effd1,#ff8a00,#ff8a00,#ffb000,#ffbd00,#ffbd00,#ffbd00,#ffbd00,#ffbd00,#ffbd00,#ffbd00,#ffbd00,#ffbd00,#ffbd00,#ffbd00,#ffbd00,#ffbd00,#ffbd00,#ffbd00,#ffbd00,#ffbd00,#ffb400,#ffa700,#ff9b00,#ff8f00,#ffa500,#ffd100,#fffe00,#d3ff2c,#bdff42,#bdff42,#bdff42,#bdff42,#c4ff3b,#d5ff2a,#e6ff19,#f8ff07,#fffa00,#fffa00,#fffa00,#fffa00,#fffa00,#fffa00,#fffa00,#fffa00,#fffa00,#fffa00,#fffa00,#fffa00,#fffa00,#fffa00,#fffa00,#fffa00,#fffa00,#fffa00,#61ff9e,#bdff42,#bdff42,#bdff42,#bdff42,#bdff42,#bdff42,#bdff42,#bdff42,#bdff42,#bdff42,#bdff42,#bdff42,#bdff42,#bdff42,#c2ff3d,#d3ff2c,#e5ff1a,#f6ff09,#fffa00,#fffa00,#fffa00,#fffa00,#fff900,#ffde00,#ffc300,#ffa800,#ff8d00,#ff7f00,#ff7200,#ff6600,#ff5a00,#ff5700,#ff5700,#ff5700,#ff5700,#ff5700,#ff5700,#ff5700,#ff5700,#ff5700,#ff5700,#ff5700,#ff5700,#ff5700,#ff5700,#ff5700,#ff5700,#ff6500,#ffb400,#fbff04,#adff52,#61ff9e,#61ff9e,#61ff9e,#61ff9e,#61ff9e,#61ff9e,#61ff9e,#61ff9e,#00dbff,#00dbff,#3affc5,#efff10,#fffa00,#fffa00,#fffa00,#fffa00,#fffa00,#fffa00,#fffa00,#fffa00,#fffa00,#fffa00,#fffa00,#fffa00,#a30000,#a30000,#a30000,#a30000,#a30000,#a30000,#a30000,#a30000,#a30000)"></div>
<div style="top:298px;background:linear-gradient(90deg,#1affe5,#1affe5,#1affe5,#1affe5,#13ffec,#04fffb,#00f4ff,#00e5ff,#00dbff,#00dbff,#00dbff,#00dbff,#2effd1,#ff8a00,#ff8a00,#ffb000,#ffbd00,#ffbd00,#ffbd00,#ffbd00,#ffbd00,#ffbd00,#ffbd00,#ffbd00,#ffbd00,#ffbd00,#ffbd00,#ffbd00,#ffbd00,#ffbd00,#ffbd00,#ffbd00,#ffbd00,#ffb400,#ffa700,#ff9b00,#ff8f00,#ffa500,#ffd100,#fffe00,#d3ff2c,#bdff42,#bdff42,#bdff42,#bdff42,#c4ff3b,#d5ff2a,#e6ff19,#f8ff07,#fffa00,#fffa00,#fffa00,#fffa00,#fffa00,#fffa00,#fffa00,#fffa00,#fffa00,#fffa00,#fffa00,#fffa00,#fffa00,#fffa00,#fffa00,#fffa00,#fffa00,#fffa00,#61ff9e,#bdff42,#bdff42,#bdff42,#bdff42,#bdff42,#bdff42,#bdff42,#bdff42,#bdff42,#bdff42,#bdff42,#bdff42,#bdff42,#bdff42,#c2ff3d,#d3ff2c,#e5ff1a,#f6ff09,#fffa00,#fffa00,#fffa00,#fffa00,#fff900,#ffde00,#ffc300,#ffa800,#ff8d00,#ff7f00,#ff7200,#ff6600,#ff5a00,#ff5700,#ff5700,#ff5700,#ff5700,#ff5700,#ff5700,#ff5700,#ff5700,#ff5700,#ff5700,#ff5700,#ff5700,#ff5700,#ff5700,#ff5700,#ff5700,#ff6500,#ffb400,#fbff04,#adff52,#61ff9e,#61ff9e,#61ff9e,#61ff9e,#61ff9e,#61ff9e,#61ff9e,#61ff9e,#00dbff,#00dbff,#3affc5,#efff10,#fffa00,#fffa00,#fffa00,#fffa00,#fffa00,#fffa00,#fffa00,#fffa00,#fffa00,#fffa00,#fffa00,#fffa00,#a30000,#a30000,#a30000,#a30000,#a30000,#a30000,#a30000,#a30000,#a30000)"></div>
<div style="top:300px;background:linear-gradient(90deg,#1affe5,#1affe5,#1affe5,#1affe5,#13ffec,#04fffb,#00f4ff,#00e5ff,#00dbff,#00dbff,#00dbff,#00dbff,#2effd1,#ff8a00,#ff8a00,#ffb000,#ffbd00,#ffbd00,#ffbd00,#ffbd00,#ffbd00,#ffbd00,#ffbd00,#ffbd00,#ffbd00,#ffbd00,#ffbd00,#ffbd00,#ffbd00,#ffbd00,#ffbd00,#ffbd00,#ffbd00,#ffb400,#ffa700,#ff9b00,#ff8f00,#ffa500,#ffd100,#fffe00,#d3ff2c,#bdff42,#bdff42,#bdff42,#bdff42,#c4ff3b,#d5ff2a,#e6ff19,#f8ff07,#fffa00,#fffa00,#fffa00,#fffa00,#fffa00,#fffa00,#fffa00,#fffa00,#fffa00,#fffa00,#fffa00,#fffa00,#fffa00,#fffa00,#fffa00,#fffa00,#fffa00,#fffa00,#61ff9e,#bdff42,#bdff42,#bdff42,#bdff42,#bdff42,#bdff42,#bdff42,#bdff42,#bdff42,#bdff42,#bdff42,#bdff42,#bdff42,#bdff42,#c2ff3d,#d3ff2c,#e5ff1a,#f6ff09,#fffa00,#fffa00,#fffa00,#fffa00,#fff900,#ffde00,#ffc300,#ffa800,#ff8d00,#ff7f00,#ff7200,#ff6600,#ff5a00,#ff5700,#ff5700,#ff5700,#ff5700,#ff5700,#ff5700,#ff5700,#ff5700,#ff5700,#ff5700,#ff5700,#ff5700,#ff5700,#ff5700,#ff5700,#ff5700,#ff6500,#ffb400,#fbff04,#adff52,#61ff9e,#61ff9e,#61ff9e,#61ff9e,#61ff9e,#61ff9e,#61ff9e,#61ff9e,#00dbff,#00dbff,#3affc5,#efff10,#fffa00,#fffa00,#fffa00,#fffa00,#fffa00,#fffa00,#fffa00,#fffa00,#fffa00,#fffa00,#fffa00,#fffa00,#a30000,#a30000,#a30000,#a30000,#a30000,#a30000,#a30000,#a30000,#a30000)"></div>
<div style="top:302px;background:linear-gradient(90deg,#1affe5,#1affe5,#1affe5,#1affe5,#13ffec,#04fffb,#00f4ff,#00e5ff,#00dbff,#00dbff,#00dbff,#00dbff,#2effd1,#ff8a00,#ff8a00,#ffb000,#ffbd00,#ffbd00,#ffbd00,#ffbd00,#ffbd00,#ffbd00,#ffbd00,#ffbd00,#ffbd00,#ffbd00,#ffbd00,#ffbd00,#ffbd00,#ffbd00,#ffbd00,#ffbd00,#ffbd00,#ffb400,#ffa700,#ff9b00,#ff8f00,#ffa500,#ffd100,#fffe00,#d3ff2c,#bdff42,#bdff42,#bdff42,#bdff42,#c4ff3b,#d5ff2a,#e6ff19,#f8ff07,#fffa00,#fffa00,#fffa00,#fffa00,#fffa00,#fffa00,#fffa00,#fffa00,#fffa00,#fffa00,#fffa00,#fffa00,#fffa00,#fffa00,#fffa00,#fffa00,#fffa00,#fffa00,#61ff9e,#bdff42,#bdff42,#bdff42,#bdff42,#bdff42,#bdff42,#bdff42,#bdff42,#bdff42,#bdff42,#bdff42,#bdff42,#bdff42,#bdff42,#c2ff3d,#d3ff2c,#e5ff1a,#f6ff09,#fffa00,#fffa00,#fffa00,#fffa00,#fff900,#ffde00,#ffc300,#ffa800,#ff8d00,#ff7f00,#ff7200,#ff6600,#ff5a00,#ff5700,#ff5700,#ff5700,#ff5700,#ff5700,#ff5700,#ff5700,#ff5700,#ff5700,#ff5700,#ff5700,#ff5700,#ff5700,#ff5700,#ff5700,#ff5700,#ff6500,#ffb400,#fbff04,#adff52,#61ff9e,#61ff9e,#61ff9e,#61ff9e,#61ff9e,#61ff9e,#61ff9e,#61ff9e,#00dbff,#00dbff,#3affc5,#efff10,#fffa00,#fffa00,#fffa00,#fffa00,#fffa00,#fffa00,#fffa00,#fffa00,#fffa00,#fffa00,#fffa00,#fffa00,#a30000,#a30000,#a30000,#a30000,#a30000,#a30000,#a30000,#a30000,#a30000)"></div>
</div></div>
<svg width="675" height="540" viewBox="0 0 675 540">
<defs><linearGradient id="jet" x1="0" y1="0" x2="0" y2="1"><stop offset="0.000" stop-color="#800000"/><stop offset="0.031" stop-color="#9f0000"/><stop offset="0.062" stop-color="#bf0000"/><stop offset="0.094" stop-color="#df0000"/><stop offset="0.125" stop-color="#ff0000"/><stop offset="0.156" stop-color="#ff2000"/><stop offset="0.188" stop-color="#ff4000"/><stop offset="0.219" stop-color="#ff6000"/><stop offset="0.250" stop-color="#ff8000"/><stop offset="0.281" stop-color="#ff9f00"/><stop offset="0.312" stop-color="#ffbf00"/><stop offset="0.344" stop-color="#ffdf00"/><stop offset="0.375" stop-color="#ffff00"/><stop offset="0.406" stop-color="#dfff20"/><stop offset="0.438" stop-color="#bfff40"/><stop offset="0.469" stop-color="#9fff60"/><stop offset="0.500" stop-color="#80ff80"/><stop offset="0.531" stop-color="#60ff9f"/><stop offset="0.562" stop-color="#40ffbf"/><stop offset="0.594" stop-color="#20ffdf"/><stop offset="0.625" stop-color="#00ffff"/><stop offset="0.656" stop-color="#00dfff"/><stop offset="0.688" stop-color="#00bfff"/><stop offset="0.719" stop-color="#009fff"/><stop offset="0.750" stop-color="#0080ff"/><stop offset="0.781" stop-color="#0060ff"/><stop offset="0.812" stop-color="#0040ff"/><stop offset="0.844" stop-color="#0020ff"/><stop offset="0.875" stop-color="#0000ff"/><stop offset="0.906" stop-color="#0000df"/><stop offset="0.938" stop-color="#0000bf"/><stop offset="0.969" stop-color="#00009f"/><stop offset="1.000" stop-color="#000080"/></linearGradient><filter id="scb" x="0" y="0" width="1" height="1"><feGaussianBlur stdDeviation="0.45"/></filter></defs>
<rect x="46.4" y="24.4" width="294" height="295.6" fill="none" stroke="#3a2a1a" stroke-width="0.8"/>
<path d="M128.8 320v-3M128.8 24.4v3M46.4 107.0h3M340.4 107.0h-3" stroke="#222" stroke-width="0.8"/>
<path d="M211.3 320v-3M211.3 24.4v3M46.4 189.5h3M340.4 189.5h-3" stroke="#222" stroke-width="0.8"/>
<path d="M293.7 320v-3M293.7 24.4v3M46.4 271.9h3M340.4 271.9h-3" stroke="#222" stroke-width="0.8"/>
<text x="47.1" y="333.3" font-size="11.30" text-anchor="middle" font-weight="normal" fill="#4d4d4d">0</text>
<text x="42.3" y="28.7" font-size="11.30" text-anchor="end" font-weight="normal" fill="#4d4d4d">0</text>
<text x="129.4" y="333.3" font-size="11.30" text-anchor="middle" font-weight="normal" fill="#4d4d4d">100</text>
<text x="42.3" y="111.2" font-size="11.30" text-anchor="end" font-weight="normal" fill="#4d4d4d">100</text>
<text x="211.8" y="333.3" font-size="11.30" text-anchor="middle" font-weight="normal" fill="#4d4d4d">200</text>
<text x="42.3" y="193.8" font-size="11.30" text-anchor="end" font-weight="normal" fill="#4d4d4d">200</text>
<text x="294.1" y="333.3" font-size="11.30" text-anchor="middle" font-weight="normal" fill="#4d4d4d">300</text>
<text x="42.3" y="276.4" font-size="11.30" text-anchor="end" font-weight="normal" fill="#4d4d4d">300</text>
<text x="193.5" y="14.5" font-size="15.20" text-anchor="middle" font-weight="bold" fill="#111">FCD</text>
<text x="17.0" y="19.2" font-size="18.00" text-anchor="middle" font-weight="bold" fill="#000">A</text>
<text x="394.5" y="18.7" font-size="16.50" text-anchor="middle" font-weight="bold" fill="#000">B</text>
<text transform="translate(14.3,173.6) rotate(-90)" font-size="14.8" text-anchor="middle" fill="#111">Time (seconds)</text>
<text transform="translate(21.3,427.8) rotate(-90)" font-size="16" textLength="130.5" lengthAdjust="spacingAndGlyphs" text-anchor="middle" fill="#111">State Time Courses</text>
<text x="198.1" y="534.0" font-size="14.70" text-anchor="middle" font-weight="normal" fill="#111">Time (seconds)</text>
<rect x="346.2" y="25.4" width="13.7" height="63.5" fill="url(#jet)" stroke="#333" stroke-width="0.6"/>
<text x="363.5" y="29.3" font-size="11.30" text-anchor="start" font-weight="normal" fill="#4d4d4d">1</text>
<text x="363.5" y="61.0" font-size="11.30" text-anchor="start" font-weight="normal" fill="#4d4d4d">0</text>
<text x="362.5" y="92.3" font-size="11.30" text-anchor="start" font-weight="normal" fill="#4d4d4d">-1</text>
<text x="135.9" y="92.5" font-size="30" font-weight="bold" text-anchor="middle" fill="#0d0d0d" style="font-family:'DejaVu Sans','Liberation Sans',sans-serif">*</text>
<text x="157.7" y="92.5" font-size="30" font-weight="bold" text-anchor="middle" fill="#0d0d0d" style="font-family:'DejaVu Sans','Liberation Sans',sans-serif">*</text>
<text x="214.9" y="92.5" font-size="30" font-weight="bold" text-anchor="middle" fill="#0d0d0d" style="font-family:'DejaVu Sans','Liberation Sans',sans-serif">*</text>
<text x="271.7" y="92.5" font-size="30" font-weight="bold" text-anchor="middle" fill="#0d0d0d" style="font-family:'DejaVu Sans','Liberation Sans',sans-serif">*</text>
<text x="316.6" y="92.5" font-size="30" font-weight="bold" text-anchor="middle" fill="#0d0d0d" style="font-family:'DejaVu Sans','Liberation Sans',sans-serif">*</text>
<path d="M96.5 89.6V466.7" stroke="#0a0a0a" stroke-width="3.1" stroke-dasharray="8.8 3.2" fill="none"/>
<path d="M96.5 78.0l5.2 10.6l-5.2 -3.8l-5.2 3.8z" stroke="#0a0a0a" stroke-width="0.8" stroke-linejoin="round" fill="#0a0a0a"/>
<path d="M182.4 178.8V417.5" stroke="#0a0a0a" stroke-width="3.1" stroke-dasharray="8.8 3.2" fill="none"/>
<path d="M182.4 167.2l5.2 10.6l-5.2 -3.8l-5.2 3.8z" stroke="#0a0a0a" stroke-width="0.8" stroke-linejoin="round" fill="#0a0a0a"/>
<path d="M250.8 250.2V394.3" stroke="#0a0a0a" stroke-width="3.1" stroke-dasharray="8.8 3.2" fill="none"/>
<path d="M250.8 238.6l5.2 10.6l-5.2 -3.8l-5.2 3.8z" stroke="#0a0a0a" stroke-width="0.8" stroke-linejoin="round" fill="#0a0a0a"/>
<path d="M46.3 353.3V498.4H335.4" stroke="#333" stroke-width="0.9" fill="none"/>
<path d="M46.3 498.4v-3" stroke="#333" stroke-width="0.8"/>
<text x="46.8" y="510.7" font-size="10.90" text-anchor="middle" font-weight="normal" fill="#4d4d4d">0</text>
<path d="M87.5 498.4v-3" stroke="#333" stroke-width="0.8"/>
<text x="88.0" y="510.7" font-size="10.90" text-anchor="middle" font-weight="normal" fill="#4d4d4d">50</text>
<path d="M128.8 498.4v-3" stroke="#333" stroke-width="0.8"/>
<text x="129.3" y="510.7" font-size="10.90" text-anchor="middle" font-weight="normal" fill="#4d4d4d">100</text>
<path d="M170.1 498.4v-3" stroke="#333" stroke-width="0.8"/>
<text x="170.6" y="510.7" font-size="10.90" text-anchor="middle" font-weight="normal" fill="#4d4d4d">150</text>
<path d="M211.3 498.4v-3" stroke="#333" stroke-width="0.8"/>
<text x="211.8" y="510.7" font-size="10.90" text-anchor="middle" font-weight="normal" fill="#4d4d4d">200</text>
<path d="M252.6 498.4v-3" stroke="#333" stroke-width="0.8"/>
<text x="253.1" y="510.7" font-size="10.90" text-anchor="middle" font-weight="normal" fill="#4d4d4d">250</text>
<path d="M293.8 498.4v-3" stroke="#333" stroke-width="0.8"/>
<text x="294.3" y="510.7" font-size="10.90" text-anchor="middle" font-weight="normal" fill="#4d4d4d">300</text>
<path d="M335.1 498.4v-3" stroke="#333" stroke-width="0.8"/>
<text x="335.6" y="510.7" font-size="10.90" text-anchor="middle" font-weight="normal" fill="#4d4d4d">350</text>
<path d="M46.3 474.4h3" stroke="#333" stroke-width="0.8"/>
<text x="43.3" y="478.4" font-size="11.50" text-anchor="end" font-weight="normal" fill="#4d4d4d">1</text>
<path d="M46.3 450.4h3" stroke="#333" stroke-width="0.8"/>
<text x="43.3" y="454.4" font-size="11.50" text-anchor="end" font-weight="normal" fill="#4d4d4d">2</text>
<path d="M46.3 426.4h3" stroke="#333" stroke-width="0.8"/>
<text x="43.3" y="430.4" font-size="11.50" text-anchor="end" font-weight="normal" fill="#4d4d4d">3</text>
<path d="M46.3 402.4h3" stroke="#333" stroke-width="0.8"/>
<text x="43.3" y="406.4" font-size="11.50" text-anchor="end" font-weight="normal" fill="#4d4d4d">4</text>
<path d="M46.3 378.4h3" stroke="#333" stroke-width="0.8"/>
<text x="43.3" y="382.4" font-size="11.50" text-anchor="end" font-weight="normal" fill="#4d4d4d">5</text>
<path d="M46.3 390.2 L285.6 390.2 L288.1 370.8 L294.4 370.8 L296.9 390.2 L335.2 390.2" stroke="#1c28c8" stroke-width="2.1" fill="none" stroke-linejoin="round"/>
<path d="M46.3 414.0 L65.5 414.0 L68.0 394.5 L74.5 394.5 L77.0 414.0 L145.8 414.0 L148.2 394.5 L153.4 394.5 L155.9 414.0 L161.8 414.0 L164.2 394.5 L174.1 394.5 L176.6 414.0 L222.1 414.0 L224.6 394.5 L265.8 394.5 L268.2 414.0 L296.9 414.0 L298.3 394.5 L298.5 394.5 L299.9 414.0 L327.5 414.0 L328.7 394.5 L329.0 394.5 L330.2 414.0 L331.6 414.0 L333.0 394.5 L335.2 394.5" stroke="#1fe6ee" stroke-width="2.1" fill="none" stroke-linejoin="round"/>
<path d="M46.3 418.7 L49.3 418.7 L50.7 438.3 L51.7 438.3 L53.1 418.7 L54.4 418.7 L56.9 438.3 L117.3 438.3 L119.8 418.7 L131.8 418.7 L134.2 438.3 L178.2 438.3 L180.7 418.7 L185.2 418.7 L187.7 438.3 L295.6 438.3 L296.8 418.7 L297.3 418.7 L298.3 438.3 L299.7 438.3 L301.1 418.7 L306.2 418.7 L308.8 438.3 L335.2 438.3" stroke="#20d820" stroke-width="2.1" fill="none" stroke-linejoin="round"/>
<path d="M46.3 462.2 L49.0 462.2 L50.6 443.0 L52.0 443.0 L53.6 462.2 L55.4 462.2 L57.9 443.0 L64.5 443.0 L67.0 462.2 L173.8 462.2 L176.2 443.0 L178.1 443.0 L180.3 462.2 L185.2 462.2 L187.7 443.0 L209.1 443.0 L211.6 462.2 L273.1 462.2 L275.6 443.0 L285.9 443.0 L288.4 462.2 L335.2 462.2" stroke="#f6f010" stroke-width="2.1" fill="none" stroke-linejoin="round"/>
<path d="M46.3 486.4 L75.0 486.4 L77.5 467.0 L116.5 467.0 L119.0 486.4 L131.8 486.4 L134.2 467.0 L145.8 467.0 L148.2 486.4 L154.1 486.4 L156.6 467.0 L162.3 467.0 L164.8 486.4 L209.2 486.4 L211.8 467.0 L222.9 467.0 L225.4 486.4 L265.8 486.4 L268.2 467.0 L272.6 467.0 L275.1 486.4 L306.4 486.4 L308.9 467.0 L327.2 467.0 L328.6 486.4 L329.0 486.4 L330.2 467.0 L331.9 467.0 L333.7 486.4 L335.2 486.4" stroke="#e6281e" stroke-width="2.1" fill="none" stroke-linejoin="round"/>
<text x="538.0" y="30.0" font-size="14.70" text-anchor="middle" font-weight="bold" fill="#111" textLength="195.5" lengthAdjust="spacing">Structural connectivity (SC)</text>
<rect x="436.0" y="41.8" width="198.6" height="197.5" fill="#0a1498"/>
<g filter="url(#scb)">
<path d="M436.0 41.8h2.2v2.2h-2.2zM460.3 41.8h2.2v2.2h-2.2zM471.3 41.8h2.2v2.2h-2.2zM590.5 41.8h2.2v2.2h-2.2zM444.8 44.0h2.2v2.2h-2.2zM464.7 44.0h2.2v2.2h-2.2zM493.4 44.0h2.2v2.2h-2.2zM535.3 44.0h2.2v2.2h-2.2zM541.9 44.0h2.2v2.2h-2.2zM561.8 44.0h2.2v2.2h-2.2zM601.5 44.0h2.2v2.2h-2.2zM453.7 46.2h2.2v2.2h-2.2zM453.7 48.4h2.2v2.2h-2.2zM466.9 48.4h2.2v2.2h-2.2zM526.5 48.4h2.2v2.2h-2.2zM528.7 48.4h2.2v2.2h-2.2zM530.9 48.4h2.2v2.2h-2.2zM605.9 48.4h2.2v2.2h-2.2zM608.1 48.4h2.2v2.2h-2.2zM438.2 50.6h2.2v2.2h-2.2zM588.3 50.6h2.2v2.2h-2.2zM519.9 52.8h2.2v2.2h-2.2zM564.0 52.8h2.2v2.2h-2.2zM597.1 52.8h2.2v2.2h-2.2zM458.1 55.0h2.2v2.2h-2.2zM473.5 55.0h2.2v2.2h-2.2zM526.5 55.0h2.2v2.2h-2.2zM546.3 55.0h2.2v2.2h-2.2zM583.8 55.0h2.2v2.2h-2.2zM590.5 55.0h2.2v2.2h-2.2zM464.7 57.2h2.2v2.2h-2.2zM475.7 57.2h2.2v2.2h-2.2zM515.4 57.2h2.2v2.2h-2.2zM440.4 59.4h2.2v2.2h-2.2zM442.6 59.4h2.2v2.2h-2.2zM462.5 59.4h2.2v2.2h-2.2zM464.7 59.4h2.2v2.2h-2.2zM577.2 59.4h2.2v2.2h-2.2zM455.9 61.5h2.2v2.2h-2.2zM477.9 61.5h2.2v2.2h-2.2zM610.3 61.5h2.2v2.2h-2.2zM449.2 63.7h2.2v2.2h-2.2zM500.0 63.7h2.2v2.2h-2.2zM612.5 63.7h2.2v2.2h-2.2zM436.0 65.9h2.2v2.2h-2.2zM473.5 65.9h2.2v2.2h-2.2zM508.8 65.9h2.2v2.2h-2.2zM544.1 65.9h2.2v2.2h-2.2zM568.4 65.9h2.2v2.2h-2.2zM581.6 65.9h2.2v2.2h-2.2zM625.8 65.9h2.2v2.2h-2.2zM453.7 68.1h2.2v2.2h-2.2zM537.5 68.1h2.2v2.2h-2.2zM625.8 68.1h2.2v2.2h-2.2zM438.2 70.3h2.2v2.2h-2.2zM451.4 70.3h2.2v2.2h-2.2zM453.7 70.3h2.2v2.2h-2.2zM482.3 70.3h2.2v2.2h-2.2zM491.2 70.3h2.2v2.2h-2.2zM513.2 70.3h2.2v2.2h-2.2zM442.6 72.5h2.2v2.2h-2.2zM477.9 72.5h2.2v2.2h-2.2zM486.8 72.5h2.2v2.2h-2.2zM630.2 72.5h2.2v2.2h-2.2zM506.6 74.7h2.2v2.2h-2.2zM436.0 76.9h2.2v2.2h-2.2zM489.0 76.9h2.2v2.2h-2.2zM500.0 76.9h2.2v2.2h-2.2zM506.6 76.9h2.2v2.2h-2.2zM541.9 76.9h2.2v2.2h-2.2zM621.4 76.9h2.2v2.2h-2.2zM449.2 79.1h2.2v2.2h-2.2zM460.3 79.1h2.2v2.2h-2.2zM477.9 79.1h2.2v2.2h-2.2zM590.5 79.1h2.2v2.2h-2.2zM451.4 81.3h2.2v2.2h-2.2zM515.4 81.3h2.2v2.2h-2.2zM455.9 83.5h2.2v2.2h-2.2zM466.9 83.5h2.2v2.2h-2.2zM473.5 83.5h2.2v2.2h-2.2zM526.5 83.5h2.2v2.2h-2.2zM575.0 83.5h2.2v2.2h-2.2zM594.9 83.5h2.2v2.2h-2.2zM619.2 83.5h2.2v2.2h-2.2zM632.4 83.5h2.2v2.2h-2.2zM524.3 85.7h2.2v2.2h-2.2zM575.0 85.7h2.2v2.2h-2.2zM577.2 85.7h2.2v2.2h-2.2zM586.1 85.7h2.2v2.2h-2.2zM623.6 85.7h2.2v2.2h-2.2zM464.7 87.9h2.2v2.2h-2.2zM579.4 87.9h2.2v2.2h-2.2zM583.8 87.9h2.2v2.2h-2.2zM588.3 87.9h2.2v2.2h-2.2zM577.2 90.1h2.2v2.2h-2.2zM579.4 90.1h2.2v2.2h-2.2zM583.8 90.1h2.2v2.2h-2.2zM586.1 90.1h2.2v2.2h-2.2zM619.2 90.1h2.2v2.2h-2.2zM466.9 92.3h2.2v2.2h-2.2zM511.0 92.3h2.2v2.2h-2.2zM530.9 92.3h2.2v2.2h-2.2zM533.1 92.3h2.2v2.2h-2.2zM535.3 92.3h2.2v2.2h-2.2zM577.2 92.3h2.2v2.2h-2.2zM608.1 92.3h2.2v2.2h-2.2zM471.3 94.5h2.2v2.2h-2.2zM539.7 94.5h2.2v2.2h-2.2zM577.2 94.5h2.2v2.2h-2.2zM583.8 94.5h2.2v2.2h-2.2zM586.1 94.5h2.2v2.2h-2.2zM464.7 96.7h2.2v2.2h-2.2zM513.2 96.7h2.2v2.2h-2.2zM533.1 96.7h2.2v2.2h-2.2zM575.0 96.7h2.2v2.2h-2.2zM579.4 96.7h2.2v2.2h-2.2zM581.6 96.7h2.2v2.2h-2.2zM583.8 96.7h2.2v2.2h-2.2zM588.3 96.7h2.2v2.2h-2.2zM614.7 96.7h2.2v2.2h-2.2zM438.2 98.9h2.2v2.2h-2.2zM506.6 98.9h2.2v2.2h-2.2zM511.0 98.9h2.2v2.2h-2.2zM577.2 98.9h2.2v2.2h-2.2zM588.3 98.9h2.2v2.2h-2.2zM590.5 98.9h2.2v2.2h-2.2zM553.0 103.2h2.2v2.2h-2.2zM458.1 105.4h2.2v2.2h-2.2zM471.3 105.4h2.2v2.2h-2.2zM502.2 105.4h2.2v2.2h-2.2zM557.4 105.4h2.2v2.2h-2.2zM608.1 105.4h2.2v2.2h-2.2zM500.0 107.6h2.2v2.2h-2.2zM508.8 107.6h2.2v2.2h-2.2zM621.4 109.8h2.2v2.2h-2.2zM469.1 112.0h2.2v2.2h-2.2zM471.3 112.0h2.2v2.2h-2.2zM493.4 112.0h2.2v2.2h-2.2zM519.9 112.0h2.2v2.2h-2.2zM548.5 112.0h2.2v2.2h-2.2zM630.2 112.0h2.2v2.2h-2.2zM460.3 114.2h2.2v2.2h-2.2zM502.2 114.2h2.2v2.2h-2.2zM486.8 116.4h2.2v2.2h-2.2zM493.4 116.4h2.2v2.2h-2.2zM568.4 116.4h2.2v2.2h-2.2zM464.7 118.6h2.2v2.2h-2.2zM491.2 118.6h2.2v2.2h-2.2zM451.4 120.8h2.2v2.2h-2.2zM475.7 120.8h2.2v2.2h-2.2zM550.7 120.8h2.2v2.2h-2.2zM570.6 120.8h2.2v2.2h-2.2zM553.0 123.0h2.2v2.2h-2.2zM447.0 125.2h2.2v2.2h-2.2zM506.6 125.2h2.2v2.2h-2.2zM528.7 125.2h2.2v2.2h-2.2zM561.8 125.2h2.2v2.2h-2.2zM522.1 127.4h2.2v2.2h-2.2zM619.2 127.4h2.2v2.2h-2.2zM480.1 129.6h2.2v2.2h-2.2zM533.1 129.6h2.2v2.2h-2.2zM608.1 129.6h2.2v2.2h-2.2zM442.6 131.8h2.2v2.2h-2.2zM449.2 131.8h2.2v2.2h-2.2zM477.9 131.8h2.2v2.2h-2.2zM597.1 131.8h2.2v2.2h-2.2zM630.2 131.8h2.2v2.2h-2.2zM442.6 134.0h2.2v2.2h-2.2zM519.9 134.0h2.2v2.2h-2.2zM579.4 134.0h2.2v2.2h-2.2zM442.6 136.2h2.2v2.2h-2.2zM486.8 136.2h2.2v2.2h-2.2zM605.9 136.2h2.2v2.2h-2.2zM486.8 138.4h2.2v2.2h-2.2zM491.2 138.4h2.2v2.2h-2.2zM524.3 138.4h2.2v2.2h-2.2zM581.6 138.4h2.2v2.2h-2.2zM630.2 138.4h2.2v2.2h-2.2zM438.2 140.6h2.2v2.2h-2.2zM486.8 140.6h2.2v2.2h-2.2zM544.1 140.6h2.2v2.2h-2.2zM577.2 140.6h2.2v2.2h-2.2zM581.6 140.6h2.2v2.2h-2.2zM462.5 142.7h2.2v2.2h-2.2zM581.6 142.7h2.2v2.2h-2.2zM625.8 142.7h2.2v2.2h-2.2zM489.0 144.9h2.2v2.2h-2.2zM548.5 144.9h2.2v2.2h-2.2zM625.8 144.9h2.2v2.2h-2.2zM438.2 147.1h2.2v2.2h-2.2zM471.3 147.1h2.2v2.2h-2.2zM590.5 147.1h2.2v2.2h-2.2zM619.2 147.1h2.2v2.2h-2.2zM625.8 147.1h2.2v2.2h-2.2zM460.3 149.3h2.2v2.2h-2.2zM535.3 149.3h2.2v2.2h-2.2zM588.3 149.3h2.2v2.2h-2.2zM449.2 151.5h2.2v2.2h-2.2zM546.3 151.5h2.2v2.2h-2.2zM506.6 153.7h2.2v2.2h-2.2zM539.7 153.7h2.2v2.2h-2.2zM561.8 153.7h2.2v2.2h-2.2zM621.4 153.7h2.2v2.2h-2.2zM515.4 155.9h2.2v2.2h-2.2zM497.8 158.1h2.2v2.2h-2.2zM517.6 158.1h2.2v2.2h-2.2zM592.7 158.1h2.2v2.2h-2.2zM616.9 158.1h2.2v2.2h-2.2zM577.2 160.3h2.2v2.2h-2.2zM603.7 160.3h2.2v2.2h-2.2zM500.0 162.5h2.2v2.2h-2.2zM575.0 162.5h2.2v2.2h-2.2zM581.6 162.5h2.2v2.2h-2.2zM566.2 164.7h2.2v2.2h-2.2zM608.1 164.7h2.2v2.2h-2.2zM438.2 166.9h2.2v2.2h-2.2zM519.9 166.9h2.2v2.2h-2.2zM548.5 166.9h2.2v2.2h-2.2zM575.0 166.9h2.2v2.2h-2.2zM597.1 166.9h2.2v2.2h-2.2zM599.3 166.9h2.2v2.2h-2.2zM447.0 169.1h2.2v2.2h-2.2zM559.6 171.3h2.2v2.2h-2.2zM568.4 171.3h2.2v2.2h-2.2zM460.3 173.5h2.2v2.2h-2.2zM511.0 173.5h2.2v2.2h-2.2zM566.2 173.5h2.2v2.2h-2.2zM597.1 173.5h2.2v2.2h-2.2zM610.3 173.5h2.2v2.2h-2.2zM515.4 175.7h2.2v2.2h-2.2zM477.9 180.1h2.2v2.2h-2.2zM480.1 180.1h2.2v2.2h-2.2zM491.2 180.1h2.2v2.2h-2.2zM557.4 180.1h2.2v2.2h-2.2zM561.8 180.1h2.2v2.2h-2.2zM630.2 180.1h2.2v2.2h-2.2zM453.7 182.2h2.2v2.2h-2.2zM480.1 182.2h2.2v2.2h-2.2zM484.5 182.2h2.2v2.2h-2.2zM486.8 182.2h2.2v2.2h-2.2zM489.0 182.2h2.2v2.2h-2.2zM493.4 182.2h2.2v2.2h-2.2zM535.3 182.2h2.2v2.2h-2.2zM555.2 182.2h2.2v2.2h-2.2zM603.7 182.2h2.2v2.2h-2.2zM482.3 184.4h2.2v2.2h-2.2zM484.5 184.4h2.2v2.2h-2.2zM491.2 184.4h2.2v2.2h-2.2zM528.7 184.4h2.2v2.2h-2.2zM597.1 184.4h2.2v2.2h-2.2zM460.3 186.6h2.2v2.2h-2.2zM491.2 186.6h2.2v2.2h-2.2zM533.1 186.6h2.2v2.2h-2.2zM535.3 186.6h2.2v2.2h-2.2zM537.5 186.6h2.2v2.2h-2.2zM557.4 186.6h2.2v2.2h-2.2zM601.5 186.6h2.2v2.2h-2.2zM449.2 188.8h2.2v2.2h-2.2zM482.3 188.8h2.2v2.2h-2.2zM484.5 188.8h2.2v2.2h-2.2zM489.0 188.8h2.2v2.2h-2.2zM491.2 188.8h2.2v2.2h-2.2zM480.1 191.0h2.2v2.2h-2.2zM484.5 191.0h2.2v2.2h-2.2zM489.0 191.0h2.2v2.2h-2.2zM603.7 191.0h2.2v2.2h-2.2zM444.8 193.2h2.2v2.2h-2.2zM482.3 193.2h2.2v2.2h-2.2zM491.2 193.2h2.2v2.2h-2.2zM493.4 193.2h2.2v2.2h-2.2zM544.1 193.2h2.2v2.2h-2.2zM436.0 195.4h2.2v2.2h-2.2zM449.2 195.4h2.2v2.2h-2.2zM473.5 195.4h2.2v2.2h-2.2zM493.4 195.4h2.2v2.2h-2.2zM541.9 195.4h2.2v2.2h-2.2zM594.9 195.4h2.2v2.2h-2.2zM601.5 195.4h2.2v2.2h-2.2zM612.5 195.4h2.2v2.2h-2.2zM553.0 197.6h2.2v2.2h-2.2zM616.9 197.6h2.2v2.2h-2.2zM477.9 199.8h2.2v2.2h-2.2zM590.5 199.8h2.2v2.2h-2.2zM608.1 199.8h2.2v2.2h-2.2zM619.2 199.8h2.2v2.2h-2.2zM447.0 202.0h2.2v2.2h-2.2zM526.5 202.0h2.2v2.2h-2.2zM561.8 202.0h2.2v2.2h-2.2zM568.4 202.0h2.2v2.2h-2.2zM579.4 202.0h2.2v2.2h-2.2zM632.4 202.0h2.2v2.2h-2.2zM561.8 204.2h2.2v2.2h-2.2zM438.2 206.4h2.2v2.2h-2.2zM581.6 206.4h2.2v2.2h-2.2zM590.5 206.4h2.2v2.2h-2.2zM625.8 206.4h2.2v2.2h-2.2zM555.2 208.6h2.2v2.2h-2.2zM577.2 208.6h2.2v2.2h-2.2zM586.1 208.6h2.2v2.2h-2.2zM614.7 208.6h2.2v2.2h-2.2zM616.9 208.6h2.2v2.2h-2.2zM630.2 208.6h2.2v2.2h-2.2zM442.6 210.8h2.2v2.2h-2.2zM530.9 210.8h2.2v2.2h-2.2zM614.7 210.8h2.2v2.2h-2.2zM442.6 213.0h2.2v2.2h-2.2zM486.8 213.0h2.2v2.2h-2.2zM500.0 213.0h2.2v2.2h-2.2zM524.3 213.0h2.2v2.2h-2.2zM559.6 213.0h2.2v2.2h-2.2zM594.9 213.0h2.2v2.2h-2.2zM632.4 213.0h2.2v2.2h-2.2zM455.9 215.2h2.2v2.2h-2.2zM568.4 215.2h2.2v2.2h-2.2zM619.2 215.2h2.2v2.2h-2.2zM458.1 217.4h2.2v2.2h-2.2zM590.5 217.4h2.2v2.2h-2.2zM612.5 217.4h2.2v2.2h-2.2zM491.2 219.6h2.2v2.2h-2.2zM603.7 219.6h2.2v2.2h-2.2zM605.9 219.6h2.2v2.2h-2.2zM625.8 219.6h2.2v2.2h-2.2zM628.0 219.6h2.2v2.2h-2.2zM553.0 221.7h2.2v2.2h-2.2zM592.7 221.7h2.2v2.2h-2.2zM603.7 221.7h2.2v2.2h-2.2zM477.9 223.9h2.2v2.2h-2.2zM484.5 223.9h2.2v2.2h-2.2zM522.1 223.9h2.2v2.2h-2.2zM541.9 223.9h2.2v2.2h-2.2zM594.9 223.9h2.2v2.2h-2.2zM610.3 223.9h2.2v2.2h-2.2zM471.3 226.1h2.2v2.2h-2.2zM504.4 226.1h2.2v2.2h-2.2zM548.5 226.1h2.2v2.2h-2.2zM480.1 228.3h2.2v2.2h-2.2zM630.2 228.3h2.2v2.2h-2.2zM460.3 230.5h2.2v2.2h-2.2zM462.5 230.5h2.2v2.2h-2.2zM537.5 230.5h2.2v2.2h-2.2zM539.7 230.5h2.2v2.2h-2.2zM541.9 230.5h2.2v2.2h-2.2zM601.5 230.5h2.2v2.2h-2.2zM614.7 230.5h2.2v2.2h-2.2zM614.7 232.7h2.2v2.2h-2.2zM466.9 234.9h2.2v2.2h-2.2zM506.6 234.9h2.2v2.2h-2.2zM526.5 234.9h2.2v2.2h-2.2zM533.1 234.9h2.2v2.2h-2.2zM575.0 234.9h2.2v2.2h-2.2zM603.7 234.9h2.2v2.2h-2.2zM623.6 234.9h2.2v2.2h-2.2zM477.9 237.1h2.2v2.2h-2.2zM597.1 237.1h2.2v2.2h-2.2zM608.1 237.1h2.2v2.2h-2.2zM632.4 237.1h2.2v2.2h-2.2z" fill="#001dff"/>
<path d="M449.2 41.8h2.2v2.2h-2.2zM548.5 41.8h2.2v2.2h-2.2zM528.7 44.0h2.2v2.2h-2.2zM533.1 44.0h2.2v2.2h-2.2zM577.2 44.0h2.2v2.2h-2.2zM444.8 48.4h2.2v2.2h-2.2zM447.0 48.4h2.2v2.2h-2.2zM455.9 48.4h2.2v2.2h-2.2zM442.6 50.6h2.2v2.2h-2.2zM577.2 50.6h2.2v2.2h-2.2zM442.6 52.8h2.2v2.2h-2.2zM451.4 52.8h2.2v2.2h-2.2zM619.2 52.8h2.2v2.2h-2.2zM436.0 55.0h2.2v2.2h-2.2zM508.8 55.0h2.2v2.2h-2.2zM621.4 55.0h2.2v2.2h-2.2zM447.0 57.2h2.2v2.2h-2.2zM471.3 59.4h2.2v2.2h-2.2zM442.6 61.5h2.2v2.2h-2.2zM484.5 61.5h2.2v2.2h-2.2zM603.7 61.5h2.2v2.2h-2.2zM460.3 65.9h2.2v2.2h-2.2zM537.5 65.9h2.2v2.2h-2.2zM502.2 68.1h2.2v2.2h-2.2zM508.8 68.1h2.2v2.2h-2.2zM464.7 70.3h2.2v2.2h-2.2zM599.3 70.3h2.2v2.2h-2.2zM612.5 70.3h2.2v2.2h-2.2zM495.6 72.5h2.2v2.2h-2.2zM515.4 72.5h2.2v2.2h-2.2zM493.4 74.7h2.2v2.2h-2.2zM603.7 74.7h2.2v2.2h-2.2zM453.7 76.9h2.2v2.2h-2.2zM491.2 81.3h2.2v2.2h-2.2zM541.9 81.3h2.2v2.2h-2.2zM586.1 81.3h2.2v2.2h-2.2zM550.7 83.5h2.2v2.2h-2.2zM500.0 85.7h2.2v2.2h-2.2zM530.9 85.7h2.2v2.2h-2.2zM568.4 85.7h2.2v2.2h-2.2zM583.8 85.7h2.2v2.2h-2.2zM575.0 87.9h2.2v2.2h-2.2zM592.7 87.9h2.2v2.2h-2.2zM455.9 90.1h2.2v2.2h-2.2zM575.0 90.1h2.2v2.2h-2.2zM588.3 90.1h2.2v2.2h-2.2zM566.2 92.3h2.2v2.2h-2.2zM579.4 92.3h2.2v2.2h-2.2zM500.0 94.5h2.2v2.2h-2.2zM575.0 94.5h2.2v2.2h-2.2zM581.6 94.5h2.2v2.2h-2.2zM475.7 96.7h2.2v2.2h-2.2zM623.6 96.7h2.2v2.2h-2.2zM630.2 96.7h2.2v2.2h-2.2zM469.1 98.9h2.2v2.2h-2.2zM579.4 98.9h2.2v2.2h-2.2zM583.8 98.9h2.2v2.2h-2.2zM586.1 98.9h2.2v2.2h-2.2zM466.9 101.1h2.2v2.2h-2.2zM502.2 101.1h2.2v2.2h-2.2zM504.4 101.1h2.2v2.2h-2.2zM513.2 103.2h2.2v2.2h-2.2zM566.2 103.2h2.2v2.2h-2.2zM480.1 105.4h2.2v2.2h-2.2zM489.0 105.4h2.2v2.2h-2.2zM522.1 105.4h2.2v2.2h-2.2zM588.3 105.4h2.2v2.2h-2.2zM462.5 107.6h2.2v2.2h-2.2zM495.6 107.6h2.2v2.2h-2.2zM515.4 107.6h2.2v2.2h-2.2zM522.1 107.6h2.2v2.2h-2.2zM539.7 107.6h2.2v2.2h-2.2zM570.6 107.6h2.2v2.2h-2.2zM581.6 107.6h2.2v2.2h-2.2zM495.6 109.8h2.2v2.2h-2.2zM528.7 109.8h2.2v2.2h-2.2zM561.8 112.0h2.2v2.2h-2.2zM449.2 114.2h2.2v2.2h-2.2zM462.5 114.2h2.2v2.2h-2.2zM530.9 116.4h2.2v2.2h-2.2zM550.7 116.4h2.2v2.2h-2.2zM497.8 118.6h2.2v2.2h-2.2zM466.9 120.8h2.2v2.2h-2.2zM502.2 120.8h2.2v2.2h-2.2zM528.7 123.0h2.2v2.2h-2.2zM557.4 123.0h2.2v2.2h-2.2zM590.5 123.0h2.2v2.2h-2.2zM544.1 125.2h2.2v2.2h-2.2zM632.4 125.2h2.2v2.2h-2.2zM500.0 127.4h2.2v2.2h-2.2zM502.2 127.4h2.2v2.2h-2.2zM530.9 127.4h2.2v2.2h-2.2zM548.5 129.6h2.2v2.2h-2.2zM592.7 131.8h2.2v2.2h-2.2zM438.2 134.0h2.2v2.2h-2.2zM504.4 134.0h2.2v2.2h-2.2zM517.6 134.0h2.2v2.2h-2.2zM566.2 134.0h2.2v2.2h-2.2zM480.1 136.2h2.2v2.2h-2.2zM511.0 136.2h2.2v2.2h-2.2zM522.1 136.2h2.2v2.2h-2.2zM608.1 136.2h2.2v2.2h-2.2zM438.2 138.4h2.2v2.2h-2.2zM630.2 140.6h2.2v2.2h-2.2zM460.3 142.7h2.2v2.2h-2.2zM546.3 142.7h2.2v2.2h-2.2zM557.4 142.7h2.2v2.2h-2.2zM588.3 142.7h2.2v2.2h-2.2zM502.2 144.9h2.2v2.2h-2.2zM550.7 144.9h2.2v2.2h-2.2zM564.0 144.9h2.2v2.2h-2.2zM630.2 144.9h2.2v2.2h-2.2zM475.7 147.1h2.2v2.2h-2.2zM519.9 149.3h2.2v2.2h-2.2zM537.5 151.5h2.2v2.2h-2.2zM566.2 151.5h2.2v2.2h-2.2zM568.4 151.5h2.2v2.2h-2.2zM436.0 153.7h2.2v2.2h-2.2zM524.3 153.7h2.2v2.2h-2.2zM477.9 155.9h2.2v2.2h-2.2zM511.0 155.9h2.2v2.2h-2.2zM539.7 155.9h2.2v2.2h-2.2zM566.2 158.1h2.2v2.2h-2.2zM601.5 158.1h2.2v2.2h-2.2zM570.6 160.3h2.2v2.2h-2.2zM517.6 162.5h2.2v2.2h-2.2zM537.5 162.5h2.2v2.2h-2.2zM605.9 164.7h2.2v2.2h-2.2zM619.2 164.7h2.2v2.2h-2.2zM506.6 166.9h2.2v2.2h-2.2zM539.7 169.1h2.2v2.2h-2.2zM572.8 169.1h2.2v2.2h-2.2zM486.8 171.3h2.2v2.2h-2.2zM497.8 171.3h2.2v2.2h-2.2zM528.7 171.3h2.2v2.2h-2.2zM546.3 171.3h2.2v2.2h-2.2zM553.0 171.3h2.2v2.2h-2.2zM572.8 171.3h2.2v2.2h-2.2zM605.9 171.3h2.2v2.2h-2.2zM480.1 173.5h2.2v2.2h-2.2zM546.3 173.5h2.2v2.2h-2.2zM579.4 173.5h2.2v2.2h-2.2zM588.3 173.5h2.2v2.2h-2.2zM502.2 175.7h2.2v2.2h-2.2zM555.2 175.7h2.2v2.2h-2.2zM564.0 177.9h2.2v2.2h-2.2zM566.2 177.9h2.2v2.2h-2.2zM601.5 177.9h2.2v2.2h-2.2zM482.3 180.1h2.2v2.2h-2.2zM484.5 180.1h2.2v2.2h-2.2zM489.0 180.1h2.2v2.2h-2.2zM599.3 180.1h2.2v2.2h-2.2zM438.2 182.2h2.2v2.2h-2.2zM444.8 182.2h2.2v2.2h-2.2zM592.7 182.2h2.2v2.2h-2.2zM486.8 184.4h2.2v2.2h-2.2zM493.4 184.4h2.2v2.2h-2.2zM568.4 184.4h2.2v2.2h-2.2zM489.0 186.6h2.2v2.2h-2.2zM502.2 186.6h2.2v2.2h-2.2zM480.1 188.8h2.2v2.2h-2.2zM493.4 188.8h2.2v2.2h-2.2zM612.5 188.8h2.2v2.2h-2.2zM475.7 191.0h2.2v2.2h-2.2zM493.4 191.0h2.2v2.2h-2.2zM484.5 193.2h2.2v2.2h-2.2zM500.0 193.2h2.2v2.2h-2.2zM537.5 193.2h2.2v2.2h-2.2zM568.4 193.2h2.2v2.2h-2.2zM517.6 195.4h2.2v2.2h-2.2zM482.3 197.6h2.2v2.2h-2.2zM526.5 197.6h2.2v2.2h-2.2zM577.2 197.6h2.2v2.2h-2.2zM614.7 202.0h2.2v2.2h-2.2zM464.7 204.2h2.2v2.2h-2.2zM575.0 204.2h2.2v2.2h-2.2zM553.0 206.4h2.2v2.2h-2.2zM572.8 206.4h2.2v2.2h-2.2zM455.9 208.6h2.2v2.2h-2.2zM469.1 208.6h2.2v2.2h-2.2zM603.7 208.6h2.2v2.2h-2.2zM559.6 210.8h2.2v2.2h-2.2zM566.2 210.8h2.2v2.2h-2.2zM530.9 213.0h2.2v2.2h-2.2zM608.1 213.0h2.2v2.2h-2.2zM464.7 217.4h2.2v2.2h-2.2zM583.8 217.4h2.2v2.2h-2.2zM625.8 217.4h2.2v2.2h-2.2zM597.1 219.6h2.2v2.2h-2.2zM621.4 221.7h2.2v2.2h-2.2zM447.0 223.9h2.2v2.2h-2.2zM559.6 223.9h2.2v2.2h-2.2zM632.4 223.9h2.2v2.2h-2.2zM449.2 226.1h2.2v2.2h-2.2zM616.9 226.1h2.2v2.2h-2.2zM625.8 226.1h2.2v2.2h-2.2zM491.2 228.3h2.2v2.2h-2.2zM625.8 228.3h2.2v2.2h-2.2zM612.5 230.5h2.2v2.2h-2.2zM621.4 230.5h2.2v2.2h-2.2zM623.6 230.5h2.2v2.2h-2.2zM491.2 234.9h2.2v2.2h-2.2zM535.3 234.9h2.2v2.2h-2.2zM539.7 234.9h2.2v2.2h-2.2zM519.9 237.1h2.2v2.2h-2.2zM619.2 237.1h2.2v2.2h-2.2z" fill="#0000f6"/>
<path d="M628.0 41.8h2.2v2.2h-2.2zM537.5 44.0h2.2v2.2h-2.2zM480.1 46.2h2.2v2.2h-2.2zM610.3 46.2h2.2v2.2h-2.2zM628.0 46.2h2.2v2.2h-2.2zM632.4 46.2h2.2v2.2h-2.2zM464.7 48.4h2.2v2.2h-2.2zM533.1 50.6h2.2v2.2h-2.2zM619.2 50.6h2.2v2.2h-2.2zM455.9 52.8h2.2v2.2h-2.2zM508.8 52.8h2.2v2.2h-2.2zM544.1 52.8h2.2v2.2h-2.2zM601.5 52.8h2.2v2.2h-2.2zM623.6 55.0h2.2v2.2h-2.2zM447.0 61.5h2.2v2.2h-2.2zM628.0 63.7h2.2v2.2h-2.2zM442.6 70.3h2.2v2.2h-2.2zM506.6 70.3h2.2v2.2h-2.2zM466.9 72.5h2.2v2.2h-2.2zM533.1 72.5h2.2v2.2h-2.2zM621.4 72.5h2.2v2.2h-2.2zM480.1 79.1h2.2v2.2h-2.2zM440.4 85.7h2.2v2.2h-2.2zM473.5 85.7h2.2v2.2h-2.2zM579.4 85.7h2.2v2.2h-2.2zM566.2 87.9h2.2v2.2h-2.2zM486.8 92.3h2.2v2.2h-2.2zM575.0 92.3h2.2v2.2h-2.2zM588.3 94.5h2.2v2.2h-2.2zM577.2 96.7h2.2v2.2h-2.2zM581.6 98.9h2.2v2.2h-2.2zM586.1 107.6h2.2v2.2h-2.2zM464.7 112.0h2.2v2.2h-2.2zM447.0 114.2h2.2v2.2h-2.2zM546.3 118.6h2.2v2.2h-2.2zM555.2 127.4h2.2v2.2h-2.2zM621.4 129.6h2.2v2.2h-2.2zM630.2 136.2h2.2v2.2h-2.2zM444.8 138.4h2.2v2.2h-2.2zM466.9 138.4h2.2v2.2h-2.2zM601.5 140.6h2.2v2.2h-2.2zM623.6 140.6h2.2v2.2h-2.2zM438.2 142.7h2.2v2.2h-2.2zM447.0 149.3h2.2v2.2h-2.2zM513.2 151.5h2.2v2.2h-2.2zM522.1 160.3h2.2v2.2h-2.2zM621.4 164.7h2.2v2.2h-2.2zM603.7 166.9h2.2v2.2h-2.2zM482.3 171.3h2.2v2.2h-2.2zM486.8 180.1h2.2v2.2h-2.2zM491.2 182.2h2.2v2.2h-2.2zM480.1 184.4h2.2v2.2h-2.2zM493.4 186.6h2.2v2.2h-2.2zM581.6 186.6h2.2v2.2h-2.2zM502.2 191.0h2.2v2.2h-2.2zM489.0 193.2h2.2v2.2h-2.2zM594.9 193.2h2.2v2.2h-2.2zM628.0 193.2h2.2v2.2h-2.2zM588.3 199.8h2.2v2.2h-2.2zM447.0 206.4h2.2v2.2h-2.2zM535.3 206.4h2.2v2.2h-2.2zM601.5 206.4h2.2v2.2h-2.2zM561.8 208.6h2.2v2.2h-2.2zM625.8 208.6h2.2v2.2h-2.2zM440.4 215.2h2.2v2.2h-2.2zM621.4 217.4h2.2v2.2h-2.2zM444.8 223.9h2.2v2.2h-2.2zM466.9 226.1h2.2v2.2h-2.2zM524.3 226.1h2.2v2.2h-2.2zM559.6 226.1h2.2v2.2h-2.2zM612.5 226.1h2.2v2.2h-2.2zM449.2 228.3h2.2v2.2h-2.2zM535.3 228.3h2.2v2.2h-2.2zM603.7 230.5h2.2v2.2h-2.2zM436.0 232.7h2.2v2.2h-2.2zM440.4 232.7h2.2v2.2h-2.2zM458.1 232.7h2.2v2.2h-2.2zM588.3 232.7h2.2v2.2h-2.2zM530.9 234.9h2.2v2.2h-2.2zM440.4 237.1h2.2v2.2h-2.2z" fill="#0042ff"/>
<path d="M442.6 44.0h2.2v2.2h-2.2zM455.9 44.0h2.2v2.2h-2.2zM460.3 44.0h2.2v2.2h-2.2zM444.8 46.2h2.2v2.2h-2.2zM464.7 46.2h2.2v2.2h-2.2zM438.2 48.4h2.2v2.2h-2.2zM449.2 48.4h2.2v2.2h-2.2zM440.4 50.6h2.2v2.2h-2.2zM451.4 50.6h2.2v2.2h-2.2zM449.2 52.8h2.2v2.2h-2.2zM453.7 52.8h2.2v2.2h-2.2zM466.9 52.8h2.2v2.2h-2.2zM442.6 55.0h2.2v2.2h-2.2zM447.0 55.0h2.2v2.2h-2.2zM451.4 55.0h2.2v2.2h-2.2zM466.9 55.0h2.2v2.2h-2.2zM444.8 57.2h2.2v2.2h-2.2zM449.2 57.2h2.2v2.2h-2.2zM466.9 57.2h2.2v2.2h-2.2zM447.0 59.4h2.2v2.2h-2.2zM466.9 59.4h2.2v2.2h-2.2zM614.7 59.4h2.2v2.2h-2.2zM438.2 61.5h2.2v2.2h-2.2zM471.3 61.5h2.2v2.2h-2.2zM612.5 61.5h2.2v2.2h-2.2zM464.7 63.7h2.2v2.2h-2.2zM466.9 63.7h2.2v2.2h-2.2zM469.1 63.7h2.2v2.2h-2.2zM610.3 63.7h2.2v2.2h-2.2zM438.2 65.9h2.2v2.2h-2.2zM464.7 65.9h2.2v2.2h-2.2zM469.1 65.9h2.2v2.2h-2.2zM608.1 65.9h2.2v2.2h-2.2zM462.5 68.1h2.2v2.2h-2.2zM469.1 68.1h2.2v2.2h-2.2zM605.9 68.1h2.2v2.2h-2.2zM440.4 70.3h2.2v2.2h-2.2zM458.1 70.3h2.2v2.2h-2.2zM460.3 70.3h2.2v2.2h-2.2zM603.7 70.3h2.2v2.2h-2.2zM447.0 72.5h2.2v2.2h-2.2zM449.2 72.5h2.2v2.2h-2.2zM451.4 72.5h2.2v2.2h-2.2zM453.7 72.5h2.2v2.2h-2.2zM458.1 72.5h2.2v2.2h-2.2zM601.5 72.5h2.2v2.2h-2.2zM458.1 74.7h2.2v2.2h-2.2zM460.3 74.7h2.2v2.2h-2.2zM462.5 74.7h2.2v2.2h-2.2zM469.1 74.7h2.2v2.2h-2.2zM471.3 74.7h2.2v2.2h-2.2zM473.5 74.7h2.2v2.2h-2.2zM599.3 74.7h2.2v2.2h-2.2zM455.9 76.9h2.2v2.2h-2.2zM469.1 76.9h2.2v2.2h-2.2zM473.5 76.9h2.2v2.2h-2.2zM469.1 79.1h2.2v2.2h-2.2zM471.3 79.1h2.2v2.2h-2.2zM473.5 79.1h2.2v2.2h-2.2zM497.8 103.2h2.2v2.2h-2.2zM502.2 103.2h2.2v2.2h-2.2zM500.0 105.4h2.2v2.2h-2.2zM504.4 105.4h2.2v2.2h-2.2zM497.8 107.6h2.2v2.2h-2.2zM502.2 107.6h2.2v2.2h-2.2zM506.6 107.6h2.2v2.2h-2.2zM500.0 109.8h2.2v2.2h-2.2zM504.4 109.8h2.2v2.2h-2.2zM502.2 112.0h2.2v2.2h-2.2zM506.6 112.0h2.2v2.2h-2.2zM513.2 118.6h2.2v2.2h-2.2zM515.4 118.6h2.2v2.2h-2.2zM517.6 118.6h2.2v2.2h-2.2zM519.9 118.6h2.2v2.2h-2.2zM513.2 120.8h2.2v2.2h-2.2zM519.9 120.8h2.2v2.2h-2.2zM513.2 123.0h2.2v2.2h-2.2zM519.9 123.0h2.2v2.2h-2.2zM513.2 125.2h2.2v2.2h-2.2zM515.4 125.2h2.2v2.2h-2.2zM517.6 125.2h2.2v2.2h-2.2zM524.3 129.6h2.2v2.2h-2.2zM526.5 129.6h2.2v2.2h-2.2zM528.7 129.6h2.2v2.2h-2.2zM524.3 131.8h2.2v2.2h-2.2zM528.7 131.8h2.2v2.2h-2.2zM530.9 131.8h2.2v2.2h-2.2zM524.3 134.0h2.2v2.2h-2.2zM526.5 134.0h2.2v2.2h-2.2zM528.7 134.0h2.2v2.2h-2.2zM530.9 134.0h2.2v2.2h-2.2zM533.1 134.0h2.2v2.2h-2.2zM526.5 136.2h2.2v2.2h-2.2zM528.7 136.2h2.2v2.2h-2.2zM530.9 136.2h2.2v2.2h-2.2zM533.1 136.2h2.2v2.2h-2.2zM528.7 138.4h2.2v2.2h-2.2zM530.9 138.4h2.2v2.2h-2.2zM533.1 138.4h2.2v2.2h-2.2zM535.3 140.6h2.2v2.2h-2.2zM537.5 140.6h2.2v2.2h-2.2zM539.7 140.6h2.2v2.2h-2.2zM535.3 142.7h2.2v2.2h-2.2zM537.5 142.7h2.2v2.2h-2.2zM539.7 142.7h2.2v2.2h-2.2zM541.9 142.7h2.2v2.2h-2.2zM535.3 144.9h2.2v2.2h-2.2zM537.5 144.9h2.2v2.2h-2.2zM539.7 144.9h2.2v2.2h-2.2zM541.9 144.9h2.2v2.2h-2.2zM544.1 144.9h2.2v2.2h-2.2zM537.5 147.1h2.2v2.2h-2.2zM539.7 147.1h2.2v2.2h-2.2zM544.1 147.1h2.2v2.2h-2.2zM539.7 149.3h2.2v2.2h-2.2zM541.9 149.3h2.2v2.2h-2.2zM544.1 149.3h2.2v2.2h-2.2zM550.7 153.7h2.2v2.2h-2.2zM553.0 153.7h2.2v2.2h-2.2zM555.2 153.7h2.2v2.2h-2.2zM548.5 155.9h2.2v2.2h-2.2zM555.2 155.9h2.2v2.2h-2.2zM548.5 158.1h2.2v2.2h-2.2zM555.2 158.1h2.2v2.2h-2.2zM548.5 160.3h2.2v2.2h-2.2zM550.7 160.3h2.2v2.2h-2.2zM553.0 160.3h2.2v2.2h-2.2zM555.2 160.3h2.2v2.2h-2.2zM561.8 166.9h2.2v2.2h-2.2zM566.2 166.9h2.2v2.2h-2.2zM564.0 169.1h2.2v2.2h-2.2zM568.4 169.1h2.2v2.2h-2.2zM561.8 171.3h2.2v2.2h-2.2zM566.2 171.3h2.2v2.2h-2.2zM570.6 171.3h2.2v2.2h-2.2zM564.0 173.5h2.2v2.2h-2.2zM568.4 173.5h2.2v2.2h-2.2zM566.2 175.7h2.2v2.2h-2.2zM570.6 175.7h2.2v2.2h-2.2zM594.9 199.8h2.2v2.2h-2.2zM597.1 199.8h2.2v2.2h-2.2zM599.3 199.8h2.2v2.2h-2.2zM594.9 202.0h2.2v2.2h-2.2zM599.3 202.0h2.2v2.2h-2.2zM612.5 202.0h2.2v2.2h-2.2zM469.1 204.2h2.2v2.2h-2.2zM594.9 204.2h2.2v2.2h-2.2zM597.1 204.2h2.2v2.2h-2.2zM599.3 204.2h2.2v2.2h-2.2zM605.9 204.2h2.2v2.2h-2.2zM608.1 204.2h2.2v2.2h-2.2zM610.3 204.2h2.2v2.2h-2.2zM466.9 206.4h2.2v2.2h-2.2zM610.3 206.4h2.2v2.2h-2.2zM614.7 206.4h2.2v2.2h-2.2zM616.9 206.4h2.2v2.2h-2.2zM619.2 206.4h2.2v2.2h-2.2zM621.4 206.4h2.2v2.2h-2.2zM464.7 208.6h2.2v2.2h-2.2zM608.1 208.6h2.2v2.2h-2.2zM610.3 208.6h2.2v2.2h-2.2zM628.0 208.6h2.2v2.2h-2.2zM462.5 210.8h2.2v2.2h-2.2zM599.3 210.8h2.2v2.2h-2.2zM605.9 210.8h2.2v2.2h-2.2zM460.3 213.0h2.2v2.2h-2.2zM599.3 213.0h2.2v2.2h-2.2zM603.7 213.0h2.2v2.2h-2.2zM630.2 213.0h2.2v2.2h-2.2zM458.1 215.2h2.2v2.2h-2.2zM599.3 215.2h2.2v2.2h-2.2zM601.5 215.2h2.2v2.2h-2.2zM603.7 215.2h2.2v2.2h-2.2zM455.9 217.4h2.2v2.2h-2.2zM597.1 217.4h2.2v2.2h-2.2zM630.2 217.4h2.2v2.2h-2.2zM453.7 219.6h2.2v2.2h-2.2zM601.5 219.6h2.2v2.2h-2.2zM621.4 219.6h2.2v2.2h-2.2zM601.5 221.7h2.2v2.2h-2.2zM619.2 221.7h2.2v2.2h-2.2zM623.6 221.7h2.2v2.2h-2.2zM601.5 223.9h2.2v2.2h-2.2zM616.9 223.9h2.2v2.2h-2.2zM621.4 223.9h2.2v2.2h-2.2zM625.8 223.9h2.2v2.2h-2.2zM601.5 226.1h2.2v2.2h-2.2zM614.7 226.1h2.2v2.2h-2.2zM619.2 226.1h2.2v2.2h-2.2zM616.9 228.3h2.2v2.2h-2.2zM628.0 228.3h2.2v2.2h-2.2zM619.2 230.5h2.2v2.2h-2.2zM630.2 230.5h2.2v2.2h-2.2zM603.7 232.7h2.2v2.2h-2.2zM623.6 232.7h2.2v2.2h-2.2zM608.1 234.9h2.2v2.2h-2.2zM612.5 234.9h2.2v2.2h-2.2zM625.8 234.9h2.2v2.2h-2.2z" fill="#00feff"/>
<path d="M497.8 46.2h2.2v2.2h-2.2zM458.1 59.4h2.2v2.2h-2.2zM453.7 63.7h2.2v2.2h-2.2zM482.3 65.9h2.2v2.2h-2.2zM564.0 65.9h2.2v2.2h-2.2zM491.2 74.7h2.2v2.2h-2.2zM557.4 74.7h2.2v2.2h-2.2zM504.4 81.3h2.2v2.2h-2.2zM500.0 83.5h2.2v2.2h-2.2zM460.3 87.9h2.2v2.2h-2.2zM469.1 96.7h2.2v2.2h-2.2zM508.8 98.9h2.2v2.2h-2.2zM528.7 101.1h2.2v2.2h-2.2zM570.6 101.1h2.2v2.2h-2.2zM440.4 103.2h2.2v2.2h-2.2zM572.8 103.2h2.2v2.2h-2.2zM477.9 105.4h2.2v2.2h-2.2zM475.7 109.8h2.2v2.2h-2.2zM608.1 109.8h2.2v2.2h-2.2zM493.4 114.2h2.2v2.2h-2.2zM599.3 116.4h2.2v2.2h-2.2zM495.6 134.0h2.2v2.2h-2.2zM572.8 144.9h2.2v2.2h-2.2zM469.1 162.5h2.2v2.2h-2.2zM575.0 164.7h2.2v2.2h-2.2zM460.3 169.1h2.2v2.2h-2.2zM592.7 169.1h2.2v2.2h-2.2zM590.5 173.5h2.2v2.2h-2.2zM495.6 175.7h2.2v2.2h-2.2zM628.0 175.7h2.2v2.2h-2.2zM497.8 177.9h2.2v2.2h-2.2zM539.7 177.9h2.2v2.2h-2.2zM559.6 180.1h2.2v2.2h-2.2zM599.3 182.2h2.2v2.2h-2.2zM608.1 191.0h2.2v2.2h-2.2zM568.4 195.4h2.2v2.2h-2.2zM564.0 197.6h2.2v2.2h-2.2zM511.0 204.2h2.2v2.2h-2.2zM577.2 204.2h2.2v2.2h-2.2zM504.4 213.0h2.2v2.2h-2.2zM586.1 213.0h2.2v2.2h-2.2zM614.7 215.2h2.2v2.2h-2.2zM610.3 219.6h2.2v2.2h-2.2zM570.6 232.7h2.2v2.2h-2.2z" fill="#008dff"/>
<path d="M561.8 48.4h2.2v2.2h-2.2zM462.5 57.2h2.2v2.2h-2.2zM535.3 57.2h2.2v2.2h-2.2zM572.8 57.2h2.2v2.2h-2.2zM451.4 68.1h2.2v2.2h-2.2zM511.0 68.1h2.2v2.2h-2.2zM533.1 76.9h2.2v2.2h-2.2zM537.5 76.9h2.2v2.2h-2.2zM484.5 81.3h2.2v2.2h-2.2zM502.2 83.5h2.2v2.2h-2.2zM486.8 85.7h2.2v2.2h-2.2zM495.6 85.7h2.2v2.2h-2.2zM475.7 90.1h2.2v2.2h-2.2zM581.6 90.1h2.2v2.2h-2.2zM480.1 92.3h2.2v2.2h-2.2zM583.8 92.3h2.2v2.2h-2.2zM504.4 98.9h2.2v2.2h-2.2zM480.1 101.1h2.2v2.2h-2.2zM616.9 101.1h2.2v2.2h-2.2zM477.9 107.6h2.2v2.2h-2.2zM493.4 109.8h2.2v2.2h-2.2zM625.8 112.0h2.2v2.2h-2.2zM522.1 114.2h2.2v2.2h-2.2zM462.5 116.4h2.2v2.2h-2.2zM528.7 120.8h2.2v2.2h-2.2zM508.8 127.4h2.2v2.2h-2.2zM515.4 134.0h2.2v2.2h-2.2zM597.1 136.2h2.2v2.2h-2.2zM471.3 138.4h2.2v2.2h-2.2zM616.9 138.4h2.2v2.2h-2.2zM451.4 140.6h2.2v2.2h-2.2zM597.1 140.6h2.2v2.2h-2.2zM471.3 142.7h2.2v2.2h-2.2zM553.0 144.9h2.2v2.2h-2.2zM559.6 151.5h2.2v2.2h-2.2zM539.7 158.1h2.2v2.2h-2.2zM605.9 162.5h2.2v2.2h-2.2zM546.3 164.7h2.2v2.2h-2.2zM442.6 166.9h2.2v2.2h-2.2zM575.0 169.1h2.2v2.2h-2.2zM590.5 171.3h2.2v2.2h-2.2zM451.4 177.9h2.2v2.2h-2.2zM588.3 177.9h2.2v2.2h-2.2zM564.0 180.1h2.2v2.2h-2.2zM484.5 186.6h2.2v2.2h-2.2zM588.3 186.6h2.2v2.2h-2.2zM486.8 188.8h2.2v2.2h-2.2zM592.7 188.8h2.2v2.2h-2.2zM572.8 193.2h2.2v2.2h-2.2zM581.6 193.2h2.2v2.2h-2.2zM566.2 195.4h2.2v2.2h-2.2zM583.8 197.6h2.2v2.2h-2.2zM530.9 202.0h2.2v2.2h-2.2zM535.3 202.0h2.2v2.2h-2.2zM557.4 210.8h2.2v2.2h-2.2zM616.9 210.8h2.2v2.2h-2.2zM495.6 221.7h2.2v2.2h-2.2zM533.1 221.7h2.2v2.2h-2.2zM605.9 221.7h2.2v2.2h-2.2zM506.6 230.5h2.2v2.2h-2.2z" fill="#0068ff"/>
<path d="M495.6 61.5h2.2v2.2h-2.2zM495.6 63.7h2.2v2.2h-2.2zM517.6 70.3h2.2v2.2h-2.2zM493.4 79.1h2.2v2.2h-2.2zM495.6 79.1h2.2v2.2h-2.2zM508.8 87.9h2.2v2.2h-2.2zM508.8 90.1h2.2v2.2h-2.2zM508.8 92.3h2.2v2.2h-2.2zM473.5 98.9h2.2v2.2h-2.2zM502.2 98.9h2.2v2.2h-2.2zM455.9 101.1h2.2v2.2h-2.2zM458.1 101.1h2.2v2.2h-2.2zM473.5 101.1h2.2v2.2h-2.2zM533.1 101.1h2.2v2.2h-2.2zM506.6 103.2h2.2v2.2h-2.2zM513.2 105.4h2.2v2.2h-2.2zM493.4 107.6h2.2v2.2h-2.2zM524.3 109.8h2.2v2.2h-2.2zM497.8 112.0h2.2v2.2h-2.2zM530.9 112.0h2.2v2.2h-2.2zM482.3 114.2h2.2v2.2h-2.2zM484.5 114.2h2.2v2.2h-2.2zM486.8 114.2h2.2v2.2h-2.2zM519.9 114.2h2.2v2.2h-2.2zM519.9 116.4h2.2v2.2h-2.2zM500.0 118.6h2.2v2.2h-2.2zM464.7 123.0h2.2v2.2h-2.2zM508.8 125.2h2.2v2.2h-2.2zM511.0 125.2h2.2v2.2h-2.2zM519.9 125.2h2.2v2.2h-2.2zM504.4 129.6h2.2v2.2h-2.2zM506.6 136.2h2.2v2.2h-2.2zM495.6 138.4h2.2v2.2h-2.2zM572.8 140.6h2.2v2.2h-2.2zM561.8 142.7h2.2v2.2h-2.2zM564.0 149.3h2.2v2.2h-2.2zM548.5 153.7h2.2v2.2h-2.2zM557.4 153.7h2.2v2.2h-2.2zM559.6 153.7h2.2v2.2h-2.2zM603.7 155.9h2.2v2.2h-2.2zM568.4 160.3h2.2v2.2h-2.2zM548.5 162.5h2.2v2.2h-2.2zM548.5 164.7h2.2v2.2h-2.2zM581.6 164.7h2.2v2.2h-2.2zM583.8 164.7h2.2v2.2h-2.2zM586.1 164.7h2.2v2.2h-2.2zM537.5 166.9h2.2v2.2h-2.2zM570.6 166.9h2.2v2.2h-2.2zM544.1 169.1h2.2v2.2h-2.2zM575.0 171.3h2.2v2.2h-2.2zM555.2 173.5h2.2v2.2h-2.2zM561.8 175.7h2.2v2.2h-2.2zM535.3 177.9h2.2v2.2h-2.2zM594.9 177.9h2.2v2.2h-2.2zM610.3 177.9h2.2v2.2h-2.2zM612.5 177.9h2.2v2.2h-2.2zM566.2 180.1h2.2v2.2h-2.2zM594.9 180.1h2.2v2.2h-2.2zM559.6 186.6h2.2v2.2h-2.2zM559.6 188.8h2.2v2.2h-2.2zM559.6 191.0h2.2v2.2h-2.2zM572.8 199.8h2.2v2.2h-2.2zM575.0 199.8h2.2v2.2h-2.2zM550.7 208.6h2.2v2.2h-2.2zM572.8 215.2h2.2v2.2h-2.2zM572.8 217.4h2.2v2.2h-2.2z" fill="#00d8ff"/>
<path d="M597.1 76.9h2.2v2.2h-2.2zM471.3 202.0h2.2v2.2h-2.2z" fill="#00b3ff"/>
<path d="M594.9 79.1h2.2v2.2h-2.2zM473.5 199.8h2.2v2.2h-2.2z" fill="#f00000"/>
<path d="M475.7 81.3h2.2v2.2h-2.2zM477.9 81.3h2.2v2.2h-2.2zM480.1 81.3h2.2v2.2h-2.2zM475.7 83.5h2.2v2.2h-2.2zM480.1 83.5h2.2v2.2h-2.2zM475.7 85.7h2.2v2.2h-2.2zM477.9 85.7h2.2v2.2h-2.2zM480.1 85.7h2.2v2.2h-2.2zM588.3 193.2h2.2v2.2h-2.2zM590.5 193.2h2.2v2.2h-2.2zM592.7 193.2h2.2v2.2h-2.2zM588.3 195.4h2.2v2.2h-2.2zM592.7 195.4h2.2v2.2h-2.2zM588.3 197.6h2.2v2.2h-2.2zM590.5 197.6h2.2v2.2h-2.2zM592.7 197.6h2.2v2.2h-2.2z" fill="#95ff69"/>
<path d="M482.3 87.9h2.2v2.2h-2.2zM484.5 87.9h2.2v2.2h-2.2zM486.8 87.9h2.2v2.2h-2.2zM482.3 90.1h2.2v2.2h-2.2zM482.3 92.3h2.2v2.2h-2.2zM489.0 92.3h2.2v2.2h-2.2zM486.8 94.5h2.2v2.2h-2.2zM489.0 94.5h2.2v2.2h-2.2zM579.4 184.4h2.2v2.2h-2.2zM581.6 184.4h2.2v2.2h-2.2zM579.4 186.6h2.2v2.2h-2.2zM586.1 186.6h2.2v2.2h-2.2zM586.1 188.8h2.2v2.2h-2.2zM581.6 191.0h2.2v2.2h-2.2zM583.8 191.0h2.2v2.2h-2.2zM586.1 191.0h2.2v2.2h-2.2z" fill="#4affb4"/>
<path d="M489.0 87.9h2.2v2.2h-2.2zM482.3 94.5h2.2v2.2h-2.2zM586.1 184.4h2.2v2.2h-2.2zM579.4 191.0h2.2v2.2h-2.2z" fill="#ff8700"/>
<path d="M489.0 90.1h2.2v2.2h-2.2zM484.5 94.5h2.2v2.2h-2.2zM583.8 184.4h2.2v2.2h-2.2zM579.4 188.8h2.2v2.2h-2.2z" fill="#ff6100"/>
<path d="M491.2 94.5h2.2v2.2h-2.2zM493.4 94.5h2.2v2.2h-2.2zM489.0 96.7h2.2v2.2h-2.2zM493.4 96.7h2.2v2.2h-2.2zM489.0 98.9h2.2v2.2h-2.2zM491.2 98.9h2.2v2.2h-2.2zM493.4 98.9h2.2v2.2h-2.2zM575.0 180.1h2.2v2.2h-2.2zM577.2 180.1h2.2v2.2h-2.2zM579.4 180.1h2.2v2.2h-2.2zM575.0 182.2h2.2v2.2h-2.2zM579.4 182.2h2.2v2.2h-2.2zM575.0 184.4h2.2v2.2h-2.2zM577.2 184.4h2.2v2.2h-2.2z" fill="#ffd200"/>
<path d="M515.4 120.8h2.2v2.2h-2.2zM517.6 120.8h2.2v2.2h-2.2zM515.4 123.0h2.2v2.2h-2.2zM517.6 123.0h2.2v2.2h-2.2zM550.7 155.9h2.2v2.2h-2.2zM553.0 155.9h2.2v2.2h-2.2zM550.7 158.1h2.2v2.2h-2.2zM553.0 158.1h2.2v2.2h-2.2z" fill="#a50000"/>
</g>
<text x="478.5" y="254.3" font-size="12.80" text-anchor="middle" font-weight="normal" fill="#4d4d4d">20</text>
<text x="432.0" y="88.1" font-size="12.80" text-anchor="end" font-weight="normal" fill="#4d4d4d">20</text>
<text x="522.5" y="254.3" font-size="12.80" text-anchor="middle" font-weight="normal" fill="#4d4d4d">40</text>
<text x="432.0" y="131.9" font-size="12.80" text-anchor="end" font-weight="normal" fill="#4d4d4d">40</text>
<text x="566.5" y="254.3" font-size="12.80" text-anchor="middle" font-weight="normal" fill="#4d4d4d">60</text>
<text x="432.0" y="175.7" font-size="12.80" text-anchor="end" font-weight="normal" fill="#4d4d4d">60</text>
<text x="610.5" y="254.3" font-size="12.80" text-anchor="middle" font-weight="normal" fill="#4d4d4d">80</text>
<text x="432.0" y="219.5" font-size="12.80" text-anchor="end" font-weight="normal" fill="#4d4d4d">80</text>
<text x="534.9" y="269.1" font-size="12.90" text-anchor="middle" font-weight="normal" fill="#4d4d4d">Brain area</text>
<text transform="translate(412.7,140) rotate(-90)" font-size="12.8" text-anchor="middle" fill="#4d4d4d">Brain area</text>
<rect x="641.2" y="42" width="11" height="66.7" fill="url(#jet)" stroke="#333" stroke-width="0.6"/>
<text x="656.5" y="46.2" font-size="11.40" text-anchor="start" font-weight="normal" fill="#4d4d4d">0.2</text>
<text x="656.5" y="78.8" font-size="11.40" text-anchor="start" font-weight="normal" fill="#4d4d4d">0.1</text>
<text x="656.5" y="112.2" font-size="11.40" text-anchor="start" font-weight="normal" fill="#4d4d4d">0</text>
<text x="541.9" y="302.9" font-size="13.40" text-anchor="middle" font-weight="bold" fill="#111" textLength="96" lengthAdjust="spacing">SC vs FC state</text>
<path d="M452.3 304.9V501.1H646.7" stroke="#444" stroke-width="1.1" fill="none"/>
<rect x="471.2" y="441.4" width="26.2" height="59.7" fill="#ff2a00" stroke="#222" stroke-width="0.8"/>
<text x="484.3" y="515.0" font-size="12.00" text-anchor="middle" font-weight="normal" fill="#4d4d4d">1</text>
<rect x="503.7" y="400.5" width="26.2" height="100.6" fill="#ffff00" stroke="#222" stroke-width="0.8"/>
<text x="516.8" y="515.0" font-size="12.00" text-anchor="middle" font-weight="normal" fill="#4d4d4d">2</text>
<rect x="536.1" y="356.5" width="26.2" height="144.6" fill="#00ee00" stroke="#222" stroke-width="0.8"/>
<text x="549.2" y="515.0" font-size="12.00" text-anchor="middle" font-weight="normal" fill="#4d4d4d">3</text>
<rect x="568.6" y="336.0" width="26.2" height="165.1" fill="#00ffff" stroke="#222" stroke-width="0.8"/>
<text x="581.7" y="515.0" font-size="12.00" text-anchor="middle" font-weight="normal" fill="#4d4d4d">4</text>
<rect x="601.1" y="345.5" width="26.2" height="155.6" fill="#0030ff" stroke="#222" stroke-width="0.8"/>
<text x="614.2" y="515.0" font-size="12.00" text-anchor="middle" font-weight="normal" fill="#4d4d4d">5</text>
<path d="M452.3 501.1h3" stroke="#444" stroke-width="0.9"/>
<text x="448.0" y="505.4" font-size="12.00" text-anchor="end" font-weight="normal" fill="#4d4d4d">0.3</text>
<path d="M452.3 461.8h3" stroke="#444" stroke-width="0.9"/>
<text x="448.0" y="466.1" font-size="12.00" text-anchor="end" font-weight="normal" fill="#4d4d4d">0.35</text>
<path d="M452.3 422.5h3" stroke="#444" stroke-width="0.9"/>
<text x="448.0" y="426.8" font-size="12.00" text-anchor="end" font-weight="normal" fill="#4d4d4d">0.4</text>
<path d="M452.3 383.2h3" stroke="#444" stroke-width="0.9"/>
<text x="448.0" y="387.5" font-size="12.00" text-anchor="end" font-weight="normal" fill="#4d4d4d">0.45</text>
<path d="M452.3 343.9h3" stroke="#444" stroke-width="0.9"/>
<text x="448.0" y="348.2" font-size="12.00" text-anchor="end" font-weight="normal" fill="#4d4d4d">0.5</text>
<path d="M452.3 304.6h3" stroke="#444" stroke-width="0.9"/>
<text x="448.0" y="308.9" font-size="12.00" text-anchor="end" font-weight="normal" fill="#4d4d4d">0.55</text>
<text x="549.5" y="529.0" font-size="12.00" text-anchor="middle" font-weight="normal" fill="#4d4d4d">State #</text>
<text transform="translate(418.3,402.3) rotate(-90)" font-size="12" text-anchor="middle" fill="#4d4d4d">Cosine similarity</text>
</svg>
</body></html>
